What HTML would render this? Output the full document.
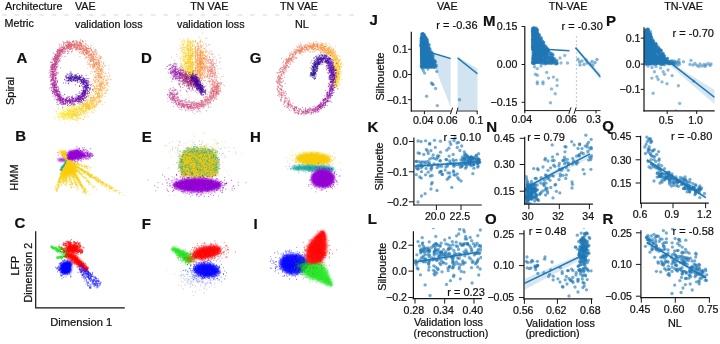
<!DOCTYPE html>
<html><head><meta charset="utf-8"><style>
html,body{margin:0;padding:0;background:#fff;width:720px;height:344px;overflow:hidden}
svg{display:block;will-change:transform}
text{font-family:"Liberation Sans",sans-serif;fill:#111;stroke:#111;stroke-width:0.22px}
</style></head><body>
<svg width="720" height="344" viewBox="0 0 720 344">
<rect width="720" height="344" fill="#fff"/>
<line x1="2.2" y1="15" x2="354" y2="15" stroke="#cdcdcd" stroke-width="0.8" stroke-dasharray="4.5 7.9"/>
<text x="5.0" y="9.8" font-size="10.75">Architecture</text>
<text x="4.5" y="27.3" font-size="10.75">Metric</text>
<text x="75.0" y="10.0" font-size="10.75">VAE</text>
<text x="75.0" y="27.8" font-size="10.75">validation loss</text>
<text x="190.3" y="10.0" font-size="10.75">TN VAE</text>
<text x="177.0" y="27.8" font-size="10.75">validation loss</text>
<text x="280.0" y="10.0" font-size="10.75">TN VAE</text>
<text x="294.9" y="27.8" font-size="10.75">NL</text>
<text x="16.4" y="63.1" font-size="15" font-weight="bold">A</text>
<text x="15.2" y="141.4" font-size="15" font-weight="bold">B</text>
<text x="14.5" y="228.2" font-size="15" font-weight="bold">C</text>
<text x="140.9" y="63.1" font-size="15" font-weight="bold">D</text>
<text x="141.7" y="141.6" font-size="15" font-weight="bold">E</text>
<text x="141.7" y="229.2" font-size="15" font-weight="bold">F</text>
<text x="249.8" y="63.2" font-size="15" font-weight="bold">G</text>
<text x="250.0" y="141.6" font-size="15" font-weight="bold">H</text>
<text x="253.4" y="229.2" font-size="15" font-weight="bold">I</text>
<text x="369.6" y="25.4" font-size="15" font-weight="bold">J</text>
<text x="483.1" y="26.0" font-size="15" font-weight="bold">M</text>
<text x="606.0" y="25.5" font-size="15" font-weight="bold">P</text>
<text x="367.6" y="131.7" font-size="15" font-weight="bold">K</text>
<text x="486.3" y="131.9" font-size="15" font-weight="bold">N</text>
<text x="602.2" y="130.6" font-size="15" font-weight="bold">Q</text>
<text x="367.7" y="224.1" font-size="15" font-weight="bold">L</text>
<text x="485.1" y="224.1" font-size="15" font-weight="bold">O</text>
<text x="602.5" y="224.3" font-size="15" font-weight="bold">R</text>
<text x="14.2" y="91.0" font-size="11.0" text-anchor="middle" transform="rotate(-90 14.2 91.0)">Spiral</text>
<text x="17.8" y="177.5" font-size="11.0" text-anchor="middle" transform="rotate(-90 17.8 177.5)">HMM</text>
<text x="19.2" y="265.6" font-size="10.75" text-anchor="middle" transform="rotate(-90 19.2 265.6)">LFP</text>
<text x="32.0" y="272.7" font-size="10.75" text-anchor="middle" transform="rotate(-90 32.0 272.7)">Dimension 2</text>
<path d="M35.7 231.2V307.9H124.8" fill="none" stroke="#111" stroke-width="1.2"/>
<text x="50.3" y="326.3" font-size="11.15">Dimension 1</text>
<text x="437.0" y="9.8" font-size="10.75">VAE</text>
<text x="548.7" y="10.0" font-size="10.75">TN-VAE</text>
<text x="664.2" y="10.0" font-size="10.75">TN-VAE</text>
<clipPath id="c1"><rect x="411.8" y="28" width="39.0" height="82.5"/></clipPath>
<path clip-path="url(#c1)" d="M421.0 49.6L450.8 57.4L450.8 107.5L432.0 60.0L421.0 53.0Z" fill="#1f77b4" fill-opacity="0.2"/>
<g clip-path="url(#c1)">
<path transform="scale(.1)" d="M4236 356h0m-16-16h0m-1-1h0m4 63h0m5-3h0m1-14h0m1-2h0m4 27h0m11-30h0m15 36h0m5-17h0m9 57h0m-4-17h0m-1 7h0m-4 26h0m-1-37h0m-3-1h0m-5-3h0m-2 41h0m-3-9h0m-8-16h0m-6 4h0m-3-15h0m-1 25h0m-2-21h0m-5 20h0m-1-35h0m-1 41h0m-3 0h0m-7 12h0m9 57h0m4-48h0m1 51h0m9-19h0m2-31h0m6 40h0m3-16h0m1-28h0m0 13h0m8 8h0m4 6h0m3-9h0m7 13h0m0-26h0m2-7h0m4 26h0m1-13h0m8 40h0m4-15h0m11 18h0m7-8h0m13 38h0m-11 24h0m-14 7h0m-2-24h0m-5 24h0m-4 0h0m-5-51h0m-1-5h0m-2 46h0m-9 8h0m-5-25h0m-7-5h0m-7 27h0m-2-32h0m-4-12h0m-6 41h0m-3 1h0m-3-48h0m-1 17h0m-14 13h0m6 66h0m0-36h0m5 51h0m5-36h0m1 39h0m2-31h0m2 13h0m8-1h0m3-23h0m5 38h0m9-27h0m1 4h0m7-16h0m2 11h0m4 20h0m2-37h0m1 27h0m13 21h0m9-23h0m11-9h0m0 31h0m4-20h0m16 23h0m6-19h0m6 20h0m-2 15h0m-32-9h0m-42-5h0m-15 11h0" stroke="#1f77b4" stroke-width="32.0" stroke-linecap="round" stroke-opacity="0.62" fill="none"/>
<path transform="scale(.1)" d="M4231 338h0m-10 20h0m4 27h0m2-5h0m1-13h0m1 51h0m5-34h0m2 12h0m4 6h0m0-25h0m4-15h0m5 53h0m5-13h0m22 66h0m-7-12h0m-2 5h0m-5-28h0m-13 29h0m-10-13h0m-8-4h0m-14 28h0m-1-32h0m0-3h0m-4-12h0m3 86h0m1 6h0m4 15h0m16-17h0m9 16h0m0-45h0m3 29h0m2 5h0m6-2h0m8-24h0m18 14h0m5 7h0m8 11h0m12 5h0m1-2h0m5 1h0m-3 56h0m0-35h0m-13 12h0m-7 19h0m-3-39h0m-27 30h0m-8-33h0m-7 20h0m-19 3h0m-6 4h0m-3-12h0m-1-11h0m-1 84h0m7 10h0m2-17h0m1-4h0m3 9h0m21-18h0m3 1h0m16 39h0m4-6h0m17-11h0m10 8h0m3-19h0m0 27h0m4-28h0m4-20h0m1 29h0m3 10h0m12 8h0m3 10h0m4-24h0m10-22h0m8 13h0m-68 38h0m-17 2h0m-2 3h0m-46 6h0m-1-12h0" stroke="#1f77b4" stroke-width="32.0" stroke-linecap="round" stroke-opacity="0.62" fill="none"/>
<path transform="scale(.1)" d="M4232 355h0m0-6h0m-4 26h0m1 37h0m2-34h0m1 20h0m4 17h0m1-35h0m1 38h0m6-4h0m3-46h0m2 37h0m1-15h0m12-15h0m28 101h0m-2-25h0m-11-12h0m-16 6h0m-3-13h0m-1 16h0m-10-7h0m-8 7h0m-4 16h0m-3-25h0m-2 31h0m-10-16h0m-10-16h0m6 75h0m7-24h0m1 19h0m1-26h0m8 56h0m2 0h0m2 0h0m0-54h0m4 47h0m4 7h0m13-26h0m2-11h0m10-16h0m5 23h0m5-16h0m7 43h0m2-4h0m0-22h0m2 14h0m0-2h0m4-14h0m11 22h0m4-13h0m4 78h0m-5-35h0m-2-19h0m-4 19h0m-7-19h0m0 13h0m-1 15h0m-1-12h0m-17 41h0m-1-4h0m-14-4h0m-13-22h0m-2-23h0m-18 19h0m-3 32h0m-11-12h0m-2-23h0m0-16h0m5 77h0m6 35h0m3-5h0m0-44h0m2 41h0m11-24h0m10-3h0m1 9h0m4-15h0m14-5h0m12 18h0m17 1h0m3 17h0m8 4h0m9-28h0m2-6h0m9 20h0m5 19h0m1-32h0m6 50h0m-10-4h0m-5-6h0m-13 9h0m-3-9h0m-8 10h0m-7-10h0m-4 4h0m-9 7h0m-8-12h0m-44 3h0m-10 0h0m-5-4h0" stroke="#1f77b4" stroke-width="32.0" stroke-linecap="round" stroke-opacity="0.62" fill="none"/>
<path transform="scale(.1)" d="M4234 354h0m-6-15h0m-12 39h0m6-12h0m3 23h0m1-20h0m2 6h0m1-9h0m4 50h0m6-23h0m17-13h0m35 67h0m-25 8h0m-15-30h0m-6 4h0m-6-9h0m-4 44h0m-4-24h0m-10 9h0m-2 1h0m0 1h0m-4 28h0m-1 5h0m1 5h0m0 29h0m2 10h0m0-40h0m4 39h0m7 1h0m1 8h0m7-39h0m3-10h0m1 13h0m8 33h0m2-27h0m2 14h0m1-6h0m0 1h0m2-16h0m1 30h0m1-14h0m9-29h0m1 52h0m7-8h0m1-1h0m4-23h0m2 27h0m1-14h0m5 9h0m12-29h0m0 36h0m10-4h0m21 45h0m-2 12h0m-9 5h0m0-23h0m-12 3h0m-13-11h0m-5 6h0m-5-5h0m-18 24h0m-3-15h0m-2 19h0m-2-49h0m0 31h0m-7 16h0m-4-7h0m-6 0h0m-9 17h0m-3-9h0m-10-43h0m-1 6h0m-2 66h0m1-6h0m2 25h0m9-12h0m2-22h0m6 41h0m0-16h0m8-29h0m11 53h0m3-43h0m3-8h0m6 35h0m2-34h0m11 52h0m1 4h0m12-23h0m12-34h0m7 28h0m5 19h0m46 4h0m-67 8h0m-16 3h0m-3 4h0m-31-1h0m-8-6h0m-17 4h0" stroke="#1f77b4" stroke-width="32.0" stroke-linecap="round" stroke-opacity="0.62" fill="none"/>
<path transform="scale(.1)" d="M4230 336h0m-5 6h0m-1 3h0m-10 34h0m0 27h0m7 2h0m1-15h0m1 1h0m0 16h0m4-35h0m4-11h0m5 13h0m1 40h0m2-54h0m0 41h0m6-43h0m6 51h0m4-35h0m21 44h0m-20 15h0m-1 40h0m-4-22h0m-9-3h0m-2-20h0m-2-9h0m-4 11h0m-1 22h0m-5-31h0m-4 46h0m-6-35h0m-1 28h0m-3-12h0m-1-3h0m0-5h0m4 44h0m1 21h0m1 10h0m9-33h0m0 23h0m10 25h0m2-7h0m1-46h0m1 25h0m3 4h0m5 3h0m4-4h0m4-27h0m7-1h0m0 38h0m0-22h0m6 40h0m8 1h0m8-28h0m2 10h0m1-26h0m38 55h0m-4 50h0m-1-11h0m-22-18h0m-6-23h0m-5-3h0m-2 51h0m-4-33h0m0-19h0m-19 37h0m-2-12h0m0 4h0m-1-20h0m-9-7h0m-11 55h0m-1-7h0m-4-3h0m-2-21h0m-5 27h0m-4-55h0m-11 12h0m7 67h0m2 12h0m0 8h0m3-38h0m10 38h0m1 10h0m5-10h0m4-15h0m9-4h0m3 6h0m2 19h0m5-26h0m4 21h0m5-5h0m1 2h0m3-31h0m8 11h0m23 39h0m0-20h0m3-27h0m7 42h0m1-29h0m5-5h0m28-4h0m-93 59h0m-48-8h0" stroke="#1f77b4" stroke-width="32.0" stroke-linecap="round" stroke-opacity="0.62" fill="none"/>
<path transform="scale(.1)" d="M4219 340h0m-7 47h0m3 27h0m3-16h0m2-20h0m2 17h0m6 6h0m2 7h0m3-22h0m1-24h0m1 38h0m1-27h0m2 20h0m3 6h0m1-22h0m3 8h0m0 26h0m2-46h0m1 36h0m14-3h0m20 69h0m-4 2h0m-9-46h0m-9 17h0m-5-14h0m-7-2h0m-1 9h0m-3-9h0m-1 40h0m-5 3h0m-2-33h0m-7 2h0m-1 28h0m-1-14h0m-2-17h0m-4 21h0m-3-30h0m-3 22h0m-1 20h0m-8-8h0m8 45h0m0 10h0m2 14h0m4-40h0m3 42h0m1-33h0m0-15h0m6 54h0m6-13h0m3-5h0m3 5h0m2-3h0m10-22h0m4-15h0m4 27h0m4-20h0m6-6h0m25 39h0m3-36h0m6 43h0m4-4h0m10 1h0m-5 17h0m-6 9h0m-4 30h0m-7-36h0m-6 30h0m-7-9h0m-5 16h0m-1-36h0m-1-6h0m-3 22h0m-3 36h0m0-51h0m-23 0h0m-5 7h0m-3-8h0m-2-3h0m-1 18h0m-3-16h0m-5 34h0m-1-20h0m-1 23h0m0-39h0m-6 14h0m-2 7h0m-2 54h0m1-10h0m6 15h0m1 27h0m17-1h0m1-7h0m3-14h0m5-9h0m0 19h0m3 11h0m13-3h0m19 7h0m21-30h0m7-16h0m1 26h0m22 7h0m6-32h0m-52 52h0m-6-1h0m-27 1h0m-4 9h0m-7 1h0m-12-1h0m-3-3h0m-1-4h0m-2 8h0m-11-10h0" stroke="#1f77b4" stroke-width="32.0" stroke-linecap="round" stroke-opacity="0.62" fill="none"/>
<path transform="scale(.1)" d="M4245 348h0m-7 7h0m-1-5h0m-9-5h0m-17 70h0m4-37h0m3 28h0m1-5h0m9 15h0m0-44h0m1 4h0m2 29h0m15 12h0m25-13h0m2-8h0m-6 39h0m-14-12h0m-1 6h0m-6 43h0m-2-28h0m-2 31h0m0-37h0m-1 30h0m-5 6h0m-1-10h0m0-14h0m-4-27h0m0 55h0m-9-44h0m-6-10h0m-3 103h0m2-2h0m1-25h0m6 18h0m2 11h0m1-11h0m1-13h0m0-18h0m6 0h0m3 20h0m2 16h0m0-38h0m2-3h0m1 34h0m6-8h0m1 5h0m5-14h0m1 13h0m2 21h0m11-20h0m6 3h0m4-32h0m3 7h0m7 41h0m12 4h0m33 19h0m-2 32h0m-42-38h0m-13 1h0m-11-6h0m-6 43h0m-2-15h0m-10-29h0m-5 43h0m0-39h0m-4 0h0m-6-4h0m-3 17h0m-3 7h0m-3 27h0m-5-21h0m0 17h0m0 33h0m11 21h0m5-42h0m9 5h0m0 40h0m2-34h0m6 1h0m2 45h0m9-19h0m6-21h0m14-8h0m6 47h0m1-41h0m1-2h0m11-1h0m2 8h0m0 37h0m3-52h0m15 30h0m6 15h0m12-50h0m-14 59h0m-31 4h0m-21-4h0" stroke="#1f77b4" stroke-width="32.0" stroke-linecap="round" stroke-opacity="0.62" fill="none"/>
<path transform="scale(.1)" d="M4230 355h0m-9 3h0m-9 30h0m0 17h0m3 8h0m1-46h0m4 51h0m1-10h0m4-4h0m2-15h0m4 13h0m3 3h0m3 0h0m4-28h0m1 25h0m1-32h0m3 6h0m1 28h0m3 15h0m8-14h0m4-10h0m3 22h0m6-13h0m12 74h0m-12-56h0m-6 19h0m-4-15h0m-9 25h0m-1 18h0m-5-22h0m-1 31h0m-1-3h0m-6-50h0m-7 13h0m-3-17h0m-1 45h0m-8-5h0m-4-21h0m-1 32h0m-2-17h0m2 53h0m1 17h0m3-3h0m11-3h0m6-14h0m4 22h0m10-22h0m1-8h0m2 26h0m6-31h0m5 30h0m6-41h0m9 55h0m28 26h0m-13 29h0m-4 3h0m-9-51h0m-4 30h0m-6-20h0m-3 3h0m-1 15h0m-12-21h0m-3 47h0m-1-16h0m-2-27h0m-6 26h0m-1-29h0m-1-1h0m-1 38h0m-17-14h0m-3-19h0m0-1h0m-1-6h0m-1 44h0m-1-1h0m-2-7h0m-2 69h0m2-48h0m9 23h0m3 6h0m7-8h0m2 25h0m5-14h0m1-24h0m5-9h0m8 12h0m1-11h0m5 21h0m1-23h0m7 11h0m2 13h0m8 27h0m1-19h0m4-24h0m0 46h0m3-52h0m5 36h0m0-27h0m1 37h0m8-8h0m4-7h0m4 16h0m22-51h0m18 32h0m1 24h0m1-34h0m10 47h0m-7-4h0m-45 1h0m-34-6h0m-6 0h0m-43 8h0" stroke="#1f77b4" stroke-width="32.0" stroke-linecap="round" stroke-opacity="0.62" fill="none"/>
</g>
<g clip-path="url(#c1)" fill="#1f77b4" fill-opacity="0.55"><circle cx="423.4" cy="70.7" r="1.7"/><circle cx="424.6" cy="73.1" r="1.7"/><circle cx="432" cy="67" r="1.7"/><circle cx="435.6" cy="65.8" r="1.7"/><circle cx="436.8" cy="71.4" r="1.7"/><circle cx="431.5" cy="82.9" r="1.7"/><circle cx="433.2" cy="84.6" r="1.7"/><circle cx="432.2" cy="84" r="1.7"/><circle cx="435.6" cy="88.5" r="1.7"/><circle cx="426.6" cy="96.3" r="1.7"/><circle cx="437.3" cy="105.6" r="1.7"/><circle cx="422.5" cy="68.5" r="1.7"/><circle cx="428" cy="69" r="1.7"/></g>
<line clip-path="url(#c1)" x1="421" y1="49.5" x2="450.8" y2="58.6" stroke="#1f77b4" stroke-width="1.5"/>
<clipPath id="c2"><rect x="457.4" y="28" width="20.30000000000001" height="82.5"/></clipPath>
<path clip-path="url(#c2)" d="M457.4 56.2L477.7 69.0L477.7 111.0L457.4 111.0Z" fill="#1f77b4" fill-opacity="0.2"/>
<g clip-path="url(#c2)" fill="#1f77b4" fill-opacity="0.55"><circle cx="459.5" cy="99.8" r="1.7"/></g>
<line clip-path="url(#c2)" x1="457.4" y1="57.8" x2="477.7" y2="74.0" stroke="#1f77b4" stroke-width="1.5"/>
<clipPath id="c3"><rect x="525.3" y="22" width="44.5" height="88.1"/></clipPath>
<g clip-path="url(#c3)">
<path transform="scale(.1)" d="M5331 281h0m8 5h0m56 68h0m-2-8h0m-14-1h0m-12-21h0m-13 34h0m-1-17h0m-9-16h0m-2-13h0m-1 20h0m-5 5h0m-3-6h0m-4-27h0m-2 37h0m-1-3h0m4 46h0m7-2h0m10 24h0m5-28h0m5 1h0m1-11h0m0 6h0m11 37h0m4-3h0m1-42h0m2 17h0m13-5h0m22-2h0m45 83h0m-6 16h0m-20-35h0m-15-8h0m-23 13h0m-1 15h0m-7-6h0m-7 18h0m-1-23h0m-8 21h0m-2-20h0m-6 11h0m-12-30h0m-7 44h0m-13-30h0m-3-11h0m-1-7h0m2 56h0m33 13h0m5 18h0m2-31h0m6 35h0m5-18h0m7-13h0m0 15h0m4 7h0m7-26h0m4 54h0m1-42h0m18 21h0m5 23h0m7-27h0m5 12h0m7 13h0m11-13h0m20 7h0m34 21h0m-40 31h0m-26 14h0m-23-1h0m-14-27h0m-2-3h0m-1 2h0m-1 31h0m-8-28h0m0 28h0m-9-28h0m-2 8h0m0-38h0m-1 13h0m-3 2h0m-3-16h0m-2 17h0m-6 37h0m-7-54h0m-9 4h0m-1 23h0m-14 17h0m0-34h0m-3 25h0m-1 18h0m3 23h0m40 7h0m14-8h0m9-10h0m65 23h0m61-11h0m7-4h0m31 0h0" stroke="#1f77b4" stroke-width="32.0" stroke-linecap="round" stroke-opacity="0.6" fill="none"/>
<path transform="scale(.1)" d="M5326 285h0m38-3h0m10 53h0m-4 0h0m-2 11h0m-2-45h0m-4 26h0m-3-2h0m-2-12h0m-1 37h0m-1-45h0m-3-5h0m0 4h0m-9 40h0m-6-32h0m-3 3h0m-3 12h0m-2-15h0m-4 96h0m4-46h0m8 19h0m0-9h0m13-6h0m1 51h0m4-50h0m0-5h0m9 49h0m1-50h0m7 32h0m7-7h0m4 8h0m12-4h0m7 24h0m33 43h0m-21 6h0m-3 16h0m-27-37h0m0 24h0m-1-26h0m-19 14h0m-2-33h0m-2 44h0m-5-21h0m-4-16h0m-23 41h0m-2-17h0m3 36h0m4 41h0m8-34h0m6-9h0m4 27h0m7 12h0m8-17h0m6-27h0m9 29h0m2-15h0m4 20h0m0-33h0m6 16h0m24-13h0m3-2h0m2 19h0m1-2h0m7 30h0m13-31h0m1 0h0m9 12h0m3-14h0m13 0h0m7 39h0m5-27h0m55 86h0m-10-3h0m-43-16h0m-18 0h0m-11 17h0m-7-12h0m-25-40h0m-11 25h0m-3 6h0m0 0h0m-9-10h0m-2 19h0m-7-13h0m-7-17h0m-7 20h0m-10-26h0m-5-3h0m0 19h0m-13-13h0m-6-4h0m0 51h0m-8-32h0m14 66h0m37-5h0m19-14h0m17-4h0m29-4h0m0-1h0m11 32h0m2-11h0m10 7h0m13 5h0m12-28h0m4 11h0m2-4h0m2-10h0" stroke="#1f77b4" stroke-width="32.0" stroke-linecap="round" stroke-opacity="0.6" fill="none"/>
<path transform="scale(.1)" d="M5329 298h0m15-5h0m0-2h0m31 9h0m-6 54h0m-1-47h0m-8 25h0m-1 2h0m-9-25h0m-2 40h0m-13-11h0m-1-28h0m-1 18h0m-2 27h0m-1-15h0m-1-28h0m0 1h0m0-12h0m-1 50h0m1 65h0m5-20h0m10 4h0m1 9h0m4-16h0m2-23h0m3 32h0m0-11h0m2-26h0m2-1h0m10 20h0m5-17h0m0 11h0m3 41h0m0-35h0m5-8h0m31 5h0m2 12h0m14 53h0m-6 2h0m-24 21h0m-2-26h0m-4-21h0m-1 23h0m-10-5h0m-6-8h0m-1 18h0m-3 27h0m-3-54h0m-5 55h0m-5-38h0m-3-3h0m-5 3h0m0-18h0m-3 32h0m-8-23h0m-6 33h0m-1 39h0m5-2h0m15 7h0m3 15h0m5-39h0m0 48h0m5-1h0m4-4h0m6-26h0m18 0h0m11-4h0m1-6h0m5-3h0m12 25h0m18-16h0m4-7h0m1 43h0m11-6h0m25-20h0m43 91h0m-20-18h0m-4-30h0m-9-2h0m-21 25h0m-6-20h0m-4-1h0m-45-7h0m0 40h0m-1-16h0m-3-9h0m-23-20h0m-3 51h0m-36-26h0m-21 57h0m45-8h0m5-9h0m5 12h0m23 12h0m11-20h0m44 8h0m25-1h0m2-5h0m4-9h0m11 3h0m2 14h0m23 0h0m6 6h0m10 8h0m28 0h0" stroke="#1f77b4" stroke-width="32.0" stroke-linecap="round" stroke-opacity="0.6" fill="none"/>
<path transform="scale(.1)" d="M5340 277h0m35 39h0m-8-15h0m-12 28h0m-4 8h0m-1 8h0m-2-14h0m-7 28h0m-1-8h0m-5-14h0m-7 8h0m-4 47h0m6 7h0m1-29h0m8 44h0m1-19h0m2-19h0m3 0h0m7 32h0m6-27h0m1 34h0m1-36h0m24 12h0m63 85h0m-5-21h0m-1 12h0m-5-41h0m-14 24h0m-5 27h0m-35-3h0m-13-29h0m-2 28h0m-4-50h0m-1 32h0m-1 6h0m-5-15h0m0 22h0m-13 5h0m-11-46h0m0-3h0m-3 63h0m4 14h0m2-19h0m3 4h0m3 14h0m6 26h0m2-27h0m0 21h0m5-10h0m2 16h0m1-38h0m2 49h0m17-13h0m8-19h0m1 30h0m6-37h0m0 41h0m4-48h0m5 45h0m2-54h0m0 43h0m21-6h0m16 16h0m18-54h0m11 32h0m7-20h0m50 48h0m-23 38h0m-37-20h0m-16 3h0m-8-9h0m-10 19h0m-10-6h0m-27-14h0m-4 11h0m0-14h0m-1 13h0m-9 8h0m-5 13h0m-10-20h0m-6-13h0m-10 23h0m-4-26h0m-4 46h0m-5-48h0m-6 20h0m-4 65h0m2 1h0m5 2h0m11-27h0m18 19h0m34-7h0m3-6h0m49 12h0m0-14h0m64 21h0m2-23h0m14-4h0m12 26h0m25 3h0" stroke="#1f77b4" stroke-width="32.0" stroke-linecap="round" stroke-opacity="0.6" fill="none"/>
<path transform="scale(.1)" d="M5326 294h0m0-7h0m7-7h0m13 13h0m23 32h0m-16-15h0m-11 40h0m-1 4h0m-7-2h0m-1 3h0m-2-35h0m-2 5h0m-4-5h0m5 80h0m3-18h0m12 29h0m2 8h0m4-37h0m3 0h0m8 16h0m6-35h0m2 20h0m2-12h0m1 38h0m10-45h0m1 54h0m3-5h0m12-14h0m9 7h0m9 4h0m6 2h0m-18 42h0m0 4h0m0-12h0m0 18h0m-7 11h0m-5-52h0m-16 17h0m-6-20h0m-10 58h0m-4-1h0m-2-23h0m-8-10h0m-1-23h0m-1 37h0m-3-37h0m-4 34h0m-3-28h0m-5 22h0m-3 17h0m17 68h0m2-27h0m1-8h0m11 18h0m8-37h0m2 18h0m1-10h0m15 18h0m1 2h0m1 16h0m8-34h0m3 14h0m15-24h0m3 42h0m4 8h0m7-3h0m4-42h0m5 38h0m16-2h0m15-16h0m7-21h0m5 7h0m8 14h0m36 47h0m-2 20h0m-11 15h0m-71-45h0m-11 4h0m-22 45h0m-11-36h0m-2 0h0m-12 36h0m0-10h0m-8-34h0m-8 40h0m-5-1h0m-2-38h0m-15 3h0m-16 55h0m5 19h0m7 2h0m11 4h0m17-10h0m4-8h0m11-9h0m2 14h0m12 3h0m22 11h0m29-25h0m80 13h0m11-6h0m1-11h0" stroke="#1f77b4" stroke-width="32.0" stroke-linecap="round" stroke-opacity="0.6" fill="none"/>
<path transform="scale(.1)" d="M5340 291h0m13-11h0m30 68h0m-9-4h0m-6-42h0m-2 33h0m-4-16h0m-9 6h0m-1-13h0m-11 47h0m-1-28h0m0-9h0m-2 16h0m-1-21h0m-2-8h0m-4 10h0m0 37h0m-1-28h0m-1-1h0m-1-16h0m-1-8h0m1 80h0m1-21h0m16 23h0m1 14h0m16-11h0m0-7h0m4 16h0m7-17h0m2 6h0m6 3h0m4-5h0m5-3h0m1 28h0m9-28h0m66 93h0m-18-10h0m-6 4h0m-4-44h0m-2 51h0m-10-8h0m-13-43h0m-3 26h0m-7-6h0m-9-2h0m-1 2h0m-10 31h0m-12-4h0m-7-26h0m-2 3h0m-3-28h0m-1 52h0m-3-32h0m-1 15h0m-14-28h0m-1 8h0m-8 41h0m-2-46h0m-6 37h0m3 27h0m27-14h0m6 22h0m1 21h0m2-24h0m0 12h0m9-27h0m0 23h0m7 8h0m13-18h0m1-10h0m4 30h0m5-24h0m3 41h0m2-3h0m18-2h0m13-9h0m2-39h0m5 46h0m2-39h0m2 0h0m20 33h0m8 8h0m26 0h0m11 4h0m26 58h0m-8-42h0m-9 34h0m-13-6h0m-23 9h0m-2-21h0m-5 10h0m-1-29h0m-13 34h0m-5-19h0m-8 35h0m-3-42h0m0 17h0m-5 13h0m-7-6h0m-8-16h0m-5 0h0m-5-22h0m-15 52h0m-1-13h0m-25 10h0m-18 7h0m-2-16h0m-5-32h0m-11 17h0m-1-4h0m-6 0h0m-7 27h0m14 42h0m5-6h0m12-22h0m17 3h0m0 3h0m36-4h0m20 13h0m5 9h0m20-23h0m3 11h0m18 12h0m21-14h0m1 18h0m32-18h0" stroke="#1f77b4" stroke-width="32.0" stroke-linecap="round" stroke-opacity="0.6" fill="none"/>
<path transform="scale(.1)" d="M5342 299h0m3-7h0m4-4h0m22 6h0m18 58h0m0-1h0m-7 6h0m-18-33h0m-3-1h0m-1 11h0m-7 6h0m-2-14h0m-7 17h0m-2 15h0m-3-54h0m-15 12h0m-1-6h0m16 82h0m0-26h0m3 29h0m1-23h0m3-12h0m1 33h0m9-6h0m8-11h0m1 36h0m0-12h0m2-21h0m1 22h0m8-22h0m1-10h0m4-8h0m8 47h0m16-7h0m44 78h0m-11-23h0m-12 1h0m-17-3h0m-11-22h0m-9 21h0m-6-14h0m-7 36h0m-2-39h0m0 24h0m-12 13h0m-4-48h0m-3 8h0m-4 23h0m-7-16h0m-3-10h0m-5 29h0m-4 6h0m-2-43h0m-1 14h0m-1 35h0m6 31h0m7 3h0m5 6h0m7 23h0m1-33h0m10 16h0m5-20h0m10 27h0m5-21h0m7 29h0m0-26h0m2-1h0m18 21h0m19 11h0m2 1h0m1-20h0m4-7h0m22 23h0m3-29h0m4-5h0m8 17h0m2-1h0m47 61h0m-40-4h0m-24-12h0m-9 30h0m-3 4h0m-8-24h0m-15-10h0m-1 3h0m-12 5h0m-1 11h0m-2 6h0m-44-30h0m-9 23h0m-15-5h0m-3-19h0m0 29h0m-7-33h0m-2 32h0m2 33h0m2 10h0m4 9h0m5-30h0m12 13h0m17 0h0m34-9h0m6 18h0m5-12h0m14-12h0m20 10h0m37 14h0m30 7h0m15-13h0m22-13h0m13 24h0" stroke="#1f77b4" stroke-width="32.0" stroke-linecap="round" stroke-opacity="0.6" fill="none"/>
<path transform="scale(.1)" d="M5331 288h0m11 10h0m46 51h0m-14-19h0m-7-9h0m-3-21h0m-18 58h0m-8-55h0m-7 27h0m-1-17h0m-5 43h0m-1 39h0m6-18h0m5 18h0m1 11h0m1-17h0m4-5h0m4 0h0m7 20h0m4 6h0m3-2h0m1 2h0m4-32h0m9 0h0m3 7h0m21 26h0m8 8h0m9-19h0m14 17h0m7 51h0m0 8h0m-8-12h0m-12-19h0m-40 34h0m-26-3h0m-1-14h0m-2-30h0m-2 28h0m-1-32h0m-1 1h0m-4 7h0m-4 37h0m-3-22h0m-2 74h0m10-29h0m4 32h0m16-8h0m6-20h0m3 38h0m13-58h0m3 45h0m6 9h0m4-19h0m3-34h0m6 5h0m4 51h0m8-17h0m6-9h0m20-23h0m1-1h0m4 10h0m9-11h0m25 11h0m24 34h0m45 56h0m-21-9h0m-2 17h0m-20-19h0m-24 8h0m-4 13h0m-11-32h0m-11 4h0m-4-4h0m-6 34h0m-5-57h0m-29 53h0m-6-36h0m-5-6h0m-7 4h0m-4 18h0m-16 24h0m-7-44h0m-9 42h0m-4-40h0m-9 30h0m-4 6h0m-8-9h0m-2 46h0m22-14h0m6-10h0m10 0h0m29 1h0m34 1h0m4 26h0m0-16h0m13-15h0m17 29h0m7-32h0m57 12h0m36 23h0m1-16h0" stroke="#1f77b4" stroke-width="32.0" stroke-linecap="round" stroke-opacity="0.6" fill="none"/>
</g>
<g clip-path="url(#c3)" fill="#1f77b4" fill-opacity="0.5"><circle cx="553" cy="58" r="1.7"/><circle cx="560" cy="58" r="1.7"/><circle cx="564.7" cy="55.4" r="1.7"/><circle cx="567.5" cy="63" r="1.7"/><circle cx="561" cy="63" r="1.7"/><circle cx="556" cy="64" r="1.7"/><circle cx="532.6" cy="63" r="1.7"/><circle cx="534.5" cy="66.7" r="1.7"/><circle cx="537.3" cy="68.6" r="1.7"/><circle cx="535.4" cy="74.3" r="1.7"/><circle cx="537.3" cy="75.2" r="1.7"/><circle cx="546.7" cy="72.4" r="1.7"/><circle cx="548.6" cy="78.1" r="1.7"/><circle cx="553.4" cy="77.1" r="1.7"/><circle cx="557.1" cy="80" r="1.7"/><circle cx="537.3" cy="81.9" r="1.7"/><circle cx="543" cy="81.9" r="1.7"/><circle cx="537.3" cy="83.8" r="1.7"/><circle cx="543" cy="83.8" r="1.7"/><circle cx="557.1" cy="85.6" r="1.7"/><circle cx="551.5" cy="88.9" r="1.7"/><circle cx="555.2" cy="93.8" r="1.7"/><circle cx="550.5" cy="102.7" r="1.7"/><circle cx="548" cy="60" r="1.7"/><circle cx="551" cy="62" r="1.7"/><circle cx="545" cy="64" r="1.7"/><circle cx="541" cy="66" r="1.7"/><circle cx="557" cy="60.5" r="1.7"/></g>
<line clip-path="url(#c3)" x1="532" y1="48.6" x2="569.6" y2="50.7" stroke="#1f77b4" stroke-width="1.5"/>
<clipPath id="c4"><rect x="575.2" y="22" width="25.399999999999977" height="88.1"/></clipPath>
<line x1="576.4" y1="36" x2="576.4" y2="108" stroke="#9cc2e0" stroke-width="0.8" stroke-dasharray="2 2"/>
<path clip-path="url(#c4)" d="M575.2 46.5L600.6 73.5L600.6 80.0L575.2 49.0Z" fill="#1f77b4" fill-opacity="0.18"/>
<g clip-path="url(#c4)" fill="#1f77b4" fill-opacity="0.55"><circle cx="578" cy="59.2" r="1.7"/><circle cx="579.5" cy="62" r="1.7"/><circle cx="582" cy="61" r="1.7"/><circle cx="584" cy="64.5" r="1.7"/><circle cx="587" cy="63" r="1.7"/><circle cx="590" cy="64" r="1.7"/><circle cx="592" cy="61.5" r="1.7"/><circle cx="595" cy="62.5" r="1.7"/><circle cx="597" cy="59.5" r="1.7"/><circle cx="593" cy="65" r="1.7"/><circle cx="586" cy="60" r="1.7"/><circle cx="580" cy="65" r="1.7"/></g>
<line clip-path="url(#c4)" x1="575.5" y1="47.6" x2="600.6" y2="77.0" stroke="#1f77b4" stroke-width="1.5"/>
<clipPath id="c5"><rect x="644.5" y="24" width="70.20000000000005" height="86.3"/></clipPath>
<path clip-path="url(#c5)" d="M644.0 41.5L680.0 68.5L714.7 90.0L714.7 104.0L690.0 83.0L644.0 42.8Z" fill="#1f77b4" fill-opacity="0.18"/>
<g clip-path="url(#c5)">
<path transform="scale(.1)" d="M6485 297h0m21 51h0m-32-16h0m-3 26h0m-5-21h0m-6-19h0m-4 35h0m-1 3h0m-5-24h0m-1-29h0m-3 97h0m1-29h0m2 33h0m2 10h0m6-13h0m10-21h0m6-11h0m1 50h0m0-22h0m0 19h0m11-55h0m4 51h0m1-51h0m1 56h0m0-42h0m1 8h0m4-23h0m11 39h0m51 46h0m-25-4h0m-25 3h0m-7-13h0m-12-2h0m-8 47h0m-4-4h0m-1 0h0m-2-15h0m0-20h0m-1 14h0m-2-20h0m-1 44h0m-1-30h0m-7 4h0m-4 15h0m-1-20h0m-8 7h0m0 20h0m-4-51h0m-4 34h0m3 79h0m3-45h0m2 19h0m2 6h0m1 5h0m1-26h0m11 10h0m9-14h0m4 28h0m0-26h0m5 26h0m6-2h0m7-12h0m3 30h0m3-44h0m17 6h0m6 20h0m0-3h0m10 14h0m9 3h0m5-18h0m1 15h0m7-6h0m18-16h0m15-5h0m44 48h0m-5 2h0m-2 23h0m-12 22h0m-2-19h0m-2-1h0m-5-22h0m-9 14h0m-2 25h0m-25-4h0m-1-10h0m-4-12h0m-8 35h0m-10-3h0m-20-22h0m-1-30h0m-5 41h0m-10-11h0m-3 15h0m-3-14h0m-17-18h0m-5-13h0m-4 46h0m-2-31h0m-14 29h0m-3-4h0m-5 0h0m-4 12h0m4 33h0m5-2h0m1 10h0m4-18h0m0-9h0m17 28h0m15-8h0m2-3h0m3 6h0m9 4h0m18-32h0m18 35h0m2-39h0m6 7h0m1-1h0m7 31h0m6-29h0m17 20h0m26-12h0m13 21h0m107-9h0" stroke="#1f77b4" stroke-width="32.0" stroke-linecap="round" stroke-opacity="0.6" fill="none"/>
<path transform="scale(.1)" d="M6484 294h0m24 62h0m0-16h0m-16-15h0m-7 21h0m-11-6h0m-2-10h0m-2-1h0m-1-8h0m-4 20h0m-4 14h0m-5-1h0m-3-17h0m-4 35h0m0 36h0m1 4h0m2-23h0m3 12h0m1 15h0m1-34h0m1 23h0m2-37h0m1 13h0m1-15h0m2 4h0m5 31h0m1 7h0m5 10h0m5-55h0m5 3h0m6 32h0m1 3h0m10-33h0m3-2h0m4 6h0m3 44h0m7 3h0m18-9h0m34 63h0m-4-9h0m-24-2h0m-5-41h0m-6 12h0m-9 46h0m-1-30h0m-8-17h0m-4 12h0m-1 23h0m-4-22h0m-6-19h0m-2 6h0m-1 23h0m-3 5h0m-2 15h0m-1-38h0m-7 36h0m-10-2h0m-6 0h0m-10-9h0m-3 13h0m-2 14h0m0-2h0m10-6h0m5 18h0m6-13h0m0 8h0m7 21h0m2 20h0m7-22h0m4-30h0m15 3h0m6 17h0m4 16h0m1-13h0m10-4h0m10 18h0m4 15h0m6-30h0m40 3h0m1-25h0m0 11h0m29 51h0m-17 47h0m-6-48h0m0 50h0m-15-25h0m-7 4h0m-8 17h0m-9 1h0m-3-12h0m-6 11h0m-6-3h0m-14 7h0m-3-18h0m-8-22h0m-6-9h0m-29 34h0m-11-20h0m-2 16h0m-2-23h0m-5 15h0m-4 2h0m-4 8h0m-1-12h0m19 42h0m1 1h0m3 3h0m5-3h0m3-5h0m6 17h0m10-1h0m5 9h0m0 4h0m39-16h0m9 2h0m8 2h0m4-20h0m4 30h0m13-24h0m52-6h0m6 12h0m6 12h0m31 7h0m2-13h0" stroke="#1f77b4" stroke-width="32.0" stroke-linecap="round" stroke-opacity="0.6" fill="none"/>
<path transform="scale(.1)" d="M6500 337h0m-1 0h0m-19-3h0m-8-15h0m-4 8h0m0 32h0m-5-55h0m-2 45h0m-12 6h0m-3-47h0m7 94h0m1 6h0m5 1h0m9 10h0m6-52h0m7 25h0m7 2h0m11-14h0m2-8h0m5-7h0m21 50h0m33 19h0m-7 1h0m-7 26h0m-10 1h0m-30-3h0m-1 11h0m-4-16h0m-6 0h0m-15 22h0m-1-46h0m-6 39h0m-1-30h0m-1-19h0m-11 9h0m-2 11h0m0-20h0m-8 5h0m-2 28h0m0 48h0m2-19h0m5 19h0m4-7h0m0 39h0m3-15h0m5-24h0m4 8h0m2-13h0m4 20h0m2-18h0m2 4h0m6 33h0m4-42h0m5 52h0m7-41h0m2 1h0m22 36h0m8-9h0m9-36h0m2 45h0m2-12h0m1 6h0m4-40h0m6 50h0m6-10h0m14-16h0m1 4h0m11 8h0m1-3h0m8-17h0m74 81h0m-30-24h0m-26 16h0m-27-6h0m-25-24h0m-13 25h0m-1-12h0m-7 16h0m-30 2h0m-13-35h0m-4-3h0m0 21h0m-1-3h0m-3-4h0m-2-6h0m0 12h0m-3-10h0m-11 36h0m-1-12h0m-11 23h0m-5-17h0m-4-29h0m-6 14h0m-4 19h0m0 29h0m4-2h0m0-6h0m19 33h0m1 2h0m4-7h0m5-24h0m2 11h0m3-9h0m20 29h0m6-5h0m24-6h0m7-13h0m39 3h0m8-14h0m18 10h0m5 2h0m12 16h0m16-33h0" stroke="#1f77b4" stroke-width="32.0" stroke-linecap="round" stroke-opacity="0.6" fill="none"/>
<path transform="scale(.1)" d="M6504 317h0m-4 34h0m-9-12h0m-10-12h0m-4 9h0m-1-19h0m-2 40h0m-1-3h0m-4-35h0m-12-11h0m-6 62h0m6 7h0m10 13h0m4-1h0m13-15h0m1-12h0m2 53h0m6 0h0m6-14h0m2-24h0m17 5h0m3 21h0m43 70h0m-10-10h0m-24-6h0m-4-8h0m-3-21h0m-2 51h0m-1-18h0m-4-16h0m-4-14h0m-5 33h0m0-2h0m-5-7h0m-11 10h0m-5-18h0m-1 18h0m-2-35h0m-8-10h0m-1 21h0m-1 31h0m-1-6h0m-3-44h0m-1 1h0m-5 54h0m-4-46h0m-13 68h0m0-13h0m13 11h0m8 21h0m4 6h0m2-12h0m8 20h0m2-29h0m2-7h0m2-10h0m3 27h0m1-25h0m13 37h0m2-45h0m0 26h0m4 24h0m8-37h0m0-8h0m5 11h0m0 25h0m10-35h0m1 11h0m1 33h0m3 3h0m3-1h0m2-20h0m0-24h0m2 47h0m2-8h0m1 12h0m1-26h0m3-12h0m7 1h0m18 1h0m25 1h0m12 13h0m7 21h0m55 46h0m-15 4h0m-32-15h0m-8-22h0m-23 30h0m-22 4h0m-7-13h0m-8-11h0m0 10h0m-9-27h0m-14 20h0m-17-13h0m-3 10h0m-5 32h0m-5-8h0m-10-31h0m0-5h0m-7 20h0m-8 11h0m-9-14h0m-10-11h0m-6-10h0m-13 79h0m1 15h0m3-9h0m1-14h0m31 7h0m1 10h0m1-15h0m5 16h0m0-8h0m2-15h0m13 0h0m5 13h0m3-14h0m5 19h0m0 5h0m3-2h0m1-3h0m4-16h0m15 4h0m34 18h0m1-31h0m48 15h0m5-17h0m2 31h0m13-26h0m46 24h0m20 4h0" stroke="#1f77b4" stroke-width="32.0" stroke-linecap="round" stroke-opacity="0.6" fill="none"/>
<path transform="scale(.1)" d="M6505 351h0m-5 5h0m-9-4h0m-27-38h0m-2 2h0m-4 31h0m-2 2h0m-4 18h0m14 21h0m1 14h0m12-21h0m3 32h0m8-23h0m12-8h0m2-9h0m3 38h0m52 34h0m-1 9h0m-17 11h0m-9-19h0m-5-18h0m-18 8h0m-4 4h0m-5 35h0m-9-28h0m-1 24h0m0-28h0m-3-19h0m-13 33h0m-2 7h0m-1-31h0m-2 18h0m-5 13h0m-1-16h0m-6 18h0m-1-17h0m-5 10h0m0-25h0m-7 97h0m3-5h0m11-23h0m3 23h0m3-24h0m14 7h0m3 0h0m0-2h0m3-24h0m1 13h0m2 20h0m0-5h0m1 23h0m0-9h0m9 3h0m2-10h0m14 18h0m7-35h0m1 23h0m8 6h0m0-43h0m12 18h0m28 3h0m5-28h0m11 26h0m2 23h0m4 8h0m21-35h0m14 36h0m26 52h0m-29-9h0m-6-23h0m-16 40h0m-2-14h0m-10-7h0m-3 4h0m-14-2h0m-11-10h0m-10-29h0m-6 8h0m-7 21h0m-2 6h0m-3-33h0m-7 13h0m-4 31h0m-4-34h0m-13 29h0m-1-12h0m-7-29h0m-1 26h0m-30 9h0m-2-28h0m-2 34h0m-12-25h0m-9 40h0m10 26h0m5-15h0m3 28h0m3 3h0m1-1h0m6-6h0m14-21h0m7 15h0m14-7h0m4-11h0m4 8h0m13-11h0m14 8h0m14 6h0m17 19h0m23-35h0m5 12h0m20-7h0m15 29h0m1-17h0m20 1h0" stroke="#1f77b4" stroke-width="32.0" stroke-linecap="round" stroke-opacity="0.6" fill="none"/>
<path transform="scale(.1)" d="M6465 298h0m8-2h0m14 55h0m-1-39h0m-1 43h0m-2-30h0m-8 6h0m-10 14h0m-1-8h0m-1-5h0m-6 5h0m-2 3h0m-3-20h0m-11 31h0m6 57h0m9-41h0m7 34h0m2-28h0m4 34h0m12-34h0m1 31h0m6-2h0m5 15h0m3-3h0m1-50h0m0 45h0m13-36h0m4 22h0m15 3h0m5 21h0m49 50h0m-36-6h0m-14-3h0m-2 15h0m-1-49h0m-4 51h0m-4-20h0m-1-12h0m-15 13h0m-4 21h0m-4-30h0m-6-25h0m-16 3h0m-3 32h0m-2-30h0m-1-9h0m-3 31h0m-1-21h0m0 45h0m-2-46h0m-5 36h0m-2-45h0m-3 59h0m-1-5h0m0-21h0m-1 22h0m-2-36h0m0 13h0m-1-22h0m-2-1h0m-1 110h0m7-18h0m3 8h0m0-4h0m2-16h0m3-4h0m0 3h0m11 22h0m2 8h0m3-29h0m0 19h0m2-35h0m4 6h0m3-3h0m5 18h0m1 13h0m9 1h0m1-34h0m1-3h0m1 18h0m0 29h0m4-19h0m10-39h0m8 58h0m42-54h0m10 26h0m13-15h0m4 17h0m38 22h0m27 58h0m-18-36h0m-6 26h0m-2 7h0m-17-15h0m-24 22h0m-9-21h0m-2-3h0m-27 11h0m-1-25h0m-1 40h0m-12-52h0m-8 35h0m-1-26h0m-7-7h0m-7 50h0m-2-33h0m-6-6h0m-17 0h0m-11-11h0m-8 21h0m-2 13h0m-5-28h0m0-11h0m-6 15h0m-14 78h0m22-36h0m1 10h0m6 16h0m9 6h0m14-14h0m4 5h0m4-1h0m11-18h0m9 36h0m7-24h0m2-12h0m6 36h0m4-16h0m35-13h0m2 8h0m3 11h0m5-5h0m3-21h0m3 21h0m10 5h0m4-12h0m11 2h0m9 10h0m15-12h0m31 4h0" stroke="#1f77b4" stroke-width="32.0" stroke-linecap="round" stroke-opacity="0.6" fill="none"/>
<path transform="scale(.1)" d="M6462 295h0m13-6h0m21 63h0m-5 4h0m-19-29h0m-3-9h0m-13 0h0m-10 66h0m16-5h0m2 2h0m1-12h0m0 40h0m2-31h0m0 8h0m15 9h0m1-20h0m4 6h0m17 26h0m14-1h0m42 36h0m-8 22h0m-22-31h0m-1 38h0m-3-2h0m-5 4h0m-4-53h0m-5 33h0m-4-20h0m-6 35h0m-14-30h0m-8-9h0m-1 6h0m-8 15h0m0 8h0m-2 12h0m-4-6h0m-1-22h0m0 1h0m-3 22h0m-4-17h0m0 13h0m-5-8h0m-5 15h0m0-21h0m-2 13h0m-3 14h0m7 51h0m3-45h0m5 29h0m6 30h0m5-58h0m5 21h0m1-11h0m3 2h0m2 21h0m1-15h0m12 10h0m3-6h0m2 7h0m11-15h0m19 16h0m13-23h0m45 22h0m11-4h0m39 83h0m-2-19h0m-6 28h0m-17-6h0m-8-12h0m-2-11h0m0-17h0m-7 31h0m-2 12h0m-3-32h0m0-12h0m-2 45h0m-14-12h0m-7 13h0m-9-42h0m-3 44h0m0-13h0m-11-2h0m-14-38h0m-12 23h0m-6 5h0m-13 12h0m-5-21h0m-2-6h0m-3 25h0m-3-7h0m-2-21h0m-2 28h0m-3-43h0m-5 56h0m-7-10h0m-5 7h0m-8-34h0m-1 25h0m-6-13h0m10 66h0m2-12h0m3-12h0m15-7h0m1 27h0m16 5h0m6 1h0m2-28h0m1-2h0m20-2h0m2-3h0m11 17h0m9-4h0m1-6h0m0 2h0m15 9h0m38-1h0m4-8h0m5 9h0m3 5h0m2 0h0m12 9h0m2-9h0m1 5h0m1-13h0m7-15h0m15 12h0m13 10h0m18-11h0m15 22h0m5-25h0m11-5h0m6 14h0" stroke="#1f77b4" stroke-width="32.0" stroke-linecap="round" stroke-opacity="0.6" fill="none"/>
<path transform="scale(.1)" d="M6474 312h0m-4-11h0m-14 41h0m-4-13h0m0-1h0m-8 60h0m3-3h0m9 27h0m5 4h0m0-1h0m4 1h0m2-39h0m7 32h0m12-29h0m0 24h0m1-13h0m3 11h0m5-12h0m20-19h0m1 31h0m44 59h0m-19-4h0m-5 3h0m-6-30h0m-6 3h0m-13 28h0m-1 14h0m-1-1h0m-5-22h0m-1 10h0m-5-23h0m-3-5h0m-17 37h0m-7-39h0m-1 24h0m-9-32h0m-2 10h0m-6 6h0m-1 16h0m-4 12h0m-5-6h0m0 60h0m3-12h0m5-4h0m2-7h0m6 37h0m3-11h0m2-30h0m1-14h0m3 48h0m5-32h0m22 24h0m0-23h0m5 11h0m1-18h0m3 28h0m4 9h0m6-12h0m2 10h0m2 5h0m1-7h0m1 9h0m3 2h0m0-17h0m6-19h0m3 0h0m2 8h0m11 8h0m10-27h0m6 19h0m18 14h0m2-17h0m16-13h0m13 44h0m0-31h0m32 61h0m-18-25h0m-21 11h0m-2 15h0m-22 14h0m-9 11h0m-3-7h0m-6-8h0m-10-5h0m-6-18h0m-5 40h0m-12 5h0m-2-3h0m-6-10h0m-1-28h0m-6 23h0m-9-13h0m-13-19h0m-10 8h0m-10 22h0m-1 4h0m-2-6h0m-1-16h0m-3-13h0m-2-5h0m-3 8h0m-1 10h0m-2-20h0m-1 57h0m-2-55h0m-5 39h0m-1-5h0m-2 18h0m7 25h0m21 13h0m1-30h0m2 27h0m6-10h0m35 13h0m9-31h0m6 2h0m13 36h0m24-28h0m16 13h0m19 10h0m16 0h0m27-18h0" stroke="#1f77b4" stroke-width="32.0" stroke-linecap="round" stroke-opacity="0.6" fill="none"/>
</g>
<g clip-path="url(#c5)">
<path transform="scale(.1)" d="M6790 596h0m-182 18h0m4-4h0m6 36h0m9-28h0m3-10h0m9 8h0m2 23h0m3-9h0m13-7h0m24 11h0m7-15h0m21 9h0m2-1h0m12-3h0m6-15h0m7 27h0m3-9h0m2-3h0m5-14h0m37 1h0m12 14h0" stroke="#1f77b4" stroke-width="32.0" stroke-linecap="round" stroke-opacity="0.55" fill="none"/>
<path transform="scale(.1)" d="M6604 630h0m7-14h0m0 7h0m1 4h0m2 12h0m28-1h0m1 10h0m6-4h0m7-9h0m6-23h0m16 8h0m6 13h0m3-16h0m4 20h0m11-23h0m4 19h0m16-8h0m0-10h0m24 28h0m0-22h0m12 1h0m3-1h0m11 6h0m10 2h0m3 2h0m9 14h0" stroke="#1f77b4" stroke-width="32.0" stroke-linecap="round" stroke-opacity="0.55" fill="none"/>
<path transform="scale(.1)" d="M6627 599h0m-25 45h0m1-24h0m14-10h0m39 14h0m3 0h0m5-3h0m3-1h0m67 13h0m7 6h0m19-10h0m12 23h0" stroke="#1f77b4" stroke-width="32.0" stroke-linecap="round" stroke-opacity="0.55" fill="none"/>
</g>
<g clip-path="url(#c5)" fill="#1f77b4" fill-opacity="0.5"><circle cx="683.5" cy="61.7" r="1.7"/><circle cx="691" cy="60.4" r="1.7"/><circle cx="690" cy="64.5" r="1.7"/><circle cx="693" cy="65" r="1.7"/><circle cx="695" cy="63.5" r="1.7"/><circle cx="697" cy="65.5" r="1.7"/><circle cx="700" cy="64" r="1.7"/><circle cx="702" cy="66" r="1.7"/><circle cx="704" cy="64.5" r="1.7"/><circle cx="706" cy="65" r="1.7"/><circle cx="708" cy="63.5" r="1.7"/><circle cx="710" cy="65.5" r="1.7"/><circle cx="711" cy="64" r="1.7"/><circle cx="699" cy="66.5" r="1.7"/><circle cx="705" cy="66.5" r="1.7"/><circle cx="654.4" cy="71.8" r="1.7"/><circle cx="660.7" cy="68" r="1.7"/><circle cx="663.2" cy="71.8" r="1.7"/><circle cx="651.9" cy="78.1" r="1.7"/><circle cx="656.9" cy="76.8" r="1.7"/><circle cx="658.2" cy="79.4" r="1.7"/><circle cx="664.5" cy="74.3" r="1.7"/><circle cx="672.1" cy="75.6" r="1.7"/><circle cx="662" cy="81.9" r="1.7"/><circle cx="667" cy="83.7" r="1.7"/><circle cx="678.4" cy="85.7" r="1.7"/><circle cx="693.6" cy="81.1" r="1.7"/><circle cx="653.1" cy="93.3" r="1.7"/><circle cx="679.7" cy="103.4" r="1.7"/><circle cx="675.9" cy="111" r="1.7"/><circle cx="648" cy="66" r="1.7"/><circle cx="652" cy="67.5" r="1.7"/><circle cx="668" cy="70" r="1.7"/><circle cx="656" cy="66.5" r="1.7"/></g>
<line clip-path="url(#c5)" x1="644" y1="42.2" x2="714.7" y2="97.5" stroke="#1f77b4" stroke-width="1.5"/>
<clipPath id="c6"><rect x="414.4" y="133" width="67.40000000000003" height="71.5"/></clipPath>
<path clip-path="url(#c6)" d="M414.0 164.6L478.3 160.6L478.3 163.2L414.0 167.8Z" fill="#1f77b4" fill-opacity="0.18"/>
<g clip-path="url(#c6)" fill="#1f77b4" fill-opacity="0.62"><circle cx="450.9" cy="163.7" r="1.65"/><circle cx="416.4" cy="161.5" r="1.65"/><circle cx="428.6" cy="165.4" r="1.65"/><circle cx="432.1" cy="175.5" r="1.65"/><circle cx="449.8" cy="173" r="1.65"/><circle cx="430.3" cy="176" r="1.65"/><circle cx="432" cy="157.9" r="1.65"/><circle cx="416.2" cy="161.3" r="1.65"/><circle cx="439.6" cy="172.4" r="1.65"/><circle cx="425.6" cy="140.8" r="1.65"/><circle cx="449.8" cy="176.7" r="1.65"/><circle cx="448.9" cy="148.2" r="1.65"/><circle cx="446.8" cy="150.2" r="1.65"/><circle cx="440.5" cy="152.2" r="1.65"/><circle cx="449.1" cy="156.1" r="1.65"/><circle cx="427.6" cy="161.3" r="1.65"/><circle cx="431.4" cy="184.1" r="1.65"/><circle cx="422.7" cy="161.8" r="1.65"/><circle cx="437.6" cy="164.7" r="1.65"/><circle cx="440" cy="160.9" r="1.65"/><circle cx="440.4" cy="141.2" r="1.65"/><circle cx="428.3" cy="153.5" r="1.65"/><circle cx="437" cy="190.5" r="1.65"/><circle cx="418.2" cy="168.5" r="1.65"/><circle cx="442.2" cy="174.4" r="1.65"/><circle cx="434.5" cy="140.3" r="1.65"/><circle cx="421.1" cy="162.1" r="1.65"/><circle cx="429.5" cy="163" r="1.65"/><circle cx="441.6" cy="166.3" r="1.65"/><circle cx="426.1" cy="168.5" r="1.65"/><circle cx="431.7" cy="165.8" r="1.65"/><circle cx="447.6" cy="166" r="1.65"/><circle cx="428.4" cy="163.6" r="1.65"/><circle cx="426.3" cy="149.5" r="1.65"/><circle cx="431" cy="169.9" r="1.65"/><circle cx="447.4" cy="164.2" r="1.65"/><circle cx="447.9" cy="172.9" r="1.65"/><circle cx="431.2" cy="168.2" r="1.65"/><circle cx="419.6" cy="153.3" r="1.65"/><circle cx="419.7" cy="177" r="1.65"/><circle cx="450.8" cy="144.4" r="1.65"/><circle cx="423.8" cy="154.5" r="1.65"/><circle cx="445.9" cy="166.9" r="1.65"/><circle cx="425.1" cy="163.2" r="1.65"/><circle cx="429.7" cy="159.1" r="1.65"/><circle cx="433.2" cy="154.9" r="1.65"/><circle cx="441.1" cy="171.4" r="1.65"/><circle cx="437.7" cy="157.5" r="1.65"/><circle cx="422.1" cy="165.5" r="1.65"/><circle cx="416.3" cy="174.7" r="1.65"/><circle cx="425.5" cy="174.8" r="1.65"/><circle cx="447.2" cy="179.3" r="1.65"/><circle cx="434.3" cy="158.3" r="1.65"/><circle cx="420.7" cy="163.8" r="1.65"/><circle cx="432.2" cy="182.5" r="1.65"/><circle cx="421.5" cy="171.7" r="1.65"/><circle cx="418" cy="165.4" r="1.65"/><circle cx="427.5" cy="151" r="1.65"/><circle cx="450.3" cy="162.8" r="1.65"/><circle cx="437.6" cy="155.8" r="1.65"/><circle cx="442.3" cy="174.3" r="1.65"/><circle cx="421.3" cy="167.5" r="1.65"/><circle cx="429.7" cy="143.4" r="1.65"/><circle cx="418.1" cy="152.9" r="1.65"/><circle cx="446" cy="159.3" r="1.65"/><circle cx="440.8" cy="171.3" r="1.65"/><circle cx="431.7" cy="167.7" r="1.65"/><circle cx="434.1" cy="164" r="1.65"/><circle cx="430.9" cy="150.7" r="1.65"/><circle cx="422.5" cy="166.2" r="1.65"/><circle cx="421.3" cy="178.1" r="1.65"/><circle cx="417.8" cy="169.2" r="1.65"/><circle cx="445.2" cy="170.1" r="1.65"/><circle cx="418.9" cy="161.6" r="1.65"/><circle cx="425" cy="161.8" r="1.65"/><circle cx="437.1" cy="167.7" r="1.65"/><circle cx="451.8" cy="187.4" r="1.65"/><circle cx="420.6" cy="165.7" r="1.65"/><circle cx="416.4" cy="167.9" r="1.65"/><circle cx="438.9" cy="155.9" r="1.65"/><circle cx="436.3" cy="159.2" r="1.65"/><circle cx="429.6" cy="144.2" r="1.65"/><circle cx="428.2" cy="172.2" r="1.65"/><circle cx="425.1" cy="193.7" r="1.65"/><circle cx="446.7" cy="159.7" r="1.65"/><circle cx="440.3" cy="160.6" r="1.65"/><circle cx="435.3" cy="147.4" r="1.65"/><circle cx="439.1" cy="166.2" r="1.65"/><circle cx="448.6" cy="177.7" r="1.65"/><circle cx="449.7" cy="161" r="1.65"/><circle cx="467.6" cy="156.9" r="1.65"/><circle cx="473.9" cy="164.5" r="1.65"/><circle cx="460.4" cy="163.9" r="1.65"/><circle cx="464.2" cy="158.8" r="1.65"/><circle cx="462.6" cy="159.4" r="1.65"/><circle cx="454" cy="164" r="1.65"/><circle cx="477.1" cy="157.7" r="1.65"/><circle cx="465.1" cy="159.7" r="1.65"/><circle cx="462.3" cy="163" r="1.65"/><circle cx="458.5" cy="142.4" r="1.65"/><circle cx="470.4" cy="158" r="1.65"/><circle cx="466.2" cy="159.5" r="1.65"/><circle cx="470.5" cy="161.8" r="1.65"/><circle cx="468.2" cy="157" r="1.65"/><circle cx="457.3" cy="147.5" r="1.65"/><circle cx="472.4" cy="158.4" r="1.65"/><circle cx="476.5" cy="155.2" r="1.65"/><circle cx="471" cy="160.7" r="1.65"/><circle cx="479.8" cy="162.3" r="1.65"/><circle cx="475.1" cy="159" r="1.65"/><circle cx="461.1" cy="181" r="1.65"/><circle cx="453" cy="159.7" r="1.65"/><circle cx="472.8" cy="173.7" r="1.65"/><circle cx="470.4" cy="164.9" r="1.65"/><circle cx="463.9" cy="158" r="1.65"/><circle cx="468.6" cy="162.3" r="1.65"/><circle cx="471.5" cy="165.7" r="1.65"/><circle cx="453.2" cy="154.5" r="1.65"/><circle cx="471.2" cy="156.8" r="1.65"/><circle cx="468.7" cy="161.2" r="1.65"/><circle cx="477.2" cy="162.7" r="1.65"/><circle cx="453.4" cy="171" r="1.65"/><circle cx="460.9" cy="159.9" r="1.65"/><circle cx="467.8" cy="164.4" r="1.65"/><circle cx="477.2" cy="163.3" r="1.65"/><circle cx="470.2" cy="163.1" r="1.65"/><circle cx="456.2" cy="160.1" r="1.65"/><circle cx="469.7" cy="163.3" r="1.65"/><circle cx="471.4" cy="162.2" r="1.65"/><circle cx="474" cy="161.7" r="1.65"/><circle cx="469.4" cy="163" r="1.65"/><circle cx="466.5" cy="166.7" r="1.65"/><circle cx="477" cy="161.7" r="1.65"/><circle cx="477.4" cy="159.4" r="1.65"/><circle cx="465.6" cy="164.4" r="1.65"/><circle cx="459.9" cy="150.5" r="1.65"/><circle cx="475.9" cy="160" r="1.65"/><circle cx="478.7" cy="161.8" r="1.65"/><circle cx="470.2" cy="162.5" r="1.65"/><circle cx="463.3" cy="161.1" r="1.65"/><circle cx="461.8" cy="166.5" r="1.65"/><circle cx="461.7" cy="146" r="1.65"/><circle cx="471.3" cy="156.9" r="1.65"/><circle cx="453.9" cy="166.3" r="1.65"/><circle cx="469" cy="158.1" r="1.65"/><circle cx="457.5" cy="164.8" r="1.65"/><circle cx="468" cy="160.1" r="1.65"/><circle cx="465.5" cy="168.2" r="1.65"/><circle cx="465.6" cy="153.8" r="1.65"/><circle cx="473.9" cy="168.2" r="1.65"/><circle cx="478.9" cy="162.8" r="1.65"/><circle cx="465" cy="162.3" r="1.65"/><circle cx="478.4" cy="159.4" r="1.65"/><circle cx="457.7" cy="177.6" r="1.65"/><circle cx="469.2" cy="163.7" r="1.65"/><circle cx="462.3" cy="157.1" r="1.65"/><circle cx="459.5" cy="164.8" r="1.65"/><circle cx="465.7" cy="155.4" r="1.65"/><circle cx="478.6" cy="153.7" r="1.65"/><circle cx="478.7" cy="159.5" r="1.65"/><circle cx="458.8" cy="179.4" r="1.65"/><circle cx="463" cy="164.8" r="1.65"/><circle cx="465.6" cy="157.1" r="1.65"/><circle cx="464.8" cy="163.2" r="1.65"/><circle cx="471" cy="159.6" r="1.65"/><circle cx="472.3" cy="160.3" r="1.65"/><circle cx="453.8" cy="161.1" r="1.65"/><circle cx="473.9" cy="157.8" r="1.65"/><circle cx="477.7" cy="167.1" r="1.65"/><circle cx="478.9" cy="159.2" r="1.65"/><circle cx="469.4" cy="158.7" r="1.65"/><circle cx="479.1" cy="161.5" r="1.65"/><circle cx="471.1" cy="157.5" r="1.65"/><circle cx="467.9" cy="161.2" r="1.65"/><circle cx="455.2" cy="175.2" r="1.65"/><circle cx="478.2" cy="166" r="1.65"/><circle cx="457.4" cy="173.9" r="1.65"/><circle cx="455" cy="164.9" r="1.65"/><circle cx="460.4" cy="167.3" r="1.65"/><circle cx="464.3" cy="151.8" r="1.65"/><circle cx="464.3" cy="154.7" r="1.65"/><circle cx="453.5" cy="164.7" r="1.65"/><circle cx="479.1" cy="160.3" r="1.65"/><circle cx="470" cy="157.7" r="1.65"/><circle cx="472.7" cy="157.8" r="1.65"/><circle cx="472.1" cy="158.7" r="1.65"/><circle cx="474.1" cy="157.9" r="1.65"/><circle cx="477.5" cy="163.4" r="1.65"/><circle cx="461.9" cy="165.9" r="1.65"/><circle cx="465.8" cy="164" r="1.65"/><circle cx="477.8" cy="161.4" r="1.65"/><circle cx="473.4" cy="164.1" r="1.65"/><circle cx="473.7" cy="164.7" r="1.65"/><circle cx="455.3" cy="137.9" r="1.65"/><circle cx="476" cy="155.8" r="1.65"/><circle cx="471.2" cy="158.8" r="1.65"/><circle cx="453.9" cy="174.7" r="1.65"/><circle cx="453.8" cy="171.9" r="1.65"/><circle cx="464.3" cy="158.5" r="1.65"/><circle cx="467.2" cy="155.7" r="1.65"/><circle cx="418" cy="141" r="1.65"/><circle cx="421" cy="141.5" r="1.65"/><circle cx="418" cy="202" r="1.65"/><circle cx="421.5" cy="196" r="1.65"/><circle cx="431" cy="189" r="1.65"/><circle cx="450" cy="142" r="1.65"/><circle cx="454" cy="140.5" r="1.65"/><circle cx="457" cy="143" r="1.65"/></g>
<line clip-path="url(#c6)" x1="414.4" y1="166.2" x2="478.3" y2="161.8" stroke="#1f77b4" stroke-width="1.5"/>
<clipPath id="c7"><rect x="525.2" y="133" width="67.69999999999993" height="70.69999999999999"/></clipPath>
<path clip-path="url(#c7)" d="M527.0 185.0L590.0 151.0L590.0 158.0L527.0 189.5Z" fill="#1f77b4" fill-opacity="0.16"/>
<g clip-path="url(#c7)" fill="#1f77b4" fill-opacity="0.62"><circle cx="545.6" cy="195" r="1.65"/><circle cx="527.6" cy="191.1" r="1.65"/><circle cx="535.9" cy="194.5" r="1.65"/><circle cx="535" cy="190.6" r="1.65"/><circle cx="536.3" cy="190" r="1.65"/><circle cx="535.8" cy="196.7" r="1.65"/><circle cx="533.6" cy="186.4" r="1.65"/><circle cx="530.5" cy="194.6" r="1.65"/><circle cx="536.4" cy="195.5" r="1.65"/><circle cx="527.4" cy="185.3" r="1.65"/><circle cx="531.5" cy="186.9" r="1.65"/><circle cx="527.1" cy="182.7" r="1.65"/><circle cx="527.5" cy="189.7" r="1.65"/><circle cx="527.2" cy="190" r="1.65"/><circle cx="531.4" cy="181.5" r="1.65"/><circle cx="534" cy="190.3" r="1.65"/><circle cx="528.9" cy="184" r="1.65"/><circle cx="531.2" cy="185.3" r="1.65"/><circle cx="528.7" cy="199.7" r="1.65"/><circle cx="545.3" cy="189.9" r="1.65"/><circle cx="530.1" cy="192.9" r="1.65"/><circle cx="535.5" cy="191.5" r="1.65"/><circle cx="526.7" cy="179" r="1.65"/><circle cx="530.6" cy="186" r="1.65"/><circle cx="531.5" cy="192.5" r="1.65"/><circle cx="531.6" cy="193" r="1.65"/><circle cx="534.5" cy="189.6" r="1.65"/><circle cx="534.8" cy="197.1" r="1.65"/><circle cx="534.1" cy="188.2" r="1.65"/><circle cx="542.3" cy="205.8" r="1.65"/><circle cx="538.5" cy="200.6" r="1.65"/><circle cx="531.1" cy="188.9" r="1.65"/><circle cx="526.4" cy="203.8" r="1.65"/><circle cx="527.5" cy="197.3" r="1.65"/><circle cx="531.1" cy="185.4" r="1.65"/><circle cx="526.2" cy="189.1" r="1.65"/><circle cx="529.8" cy="193.9" r="1.65"/><circle cx="528.7" cy="196" r="1.65"/><circle cx="527.6" cy="198.3" r="1.65"/><circle cx="531.2" cy="198.6" r="1.65"/><circle cx="529" cy="194" r="1.65"/><circle cx="540.4" cy="193.6" r="1.65"/><circle cx="527.7" cy="197.2" r="1.65"/><circle cx="534.6" cy="192.4" r="1.65"/><circle cx="537.5" cy="199.6" r="1.65"/><circle cx="527.4" cy="196.5" r="1.65"/><circle cx="535.4" cy="186.9" r="1.65"/><circle cx="536" cy="190" r="1.65"/><circle cx="532.8" cy="196.3" r="1.65"/><circle cx="526.3" cy="189" r="1.65"/><circle cx="533" cy="189.4" r="1.65"/><circle cx="527.2" cy="187.3" r="1.65"/><circle cx="528.7" cy="191.7" r="1.65"/><circle cx="532.3" cy="191" r="1.65"/><circle cx="527.6" cy="197.6" r="1.65"/><circle cx="536" cy="197.3" r="1.65"/><circle cx="526.3" cy="190.1" r="1.65"/><circle cx="531" cy="188.5" r="1.65"/><circle cx="533.6" cy="190.9" r="1.65"/><circle cx="527.5" cy="188.5" r="1.65"/><circle cx="529" cy="186" r="1.65"/><circle cx="526.2" cy="176.7" r="1.65"/><circle cx="527" cy="199.5" r="1.65"/><circle cx="526.9" cy="184.9" r="1.65"/><circle cx="534.3" cy="184.8" r="1.65"/><circle cx="544" cy="183.5" r="1.65"/><circle cx="528.4" cy="203" r="1.65"/><circle cx="539.6" cy="194.6" r="1.65"/><circle cx="530.9" cy="194.8" r="1.65"/><circle cx="533.6" cy="197.2" r="1.65"/><circle cx="530.2" cy="194.7" r="1.65"/><circle cx="531.5" cy="196.7" r="1.65"/><circle cx="529" cy="197.7" r="1.65"/><circle cx="528.4" cy="195.9" r="1.65"/><circle cx="527.9" cy="184.5" r="1.65"/><circle cx="541.2" cy="192.3" r="1.65"/><circle cx="527.4" cy="191.1" r="1.65"/><circle cx="527.2" cy="195.7" r="1.65"/><circle cx="530.6" cy="198.2" r="1.65"/><circle cx="537.7" cy="199.4" r="1.65"/><circle cx="526.4" cy="196.6" r="1.65"/><circle cx="530.1" cy="189.6" r="1.65"/><circle cx="530.9" cy="192.7" r="1.65"/><circle cx="529.8" cy="187.9" r="1.65"/><circle cx="531.3" cy="190.4" r="1.65"/><circle cx="532.4" cy="189.3" r="1.65"/><circle cx="531.4" cy="184.1" r="1.65"/><circle cx="537.5" cy="189.8" r="1.65"/><circle cx="533.4" cy="188.3" r="1.65"/><circle cx="531.6" cy="199.3" r="1.65"/><circle cx="527.2" cy="188.7" r="1.65"/><circle cx="531.8" cy="193.6" r="1.65"/><circle cx="530.3" cy="195.8" r="1.65"/><circle cx="532.2" cy="195.4" r="1.65"/><circle cx="529.5" cy="187.1" r="1.65"/><circle cx="527" cy="190.8" r="1.65"/><circle cx="534.6" cy="201.1" r="1.65"/><circle cx="529.1" cy="186.7" r="1.65"/><circle cx="526.8" cy="197" r="1.65"/><circle cx="537.2" cy="185.1" r="1.65"/><circle cx="526.2" cy="199.7" r="1.65"/><circle cx="534.6" cy="193.4" r="1.65"/><circle cx="526" cy="197.3" r="1.65"/><circle cx="526.3" cy="193.3" r="1.65"/><circle cx="530.5" cy="187.3" r="1.65"/><circle cx="543.4" cy="184.5" r="1.65"/><circle cx="530.4" cy="193.6" r="1.65"/><circle cx="527.5" cy="186.5" r="1.65"/><circle cx="529.6" cy="194.6" r="1.65"/><circle cx="542.9" cy="190.8" r="1.65"/><circle cx="533.4" cy="190" r="1.65"/><circle cx="528" cy="199.3" r="1.65"/><circle cx="532.1" cy="189.7" r="1.65"/><circle cx="531.5" cy="193.1" r="1.65"/><circle cx="534.7" cy="188.1" r="1.65"/><circle cx="547.7" cy="192.9" r="1.65"/><circle cx="535.7" cy="189.5" r="1.65"/><circle cx="527.4" cy="191" r="1.65"/><circle cx="530.8" cy="204" r="1.65"/><circle cx="528.6" cy="188.3" r="1.65"/><circle cx="535.1" cy="184.6" r="1.65"/><circle cx="527.3" cy="188.8" r="1.65"/><circle cx="527.3" cy="181.2" r="1.65"/><circle cx="527.3" cy="188.7" r="1.65"/><circle cx="529.9" cy="186.7" r="1.65"/><circle cx="531" cy="192.5" r="1.65"/><circle cx="527.3" cy="194.3" r="1.65"/><circle cx="531" cy="196.9" r="1.65"/><circle cx="532.4" cy="198.6" r="1.65"/><circle cx="526.7" cy="190.5" r="1.65"/><circle cx="533.7" cy="188.1" r="1.65"/><circle cx="536.8" cy="194.9" r="1.65"/><circle cx="568.6" cy="164.2" r="1.65"/><circle cx="576.6" cy="164" r="1.65"/><circle cx="572.4" cy="184.3" r="1.65"/><circle cx="581.4" cy="152.6" r="1.65"/><circle cx="573.6" cy="161.2" r="1.65"/><circle cx="549.2" cy="176.6" r="1.65"/><circle cx="579.6" cy="143.9" r="1.65"/><circle cx="583.1" cy="169.6" r="1.65"/><circle cx="547" cy="178.2" r="1.65"/><circle cx="591.2" cy="139.4" r="1.65"/><circle cx="535.2" cy="178.4" r="1.65"/><circle cx="550.6" cy="167.8" r="1.65"/><circle cx="590.8" cy="159.6" r="1.65"/><circle cx="544.4" cy="180.3" r="1.65"/><circle cx="546.1" cy="183.1" r="1.65"/><circle cx="556.3" cy="191.3" r="1.65"/><circle cx="533.3" cy="184.4" r="1.65"/><circle cx="579.2" cy="156" r="1.65"/><circle cx="567.4" cy="159.3" r="1.65"/><circle cx="591.7" cy="148.5" r="1.65"/><circle cx="588.5" cy="142.3" r="1.65"/><circle cx="533.4" cy="192.4" r="1.65"/><circle cx="590.9" cy="169.3" r="1.65"/><circle cx="577.6" cy="162.3" r="1.65"/><circle cx="560" cy="169.4" r="1.65"/><circle cx="553" cy="197.9" r="1.65"/><circle cx="576.5" cy="156.1" r="1.65"/><circle cx="540.8" cy="183" r="1.65"/><circle cx="560.3" cy="176.2" r="1.65"/><circle cx="544.8" cy="159.8" r="1.65"/><circle cx="587.3" cy="147" r="1.65"/><circle cx="589.7" cy="156.9" r="1.65"/><circle cx="537.6" cy="168.6" r="1.65"/><circle cx="579.6" cy="154.4" r="1.65"/><circle cx="584.4" cy="173.8" r="1.65"/><circle cx="587.8" cy="151.5" r="1.65"/><circle cx="558.9" cy="165.9" r="1.65"/><circle cx="565" cy="146.6" r="1.65"/><circle cx="566.3" cy="174.9" r="1.65"/><circle cx="591" cy="147.3" r="1.65"/><circle cx="554.9" cy="166.4" r="1.65"/><circle cx="541.1" cy="177.6" r="1.65"/><circle cx="544.6" cy="186.1" r="1.65"/><circle cx="572" cy="182" r="1.65"/><circle cx="571.7" cy="141.7" r="1.65"/><circle cx="591.6" cy="155.7" r="1.65"/><circle cx="559.8" cy="192.9" r="1.65"/><circle cx="546.2" cy="188.7" r="1.65"/><circle cx="560.3" cy="174.2" r="1.65"/><circle cx="555.6" cy="184.5" r="1.65"/><circle cx="543" cy="167" r="1.65"/><circle cx="572.6" cy="164.1" r="1.65"/><circle cx="550" cy="180.3" r="1.65"/><circle cx="589.9" cy="149" r="1.65"/><circle cx="564.5" cy="163.7" r="1.65"/><circle cx="555" cy="185.1" r="1.65"/><circle cx="548.4" cy="178.4" r="1.65"/><circle cx="578" cy="148.5" r="1.65"/><circle cx="536.2" cy="178.3" r="1.65"/><circle cx="583.2" cy="153.5" r="1.65"/><circle cx="559" cy="179.6" r="1.65"/><circle cx="563.1" cy="175.3" r="1.65"/><circle cx="574.2" cy="144.9" r="1.65"/><circle cx="557.4" cy="154.2" r="1.65"/><circle cx="572.8" cy="158.5" r="1.65"/><circle cx="551.9" cy="175.4" r="1.65"/><circle cx="582" cy="148.6" r="1.65"/><circle cx="563" cy="160.6" r="1.65"/><circle cx="591.1" cy="157.7" r="1.65"/><circle cx="552.6" cy="157" r="1.65"/><circle cx="566.3" cy="167.5" r="1.65"/><circle cx="563.2" cy="160.5" r="1.65"/><circle cx="568.3" cy="170.3" r="1.65"/><circle cx="565" cy="151.8" r="1.65"/><circle cx="552.2" cy="144.9" r="1.65"/><circle cx="559.2" cy="169.6" r="1.65"/><circle cx="565.8" cy="178.4" r="1.65"/><circle cx="588.6" cy="160.1" r="1.65"/><circle cx="552.3" cy="160.6" r="1.65"/><circle cx="564.5" cy="157.2" r="1.65"/><circle cx="553.4" cy="176.1" r="1.65"/><circle cx="572" cy="188" r="1.65"/><circle cx="535.5" cy="198.8" r="1.65"/><circle cx="578.6" cy="155.3" r="1.65"/><circle cx="538.2" cy="169.8" r="1.65"/><circle cx="547.3" cy="191.1" r="1.65"/><circle cx="566" cy="147" r="1.65"/><circle cx="585.8" cy="135.2" r="1.65"/><circle cx="547.9" cy="161" r="1.65"/><circle cx="545.4" cy="158.5" r="1.65"/><circle cx="561.5" cy="170.2" r="1.65"/><circle cx="546.4" cy="175.7" r="1.65"/><circle cx="564.8" cy="159.4" r="1.65"/><circle cx="579.6" cy="144.7" r="1.65"/><circle cx="553.7" cy="165.2" r="1.65"/><circle cx="547" cy="188.2" r="1.65"/><circle cx="545.5" cy="175" r="1.65"/><circle cx="562.4" cy="168.4" r="1.65"/><circle cx="568.3" cy="162.9" r="1.65"/><circle cx="559.4" cy="163.5" r="1.65"/><circle cx="550.8" cy="187.5" r="1.65"/><circle cx="575.9" cy="162.8" r="1.65"/><circle cx="566.1" cy="162.2" r="1.65"/><circle cx="533.7" cy="168.6" r="1.65"/><circle cx="585.2" cy="146.1" r="1.65"/><circle cx="554.1" cy="160.5" r="1.65"/><circle cx="587.2" cy="144.5" r="1.65"/><circle cx="548" cy="170.4" r="1.65"/><circle cx="528.1" cy="199.6" r="1.65"/><circle cx="527.2" cy="195" r="1.65"/><circle cx="527.8" cy="196" r="1.65"/><circle cx="527.3" cy="199.6" r="1.65"/><circle cx="528" cy="190.9" r="1.65"/><circle cx="526.7" cy="192.4" r="1.65"/><circle cx="528.1" cy="188.2" r="1.65"/><circle cx="529.6" cy="196.2" r="1.65"/><circle cx="528.3" cy="195.3" r="1.65"/><circle cx="528.6" cy="196.9" r="1.65"/><circle cx="527.5" cy="196.7" r="1.65"/><circle cx="528.6" cy="193.8" r="1.65"/><circle cx="528.5" cy="199.4" r="1.65"/><circle cx="527" cy="190.1" r="1.65"/><circle cx="527.3" cy="188.1" r="1.65"/><circle cx="527" cy="202.5" r="1.65"/><circle cx="528.7" cy="192.8" r="1.65"/><circle cx="528.6" cy="199.9" r="1.65"/><circle cx="526.6" cy="196" r="1.65"/><circle cx="529.5" cy="189.9" r="1.65"/><circle cx="527.7" cy="190.3" r="1.65"/><circle cx="526.3" cy="202.2" r="1.65"/><circle cx="526.7" cy="198.2" r="1.65"/><circle cx="527.4" cy="189.8" r="1.65"/><circle cx="527.9" cy="202.8" r="1.65"/></g>
<line clip-path="url(#c7)" x1="527" y1="187" x2="590" y2="153.8" stroke="#1f77b4" stroke-width="1.5"/>
<clipPath id="c8"><rect x="641.1" y="132" width="67.69999999999993" height="70.69999999999999"/></clipPath>
<path clip-path="url(#c8)" d="M646.8 158.0L705.9 196.0L705.9 199.5L646.8 161.5Z" fill="#1f77b4" fill-opacity="0.16"/>
<g clip-path="url(#c8)" fill="#1f77b4" fill-opacity="0.62"><circle cx="676" cy="180.6" r="1.65"/><circle cx="689.9" cy="179.5" r="1.65"/><circle cx="661.3" cy="173.9" r="1.65"/><circle cx="695.3" cy="190.8" r="1.65"/><circle cx="689" cy="187.3" r="1.65"/><circle cx="686.9" cy="186.1" r="1.65"/><circle cx="699.8" cy="186" r="1.65"/><circle cx="667.3" cy="177" r="1.65"/><circle cx="680.1" cy="181.7" r="1.65"/><circle cx="693.9" cy="187.4" r="1.65"/><circle cx="669.5" cy="180.1" r="1.65"/><circle cx="701.6" cy="188" r="1.65"/><circle cx="693.2" cy="187.2" r="1.65"/><circle cx="677.6" cy="182.3" r="1.65"/><circle cx="686.7" cy="185.4" r="1.65"/><circle cx="685" cy="184.5" r="1.65"/><circle cx="684.1" cy="179.6" r="1.65"/><circle cx="689.6" cy="191.8" r="1.65"/><circle cx="680.4" cy="177.5" r="1.65"/><circle cx="669.5" cy="177.9" r="1.65"/><circle cx="662.8" cy="177.6" r="1.65"/><circle cx="683.3" cy="183.9" r="1.65"/><circle cx="690.6" cy="189.7" r="1.65"/><circle cx="659.2" cy="176.1" r="1.65"/><circle cx="695.6" cy="192.5" r="1.65"/><circle cx="685.9" cy="180.6" r="1.65"/><circle cx="664.4" cy="176.7" r="1.65"/><circle cx="659.1" cy="173.8" r="1.65"/><circle cx="699.8" cy="197.6" r="1.65"/><circle cx="664" cy="173.9" r="1.65"/><circle cx="661.8" cy="180.5" r="1.65"/><circle cx="695.5" cy="184.7" r="1.65"/><circle cx="678.2" cy="180.6" r="1.65"/><circle cx="662" cy="182.2" r="1.65"/><circle cx="689.6" cy="188.4" r="1.65"/><circle cx="686.8" cy="188.9" r="1.65"/><circle cx="660" cy="176.6" r="1.65"/><circle cx="674.4" cy="183" r="1.65"/><circle cx="695.6" cy="193.5" r="1.65"/><circle cx="685.7" cy="179.7" r="1.65"/><circle cx="699" cy="187.7" r="1.65"/><circle cx="694.9" cy="188.6" r="1.65"/><circle cx="682.1" cy="184.1" r="1.65"/><circle cx="692.6" cy="188.6" r="1.65"/><circle cx="695.6" cy="190.2" r="1.65"/><circle cx="687.6" cy="181.8" r="1.65"/><circle cx="692.2" cy="188.3" r="1.65"/><circle cx="668.9" cy="173.9" r="1.65"/><circle cx="666.8" cy="172.7" r="1.65"/><circle cx="671.4" cy="178.7" r="1.65"/><circle cx="668.6" cy="175.5" r="1.65"/><circle cx="679" cy="181.6" r="1.65"/><circle cx="689.1" cy="185.4" r="1.65"/><circle cx="699.6" cy="188.5" r="1.65"/><circle cx="698.1" cy="191" r="1.65"/><circle cx="692.6" cy="188.3" r="1.65"/><circle cx="657.6" cy="168.2" r="1.65"/><circle cx="690" cy="182.3" r="1.65"/><circle cx="672.1" cy="178.1" r="1.65"/><circle cx="676.7" cy="185.7" r="1.65"/><circle cx="677.9" cy="180.7" r="1.65"/><circle cx="666.3" cy="178.3" r="1.65"/><circle cx="684" cy="181.3" r="1.65"/><circle cx="667.1" cy="177.6" r="1.65"/><circle cx="661.6" cy="165.6" r="1.65"/><circle cx="692.6" cy="188.4" r="1.65"/><circle cx="659.8" cy="168.4" r="1.65"/><circle cx="693" cy="188" r="1.65"/><circle cx="699.3" cy="189" r="1.65"/><circle cx="669.1" cy="179.2" r="1.65"/><circle cx="678.5" cy="186.3" r="1.65"/><circle cx="672.6" cy="176.2" r="1.65"/><circle cx="692.9" cy="183.6" r="1.65"/><circle cx="684" cy="188.4" r="1.65"/><circle cx="683.3" cy="179.5" r="1.65"/><circle cx="700.2" cy="188.8" r="1.65"/><circle cx="678.1" cy="181.5" r="1.65"/><circle cx="668.7" cy="175" r="1.65"/><circle cx="686.5" cy="184.7" r="1.65"/><circle cx="666.4" cy="173.7" r="1.65"/><circle cx="676.8" cy="179.4" r="1.65"/><circle cx="687.1" cy="191.9" r="1.65"/><circle cx="699.7" cy="190.7" r="1.65"/><circle cx="680.4" cy="181.2" r="1.65"/><circle cx="664.7" cy="179.5" r="1.65"/><circle cx="683.5" cy="188.7" r="1.65"/><circle cx="672.7" cy="181.1" r="1.65"/><circle cx="660.1" cy="175.2" r="1.65"/><circle cx="684.8" cy="188.7" r="1.65"/><circle cx="689.2" cy="189.5" r="1.65"/><circle cx="661.2" cy="176.8" r="1.65"/><circle cx="662.8" cy="173.8" r="1.65"/><circle cx="698.5" cy="189.8" r="1.65"/><circle cx="671.9" cy="182.9" r="1.65"/><circle cx="681.4" cy="184.6" r="1.65"/><circle cx="657.2" cy="177.1" r="1.65"/><circle cx="669.5" cy="184" r="1.65"/><circle cx="670.7" cy="178.7" r="1.65"/><circle cx="668.4" cy="176" r="1.65"/><circle cx="660.8" cy="174.1" r="1.65"/><circle cx="666.8" cy="177.6" r="1.65"/><circle cx="687" cy="182.8" r="1.65"/><circle cx="671.4" cy="186" r="1.65"/><circle cx="694.9" cy="194.7" r="1.65"/><circle cx="695.7" cy="191" r="1.65"/><circle cx="700.7" cy="189.3" r="1.65"/><circle cx="671.9" cy="174" r="1.65"/><circle cx="688.5" cy="189.2" r="1.65"/><circle cx="691" cy="186.5" r="1.65"/><circle cx="699.2" cy="192.9" r="1.65"/><circle cx="685.1" cy="187.3" r="1.65"/><circle cx="697.4" cy="190.1" r="1.65"/><circle cx="658.9" cy="176.7" r="1.65"/><circle cx="676" cy="176.9" r="1.65"/><circle cx="673.8" cy="178.4" r="1.65"/><circle cx="660.9" cy="170.1" r="1.65"/><circle cx="666.4" cy="178" r="1.65"/><circle cx="674.4" cy="179.1" r="1.65"/><circle cx="664.5" cy="168.6" r="1.65"/><circle cx="669.6" cy="182.2" r="1.65"/><circle cx="677.1" cy="183.1" r="1.65"/><circle cx="665.9" cy="174" r="1.65"/><circle cx="685.1" cy="177" r="1.65"/><circle cx="688.6" cy="187.8" r="1.65"/><circle cx="668.6" cy="172.2" r="1.65"/><circle cx="692.4" cy="189.1" r="1.65"/><circle cx="688.6" cy="185.4" r="1.65"/><circle cx="669.3" cy="180.6" r="1.65"/><circle cx="671.5" cy="175.9" r="1.65"/><circle cx="664.5" cy="179.9" r="1.65"/><circle cx="689.7" cy="191.8" r="1.65"/><circle cx="675.2" cy="178.9" r="1.65"/><circle cx="658.6" cy="168.3" r="1.65"/><circle cx="682.1" cy="182.5" r="1.65"/><circle cx="695.9" cy="185.6" r="1.65"/><circle cx="688.3" cy="186.8" r="1.65"/><circle cx="669.1" cy="172.4" r="1.65"/><circle cx="685.5" cy="186.2" r="1.65"/><circle cx="673.8" cy="185.3" r="1.65"/><circle cx="682.6" cy="178.2" r="1.65"/><circle cx="680.1" cy="180" r="1.65"/><circle cx="676.9" cy="180" r="1.65"/><circle cx="677.2" cy="181.6" r="1.65"/><circle cx="696.3" cy="191" r="1.65"/><circle cx="670.3" cy="175.7" r="1.65"/><circle cx="666.4" cy="177" r="1.65"/><circle cx="683.8" cy="183.3" r="1.65"/><circle cx="674" cy="182.7" r="1.65"/><circle cx="666.4" cy="177.3" r="1.65"/><circle cx="665.5" cy="177.7" r="1.65"/><circle cx="649.4" cy="138.7" r="1.65"/><circle cx="655.8" cy="161.4" r="1.65"/><circle cx="649.7" cy="149.6" r="1.65"/><circle cx="651" cy="159.6" r="1.65"/><circle cx="654" cy="159.6" r="1.65"/><circle cx="648.6" cy="150.2" r="1.65"/><circle cx="648.6" cy="139.8" r="1.65"/><circle cx="659.5" cy="170.3" r="1.65"/><circle cx="655.4" cy="166" r="1.65"/><circle cx="647.2" cy="141.7" r="1.65"/><circle cx="657.6" cy="172.6" r="1.65"/><circle cx="650.8" cy="142.7" r="1.65"/><circle cx="649.2" cy="146.7" r="1.65"/><circle cx="654.4" cy="149.6" r="1.65"/><circle cx="648.1" cy="161.4" r="1.65"/><circle cx="658.2" cy="166.2" r="1.65"/><circle cx="646.9" cy="137.2" r="1.65"/><circle cx="654.6" cy="156.7" r="1.65"/><circle cx="659.2" cy="159" r="1.65"/><circle cx="650.8" cy="140.8" r="1.65"/><circle cx="656.7" cy="154.5" r="1.65"/><circle cx="653.1" cy="150.6" r="1.65"/><circle cx="644.8" cy="147" r="1.65"/><circle cx="650.7" cy="154.6" r="1.65"/><circle cx="648.2" cy="148.8" r="1.65"/><circle cx="658.9" cy="160.4" r="1.65"/><circle cx="653" cy="156.3" r="1.65"/><circle cx="655.8" cy="167.8" r="1.65"/><circle cx="651.9" cy="164.7" r="1.65"/><circle cx="651.5" cy="155.9" r="1.65"/><circle cx="661.4" cy="175.4" r="1.65"/><circle cx="658.6" cy="151.6" r="1.65"/><circle cx="657.2" cy="173.5" r="1.65"/><circle cx="652.3" cy="151.2" r="1.65"/><circle cx="651.4" cy="163.4" r="1.65"/><circle cx="658.8" cy="164.2" r="1.65"/><circle cx="646.1" cy="144.5" r="1.65"/><circle cx="651.6" cy="141.4" r="1.65"/><circle cx="650.7" cy="138.8" r="1.65"/><circle cx="648" cy="151.9" r="1.65"/><circle cx="653.6" cy="166.8" r="1.65"/><circle cx="661.2" cy="172.6" r="1.65"/><circle cx="650.1" cy="153.5" r="1.65"/><circle cx="653.2" cy="165" r="1.65"/><circle cx="645.4" cy="153.5" r="1.65"/><circle cx="649" cy="167" r="1.65"/><circle cx="651" cy="168" r="1.65"/><circle cx="654" cy="181" r="1.65"/><circle cx="660" cy="183" r="1.65"/><circle cx="704.5" cy="193.5" r="1.65"/></g>
<line clip-path="url(#c8)" x1="646.8" y1="159.8" x2="705.9" y2="197.6" stroke="#1f77b4" stroke-width="1.5"/>
<clipPath id="c9"><rect x="413.9" y="228" width="68.10000000000002" height="70.10000000000002"/></clipPath>
<path clip-path="url(#c9)" d="M414.9 259.5L478.0 250.5L478.0 254.0L414.9 264.5Z" fill="#1f77b4" fill-opacity="0.16"/>
<g clip-path="url(#c9)" fill="#1f77b4" fill-opacity="0.62"><circle cx="456.2" cy="246" r="1.65"/><circle cx="435.4" cy="248.9" r="1.65"/><circle cx="470.8" cy="247.6" r="1.65"/><circle cx="456.3" cy="254.5" r="1.65"/><circle cx="416.4" cy="264.8" r="1.65"/><circle cx="456.5" cy="235.8" r="1.65"/><circle cx="437.2" cy="245.5" r="1.65"/><circle cx="475.3" cy="263.8" r="1.65"/><circle cx="421.2" cy="257.9" r="1.65"/><circle cx="428.5" cy="250.9" r="1.65"/><circle cx="480.9" cy="249.9" r="1.65"/><circle cx="452.7" cy="261.8" r="1.65"/><circle cx="480.2" cy="245.7" r="1.65"/><circle cx="464.9" cy="255.8" r="1.65"/><circle cx="438.8" cy="256.4" r="1.65"/><circle cx="457.6" cy="246.4" r="1.65"/><circle cx="465.3" cy="238.9" r="1.65"/><circle cx="481" cy="257.5" r="1.65"/><circle cx="467.5" cy="243.5" r="1.65"/><circle cx="423" cy="257.7" r="1.65"/><circle cx="471.7" cy="240.7" r="1.65"/><circle cx="420" cy="260.4" r="1.65"/><circle cx="477.1" cy="243.1" r="1.65"/><circle cx="446.5" cy="284.4" r="1.65"/><circle cx="439.7" cy="245.4" r="1.65"/><circle cx="461.3" cy="271.4" r="1.65"/><circle cx="422.7" cy="242.8" r="1.65"/><circle cx="463.7" cy="229.9" r="1.65"/><circle cx="443.4" cy="262.9" r="1.65"/><circle cx="433.9" cy="245" r="1.65"/><circle cx="416.9" cy="262.5" r="1.65"/><circle cx="477.5" cy="260.7" r="1.65"/><circle cx="425.5" cy="247.9" r="1.65"/><circle cx="441.4" cy="251.9" r="1.65"/><circle cx="444.7" cy="240" r="1.65"/><circle cx="456.2" cy="242.2" r="1.65"/><circle cx="463.5" cy="243.9" r="1.65"/><circle cx="425.3" cy="259.4" r="1.65"/><circle cx="434.2" cy="255.1" r="1.65"/><circle cx="474.7" cy="246.3" r="1.65"/><circle cx="452.3" cy="241.7" r="1.65"/><circle cx="459.2" cy="258.4" r="1.65"/><circle cx="471.7" cy="251.2" r="1.65"/><circle cx="440.4" cy="254.9" r="1.65"/><circle cx="429.5" cy="251.8" r="1.65"/><circle cx="433.7" cy="265.8" r="1.65"/><circle cx="477.8" cy="235.7" r="1.65"/><circle cx="480.9" cy="246.8" r="1.65"/><circle cx="461.2" cy="244.8" r="1.65"/><circle cx="457.7" cy="258" r="1.65"/><circle cx="448.8" cy="248.9" r="1.65"/><circle cx="458.5" cy="249.4" r="1.65"/><circle cx="440.2" cy="246.3" r="1.65"/><circle cx="465.3" cy="252.8" r="1.65"/><circle cx="441.2" cy="243.1" r="1.65"/><circle cx="452.9" cy="244.8" r="1.65"/><circle cx="458.9" cy="253.7" r="1.65"/><circle cx="445.3" cy="256.1" r="1.65"/><circle cx="428.7" cy="270" r="1.65"/><circle cx="425.2" cy="254.8" r="1.65"/><circle cx="469.3" cy="257.6" r="1.65"/><circle cx="477.3" cy="261.7" r="1.65"/><circle cx="472.4" cy="262.4" r="1.65"/><circle cx="448.2" cy="254.1" r="1.65"/><circle cx="476.1" cy="253.2" r="1.65"/><circle cx="423.2" cy="256.1" r="1.65"/><circle cx="460.3" cy="278.8" r="1.65"/><circle cx="429.7" cy="250.2" r="1.65"/><circle cx="451.6" cy="257.3" r="1.65"/><circle cx="428.6" cy="264.1" r="1.65"/><circle cx="441.1" cy="260.4" r="1.65"/><circle cx="429.1" cy="267" r="1.65"/><circle cx="421.2" cy="248.9" r="1.65"/><circle cx="439.3" cy="252.6" r="1.65"/><circle cx="448" cy="268.2" r="1.65"/><circle cx="428.6" cy="249" r="1.65"/><circle cx="435.7" cy="267.1" r="1.65"/><circle cx="420.5" cy="274.8" r="1.65"/><circle cx="445.1" cy="252.8" r="1.65"/><circle cx="473" cy="261.5" r="1.65"/><circle cx="423.4" cy="246.1" r="1.65"/><circle cx="436.1" cy="243.9" r="1.65"/><circle cx="420.7" cy="250.6" r="1.65"/><circle cx="458.7" cy="234" r="1.65"/><circle cx="452.5" cy="267.9" r="1.65"/><circle cx="436.7" cy="260.1" r="1.65"/><circle cx="448.2" cy="270.7" r="1.65"/><circle cx="428" cy="254.4" r="1.65"/><circle cx="435.5" cy="243.6" r="1.65"/><circle cx="475.4" cy="253.5" r="1.65"/><circle cx="445.9" cy="243.8" r="1.65"/><circle cx="443.6" cy="249.6" r="1.65"/><circle cx="465" cy="243.6" r="1.65"/><circle cx="477.9" cy="250.8" r="1.65"/><circle cx="449.4" cy="253.1" r="1.65"/><circle cx="477.7" cy="267" r="1.65"/><circle cx="460.2" cy="243.5" r="1.65"/><circle cx="420.7" cy="252.8" r="1.65"/><circle cx="429.2" cy="241.8" r="1.65"/><circle cx="473.4" cy="243.7" r="1.65"/><circle cx="452.5" cy="259.8" r="1.65"/><circle cx="450.2" cy="245.6" r="1.65"/><circle cx="429.1" cy="256.8" r="1.65"/><circle cx="459.2" cy="268.9" r="1.65"/><circle cx="437.5" cy="250.8" r="1.65"/><circle cx="434.3" cy="251.7" r="1.65"/><circle cx="429.1" cy="260.6" r="1.65"/><circle cx="434.9" cy="274.9" r="1.65"/><circle cx="472.1" cy="283" r="1.65"/><circle cx="446" cy="251.8" r="1.65"/><circle cx="416.9" cy="254.8" r="1.65"/><circle cx="460.4" cy="255" r="1.65"/><circle cx="439.8" cy="263.2" r="1.65"/><circle cx="458.2" cy="263.8" r="1.65"/><circle cx="453.1" cy="256.9" r="1.65"/><circle cx="440.7" cy="264.7" r="1.65"/><circle cx="467.5" cy="243.6" r="1.65"/><circle cx="418.1" cy="269" r="1.65"/><circle cx="471.6" cy="249.5" r="1.65"/><circle cx="453.3" cy="265.7" r="1.65"/><circle cx="476.4" cy="263" r="1.65"/><circle cx="463.9" cy="251.9" r="1.65"/><circle cx="442" cy="271.8" r="1.65"/><circle cx="454" cy="255.2" r="1.65"/><circle cx="423.1" cy="250.4" r="1.65"/><circle cx="463.3" cy="264.1" r="1.65"/><circle cx="462.3" cy="245.4" r="1.65"/><circle cx="478.7" cy="275" r="1.65"/><circle cx="428.8" cy="263.5" r="1.65"/><circle cx="431.8" cy="257.9" r="1.65"/><circle cx="468.1" cy="253.8" r="1.65"/><circle cx="438.1" cy="269.6" r="1.65"/><circle cx="423.9" cy="248.3" r="1.65"/><circle cx="435.1" cy="271.7" r="1.65"/><circle cx="437.6" cy="268.5" r="1.65"/><circle cx="474.4" cy="254.9" r="1.65"/><circle cx="464.4" cy="231.8" r="1.65"/><circle cx="448.9" cy="248.1" r="1.65"/><circle cx="432.7" cy="259.8" r="1.65"/><circle cx="434.4" cy="258.7" r="1.65"/><circle cx="465.2" cy="262.6" r="1.65"/><circle cx="453.8" cy="250.5" r="1.65"/><circle cx="425.3" cy="258.9" r="1.65"/><circle cx="470.9" cy="259.2" r="1.65"/><circle cx="478.6" cy="249.2" r="1.65"/><circle cx="471.5" cy="267.7" r="1.65"/><circle cx="434.1" cy="253.4" r="1.65"/><circle cx="459.7" cy="229.3" r="1.65"/><circle cx="424.5" cy="252.6" r="1.65"/><circle cx="443.6" cy="254.5" r="1.65"/><circle cx="466.8" cy="251.9" r="1.65"/><circle cx="426.8" cy="251.3" r="1.65"/><circle cx="415.6" cy="260.6" r="1.65"/><circle cx="439" cy="258.4" r="1.65"/><circle cx="479.7" cy="252.9" r="1.65"/><circle cx="434.8" cy="247.1" r="1.65"/><circle cx="422.2" cy="237.7" r="1.65"/><circle cx="423.7" cy="261.8" r="1.65"/><circle cx="469.6" cy="245.6" r="1.65"/><circle cx="423.7" cy="251.1" r="1.65"/><circle cx="426" cy="261.9" r="1.65"/><circle cx="433.3" cy="245.8" r="1.65"/><circle cx="433.5" cy="259.2" r="1.65"/><circle cx="467.6" cy="244.4" r="1.65"/><circle cx="436.8" cy="273" r="1.65"/><circle cx="441.9" cy="255.8" r="1.65"/><circle cx="429" cy="250.8" r="1.65"/><circle cx="480.3" cy="230" r="1.65"/><circle cx="422.3" cy="244" r="1.65"/><circle cx="452.9" cy="263.2" r="1.65"/><circle cx="480.2" cy="269" r="1.65"/><circle cx="453.2" cy="267.5" r="1.65"/><circle cx="438.4" cy="249.4" r="1.65"/><circle cx="451.1" cy="248.3" r="1.65"/><circle cx="456.5" cy="261.9" r="1.65"/><circle cx="436.9" cy="260.3" r="1.65"/><circle cx="435" cy="250.3" r="1.65"/><circle cx="426.7" cy="249.8" r="1.65"/><circle cx="419.4" cy="245.8" r="1.65"/><circle cx="433.5" cy="270.3" r="1.65"/><circle cx="460.4" cy="254.4" r="1.65"/><circle cx="439.2" cy="255.6" r="1.65"/><circle cx="464.1" cy="272.1" r="1.65"/><circle cx="475.6" cy="244.8" r="1.65"/><circle cx="442.9" cy="262.1" r="1.65"/><circle cx="420.7" cy="250.3" r="1.65"/><circle cx="434.1" cy="273.8" r="1.65"/><circle cx="450.4" cy="280.7" r="1.65"/><circle cx="459.4" cy="267.1" r="1.65"/><circle cx="463.1" cy="262.5" r="1.65"/><circle cx="462.7" cy="261" r="1.65"/><circle cx="477.4" cy="253.2" r="1.65"/><circle cx="424.3" cy="248.9" r="1.65"/><circle cx="421.3" cy="252" r="1.65"/><circle cx="478.4" cy="259.1" r="1.65"/><circle cx="446" cy="263.6" r="1.65"/><circle cx="470.2" cy="237.4" r="1.65"/><circle cx="446" cy="258.7" r="1.65"/><circle cx="435.8" cy="236.4" r="1.65"/><circle cx="449.3" cy="266.9" r="1.65"/><circle cx="447.1" cy="254.9" r="1.65"/><circle cx="453.6" cy="276.5" r="1.65"/><circle cx="479" cy="253.5" r="1.65"/><circle cx="429.3" cy="261.4" r="1.65"/><circle cx="455.1" cy="264.3" r="1.65"/><circle cx="453.4" cy="262" r="1.65"/><circle cx="418" cy="241.6" r="1.65"/><circle cx="441.7" cy="253.2" r="1.65"/><circle cx="429.7" cy="255.1" r="1.65"/><circle cx="449.9" cy="254.9" r="1.65"/><circle cx="451.6" cy="256.7" r="1.65"/><circle cx="435.9" cy="250.3" r="1.65"/><circle cx="425.1" cy="284.9" r="1.65"/><circle cx="441.4" cy="252.3" r="1.65"/><circle cx="436.7" cy="253.6" r="1.65"/><circle cx="449.5" cy="237.8" r="1.65"/><circle cx="434.3" cy="251.9" r="1.65"/><circle cx="478.9" cy="245.5" r="1.65"/><circle cx="453.1" cy="258.5" r="1.65"/><circle cx="448.1" cy="244.7" r="1.65"/><circle cx="417.2" cy="267.9" r="1.65"/><circle cx="428.1" cy="247.8" r="1.65"/><circle cx="436.9" cy="244.1" r="1.65"/><circle cx="431.5" cy="247.5" r="1.65"/><circle cx="466.6" cy="238.9" r="1.65"/><circle cx="465.9" cy="249.9" r="1.65"/><circle cx="460.7" cy="264.6" r="1.65"/><circle cx="465.6" cy="236.4" r="1.65"/><circle cx="441.2" cy="252.2" r="1.65"/><circle cx="444.7" cy="254.7" r="1.65"/><circle cx="433.3" cy="227.6" r="1.65"/><circle cx="463.5" cy="244.9" r="1.65"/><circle cx="454.9" cy="253.2" r="1.65"/><circle cx="415.1" cy="262.6" r="1.65"/><circle cx="449.7" cy="266.5" r="1.65"/><circle cx="440.7" cy="252.1" r="1.65"/><circle cx="448.1" cy="249.4" r="1.65"/><circle cx="423" cy="261" r="1.65"/><circle cx="453.8" cy="275.2" r="1.65"/><circle cx="430" cy="295.5" r="1.65"/></g>
<line clip-path="url(#c9)" x1="414.9" y1="262" x2="478" y2="252.2" stroke="#1f77b4" stroke-width="1.5"/>
<clipPath id="c10"><rect x="524.5" y="228" width="68.0" height="70.39999999999998"/></clipPath>
<path clip-path="url(#c10)" d="M524.0 279.0L588.6 251.0L588.6 255.5L524.0 290.0Z" fill="#1f77b4" fill-opacity="0.18"/>
<g clip-path="url(#c10)" fill="#1f77b4" fill-opacity="0.62"><circle cx="581.6" cy="258.2" r="1.65"/><circle cx="585.8" cy="250.3" r="1.65"/><circle cx="582.8" cy="269.4" r="1.65"/><circle cx="581.3" cy="255.8" r="1.65"/><circle cx="589.2" cy="237.3" r="1.65"/><circle cx="580.9" cy="247.2" r="1.65"/><circle cx="582.6" cy="248" r="1.65"/><circle cx="578.2" cy="266.3" r="1.65"/><circle cx="581.4" cy="262.2" r="1.65"/><circle cx="587.2" cy="244.4" r="1.65"/><circle cx="578.4" cy="266" r="1.65"/><circle cx="586.3" cy="247.7" r="1.65"/><circle cx="582.8" cy="252.6" r="1.65"/><circle cx="582.6" cy="258.9" r="1.65"/><circle cx="580.8" cy="254.2" r="1.65"/><circle cx="583.8" cy="252.1" r="1.65"/><circle cx="580.1" cy="264.4" r="1.65"/><circle cx="580.4" cy="239.9" r="1.65"/><circle cx="587.5" cy="241.5" r="1.65"/><circle cx="581" cy="250.6" r="1.65"/><circle cx="580.5" cy="265.1" r="1.65"/><circle cx="579.6" cy="261.8" r="1.65"/><circle cx="586.1" cy="260.9" r="1.65"/><circle cx="583" cy="264.3" r="1.65"/><circle cx="579.5" cy="270.7" r="1.65"/><circle cx="583.9" cy="252.8" r="1.65"/><circle cx="583.8" cy="239.7" r="1.65"/><circle cx="585.5" cy="248.3" r="1.65"/><circle cx="589.7" cy="238.6" r="1.65"/><circle cx="583.1" cy="275" r="1.65"/><circle cx="581.2" cy="233.1" r="1.65"/><circle cx="591.5" cy="270.8" r="1.65"/><circle cx="582.4" cy="275.9" r="1.65"/><circle cx="588.5" cy="270.9" r="1.65"/><circle cx="584.9" cy="239.7" r="1.65"/><circle cx="583.3" cy="243.7" r="1.65"/><circle cx="588.9" cy="245.4" r="1.65"/><circle cx="585.6" cy="266.9" r="1.65"/><circle cx="582.9" cy="287.6" r="1.65"/><circle cx="585.3" cy="274.9" r="1.65"/><circle cx="582.7" cy="237.5" r="1.65"/><circle cx="585" cy="235.4" r="1.65"/><circle cx="584.7" cy="259.5" r="1.65"/><circle cx="584.3" cy="285.9" r="1.65"/><circle cx="586.5" cy="289.8" r="1.65"/><circle cx="575.5" cy="247.3" r="1.65"/><circle cx="585.3" cy="256.8" r="1.65"/><circle cx="582.7" cy="257.9" r="1.65"/><circle cx="584" cy="255.7" r="1.65"/><circle cx="585.2" cy="250.1" r="1.65"/><circle cx="581.3" cy="247.8" r="1.65"/><circle cx="581" cy="261.9" r="1.65"/><circle cx="583.1" cy="256.9" r="1.65"/><circle cx="583.8" cy="250.2" r="1.65"/><circle cx="583.8" cy="250.5" r="1.65"/><circle cx="581.1" cy="270.9" r="1.65"/><circle cx="583.5" cy="271.4" r="1.65"/><circle cx="581.7" cy="247.1" r="1.65"/><circle cx="579.6" cy="255.7" r="1.65"/><circle cx="582.6" cy="260.8" r="1.65"/><circle cx="581.7" cy="239.7" r="1.65"/><circle cx="585.9" cy="242.4" r="1.65"/><circle cx="581.4" cy="250.4" r="1.65"/><circle cx="581.2" cy="249" r="1.65"/><circle cx="585.1" cy="251.8" r="1.65"/><circle cx="580.1" cy="256.9" r="1.65"/><circle cx="581.4" cy="240.3" r="1.65"/><circle cx="582.5" cy="254.9" r="1.65"/><circle cx="588.1" cy="246.3" r="1.65"/><circle cx="585.9" cy="246.7" r="1.65"/><circle cx="584.1" cy="264.9" r="1.65"/><circle cx="585.4" cy="249.9" r="1.65"/><circle cx="580.7" cy="261.3" r="1.65"/><circle cx="583.9" cy="227.1" r="1.65"/><circle cx="580.2" cy="258.7" r="1.65"/><circle cx="588" cy="253.6" r="1.65"/><circle cx="584.3" cy="262.8" r="1.65"/><circle cx="583.8" cy="250.4" r="1.65"/><circle cx="580.9" cy="243.3" r="1.65"/><circle cx="585.9" cy="249" r="1.65"/><circle cx="581.7" cy="258.5" r="1.65"/><circle cx="581.8" cy="242.2" r="1.65"/><circle cx="583.7" cy="241" r="1.65"/><circle cx="580.5" cy="240.8" r="1.65"/><circle cx="582.1" cy="240.4" r="1.65"/><circle cx="584.6" cy="268.4" r="1.65"/><circle cx="583.4" cy="244.1" r="1.65"/><circle cx="586.5" cy="252.6" r="1.65"/><circle cx="584.6" cy="240.5" r="1.65"/><circle cx="587.5" cy="269.7" r="1.65"/><circle cx="575.7" cy="246.9" r="1.65"/><circle cx="582.9" cy="245.6" r="1.65"/><circle cx="588.3" cy="260.3" r="1.65"/><circle cx="587.3" cy="262.7" r="1.65"/><circle cx="584.1" cy="257" r="1.65"/><circle cx="579.8" cy="253.7" r="1.65"/><circle cx="579.7" cy="251" r="1.65"/><circle cx="580" cy="269.3" r="1.65"/><circle cx="586.5" cy="233.2" r="1.65"/><circle cx="582.1" cy="256.3" r="1.65"/><circle cx="579.9" cy="246.3" r="1.65"/><circle cx="579.4" cy="252.6" r="1.65"/><circle cx="579.9" cy="249.5" r="1.65"/><circle cx="584" cy="242.5" r="1.65"/><circle cx="581" cy="247.7" r="1.65"/><circle cx="584" cy="245.2" r="1.65"/><circle cx="586.6" cy="249.5" r="1.65"/><circle cx="585" cy="264" r="1.65"/><circle cx="584.7" cy="233.9" r="1.65"/><circle cx="587.2" cy="245.9" r="1.65"/><circle cx="580.3" cy="274.1" r="1.65"/><circle cx="585" cy="257.7" r="1.65"/><circle cx="585.6" cy="247.6" r="1.65"/><circle cx="582.8" cy="246.3" r="1.65"/><circle cx="578.6" cy="254.6" r="1.65"/><circle cx="582.3" cy="248.6" r="1.65"/><circle cx="585.6" cy="259" r="1.65"/><circle cx="586.8" cy="255.6" r="1.65"/><circle cx="585.6" cy="246.9" r="1.65"/><circle cx="581.9" cy="250.7" r="1.65"/><circle cx="584.9" cy="241.3" r="1.65"/><circle cx="584.3" cy="247.9" r="1.65"/><circle cx="585.6" cy="275.9" r="1.65"/><circle cx="585.8" cy="256.3" r="1.65"/><circle cx="586.9" cy="269" r="1.65"/><circle cx="586" cy="241" r="1.65"/><circle cx="584.1" cy="271.1" r="1.65"/><circle cx="583.4" cy="246.9" r="1.65"/><circle cx="586.4" cy="222.1" r="1.65"/><circle cx="581.6" cy="238.9" r="1.65"/><circle cx="585.9" cy="249.4" r="1.65"/><circle cx="582" cy="243.4" r="1.65"/><circle cx="584.5" cy="233.6" r="1.65"/><circle cx="584.6" cy="256.9" r="1.65"/><circle cx="582.3" cy="279" r="1.65"/><circle cx="583.1" cy="255.4" r="1.65"/><circle cx="587.4" cy="233.7" r="1.65"/><circle cx="588.1" cy="250.5" r="1.65"/><circle cx="585.4" cy="261" r="1.65"/><circle cx="589" cy="253.2" r="1.65"/><circle cx="582.6" cy="245.7" r="1.65"/><circle cx="582.2" cy="251.9" r="1.65"/><circle cx="584.2" cy="249.2" r="1.65"/><circle cx="586.5" cy="233" r="1.65"/><circle cx="584.9" cy="258.9" r="1.65"/><circle cx="581.8" cy="241.7" r="1.65"/><circle cx="584" cy="249.1" r="1.65"/><circle cx="583" cy="282.4" r="1.65"/><circle cx="582.9" cy="240.1" r="1.65"/><circle cx="585.1" cy="247.9" r="1.65"/><circle cx="579.4" cy="255.3" r="1.65"/><circle cx="583.4" cy="245.4" r="1.65"/><circle cx="587.2" cy="279.6" r="1.65"/><circle cx="583.8" cy="237.3" r="1.65"/><circle cx="577.9" cy="249.2" r="1.65"/><circle cx="580.7" cy="272.1" r="1.65"/><circle cx="584.1" cy="283.2" r="1.65"/><circle cx="584.7" cy="249.8" r="1.65"/><circle cx="583.1" cy="238.4" r="1.65"/><circle cx="578.6" cy="270.1" r="1.65"/><circle cx="586.8" cy="243.5" r="1.65"/><circle cx="578" cy="279.1" r="1.65"/><circle cx="579.7" cy="253" r="1.65"/><circle cx="583.4" cy="268.5" r="1.65"/><circle cx="583.7" cy="252.1" r="1.65"/><circle cx="584.8" cy="247.6" r="1.65"/><circle cx="577.3" cy="235.2" r="1.65"/><circle cx="578.6" cy="241.6" r="1.65"/><circle cx="585.3" cy="244.8" r="1.65"/><circle cx="583.5" cy="261.8" r="1.65"/><circle cx="577.9" cy="281.4" r="1.65"/><circle cx="535.6" cy="269.7" r="1.65"/><circle cx="531.9" cy="260.5" r="1.65"/><circle cx="527.7" cy="262.5" r="1.65"/><circle cx="573.1" cy="282.5" r="1.65"/><circle cx="527.2" cy="267.9" r="1.65"/><circle cx="557.9" cy="278.8" r="1.65"/><circle cx="526.2" cy="261.4" r="1.65"/><circle cx="571.6" cy="269.1" r="1.65"/><circle cx="567.7" cy="270.6" r="1.65"/><circle cx="570.4" cy="280.3" r="1.65"/><circle cx="543.9" cy="272.7" r="1.65"/><circle cx="537" cy="266" r="1.65"/><circle cx="537.7" cy="265.4" r="1.65"/><circle cx="560.3" cy="267.6" r="1.65"/><circle cx="565.2" cy="279.8" r="1.65"/><circle cx="568.2" cy="270.7" r="1.65"/><circle cx="566.3" cy="276.5" r="1.65"/><circle cx="553.2" cy="276.2" r="1.65"/><circle cx="544.6" cy="259.2" r="1.65"/><circle cx="562.2" cy="271.7" r="1.65"/><circle cx="562.4" cy="286.6" r="1.65"/><circle cx="573" cy="270.7" r="1.65"/><circle cx="572.2" cy="281.2" r="1.65"/><circle cx="530.9" cy="262.2" r="1.65"/><circle cx="548.6" cy="276.5" r="1.65"/><circle cx="553.2" cy="279.9" r="1.65"/><circle cx="549.7" cy="274.4" r="1.65"/><circle cx="550.7" cy="269.8" r="1.65"/><circle cx="576.2" cy="272.7" r="1.65"/><circle cx="537.8" cy="273.5" r="1.65"/><circle cx="569" cy="278.5" r="1.65"/><circle cx="532.7" cy="261.2" r="1.65"/><circle cx="535.1" cy="267" r="1.65"/><circle cx="537.6" cy="265.4" r="1.65"/><circle cx="537.4" cy="261.3" r="1.65"/><circle cx="535.9" cy="267.3" r="1.65"/><circle cx="529.4" cy="268.6" r="1.65"/><circle cx="572.8" cy="277.5" r="1.65"/><circle cx="562.2" cy="273.6" r="1.65"/><circle cx="527" cy="257" r="1.65"/><circle cx="531" cy="268" r="1.65"/><circle cx="535" cy="266" r="1.65"/><circle cx="545" cy="257" r="1.65"/><circle cx="552" cy="262" r="1.65"/><circle cx="560" cy="282" r="1.65"/><circle cx="563" cy="287" r="1.65"/><circle cx="567" cy="284" r="1.65"/><circle cx="571" cy="280" r="1.65"/><circle cx="575" cy="287" r="1.65"/><circle cx="578" cy="292" r="1.65"/><circle cx="578" cy="280" r="1.65"/><circle cx="580" cy="270" r="1.65"/><circle cx="576" cy="275" r="1.65"/><circle cx="569" cy="296" r="1.65"/></g>
<line clip-path="url(#c10)" x1="524" y1="283.5" x2="588.6" y2="252.5" stroke="#1f77b4" stroke-width="1.5"/>
<clipPath id="c11"><rect x="641.4" y="228" width="68.39999999999998" height="69.19999999999999"/></clipPath>
<path clip-path="url(#c11)" d="M646.9 241.5L706.2 276.0L706.2 280.0L646.9 245.5Z" fill="#1f77b4" fill-opacity="0.16"/>
<g clip-path="url(#c11)" fill="#1f77b4" fill-opacity="0.62"><circle cx="645.4" cy="246.3" r="1.65"/><circle cx="660.1" cy="238.8" r="1.65"/><circle cx="682.4" cy="274.1" r="1.65"/><circle cx="647.6" cy="239.4" r="1.65"/><circle cx="685.5" cy="278.5" r="1.65"/><circle cx="690.3" cy="271.3" r="1.65"/><circle cx="665.1" cy="248.9" r="1.65"/><circle cx="665.7" cy="261.2" r="1.65"/><circle cx="686.2" cy="278.5" r="1.65"/><circle cx="663.8" cy="249.7" r="1.65"/><circle cx="672.6" cy="228.9" r="1.65"/><circle cx="668.4" cy="269.5" r="1.65"/><circle cx="697" cy="273.8" r="1.65"/><circle cx="673.9" cy="262.4" r="1.65"/><circle cx="661.9" cy="264" r="1.65"/><circle cx="695.7" cy="273.2" r="1.65"/><circle cx="705.6" cy="269.1" r="1.65"/><circle cx="703.3" cy="270.5" r="1.65"/><circle cx="692.7" cy="267.6" r="1.65"/><circle cx="663.8" cy="246.2" r="1.65"/><circle cx="690.2" cy="284" r="1.65"/><circle cx="680.3" cy="268.7" r="1.65"/><circle cx="674.1" cy="253.6" r="1.65"/><circle cx="678" cy="258.5" r="1.65"/><circle cx="681.6" cy="270.6" r="1.65"/><circle cx="690.7" cy="276.7" r="1.65"/><circle cx="656.9" cy="236.5" r="1.65"/><circle cx="704.3" cy="276.4" r="1.65"/><circle cx="690.8" cy="272.7" r="1.65"/><circle cx="663.7" cy="246.3" r="1.65"/><circle cx="696.2" cy="254.3" r="1.65"/><circle cx="687.2" cy="264.5" r="1.65"/><circle cx="659.4" cy="241.3" r="1.65"/><circle cx="699.3" cy="267.7" r="1.65"/><circle cx="678.1" cy="250.4" r="1.65"/><circle cx="695.5" cy="269.7" r="1.65"/><circle cx="692.7" cy="266.9" r="1.65"/><circle cx="705.3" cy="280.2" r="1.65"/><circle cx="669" cy="273.5" r="1.65"/><circle cx="672.1" cy="242.8" r="1.65"/><circle cx="698" cy="274.7" r="1.65"/><circle cx="674.6" cy="250.8" r="1.65"/><circle cx="679.5" cy="245.3" r="1.65"/><circle cx="684.3" cy="252.4" r="1.65"/><circle cx="680.4" cy="262.4" r="1.65"/><circle cx="686.4" cy="272.7" r="1.65"/><circle cx="695.7" cy="253.2" r="1.65"/><circle cx="665.9" cy="254.5" r="1.65"/><circle cx="685.1" cy="271.3" r="1.65"/><circle cx="674.5" cy="268.6" r="1.65"/><circle cx="689.2" cy="271.6" r="1.65"/><circle cx="681.4" cy="259.3" r="1.65"/><circle cx="692.2" cy="290" r="1.65"/><circle cx="687.5" cy="257.9" r="1.65"/><circle cx="663.5" cy="264.3" r="1.65"/><circle cx="694.7" cy="260.9" r="1.65"/><circle cx="663.4" cy="230.6" r="1.65"/><circle cx="669.4" cy="275.5" r="1.65"/><circle cx="683.7" cy="261.5" r="1.65"/><circle cx="695.7" cy="257.1" r="1.65"/><circle cx="682.2" cy="253.2" r="1.65"/><circle cx="676.3" cy="269.4" r="1.65"/><circle cx="675.1" cy="255.2" r="1.65"/><circle cx="678.7" cy="239.6" r="1.65"/><circle cx="701" cy="274.3" r="1.65"/><circle cx="703.1" cy="276.6" r="1.65"/><circle cx="676.1" cy="255.6" r="1.65"/><circle cx="677.6" cy="271" r="1.65"/><circle cx="681.5" cy="277.4" r="1.65"/><circle cx="691.7" cy="266.8" r="1.65"/><circle cx="646.5" cy="237.3" r="1.65"/><circle cx="697.2" cy="267" r="1.65"/><circle cx="701.8" cy="271.6" r="1.65"/><circle cx="683" cy="262.5" r="1.65"/><circle cx="696.5" cy="281.8" r="1.65"/><circle cx="682.8" cy="260" r="1.65"/><circle cx="658.8" cy="251.1" r="1.65"/><circle cx="681.1" cy="292.5" r="1.65"/><circle cx="656.4" cy="245.8" r="1.65"/><circle cx="647.7" cy="239.7" r="1.65"/><circle cx="655.4" cy="248.2" r="1.65"/><circle cx="672.1" cy="254.8" r="1.65"/><circle cx="673" cy="260.6" r="1.65"/><circle cx="652.2" cy="249.5" r="1.65"/><circle cx="685.6" cy="263.3" r="1.65"/><circle cx="686" cy="260.3" r="1.65"/><circle cx="689" cy="274.8" r="1.65"/><circle cx="676" cy="265.5" r="1.65"/><circle cx="666" cy="270" r="1.65"/><circle cx="671.5" cy="257.5" r="1.65"/><circle cx="672.1" cy="271.4" r="1.65"/><circle cx="685.4" cy="284.6" r="1.65"/><circle cx="656.4" cy="271.3" r="1.65"/><circle cx="706.7" cy="274.8" r="1.65"/><circle cx="659" cy="248.6" r="1.65"/><circle cx="699.5" cy="273.4" r="1.65"/><circle cx="696.1" cy="265.5" r="1.65"/><circle cx="674.4" cy="259.4" r="1.65"/><circle cx="658" cy="261.8" r="1.65"/><circle cx="682.2" cy="247.1" r="1.65"/><circle cx="694.1" cy="264.2" r="1.65"/><circle cx="692" cy="261" r="1.65"/><circle cx="677.2" cy="250.6" r="1.65"/><circle cx="666.4" cy="242.5" r="1.65"/><circle cx="686.4" cy="258.4" r="1.65"/><circle cx="699" cy="282" r="1.65"/><circle cx="685.5" cy="249.3" r="1.65"/><circle cx="679.2" cy="239.3" r="1.65"/><circle cx="676.4" cy="257.5" r="1.65"/><circle cx="683.3" cy="264.1" r="1.65"/><circle cx="701.5" cy="278.2" r="1.65"/><circle cx="682.1" cy="252.2" r="1.65"/><circle cx="688.3" cy="260.8" r="1.65"/><circle cx="664.6" cy="268.6" r="1.65"/><circle cx="653.5" cy="243.5" r="1.65"/><circle cx="700.8" cy="274.4" r="1.65"/><circle cx="652.3" cy="239.6" r="1.65"/><circle cx="677.7" cy="243.5" r="1.65"/><circle cx="655.8" cy="245.1" r="1.65"/><circle cx="662.7" cy="262.9" r="1.65"/><circle cx="688.7" cy="258.8" r="1.65"/><circle cx="655.7" cy="240.3" r="1.65"/><circle cx="679.2" cy="256.5" r="1.65"/><circle cx="668" cy="274.5" r="1.65"/><circle cx="693.4" cy="272.2" r="1.65"/><circle cx="663.9" cy="255.8" r="1.65"/><circle cx="686" cy="273" r="1.65"/><circle cx="656.6" cy="250.1" r="1.65"/><circle cx="663.8" cy="256.1" r="1.65"/><circle cx="656.5" cy="246.7" r="1.65"/><circle cx="680.9" cy="256.7" r="1.65"/><circle cx="666.6" cy="254.7" r="1.65"/><circle cx="671.9" cy="263.8" r="1.65"/><circle cx="682.8" cy="271.6" r="1.65"/><circle cx="658.4" cy="236.2" r="1.65"/><circle cx="663.4" cy="265.2" r="1.65"/><circle cx="683.6" cy="262.3" r="1.65"/><circle cx="689.1" cy="253.2" r="1.65"/><circle cx="668.1" cy="262.2" r="1.65"/><circle cx="648.1" cy="237.3" r="1.65"/><circle cx="668.3" cy="266.2" r="1.65"/><circle cx="658.3" cy="263.2" r="1.65"/><circle cx="655" cy="237.6" r="1.65"/><circle cx="702.5" cy="271.7" r="1.65"/><circle cx="689.8" cy="275.3" r="1.65"/><circle cx="685.8" cy="240.2" r="1.65"/><circle cx="652.2" cy="246.8" r="1.65"/><circle cx="685" cy="257.5" r="1.65"/><circle cx="651.3" cy="236" r="1.65"/><circle cx="682.1" cy="273.5" r="1.65"/><circle cx="697.1" cy="269" r="1.65"/><circle cx="684.7" cy="263.5" r="1.65"/><circle cx="677.7" cy="268.9" r="1.65"/><circle cx="666.4" cy="255.2" r="1.65"/><circle cx="699.6" cy="264.8" r="1.65"/><circle cx="649.5" cy="239.3" r="1.65"/><circle cx="660.7" cy="271.9" r="1.65"/><circle cx="679.8" cy="241.2" r="1.65"/><circle cx="655.7" cy="242.4" r="1.65"/><circle cx="664.5" cy="242.7" r="1.65"/><circle cx="661.5" cy="250.2" r="1.65"/><circle cx="676.6" cy="270.3" r="1.65"/><circle cx="695.6" cy="275.4" r="1.65"/><circle cx="676.3" cy="256.7" r="1.65"/><circle cx="691" cy="271.4" r="1.65"/><circle cx="656.5" cy="248.9" r="1.65"/><circle cx="676.6" cy="265.3" r="1.65"/><circle cx="652" cy="249.5" r="1.65"/><circle cx="650.1" cy="242.5" r="1.65"/><circle cx="699.6" cy="269.5" r="1.65"/><circle cx="668.1" cy="250" r="1.65"/><circle cx="650" cy="252.2" r="1.65"/><circle cx="682.3" cy="256.3" r="1.65"/><circle cx="699.2" cy="283.9" r="1.65"/><circle cx="705.8" cy="270.8" r="1.65"/><circle cx="690.8" cy="267.3" r="1.65"/><circle cx="652.2" cy="241.3" r="1.65"/><circle cx="668.2" cy="253.3" r="1.65"/><circle cx="662.9" cy="244" r="1.65"/><circle cx="649.4" cy="240.3" r="1.65"/><circle cx="683.9" cy="258" r="1.65"/><circle cx="656.4" cy="235.8" r="1.65"/><circle cx="672.1" cy="267.1" r="1.65"/><circle cx="680.1" cy="269.6" r="1.65"/><circle cx="662.3" cy="257.2" r="1.65"/><circle cx="661.4" cy="261.3" r="1.65"/><circle cx="679.9" cy="280.6" r="1.65"/><circle cx="673.1" cy="261.8" r="1.65"/><circle cx="690.4" cy="258.1" r="1.65"/><circle cx="699.2" cy="280.6" r="1.65"/><circle cx="706.5" cy="280.5" r="1.65"/><circle cx="649.5" cy="240.2" r="1.65"/><circle cx="683.3" cy="271.3" r="1.65"/><circle cx="662" cy="239.2" r="1.65"/><circle cx="676.1" cy="262" r="1.65"/><circle cx="672.4" cy="247.1" r="1.65"/><circle cx="691.3" cy="269.8" r="1.65"/><circle cx="695.2" cy="268" r="1.65"/><circle cx="689.7" cy="269.8" r="1.65"/><circle cx="660.7" cy="257.3" r="1.65"/><circle cx="698.3" cy="272" r="1.65"/><circle cx="675.1" cy="264.6" r="1.65"/><circle cx="695.7" cy="265" r="1.65"/><circle cx="653.9" cy="234.3" r="1.65"/><circle cx="666.3" cy="233" r="1.65"/><circle cx="687" cy="251.9" r="1.65"/><circle cx="669.5" cy="269.2" r="1.65"/><circle cx="698.8" cy="264.5" r="1.65"/><circle cx="682.1" cy="267.7" r="1.65"/><circle cx="684.1" cy="262.4" r="1.65"/><circle cx="675.1" cy="238.4" r="1.65"/><circle cx="700.1" cy="278.1" r="1.65"/><circle cx="667.4" cy="261.3" r="1.65"/><circle cx="666.2" cy="256.7" r="1.65"/><circle cx="666.4" cy="238.8" r="1.65"/><circle cx="697.8" cy="269.4" r="1.65"/><circle cx="701.6" cy="270.8" r="1.65"/><circle cx="688.8" cy="278.2" r="1.65"/><circle cx="703.1" cy="273.1" r="1.65"/><circle cx="665.3" cy="262.5" r="1.65"/><circle cx="662.6" cy="256.2" r="1.65"/><circle cx="646.5" cy="237.5" r="1.65"/><circle cx="654.7" cy="257.3" r="1.65"/><circle cx="695.1" cy="276.8" r="1.65"/><circle cx="664.8" cy="258.4" r="1.65"/><circle cx="647.9" cy="235.4" r="1.65"/><circle cx="653.1" cy="243.3" r="1.65"/><circle cx="648.1" cy="242.8" r="1.65"/><circle cx="660.3" cy="250.2" r="1.65"/><circle cx="674.7" cy="285.1" r="1.65"/><circle cx="672" cy="293.5" r="1.65"/><circle cx="683" cy="288" r="1.65"/></g>
<line clip-path="url(#c11)" x1="646.9" y1="242.5" x2="706.2" y2="278" stroke="#1f77b4" stroke-width="1.5"/>
<line x1="411.3" y1="31.7" x2="411.3" y2="111.6" stroke="#151515" stroke-width="1.2"/>
<line x1="408.1" y1="49.3" x2="411.3" y2="49.3" stroke="#151515" stroke-width="1.0"/>
<text x="407.6" y="53.1" font-size="10.6" text-anchor="end">0.1</text>
<line x1="408.1" y1="74.5" x2="411.3" y2="74.5" stroke="#151515" stroke-width="1.0"/>
<text x="407.6" y="78.3" font-size="10.6" text-anchor="end">0.0</text>
<line x1="408.1" y1="99.7" x2="411.3" y2="99.7" stroke="#151515" stroke-width="1.0"/>
<text x="407.6" y="103.5" font-size="10.6" text-anchor="end">−0.1</text>
<line x1="410.8" y1="111.0" x2="450.8" y2="111.0" stroke="#151515" stroke-width="1.0"/>
<line x1="424.4" y1="111.0" x2="424.4" y2="114.3" stroke="#151515" stroke-width="1.0"/>
<line x1="450.4" y1="114.2" x2="452.6" y2="107.6" stroke="#151515" stroke-width="1.0"/>
<line x1="456.2" y1="114.2" x2="458.0" y2="107.6" stroke="#151515" stroke-width="1.0"/>
<line x1="457.4" y1="111.0" x2="477.7" y2="111.0" stroke="#333" stroke-width="1.0"/>
<line x1="477.2" y1="111.0" x2="477.2" y2="114.2" stroke="#151515" stroke-width="1.0"/>
<text x="423.2" y="123.6" font-size="10.6" text-anchor="middle">0.04</text>
<text x="447.4" y="123.6" font-size="10.6" text-anchor="middle">0.06</text>
<text x="476.0" y="123.6" font-size="10.6" text-anchor="middle">0.1</text>
<text x="384.0" y="76.6" font-size="10.8" text-anchor="middle" transform="rotate(-90 384.0 76.6)">Silhouette</text>
<text x="436.3" y="29.3" font-size="11.0">r = -0.36</text>
<line x1="524.8" y1="26.3" x2="524.8" y2="111.2" stroke="#151515" stroke-width="1.2"/>
<line x1="521.6" y1="26.5" x2="524.8" y2="26.5" stroke="#151515" stroke-width="1.0"/>
<text x="517.4" y="30.3" font-size="10.6" text-anchor="end">0.15</text>
<line x1="521.6" y1="64.5" x2="524.8" y2="64.5" stroke="#151515" stroke-width="1.0"/>
<text x="517.4" y="68.3" font-size="10.6" text-anchor="end">0.00</text>
<line x1="521.6" y1="102.3" x2="524.8" y2="102.3" stroke="#151515" stroke-width="1.0"/>
<text x="517.4" y="106.1" font-size="10.6" text-anchor="end">−0.15</text>
<line x1="524.3" y1="110.6" x2="569.8" y2="110.6" stroke="#151515" stroke-width="1.0"/>
<line x1="524.8" y1="110.6" x2="524.8" y2="113.4" stroke="#151515" stroke-width="1.0"/>
<line x1="568.8" y1="113.8" x2="571.0" y2="107.4" stroke="#151515" stroke-width="1.0"/>
<line x1="574.0" y1="113.8" x2="576.2" y2="107.4" stroke="#151515" stroke-width="1.0"/>
<line x1="575.2" y1="110.6" x2="600.6" y2="110.6" stroke="#333" stroke-width="1.0"/>
<line x1="596.0" y1="110.6" x2="596.0" y2="113.4" stroke="#151515" stroke-width="1.0"/>
<text x="521.8" y="123.2" font-size="10.6" text-anchor="middle">0.04</text>
<text x="566.6" y="123.2" font-size="10.6" text-anchor="middle">0.06</text>
<text x="593.6" y="123.2" font-size="10.6" text-anchor="middle">0.3</text>
<text x="561.5" y="30.0" font-size="11.0">r = -0.30</text>
<line x1="644.0" y1="27.2" x2="644.0" y2="111.4" stroke="#151515" stroke-width="1.2"/>
<line x1="640.8" y1="38.1" x2="644.0" y2="38.1" stroke="#151515" stroke-width="1.0"/>
<text x="640.5" y="41.9" font-size="10.6" text-anchor="end">0.1</text>
<line x1="640.8" y1="64.1" x2="644.0" y2="64.1" stroke="#151515" stroke-width="1.0"/>
<text x="640.5" y="67.9" font-size="10.6" text-anchor="end">0.0</text>
<line x1="640.8" y1="89.4" x2="644.0" y2="89.4" stroke="#151515" stroke-width="1.0"/>
<text x="640.5" y="93.2" font-size="10.6" text-anchor="end">−0.1</text>
<line x1="643.4" y1="110.8" x2="714.7" y2="110.8" stroke="#151515" stroke-width="1.2"/>
<line x1="667.2" y1="110.8" x2="667.2" y2="114.0" stroke="#151515" stroke-width="1.0"/>
<line x1="696.7" y1="110.8" x2="696.7" y2="114.0" stroke="#151515" stroke-width="1.0"/>
<text x="666.0" y="123.6" font-size="10.6" text-anchor="middle">0.5</text>
<text x="695.5" y="123.6" font-size="10.6" text-anchor="middle">1.0</text>
<text x="672.6" y="36.8" font-size="11.0">r = -0.70</text>
<line x1="413.9" y1="137.4" x2="413.9" y2="205.6" stroke="#151515" stroke-width="1.2"/>
<line x1="408.9" y1="141.5" x2="413.9" y2="141.5" stroke="#151515" stroke-width="1.0"/>
<text x="407.8" y="145.3" font-size="10.6" text-anchor="end">0.0</text>
<line x1="408.9" y1="171.8" x2="413.9" y2="171.8" stroke="#151515" stroke-width="1.0"/>
<text x="407.8" y="175.6" font-size="10.6" text-anchor="end">−0.1</text>
<line x1="408.9" y1="201.8" x2="413.9" y2="201.8" stroke="#151515" stroke-width="1.0"/>
<text x="407.8" y="205.6" font-size="10.6" text-anchor="end">−0.2</text>
<line x1="413.3" y1="205.0" x2="481.8" y2="205.0" stroke="#151515" stroke-width="1.2"/>
<line x1="436.4" y1="205.0" x2="436.4" y2="210.0" stroke="#151515" stroke-width="1.0"/>
<line x1="461.0" y1="205.0" x2="461.0" y2="210.0" stroke="#151515" stroke-width="1.0"/>
<text x="435.2" y="220.3" font-size="10.6" text-anchor="middle">20.0</text>
<text x="459.8" y="220.3" font-size="10.6" text-anchor="middle">22.5</text>
<text x="383.5" y="166.4" font-size="10.8" text-anchor="middle" transform="rotate(-90 383.5 166.4)">Silhouette</text>
<text x="443.5" y="140.8" font-size="11.0">r = 0.10</text>
<line x1="524.7" y1="136.8" x2="524.7" y2="204.8" stroke="#151515" stroke-width="1.2"/>
<line x1="519.7" y1="138.3" x2="524.7" y2="138.3" stroke="#151515" stroke-width="1.0"/>
<text x="514.6" y="142.1" font-size="10.6" text-anchor="end">0.45</text>
<line x1="519.7" y1="164.5" x2="524.7" y2="164.5" stroke="#151515" stroke-width="1.0"/>
<text x="514.6" y="168.3" font-size="10.6" text-anchor="end">0.30</text>
<line x1="519.7" y1="191.2" x2="524.7" y2="191.2" stroke="#151515" stroke-width="1.0"/>
<text x="514.6" y="195.0" font-size="10.6" text-anchor="end">0.15</text>
<line x1="524.1" y1="204.2" x2="592.9" y2="204.2" stroke="#151515" stroke-width="1.2"/>
<line x1="528.9" y1="204.2" x2="528.9" y2="209.2" stroke="#151515" stroke-width="1.0"/>
<line x1="559.3" y1="204.2" x2="559.3" y2="209.2" stroke="#151515" stroke-width="1.0"/>
<line x1="589.4" y1="204.2" x2="589.4" y2="209.2" stroke="#151515" stroke-width="1.0"/>
<text x="527.7" y="219.6" font-size="10.6" text-anchor="middle">30</text>
<text x="558.1" y="219.6" font-size="10.6" text-anchor="middle">32</text>
<text x="588.2" y="219.6" font-size="10.6" text-anchor="middle">34</text>
<text x="527.3" y="141.0" font-size="11.0">r = 0.79</text>
<line x1="640.6" y1="135.8" x2="640.6" y2="203.8" stroke="#151515" stroke-width="1.2"/>
<line x1="635.6" y1="136.6" x2="640.6" y2="136.6" stroke="#151515" stroke-width="1.0"/>
<text x="631.5" y="140.4" font-size="10.6" text-anchor="end">0.45</text>
<line x1="635.6" y1="159.8" x2="640.6" y2="159.8" stroke="#151515" stroke-width="1.0"/>
<text x="631.5" y="163.6" font-size="10.6" text-anchor="end">0.30</text>
<line x1="635.6" y1="183.0" x2="640.6" y2="183.0" stroke="#151515" stroke-width="1.0"/>
<text x="631.5" y="186.8" font-size="10.6" text-anchor="end">0.15</text>
<line x1="640.0" y1="203.2" x2="708.8" y2="203.2" stroke="#151515" stroke-width="1.2"/>
<line x1="641.3" y1="203.2" x2="641.3" y2="208.2" stroke="#151515" stroke-width="1.0"/>
<line x1="673.0" y1="203.2" x2="673.0" y2="208.2" stroke="#151515" stroke-width="1.0"/>
<line x1="705.6" y1="203.2" x2="705.6" y2="208.2" stroke="#151515" stroke-width="1.0"/>
<text x="640.1" y="218.2" font-size="10.6" text-anchor="middle">0.6</text>
<text x="671.8" y="218.2" font-size="10.6" text-anchor="middle">0.9</text>
<text x="704.4" y="218.2" font-size="10.6" text-anchor="middle">1.2</text>
<text x="671.0" y="139.7" font-size="11.0">r = -0.80</text>
<line x1="413.4" y1="231.3" x2="413.4" y2="299.2" stroke="#151515" stroke-width="1.2"/>
<line x1="408.4" y1="245.2" x2="413.4" y2="245.2" stroke="#151515" stroke-width="1.0"/>
<text x="407.0" y="249.0" font-size="10.6" text-anchor="end">0.2</text>
<line x1="408.4" y1="271.1" x2="413.4" y2="271.1" stroke="#151515" stroke-width="1.0"/>
<text x="407.0" y="274.9" font-size="10.6" text-anchor="end">0.0</text>
<line x1="408.4" y1="297.5" x2="413.4" y2="297.5" stroke="#151515" stroke-width="1.0"/>
<text x="407.0" y="301.3" font-size="10.6" text-anchor="end">−0.2</text>
<line x1="412.8" y1="298.6" x2="482.0" y2="298.6" stroke="#151515" stroke-width="1.2"/>
<line x1="415.0" y1="298.6" x2="415.0" y2="303.6" stroke="#151515" stroke-width="1.0"/>
<line x1="444.7" y1="298.6" x2="444.7" y2="303.6" stroke="#151515" stroke-width="1.0"/>
<line x1="474.0" y1="298.6" x2="474.0" y2="303.6" stroke="#151515" stroke-width="1.0"/>
<text x="413.8" y="313.5" font-size="10.6" text-anchor="middle">0.28</text>
<text x="443.5" y="313.5" font-size="10.6" text-anchor="middle">0.34</text>
<text x="472.8" y="313.5" font-size="10.6" text-anchor="middle">0.40</text>
<text x="386.0" y="266.8" font-size="10.8" text-anchor="middle" transform="rotate(-90 386.0 266.8)">Silhouette</text>
<text x="447.2" y="295.8" font-size="11.0">r = 0.23</text>
<text x="413.9" y="325.6" font-size="10.85">Validation loss</text>
<text x="413.6" y="337.3" font-size="10.75">(reconstruction)</text>
<line x1="524.0" y1="230.3" x2="524.0" y2="299.5" stroke="#151515" stroke-width="1.2"/>
<line x1="519.0" y1="233.8" x2="524.0" y2="233.8" stroke="#151515" stroke-width="1.0"/>
<text x="514.2" y="237.6" font-size="10.6" text-anchor="end">0.25</text>
<line x1="519.0" y1="265.6" x2="524.0" y2="265.6" stroke="#151515" stroke-width="1.0"/>
<text x="514.2" y="269.4" font-size="10.6" text-anchor="end">0.10</text>
<line x1="519.0" y1="297.5" x2="524.0" y2="297.5" stroke="#151515" stroke-width="1.0"/>
<text x="514.2" y="301.3" font-size="10.6" text-anchor="end">−0.05</text>
<line x1="523.4" y1="298.9" x2="592.5" y2="298.9" stroke="#151515" stroke-width="1.2"/>
<line x1="524.4" y1="298.9" x2="524.4" y2="303.9" stroke="#151515" stroke-width="1.0"/>
<line x1="557.4" y1="298.9" x2="557.4" y2="303.9" stroke="#151515" stroke-width="1.0"/>
<line x1="591.5" y1="298.9" x2="591.5" y2="303.9" stroke="#151515" stroke-width="1.0"/>
<text x="523.2" y="313.5" font-size="10.6" text-anchor="middle">0.56</text>
<text x="556.2" y="313.5" font-size="10.6" text-anchor="middle">0.62</text>
<text x="590.3" y="313.5" font-size="10.6" text-anchor="middle">0.68</text>
<text x="528.7" y="234.8" font-size="11.0">r = 0.48</text>
<text x="525.7" y="326.7" font-size="10.85">Validation loss</text>
<text x="525.4" y="337.3" font-size="10.85">(prediction)</text>
<line x1="640.9" y1="230.3" x2="640.9" y2="298.3" stroke="#151515" stroke-width="1.2"/>
<line x1="635.9" y1="232.8" x2="640.9" y2="232.8" stroke="#151515" stroke-width="1.0"/>
<text x="632.0" y="236.6" font-size="10.6" text-anchor="end">0.25</text>
<line x1="635.9" y1="264.4" x2="640.9" y2="264.4" stroke="#151515" stroke-width="1.0"/>
<text x="632.0" y="268.2" font-size="10.6" text-anchor="end">0.10</text>
<line x1="635.9" y1="296.2" x2="640.9" y2="296.2" stroke="#151515" stroke-width="1.0"/>
<text x="632.0" y="300.0" font-size="10.6" text-anchor="end">−0.05</text>
<line x1="640.3" y1="297.7" x2="709.8" y2="297.7" stroke="#151515" stroke-width="1.2"/>
<line x1="641.3" y1="297.7" x2="641.3" y2="302.7" stroke="#151515" stroke-width="1.0"/>
<line x1="675.3" y1="297.7" x2="675.3" y2="302.7" stroke="#151515" stroke-width="1.0"/>
<line x1="709.4" y1="297.7" x2="709.4" y2="302.7" stroke="#151515" stroke-width="1.0"/>
<text x="640.1" y="312.6" font-size="10.6" text-anchor="middle">0.45</text>
<text x="674.1" y="312.6" font-size="10.6" text-anchor="middle">0.60</text>
<text x="708.2" y="312.6" font-size="10.6" text-anchor="middle">0.75</text>
<text x="672.6" y="235.2" font-size="11.0">r = -0.58</text>
<text x="668.0" y="326.5" font-size="10.85">NL</text>
<path transform="scale(.1)" d="M981 837h0m-57 53h0m89 0h0m36 39h0m-32-25h0m-24 1h0m-9 29h0m-3 22h0m-5-23h0m0 17h0m-15-38h0m-4 3h0m-28 37h0m-15-27h0m-19 8h0m-23 26h0m6 50h0m10-33h0m16 10h0m4 23h0m4 6h0m15-31h0m4-16h0m2 34h0m2 15h0m1-32h0m1 10h0m3-13h0m0-12h0m5 32h0m3 3h0m3 14h0m0-38h0m1 17h0m13 0h0m3 15h0m2-48h0m0 32h0m25-27h0m1 39h0m14 2h0m39-45h0m1 56h0m-66 4h0m-11-4h0m-25 41h0m-5-41h0m-11 55h0m-5-35h0m-11 13h0m-34 2h0m-8 9h0m-1-24h0m50 38h0" stroke="#fdb42f" stroke-width="11.0" stroke-linecap="round" stroke-opacity="0.72" fill="none"/>
<path transform="scale(.1)" d="M1009 776h0m43-44h0m17 60h0m-5 12h0m-28 17h0m-15 18h0m-8-5h0m-2-17h0m-18 22h0m-25 0h0m-18-29h0m-26 50h0m19 7h0m9 3h0m8 19h0m6-23h0m6-9h0m15 2h0m6 7h0m7 24h0m5-4h0m1-15h0m4-23h0m0-2h0m5 18h0m3-17h0m6 43h0m5-2h0m0-25h0m1 20h0m8-4h0m10 7h0m9-14h0m4-32h0m3 6h0m4 58h0m-7 11h0m-41-4h0m-25 23h0m-2-27h0m0 33h0m-27-6h0m-5-25h0m11 56h0m6-4h0m16 10h0m2 21h0" stroke="#fca338" stroke-width="11.0" stroke-linecap="round" stroke-opacity="0.72" fill="none"/>
<path transform="scale(.1)" d="M885 466h0m-52 32h0m11 9h0m19-7h0m8 16h0m5 2h0m9-31h0m1 0h0m6-2h0m7 50h0m5-47h0m9 6h0m0 10h0m1 4h0m0 2h0m1 28h0m18-21h0m9 18h0m13-38h0m2 2h0m10 40h0m-28 1h0m-7 35h0m-1 13h0m-6-30h0m-2 6h0m-1-13h0m-4 1h0m-9 2h0m-4 2h0m-1-12h0m-13 33h0m-6-6h0m-1-15h0m-2 39h0m-14-29h0m-17-15h0m53 64h0m14-9h0m1-5h0" stroke="#ed7953" stroke-width="11.0" stroke-linecap="round" stroke-opacity="0.72" fill="none"/>
<path transform="scale(.1)" d="M954 893h0m12-7h0m86 51h0m-9-32h0m-18 23h0m-1 27h0m-33-19h0m-1 23h0m0-27h0m-1 13h0m-12-16h0m-1 23h0m-2-19h0m0 7h0m-4-27h0m-8 15h0m-4-12h0m-5 20h0m-10-6h0m-1-21h0m-30 40h0m-8-4h0m-11 13h0m-12-18h0m-5 57h0m41-22h0m9 19h0m2 14h0m0-3h0m4-4h0m3-21h0m5-5h0m9-3h0m3 25h0m1-11h0m13-10h0m0 41h0m11-44h0m7 45h0m1-32h0m0-4h0m16-20h0m2 11h0m8 38h0m1-50h0m7 13h0m3 6h0m1 64h0m-21-20h0m-18 16h0m-19 8h0m-17 8h0m-26-24h0m-5 40h0m-2-50h0m-1 13h0m-18 42h0m-6-20h0m-14-30h0m-7 15h0" stroke="#fdb42f" stroke-width="11.0" stroke-linecap="round" stroke-opacity="0.72" fill="none"/>
<path transform="scale(.1)" d="M628 1019h0m31-21h0m3 18h0m2-18h0m0-4h0m5-12h0m2-5h0m21 25h0m1-36h0m2 39h0m5-12h0m1 17h0m5 8h0m3 0h0m5-7h0m2-32h0m3 21h0m3-6h0m7 13h0m3-23h0m6 49h0m-18 15h0m-10-21h0m-5 0h0m-2-6h0m-5 10h0m-16 15h0m-24-4h0m-18 2h0" stroke="#7e03a8" stroke-width="11.0" stroke-linecap="round" stroke-opacity="0.72" fill="none"/>
<path transform="scale(.1)" d="M888 933h0m-6 26h0m-8-59h0m-18 29h0m-4-11h0m-3-14h0m-1 20h0m-3-17h0m-2 30h0m-1-8h0m-2-12h0m-3 23h0m-3 14h0m0-25h0m0 1h0m-3-23h0m-1 7h0m-3 26h0m-1-4h0m-3-2h0m-6 9h0m-27-10h0m-5 26h0m3 8h0m6-3h0m4 32h0m9 22h0m4-46h0m12 47h0m2-58h0m1 26h0m1-7h0m21 27h0m1-42h0m2 40h0m5-23h0m8-10h0m1-8h0m3-1h0m42 16h0" stroke="#5c01a6" stroke-width="11.0" stroke-linecap="round" stroke-opacity="0.72" fill="none"/>
<path transform="scale(.1)" d="M668 418h0m22-4h0m2-4h0m55 40h0m-35 9h0m-2-9h0m-2-7h0m-9-14h0m-1 29h0m-3-18h0m-2-9h0m-1-5h0m0 14h0m0 19h0m-3 11h0m-5-3h0m-1-39h0m-1 32h0m-2 6h0m0-16h0m0 22h0m0-12h0m-6-11h0m0 24h0m-1-20h0m-3-22h0m-1 31h0m-2 4h0m-4-8h0m-34 15h0m-9-3h0m-4 2h0m-16-7h0m-4-15h0m25 60h0m4-14h0m3 21h0m3-28h0m0-4h0m1 4h0m3-4h0m4-2h0m1 4h0m28-2h0m9 26h0m5-26h0m1 35h0m1-35h0m0-3h0m5 54h0m9-53h0m5-3h0" stroke="#d5536f" stroke-width="11.0" stroke-linecap="round" stroke-opacity="0.72" fill="none"/>
<path transform="scale(.1)" d="M731 414h0m39 3h0m36-20h0m23 70h0m-10-32h0m-6 13h0m-16-17h0m-1-8h0m-14 23h0m-2 31h0m0-21h0m-3 1h0m-3-17h0m-2 29h0m0-1h0m0-37h0m-3 7h0m-4 32h0m-4-2h0m-8-18h0m-8-8h0m-1 16h0m-4 16h0m-2-12h0m-1-17h0m0-4h0m-17 9h0m-1 13h0m0 1h0m-2-29h0m-2 9h0m-6 5h0m-2 14h0m-1 14h0m-1-50h0m-1 19h0m0-23h0m-2 37h0m-2-8h0m-3 9h0m0 2h0m0-24h0m-2 4h0m-8 16h0m-13 3h0m42 22h0m10 25h0m28-19h0m4 2h0m11-7h0m1 5h0m10 23h0m2-20h0m9-12h0m16 8h0m8 7h0m2 2h0m8-10h0" stroke="#de5f65" stroke-width="11.0" stroke-linecap="round" stroke-opacity="0.72" fill="none"/>
<path transform="scale(.1)" d="M533 648h0m15 5h0m10 3h0m8 21h0m-2-14h0m-2 4h0m-8 35h0m-1-17h0m-1 7h0m-2-1h0m-2-19h0m-2 42h0m-1-40h0m-1-9h0m-3 9h0m-1 11h0m-7-10h0m0 17h0m0 21h0m-1-21h0m0 3h0m-5-23h0m-1 23h0m-1 22h0m-1-22h0m-3-21h0m-6 39h0m-2-33h0m-6-7h0m-4 43h0m13 29h0m2 20h0m2-17h0m2 8h0m2 5h0m1-3h0m1-37h0m1 23h0m2 17h0m3-17h0m1-1h0m4-7h0m2 21h0m1-21h0m0 14h0m9 3h0m1-2h0m8 20h0m1-29h0m3-2h0m5-16h0m9 9h0m7-6h0" stroke="#b52f8c" stroke-width="11.0" stroke-linecap="round" stroke-opacity="0.72" fill="none"/>
<path transform="scale(.1)" d="M958 931h0m-147 70h0m37-19h0m4 37h0m24-1h0m11-21h0m24 14h0m33-7h0m29 34h0m-22 10h0m-12-11h0m0 24h0m-2-23h0m-3 1h0m-2 6h0m-1 18h0m-5-28h0m-1 28h0m-3-24h0m-2 13h0m0 21h0m-3-46h0m-7 8h0m-1 3h0m-12 37h0m0-12h0m-1 2h0m0-3h0m0-32h0m-9 17h0m0 24h0m-5-17h0m-2-4h0m-3-7h0m0 21h0m0 12h0m-1-27h0m-2-5h0m-4 17h0m0-15h0m-3 16h0m0-35h0m-2 7h0m0 14h0m-3 16h0m-6-11h0m-3-7h0m0 19h0m-6-16h0m-7-11h0m-5 2h0m-4 14h0m-9 12h0m-2-38h0m-10 16h0m-17 31h0m-1-13h0m-12 38h0m34-20h0m22 10h0m1-7h0m3 6h0m9 27h0m8-28h0m6 17h0m5-9h0m2 11h0m0-4h0m24-10h0" stroke="#fdc527" stroke-width="11.0" stroke-linecap="round" stroke-opacity="0.72" fill="none"/>
<path transform="scale(.1)" d="M885 831h0m-23-15h0m-3 6h0m0 1h0m-2 6h0m-6-11h0m-8-18h0m0 15h0m-6-11h0m-4 30h0m-2-34h0m-4-9h0m-2 27h0m-1-28h0m-1 33h0m-6 1h0m-12-14h0m25 69h0m4 4h0m11-33h0m4-2h0m2 30h0m1-17h0m4-4h0m0-2h0m0 39h0m2-14h0m3-14h0m0 26h0m1-33h0m1 1h0m0 3h0m0 11h0m2 7h0m4-41h0m1 48h0m3-23h0m3 11h0m0-2h0m7 1h0m1-23h0m1 20h0m9 21h0m8-20h0m3 16h0m-17 23h0m-24-12h0m-9 3h0m-14 16h0m-6-19h0m-8 28h0" stroke="#4c02a1" stroke-width="11.0" stroke-linecap="round" stroke-opacity="0.72" fill="none"/>
<path transform="scale(.1)" d="M849 1052h0m-15 12h0m-3-20h0m-46 25h0m-11 0h0m-4-6h0m-34 0h0m-1-19h0m-22 15h0m-16-1h0m-22 47h0m24 10h0m1-8h0m3 20h0m7-29h0m12 3h0m3-20h0m2 0h0m2 2h0m0 19h0m5 15h0m1 21h0m1-27h0m3 28h0m0-14h0m1-30h0m1 22h0m2 6h0m0-30h0m1 24h0m2 15h0m3 6h0m0 0h0m8-42h0m1 1h0m1-14h0m0 20h0m4 18h0m3-25h0m2 1h0m5-2h0m2 41h0m1-12h0m6-31h0m1 5h0m5-14h0m2 32h0m4-20h0m2-10h0m1 25h0m3-19h0m3 13h0m1 31h0m2-11h0m0-40h0m2 20h0m5-3h0m12-9h0m6 18h0m3 11h0m51-32h0m3 1h0m-3 77h0m-13-5h0m-18 0h0m-7 12h0m-4-13h0m-6-16h0m-39 17h0m-7-18h0m-15 37h0m-4-1h0m-2-13h0m-6-25h0m0 23h0m-4-16h0m-4 4h0m-2-5h0m-1-4h0m-1 9h0m-1 19h0m-1-25h0m0 21h0m-1-25h0m0 11h0m0 42h0m-2-56h0m-6 7h0m-2 0h0m-2 17h0m-6 29h0m-2-54h0m-3 50h0m-7-38h0m-4 2h0m-1 1h0m-4 20h0m-3-21h0m-17-7h0m-38 6h0m-8-9h0m124 62h0" stroke="#fbd524" stroke-width="11.0" stroke-linecap="round" stroke-opacity="0.72" fill="none"/>
<path transform="scale(.1)" d="M638 449h0m-72 66h0m3 2h0m3-11h0m2 17h0m4 2h0m2-25h0m7 2h0m2 2h0m1 34h0m6-8h0m1-9h0m1-19h0m0 12h0m6-14h0m6 16h0m5 12h0m1-29h0m1 8h0m0 9h0m7-10h0m3-5h0m3 2h0m3 12h0m0 19h0m15-5h0m-26 31h0m-11-18h0m-3 16h0m0 5h0m-5 21h0m-7-33h0m-2 0h0m-5 3h0m-9 42h0m-2-56h0m-9 1h0" stroke="#cc4778" stroke-width="11.0" stroke-linecap="round" stroke-opacity="0.72" fill="none"/>
<path transform="scale(.1)" d="M825 842h0m70 84h0m-21 12h0m-1-36h0m-1 30h0m-1-14h0m0 20h0m-17-4h0m-1 10h0m-1-29h0m-1-2h0m-5 45h0m0-52h0m-3 35h0m-1-12h0m-4-23h0m-1 34h0m-2-29h0m0 10h0m-1 32h0m-2 4h0m0-43h0m-4 20h0m-3 7h0m-3 3h0m0-1h0m-1 1h0m0 1h0m0-14h0m-2 4h0m-3-30h0m-6 41h0m0 0h0m-9-17h0m1 36h0m8 0h0m8 20h0m5-25h0m9 11h0m8-4h0m1-5h0m4 11h0" stroke="#5c01a6" stroke-width="11.0" stroke-linecap="round" stroke-opacity="0.72" fill="none"/>
<path transform="scale(.1)" d="M1020 647h0m29 9h0m-21 43h0m-15 9h0m-32 8h0m-18-20h0m-19 22h0m-15-56h0m-16 51h0m31 66h0m10-13h0m3 11h0m9-9h0m14-36h0m1 20h0m3 9h0m1 15h0m3-23h0m1-7h0m0-11h0m1 2h0m0 21h0m2-12h0m5 8h0m2-22h0m0 43h0m1-9h0m1-10h0m3 2h0m4-15h0m5-1h0m0 8h0m2 22h0m0-45h0m5 47h0m17-48h0m50 2h0m1-3h0m-7 63h0m-2 40h0m-12-10h0m-36-19h0m-5 39h0m-6-20h0m-6-30h0m-2 50h0m-2-57h0m-7 50h0m-1-2h0m-33-38h0m-1 5h0m-10 6h0m37 51h0m55-2h0m14 46h0m12-43h0m15 8h0" stroke="#f89540" stroke-width="11.0" stroke-linecap="round" stroke-opacity="0.72" fill="none"/>
<path transform="scale(.1)" d="M663 467h0m-23 5h0m-10 1h0m-53 23h0m1 8h0m0 12h0m9 4h0m7-19h0m0 22h0m1-7h0m9 16h0m1-22h0m2-30h0m1 14h0m0 4h0m1 23h0m1-20h0m8 2h0m2 16h0m0-30h0m21 11h0m3 15h0m-31 33h0m-5-8h0m-2 0h0m-25 34h0m-1-30h0m-24 10h0m0-7h0" stroke="#cc4778" stroke-width="11.0" stroke-linecap="round" stroke-opacity="0.72" fill="none"/>
<path transform="scale(.1)" d="M564 893h0m4-16h0m33 71h0m0-13h0m-2-12h0m-1-8h0m-13-7h0m-2 51h0m-1-24h0m-1 11h0m0-14h0m0 8h0m-3 2h0m-2-26h0m0 40h0m0-44h0m0 5h0m-1 42h0m-2-7h0m-4-32h0m0 19h0m-3-33h0m-1 51h0m-9-31h0m-8 20h0m-3-17h0m-1-26h0m-3 16h0m-7-1h0m-8 17h0m37 63h0m18-32h0m15 5h0m7 45h0m3-13h0m19-13h0" stroke="#9c179e" stroke-width="11.0" stroke-linecap="round" stroke-opacity="0.72" fill="none"/>
<path transform="scale(.1)" d="M908 479h0m-81 45h0m6-22h0m4-21h0m1 2h0m2 31h0m20-11h0m10-3h0m0 23h0m4-8h0m4 23h0m7-51h0m2 22h0m0 24h0m1-15h0m9-5h0m9 26h0m19-9h0m3-11h0m4 10h0m8 0h0m0 0h0m6-18h0m1 2h0m12 10h0m13 53h0m-14-31h0m-13 4h0m-14 34h0m-3 11h0m-5-1h0m-6-15h0m-1-32h0m-1 47h0m-6-23h0m-7-30h0m-3 59h0m0-40h0m-7-5h0m0 16h0m-21 2h0m-6 0h0m-18-25h0m-2-1h0m47 56h0m20 4h0m29 6h0m48 0h0" stroke="#ed7953" stroke-width="11.0" stroke-linecap="round" stroke-opacity="0.72" fill="none"/>
<path transform="scale(.1)" d="M599 564h0m-5-23h0m0 12h0m-4-2h0m-13 45h0m-1-34h0m-1-6h0m0 3h0m-2 35h0m-1-39h0m-2 42h0m-2-19h0m0 14h0m-5 2h0m-3-9h0m-3-3h0m0 15h0m-1-44h0m0 29h0m-2-36h0m-2-1h0m0 42h0m-6-23h0m-6 29h0m-5-7h0m-4 6h0m-21 32h0m11 29h0m2-33h0m2 11h0m17-23h0m1-3h0m1 43h0m2-11h0m0-33h0m6 49h0m0-20h0m1-23h0m1 32h0m1-14h0m0 9h0m3-12h0m2-5h0m5 26h0m3-27h0m2 18h0m8-22h0m3 11h0m2 24h0" stroke="#c13b82" stroke-width="11.0" stroke-linecap="round" stroke-opacity="0.72" fill="none"/>
<path transform="scale(.1)" d="M631 416h0m89 31h0m-20 23h0m-9-18h0m0 11h0m0-25h0m-2 10h0m-3-5h0m-3-6h0m-2 9h0m0 30h0m-8-52h0m-1 2h0m-3 1h0m-1 44h0m-2-18h0m-5-4h0m-2 24h0m-4-31h0m-11 21h0m-6-28h0m-19 34h0m-5-22h0m-1 20h0m-17 12h0m4 22h0m8-2h0m3 2h0m2-10h0m5 23h0m1 4h0m14-31h0m3 5h0m5 13h0m5-16h0m3 39h0m6-36h0m0 6h0m2-10h0m3 2h0m29 24h0m19-19h0m9 17h0" stroke="#d5536f" stroke-width="11.0" stroke-linecap="round" stroke-opacity="0.72" fill="none"/>
<path transform="scale(.1)" d="M759 1078h0m-72-11h0m-29-8h0m-48 72h0m13 4h0m2-47h0m11 10h0m1 41h0m3-10h0m8-20h0m9 26h0m2 0h0m17 3h0m14-2h0m0 0h0m2 3h0m2-22h0m3 4h0m3-25h0m7 32h0m10-17h0m58 31h0m-28 55h0m-7-34h0m-19-3h0m-1 14h0m-11 21h0m-7-8h0m-1-34h0m0 20h0m-5-24h0m0 17h0m-1 7h0m-2-4h0m-8 12h0m-1-20h0m-2 1h0m-14-20h0m-5 50h0m-3-26h0m-2-10h0m-1-13h0m-2 1h0m-6-3h0m-3 8h0m-2-5h0m-2 19h0m-2 2h0m-5 0h0m-2-6h0m-2 1h0m-1-2h0m0 18h0m-2-10h0m-16 15h0m-9-13h0m-3-4h0m-9 16h0m0 19h0m-43-37h0" stroke="#f6e826" stroke-width="11.0" stroke-linecap="round" stroke-opacity="0.72" fill="none"/>
<path transform="scale(.1)" d="M838 899h0m36 26h0m-3 12h0m-16-18h0m-1 35h0m-1-24h0m-3 11h0m-1 10h0m0-44h0m-1-4h0m0 33h0m-1-34h0m-3 45h0m-1-38h0m-3 3h0m-3 10h0m-1 30h0m0-35h0m-10 19h0m-4 3h0m-2 15h0m-1 3h0m-5-27h0m-8 24h0m-13 4h0m0-4h0m-1-37h0m-31 48h0m46 10h0m2 0h0m9-14h0m4 24h0m1-23h0m2 30h0m1-4h0m2-25h0m3 5h0m6 24h0m1-4h0m11-11h0m2-3h0" stroke="#5c01a6" stroke-width="11.0" stroke-linecap="round" stroke-opacity="0.72" fill="none"/>
<path transform="scale(.1)" d="M526 759h0m4-18h0m43 79h0m0-6h0m-9-14h0m-2 36h0m-3-53h0m-5 10h0m-4 43h0m-1-21h0m0 22h0m-1-44h0m-3 14h0m-1 1h0m-6-5h0m-1 18h0m-2-23h0m0 5h0m-3 29h0m-5 7h0m0-4h0m-5-55h0m-1 18h0m-1 32h0m-6-26h0m-3 8h0m-1-12h0m-3 2h0m-2 10h0m4 29h0m11 29h0m5-17h0m1 4h0m3 31h0m2 3h0m4-38h0m2-11h0m5 7h0m2 17h0m1 27h0m2-2h0m2-33h0m0 9h0m1-15h0m7-10h0m5 6h0m1 5h0m24 30h0m-16 28h0" stroke="#aa2395" stroke-width="11.0" stroke-linecap="round" stroke-opacity="0.72" fill="none"/>
<path transform="scale(.1)" d="M513 899h0m31-3h0m7-43h0m3 23h0m16-9h0m39 80h0m-10 12h0m-3-14h0m-4 2h0m-4-6h0m-1 5h0m-11-43h0m-1 34h0m-1-1h0m0 18h0m-5-24h0m-3-4h0m-1 17h0m0-30h0m-1 4h0m-2 9h0m0-24h0m0 6h0m0 48h0m-1-23h0m0-1h0m-1 21h0m0-31h0m-5-17h0m-1 37h0m0-27h0m-4-11h0m-1 3h0m-2 26h0m-5-31h0m-5 25h0m-4-11h0m-2 11h0m0-11h0m20 44h0m19 37h0m18-36h0m2 8h0m1-5h0m8 23h0" stroke="#9c179e" stroke-width="11.0" stroke-linecap="round" stroke-opacity="0.72" fill="none"/>
<path transform="scale(.1)" d="M652 770h0m12-13h0m3 16h0m4-36h0m11 10h0m27 24h0m3-40h0m0 24h0m8 16h0m1-30h0m4 25h0m5-6h0m1 7h0m1-1h0m5-6h0m10 17h0m1-6h0m2-3h0m7-13h0m1 11h0m2 10h0m0-30h0m10 14h0m19 14h0m0-7h0m2 10h0m2-3h0m0-17h0m3 9h0m2 5h0m11 0h0m5-20h0m1 20h0m7-14h0m47 52h0m-27 15h0m-2-39h0m-7-5h0m-12 30h0m0 10h0m-4-9h0m-4-9h0m-1 19h0m-2-19h0m-3 33h0m-3-42h0m-4-5h0m-2 20h0m-2-17h0m-2-6h0m-11 11h0m-5-15h0m-1 24h0m-2-15h0m-3 2h0m0 22h0m-9-30h0m-2 22h0m-7 3h0m-10-24h0m-1 1h0m0 22h0m-2-10h0m-9-2h0m0-6h0m-1 17h0m-7-17h0m-6 10h0m-10 3h0m-5-20h0m0 6h0m-1 18h0m-3-23h0m-6-4h0m-1 29h0m0-4h0m-3-24h0m-1 48h0m0-36h0m-2-13h0m-2 24h0m-1 6h0m0 27h0m-6-31h0m-18 23h0m-9-36h0m-14 37h0m121 17h0m39 12h0" stroke="#3a049a" stroke-width="11.0" stroke-linecap="round" stroke-opacity="0.72" fill="none"/>
<path transform="scale(.1)" d="M913 456h0m-10 22h0m-93-2h0m1 37h0m0 23h0m5-5h0m22-1h0m18 5h0m12-22h0m1-28h0m2 54h0m5-33h0m9 18h0m4-40h0m4 44h0m4-12h0m13-22h0m15 21h0m10-35h0m15 15h0m4 27h0m4-13h0m3-4h0m41 60h0m-35-15h0m-14 14h0m-2 28h0m-8-2h0m0 5h0m-3-43h0m-5 13h0m-1-17h0m-17-4h0m-9 32h0m-8 4h0m-11-33h0m-1 6h0m-6-6h0m-20-1h0m-1 34h0m-13-32h0m23 75h0m35-17h0m35 26h0m45-26h0" stroke="#ed7953" stroke-width="11.0" stroke-linecap="round" stroke-opacity="0.72" fill="none"/>
<path transform="scale(.1)" d="M731 418h0m0-7h0m2 5h0m1-9h0m28-2h0m1 8h0m65 3h0m-20 30h0m-3 1h0m-1-23h0m-4 23h0m0-24h0m-4 30h0m-1 26h0m-6-28h0m-15 27h0m-10-45h0m0-10h0m-1 30h0m-1-32h0m-2 2h0m-1 50h0m-1-10h0m-2 2h0m-6-15h0m-3-12h0m-2 32h0m-1-29h0m-2 5h0m-5 24h0m-2-18h0m-3-3h0m-6 5h0m0-29h0m-12 8h0m-1 23h0m-21 6h0m-7-21h0m-4 26h0m19 23h0m0 2h0m60 12h0m3-18h0m32 9h0m5 3h0m8-3h0" stroke="#de5f65" stroke-width="11.0" stroke-linecap="round" stroke-opacity="0.72" fill="none"/>
<path transform="scale(.1)" d="M876 533h0m133 37h0m-2 11h0m-3 6h0m-11-36h0m-5 48h0m-4-29h0m-21 3h0m-6 25h0m-8-21h0m-14-36h0m-2 39h0m0 13h0m-1 0h0m-3-13h0m-1 15h0m-2-29h0m-19 19h0m-59-3h0m31 59h0m12 0h0m4-14h0m7 22h0m20-38h0m10 31h0m4-33h0m0 37h0m1-26h0m1-6h0m3 30h0m1 12h0m0-8h0m2 7h0m2 3h0m0-20h0m2 6h0m13-11h0m5 8h0m1-39h0m2 20h0m4-2h0m9 6h0m6-23h0m4 25h0m4 9h0m14 21h0m1-33h0m27-4h0m14 38h0m-41 25h0m-3 21h0m-15-12h0m-7-10h0m-10-9h0m0-11h0m-5 26h0m-1-28h0m-29 11h0m-7-8h0m-12 7h0m-1 9h0m-18-17h0m0 8h0m78 62h0m42 9h0" stroke="#f3874a" stroke-width="11.0" stroke-linecap="round" stroke-opacity="0.72" fill="none"/>
<path transform="scale(.1)" d="M518 659h0m0-7h0m4-8h0m7 1h0m5 0h0m10-27h0m5 36h0m4-13h0m1-6h0m16 3h0m3 29h0m-3 25h0m-15-24h0m-3-3h0m-1 28h0m-2-23h0m-6 44h0m0-51h0m-2 20h0m-2-12h0m-7 22h0m-8-11h0m-1-15h0m0 46h0m0-45h0m-1 9h0m-4 15h0m-2 3h0m-1-18h0m-2 39h0m-2-32h0m-2-18h0m-1 31h0m-1-37h0m-7 44h0m-9 23h0m14 32h0m9 12h0m6-51h0m0 5h0m1 21h0m0-11h0m2 3h0m4-17h0m4 27h0m2 21h0m2-49h0m1 27h0m0-10h0m1 5h0m2 16h0m2 18h0m5-43h0m1 2h0m3 4h0m2 10h0m3 27h0m0-21h0m3-21h0m7 16h0m2-5h0m-11 42h0m-3-5h0m-18 3h0m-16 17h0" stroke="#b52f8c" stroke-width="11.0" stroke-linecap="round" stroke-opacity="0.72" fill="none"/>
<path transform="scale(.1)" d="M494 770h0m10-40h0m5 42h0m29-3h0m25 10h0m13 30h0m-1 10h0m-9 11h0m-10-2h0m-1-18h0m-7 15h0m-1-18h0m-1 31h0m-3-26h0m-5 23h0m0 1h0m0 0h0m-1-41h0m-1-12h0m-2 5h0m0 13h0m-1-3h0m-6 9h0m-1-24h0m-7 9h0m-3 8h0m-5-8h0m-2 83h0m3-30h0m8 3h0m8-6h0m2 1h0m3 30h0m7 25h0m0-7h0m1-35h0m3 12h0m0-10h0m1 3h0m1 36h0m0-40h0m5 22h0m1 19h0m7-22h0m1 3h0m0-33h0m2 29h0m1-33h0m0 5h0m3 34h0m2-7h0m2 19h0m4-25h0m5 47h0m-1-12h0m-28-1h0m-31 4h0" stroke="#aa2395" stroke-width="11.0" stroke-linecap="round" stroke-opacity="0.72" fill="none"/>
<path transform="scale(.1)" d="M926 655h0m39-6h0m14-1h0m7 3h0m6-1h0m97 8h0m2 33h0m-63 23h0m-2-54h0m-4 33h0m-10 19h0m-4-1h0m-2-16h0m-14 1h0m-2-15h0m-21 22h0m-24 12h0m-9-30h0m3 69h0m35-18h0m8 40h0m2-4h0m4-32h0m13 33h0m5-42h0m5 46h0m26 0h0m37-10h0m22-2h0m16 33h0m-49 39h0m-25-8h0m-4 10h0m-9-21h0m-21-37h0m-6 58h0m-3-27h0m-8-2h0m-14 2h0m-18 15h0m-11-6h0m-16 13h0m-18-22h0m83 38h0m11 11h0m14-19h0m11 33h0m52 25h0" stroke="#f89540" stroke-width="11.0" stroke-linecap="round" stroke-opacity="0.72" fill="none"/>
<path transform="scale(.1)" d="M777 952h0m-54 8h0m6 28h0m11 26h0m13 2h0m2-17h0m1 19h0m0-28h0m4 18h0m5-2h0m1-29h0m1 28h0m1-25h0m0 26h0m3 5h0m1-2h0m4-22h0m3-23h0m1 52h0m1-35h0m0 12h0m0-33h0m1 34h0m1-14h0m1 37h0m7-7h0m0-34h0m1 3h0m7 11h0m2 0h0m0 4h0m1-11h0m0 11h0m1 19h0m1-41h0m1 22h0m0-4h0m3-15h0m7 31h0m7-40h0m-11 59h0m-12 4h0" stroke="#6e00a8" stroke-width="11.0" stroke-linecap="round" stroke-opacity="0.72" fill="none"/>
<path transform="scale(.1)" d="M788 417h0m36-3h0m1-11h0m2 8h0m29-3h0m21 47h0m-8 21h0m-13-9h0m-25 3h0m-11 8h0m-3-26h0m-3 6h0m-2 5h0m-1-14h0m-16 20h0m-1-48h0m-6 40h0m-26 14h0m34 47h0m3-27h0m2-13h0m8 5h0m16 21h0m0 3h0m4-30h0m8 11h0m1 36h0m2-37h0m1 15h0m11 10h0m1 1h0m3 7h0m1 3h0m3-7h0m2-21h0m0-15h0m1-3h0m3 47h0m47-23h0m-54 71h0" stroke="#e66c5c" stroke-width="11.0" stroke-linecap="round" stroke-opacity="0.72" fill="none"/>
<path transform="scale(.1)" d="M992 582h0m-12 14h0m-9 0h0m-19 3h0m-18-15h0m-20 3h0m-7 11h0m-8 52h0m6-33h0m28-4h0m1-11h0m0 25h0m1-3h0m1-13h0m2 18h0m0-14h0m7 37h0m0-8h0m1 6h0m3-1h0m5-11h0m1-15h0m1 2h0m1 9h0m2-14h0m8 8h0m0 21h0m0-9h0m15 3h0m4 0h0m3-15h0m3 30h0m3-2h0m3-10h0m2-41h0m36 34h0m1-7h0m-8 38h0m-9 30h0m-15 5h0m-4-35h0m-6 9h0m-6-15h0m-2 9h0m-4 46h0m-1-25h0m-16-7h0m-8 12h0m-2-19h0m-7-12h0m12 70h0" stroke="#f3874a" stroke-width="11.0" stroke-linecap="round" stroke-opacity="0.72" fill="none"/>
<path transform="scale(.1)" d="M725 414h0m10 2h0m15-7h0m54-1h0m-2 32h0m0 29h0m-16-12h0m-6-15h0m-4 19h0m0-13h0m0 2h0m-2-30h0m-3 31h0m-3-11h0m-4 4h0m-3 2h0m-5 7h0m-3 17h0m-5-12h0m-1-18h0m-3 21h0m-1-32h0m-1 12h0m-3-21h0m-7 23h0m-4 1h0m-2 11h0m-2-10h0m-7-6h0m0 23h0m-5 15h0m-4-49h0m-2 28h0m-1-3h0m-5 25h0m-2-26h0m-8-30h0m-7 17h0m-3 46h0m58-2h0m26 12h0m4-6h0m23-8h0" stroke="#de5f65" stroke-width="11.0" stroke-linecap="round" stroke-opacity="0.72" fill="none"/>
<path transform="scale(.1)" d="M597 954h0m-50 36h0m25 8h0m6-18h0m7 12h0m5 8h0m2-9h0m1-15h0m5-11h0m0 15h0m11 14h0m2 23h0m2-45h0m13 39h0m2-20h0m0 15h0m4 8h0m20-14h0m6 3h0m13 14h0m6 1h0m0-37h0m5 25h0m-8 15h0m-24 13h0m-15 5h0m-6-5h0m-1 4h0m-1 4h0m-28-7h0" stroke="#8d0ba5" stroke-width="11.0" stroke-linecap="round" stroke-opacity="0.72" fill="none"/>
<path transform="scale(.1)" d="M830 1010h0m61 8h0m3-14h0m14-9h0m14 10h0m2 4h0m8 3h0m37 40h0m-2 9h0m-11-20h0m-8 10h0m-8 25h0m0-20h0m-26-23h0m-1 10h0m-9 5h0m-1 14h0m-7 2h0m-2-8h0m-5 2h0m0-8h0m-1-2h0m-4 8h0m0-14h0m-2 11h0m-2 4h0m-1-9h0m-2 31h0m0-14h0m-6-45h0m-2 14h0m-2-5h0m0 35h0m-3 5h0m-6-6h0m-2-25h0m-3 7h0m-2-14h0m-5 5h0m0-7h0m-5 15h0m-3 22h0m-1-10h0m-42-11h0m-27 45h0m63 22h0m3-8h0m17-4h0m1 10h0m4-26h0m3 2h0m1 25h0m1 2h0m8-30h0m8-3h0m8 5h0m8 12h0m1-8h0m6-7h0m4 0h0m1 3h0m10 33h0m16 5h0m18-14h0m-71 34h0m-23-2h0m-21 53h0" stroke="#fdc527" stroke-width="11.0" stroke-linecap="round" stroke-opacity="0.72" fill="none"/>
<path transform="scale(.1)" d="M1021 663h0m-12 36h0m-5-9h0m0 23h0m-14-16h0m-3 17h0m-2-44h0m-10 31h0m-4-25h0m-7 37h0m-23-13h0m-13 20h0m22 52h0m4-24h0m0 26h0m13 1h0m1-45h0m2 27h0m0-1h0m14 6h0m1-20h0m3 32h0m10-3h0m5-7h0m14 1h0m1-40h0m4 11h0m0 41h0m16-14h0m3-6h0m1 3h0m5 9h0m11-36h0m6 24h0m33-7h0m11 40h0m-18 3h0m-10 10h0m-10 26h0m-16-25h0m-3-15h0m-17 10h0m-4-9h0m-2 3h0m-6 39h0m-15-4h0m-11-37h0m-7 10h0m0 16h0m-8-8h0m-22-18h0m-2 27h0m-14-12h0m-7-6h0m-2-8h0m59 100h0m14-35h0m8-6h0" stroke="#f89540" stroke-width="11.0" stroke-linecap="round" stroke-opacity="0.72" fill="none"/>
<path transform="scale(.1)" d="M864 443h0m-3 31h0m-9 3h0m-3-19h0m-11 2h0m-1-39h0m-6 28h0m0 9h0m-3 1h0m-8-38h0m-6 42h0m-1 7h0m-3-15h0m-2-15h0m-2 0h0m0-13h0m-14 37h0m-20 5h0m-1 7h0m-7 4h0m18 7h0m9 8h0m8 37h0m25-47h0m1 43h0m7 1h0m7-22h0m1-16h0m4 4h0m2-4h0m11-11h0m7 53h0m3-44h0m2 37h0m1-37h0m4 47h0m3-52h0m1 24h0m11-22h0m9 61h0m-67-4h0m-31 23h0" stroke="#e66c5c" stroke-width="11.0" stroke-linecap="round" stroke-opacity="0.72" fill="none"/>
<path transform="scale(.1)" d="M730 1019h0m137 60h0m-8-21h0m-1 18h0m-11-21h0m-7 3h0m-5 7h0m-1-9h0m-7-3h0m-7 12h0m-72-15h0m0-2h0m-6 8h0m-1 13h0m-14-9h0m-2-18h0m-30 35h0m-18 18h0m1 31h0m7-10h0m5-15h0m1-4h0m5 4h0m5 18h0m1-22h0m6 37h0m11-4h0m5-12h0m1 3h0m3-8h0m6 3h0m5-15h0m0 16h0m0-18h0m1-19h0m5 20h0m5 36h0m11-17h0m3 3h0m3-32h0m1 49h0m8-9h0m0-13h0m11 3h0m0 0h0m15-15h0m2 23h0m2-42h0m1 15h0m1-6h0m0 5h0m10-11h0m0 22h0m3 23h0m18-10h0m3-15h0m3 24h0m12-4h0m9-48h0m1 13h0m7 30h0m5-44h0m-60 63h0m-5 42h0m-10 5h0m-9-31h0m0 24h0m-3 4h0m-7-44h0m0 46h0m-4-25h0m-2-9h0m-6 10h0m0-9h0m-5 40h0m0-24h0m-2-23h0m-3 2h0m-2 5h0m-4-8h0m-2-4h0m-2 46h0m0-37h0m-1-13h0m-11 4h0m-5 4h0m-2 15h0m-6-3h0m-2 1h0m-1-19h0m0 2h0m-2 38h0m-1-39h0m-3 28h0m-8-18h0m-5 24h0m-9-26h0m-11-6h0m-9-4h0m-3 13h0m-14-6h0m108 55h0m22 25h0" stroke="#fbd524" stroke-width="11.0" stroke-linecap="round" stroke-opacity="0.72" fill="none"/>
<path transform="scale(.1)" d="M863 476h0m-7-39h0m-1 23h0m-1-23h0m-6 27h0m-12-11h0m-5 19h0m-15-17h0m-1-18h0m-1 29h0m-8-10h0m-2-21h0m-9 16h0m-2-7h0m-1-6h0m-1 11h0m-1-21h0m-2 34h0m-16-40h0m-14 15h0m2 52h0m7-8h0m35 37h0m0-31h0m3 0h0m2 7h0m4 2h0m8-8h0m15 30h0m2 20h0m2-54h0m4 15h0m10-7h0m1 9h0m5 0h0m4 8h0m0-23h0m0 8h0m1 36h0m7-5h0m0-26h0m22 15h0m22-8h0" stroke="#e66c5c" stroke-width="11.0" stroke-linecap="round" stroke-opacity="0.72" fill="none"/>
<path transform="scale(.1)" d="M708 718h0m-36 60h0m0-31h0m1 32h0m9-8h0m2 8h0m8-18h0m2-3h0m0-20h0m3 19h0m4 15h0m1 0h0m1 7h0m1-6h0m1-43h0m4 29h0m0 19h0m0-10h0m19 2h0m2 7h0m1-5h0m12 2h0m3-16h0m3 17h0m0-20h0m4 22h0m7-4h0m4-4h0m3 1h0m0 0h0m1 4h0m4-10h0m6 15h0m1-46h0m6 45h0m9-24h0m4 25h0m2 0h0m5-4h0m3-1h0m22 0h0m32-22h0m-13 54h0m-6-13h0m-12 13h0m-9-9h0m-2 15h0m-4-5h0m-2 11h0m0-23h0m-5-2h0m-13-7h0m-3 6h0m-2 27h0m-6-31h0m-4-8h0m-2 4h0m-3 21h0m0 19h0m-3-23h0m-8-19h0m-10 28h0m-2-8h0m-2-15h0m-12 2h0m-1-1h0m-4 3h0m-2 14h0m-12-17h0m-3 27h0m-4-35h0m-5 7h0m-1 15h0m-11-10h0m-10 10h0m-13-21h0m124 80h0" stroke="#3a049a" stroke-width="11.0" stroke-linecap="round" stroke-opacity="0.72" fill="none"/>
<path transform="scale(.1)" d="M973 757h0m78 65h0m-72-29h0m-8 29h0m-39 66h0m2-30h0m9 5h0m5 21h0m27-4h0m1-16h0m1 2h0m11 26h0m4-41h0m0 40h0m9 0h0m18-19h0m0 24h0m3-18h0m24-28h0m-9 50h0m-19 17h0m-1 30h0m-9-43h0m-10-1h0m-1 51h0m-11-42h0m-3-6h0m-8 43h0m-42-40h0m-7-3h0m-1-2h0m66 63h0m1 14h0m10 22h0m-37 38h0" stroke="#fca338" stroke-width="11.0" stroke-linecap="round" stroke-opacity="0.72" fill="none"/>
<path transform="scale(.1)" d="M524 775h0m29-20h0m5 54h0m-2-28h0m-4 45h0m0-10h0m-5 9h0m-6-9h0m-5 11h0m-2 0h0m-4 10h0m-5-2h0m-1-46h0m-2 37h0m-2-33h0m-1 3h0m-1 0h0m-20 84h0m14-39h0m3 38h0m9-14h0m5-14h0m0-5h0m7 17h0m1 13h0m1 15h0m2-35h0m2 15h0m1-5h0m1-18h0m2 1h0m0-9h0m2 35h0m1-11h0m2-3h0m0 11h0m1-11h0m0 12h0m6-13h0m4-12h0m21 21h0m-15 42h0m-12-5h0m-30 15h0" stroke="#aa2395" stroke-width="11.0" stroke-linecap="round" stroke-opacity="0.72" fill="none"/>
<path transform="scale(.1)" d="M519 649h0m17-6h0m11-1h0m60 36h0m-42-2h0m-2 7h0m-2 25h0m-3-6h0m-3-7h0m-2 22h0m-4-48h0m-1 25h0m-2-27h0m-2 0h0m-1 50h0m-1-12h0m-4-39h0m0 22h0m-1 29h0m-1-1h0m-2-54h0m-5-1h0m-1 37h0m0 3h0m0 15h0m-5-27h0m-1 19h0m-1-28h0m0-17h0m-2 12h0m-3 21h0m0-1h0m-15 59h0m6-15h0m4 7h0m7-5h0m3 36h0m6-9h0m1-45h0m2 20h0m0 8h0m1 22h0m4-48h0m1 39h0m2 0h0m1-39h0m2 23h0m0 20h0m16-11h0m6-34h0m-9 64h0m-34 10h0" stroke="#b52f8c" stroke-width="11.0" stroke-linecap="round" stroke-opacity="0.72" fill="none"/>
<path transform="scale(.1)" d="M672 408h0m2 6h0m67 60h0m-29-5h0m-1 7h0m-2-12h0m-2-13h0m-11-7h0m-2 29h0m-4-11h0m-11 13h0m-3-18h0m-2 12h0m-3-14h0m-1-27h0m-3 31h0m-11-2h0m-3-31h0m-9 48h0m-1-45h0m-8 22h0m-1 9h0m-1-32h0m-5 46h0m-2 0h0m-34-34h0m4 51h0m50-10h0m8 33h0m0-23h0m12-8h0m2 1h0m5 19h0m2 33h0m3-38h0m1-18h0m16 14h0m7-1h0m0-4h0m14 32h0m5-28h0m4-10h0" stroke="#d5536f" stroke-width="11.0" stroke-linecap="round" stroke-opacity="0.72" fill="none"/>
<path transform="scale(.1)" d="M864 522h0m108 2h0m44 46h0m-13 14h0m-1-10h0m-3 13h0m-32 8h0m-3-50h0m-9 49h0m-11 2h0m-6-19h0m-7-5h0m-9 5h0m-3-16h0m-4-19h0m-2 25h0m-4 24h0m-30 20h0m10 27h0m18-34h0m5 11h0m4 30h0m6 0h0m8-5h0m1 17h0m19-6h0m2 5h0m8-25h0m3-11h0m1 25h0m5-22h0m2 10h0m11-8h0m2-11h0m2 21h0m1 8h0m2 14h0m5-26h0m19-12h0m22 59h0m-17 11h0m-1 9h0m-17 17h0m-44 4h0m-3 0h0m-9-55h0m-1 4h0m-2 3h0m-7-4h0m-2 16h0m-54 0h0m30 50h0m82 5h0" stroke="#f3874a" stroke-width="11.0" stroke-linecap="round" stroke-opacity="0.72" fill="none"/>
<path transform="scale(.1)" d="M655 761h0m11 8h0m14 3h0m5 0h0m0-1h0m12 1h0m5-26h0m1 30h0m13-26h0m1 19h0m1-10h0m0-17h0m4 3h0m0 31h0m6-3h0m12-1h0m4-1h0m5 8h0m1-32h0m6 5h0m3 10h0m3 6h0m2-18h0m4 23h0m7-8h0m10 6h0m13 5h0m0 2h0m1-7h0m1-4h0m1-2h0m77 41h0m-28-17h0m-13 10h0m-2-11h0m-10 5h0m-12 17h0m-3 28h0m-1-44h0m-2 6h0m-2-4h0m-10-15h0m-1 0h0m-3 12h0m-1 1h0m-7-5h0m-3 6h0m-10-12h0m-5 8h0m-4 14h0m-1-21h0m-4 5h0m-3 1h0m-9 8h0m-8-8h0m0 17h0m-6 0h0m-14-17h0m0 25h0m-1-19h0m-2-10h0m0-3h0m-4 1h0m-1 22h0m-7-8h0m-1-5h0m-3-9h0m-11-4h0m-3 21h0m-4 7h0m-11-20h0m-5-5h0m-1 26h0m-1-3h0m-16-8h0m193 43h0" stroke="#3a049a" stroke-width="11.0" stroke-linecap="round" stroke-opacity="0.72" fill="none"/>
<path transform="scale(.1)" d="M889 786h0m-3 24h0m-15-23h0m-2-5h0m-2 43h0m-1 8h0m-1-30h0m-5 32h0m-15-7h0m0-15h0m-4-2h0m0 16h0m0-6h0m-5 1h0m-2 14h0m0-33h0m-6-3h0m-4 30h0m-1-1h0m-9 27h0m13 9h0m8 14h0m9-3h0m1-8h0m6-4h0m1-1h0m5-9h0m1 12h0m0 33h0m1-23h0m3 11h0m1-47h0m0 38h0m2-29h0m2 36h0m1-26h0m3 20h0m1 14h0m1-38h0m1 1h0m0-16h0m4 1h0m6 34h0m2 0h0m13 12h0m5-36h0m11-4h0m-33 66h0m-14 25h0m-7-8h0m-3-19h0m-3 6h0m-26-16h0m-3 29h0" stroke="#4c02a1" stroke-width="11.0" stroke-linecap="round" stroke-opacity="0.72" fill="none"/>
<path transform="scale(.1)" d="M629 1077h0m-81 29h0m16 7h0m5 2h0m14-22h0m10 37h0m8 5h0m8-12h0m6 10h0m9-3h0m1 7h0m0-1h0m2-3h0m4 4h0m4-5h0m16-20h0m1 3h0m5 19h0m1-38h0m2 37h0m1 2h0m5-45h0m1 18h0m0 10h0m4 13h0m9-30h0m2 15h0m2 8h0m1 10h0m4-6h0m11-5h0m6-14h0m2 0h0m2-19h0m1 42h0m9-34h0m4 18h0m11 12h0m4 5h0m35-34h0m-45 51h0m-4 24h0m-1 8h0m-14-14h0m-16-25h0m-1 24h0m-7-11h0m-3-5h0m-7 32h0m-1-11h0m-3-19h0m0 18h0m-9-19h0m0 26h0m-2-38h0m-4 16h0m-1-7h0m-3-2h0m-3 16h0m-9-23h0m-4 25h0m-3 32h0m-4-19h0m-1-26h0m-6 8h0m-7 1h0m-22 1h0m-13 7h0m-30 15h0m93 46h0m55-28h0" stroke="#f6e826" stroke-width="11.0" stroke-linecap="round" stroke-opacity="0.72" fill="none"/>
<path transform="scale(.1)" d="M891 821h0m-11-4h0m-7 7h0m-1 15h0m-7-8h0m-1-24h0m-3 21h0m-4-22h0m-1 18h0m0-3h0m-5-15h0m-2-11h0m-1 25h0m-5 0h0m-1 19h0m-1-23h0m-2-33h0m-3 38h0m-1-8h0m-1 17h0m-2-8h0m-15-5h0m14 24h0m4 27h0m3 0h0m1-20h0m4 17h0m7-17h0m1 34h0m7-4h0m3-10h0m0 1h0m7-17h0m2 4h0m4 0h0m3-14h0m2 32h0m2 2h0m2-21h0m3 3h0m4-12h0m1 38h0m38 10h0m-31 8h0m-22 3h0m-16 7h0m-12 23h0m0-29h0m-8 12h0" stroke="#4c02a1" stroke-width="11.0" stroke-linecap="round" stroke-opacity="0.72" fill="none"/>
<path transform="scale(.1)" d="M653 1014h0m14-22h0m3 11h0m7 8h0m2 7h0m1-14h0m3 9h0m4-14h0m8-1h0m2-10h0m1 30h0m0-10h0m1-7h0m1 2h0m2 0h0m7-7h0m2-23h0m3 26h0m2-29h0m9 13h0m1 25h0m7-5h0m13 4h0m0-27h0m29 35h0m-37 30h0m-5-24h0m-13 15h0m-6 6h0m-13 12h0m-3-19h0m-22 19h0m-36-16h0" stroke="#7e03a8" stroke-width="11.0" stroke-linecap="round" stroke-opacity="0.72" fill="none"/>
<path transform="scale(.1)" d="M703 1062h0m-79 14h0m-38 3h0m-18 51h0m26 9h0m9-4h0m12-24h0m6 18h0m8 9h0m2-11h0m1-8h0m4-15h0m1-4h0m4-17h0m2 54h0m8-9h0m1-12h0m3 23h0m16-14h0m8 6h0m3-45h0m1 0h0m0 48h0m3-31h0m7 3h0m16-7h0m6 3h0m30-1h0m5 18h0m15 2h0m-24 32h0m-9 38h0m-10-50h0m-3 1h0m-3 37h0m-2-34h0m-20 38h0m-2-42h0m-9 11h0m-1 4h0m-1 20h0m-3-15h0m-9 6h0m-9-17h0m-3 35h0m-2-17h0m-1 14h0m-2 9h0m-4-31h0m0 0h0m-4 16h0m-3-36h0m-5 38h0m-4-32h0m-2 11h0m-11-11h0m-4 18h0m0 3h0m-3-13h0m-16-14h0m-5 2h0m-3 29h0m-5-16h0m-11-10h0m30 62h0" stroke="#f6e826" stroke-width="11.0" stroke-linecap="round" stroke-opacity="0.72" fill="none"/>
<path transform="scale(.1)" d="M862 999h0m4-5h0m1-4h0m0 20h0m7 4h0m42-7h0m0 6h0m16 4h0m2-29h0m7-19h0m53 40h0m-36 64h0m-13-10h0m-2 11h0m-13-23h0m-7 28h0m-13-40h0m-5-16h0m-2 53h0m-3-13h0m-4-3h0m-1-21h0m-2 38h0m-1-18h0m-1 17h0m-6-30h0m-2 3h0m-2 26h0m-1-4h0m-5-32h0m-7 37h0m0-28h0m-1-19h0m-4 39h0m-2 5h0m-3-43h0m0 46h0m-1-11h0m-1-3h0m0-15h0m-1 20h0m-5-24h0m-3 10h0m-7 10h0m0-1h0m-9 4h0m-1 5h0m-7-9h0m-3 9h0m-6-25h0m-4-22h0m-2 35h0m-16 2h0m-3-17h0m15 41h0m8 18h0m2-20h0m1 55h0m9-54h0m3-4h0m3 12h0m3 30h0m15-4h0m14-25h0m8-6h0m11-3h0m6 5h0m0 12h0m15-9h0m3-7h0m13 6h0m6-10h0m3 44h0m4-24h0m15-8h0m-153 50h0" stroke="#fdc527" stroke-width="11.0" stroke-linecap="round" stroke-opacity="0.72" fill="none"/>
<path transform="scale(.1)" d="M921 1073h0m-84-1h0m-9-8h0m-25-22h0m-3 25h0m-5 6h0m-18-3h0m-28-31h0m-5 8h0m-14 17h0m-16 8h0m-34-6h0m-1 71h0m5-30h0m17 6h0m14 5h0m2-38h0m1 49h0m3 5h0m1 0h0m3-18h0m7 0h0m2 18h0m2-36h0m7 30h0m0-35h0m0-4h0m1-9h0m8 18h0m4-3h0m0-6h0m1-3h0m0 36h0m1-5h0m1-3h0m1 17h0m0-25h0m1 14h0m5 10h0m0-45h0m1-1h0m0 21h0m0 24h0m4-4h0m1 9h0m6-38h0m0 17h0m6 20h0m2-13h0m9-32h0m1-4h0m4 26h0m1 17h0m2-2h0m4-41h0m4 29h0m2-2h0m1-3h0m3-26h0m3 8h0m2 21h0m2-23h0m1 36h0m1-6h0m3-7h0m13 25h0m17-52h0m2 16h0m26-4h0m6 26h0m-64 74h0m-13-45h0m-8 29h0m-3-35h0m-3 2h0m-7 1h0m-2-1h0m-3 3h0m-7-2h0m-3-3h0m-9 23h0m-2 17h0m-7-31h0m-3 1h0m-13-14h0m-2 3h0m-5-1h0m-6 13h0m-5 0h0m-4-4h0m-4-6h0m0 42h0m-3-44h0m-1 21h0m-5 3h0m-1-4h0m-9-23h0m-16 6h0m-7 46h0m-35-7h0m-4 10h0m-2-12h0m128 18h0" stroke="#fbd524" stroke-width="11.0" stroke-linecap="round" stroke-opacity="0.72" fill="none"/>
<path transform="scale(.1)" d="M842 954h0m-10-4h0m-4 0h0m-67-8h0m0 7h0m-57 67h0m21 1h0m8-33h0m3 0h0m5 24h0m8 5h0m3-32h0m8 15h0m0-15h0m7 20h0m0-7h0m2-7h0m5 27h0m2-33h0m4-7h0m2 14h0m1 8h0m0-19h0m3 15h0m0 3h0m2-25h0m1 28h0m7 14h0m10-40h0m2 16h0m1 11h0m11-34h0m1 12h0m5 7h0m10 15h0m0-1h0m-22 23h0m-69 9h0m-17 8h0" stroke="#6e00a8" stroke-width="11.0" stroke-linecap="round" stroke-opacity="0.72" fill="none"/>
<path transform="scale(.1)" d="M1074 891h0m-25 35h0m-20 9h0m-13-25h0m-3 29h0m-23-10h0m0 30h0m-7-32h0m-7 8h0m-22 9h0m-1 0h0m-16 12h0m-3-45h0m-48 46h0m-16-29h0m-10 8h0m42 68h0m3-19h0m3-14h0m3 36h0m1-10h0m11 20h0m9-48h0m9 12h0m11 17h0m1 5h0m18-20h0m3 30h0m1-30h0m1-20h0m5 2h0m1 5h0m7 48h0m1-16h0m1-34h0m6 44h0m22-47h0m-16 55h0m-36 15h0m-2 3h0m-15 26h0m-8-6h0m-10-31h0m-32-1h0m-10 12h0m-3 36h0m-8-15h0" stroke="#fdb42f" stroke-width="11.0" stroke-linecap="round" stroke-opacity="0.72" fill="none"/>
<path transform="scale(.1)" d="M577 1008h0m9-27h0m7-19h0m4 20h0m0 6h0m1 16h0m0-15h0m3 0h0m3 16h0m1-24h0m1 13h0m2-26h0m1 29h0m0-21h0m5 42h0m3-40h0m1 25h0m5-10h0m2-10h0m0 15h0m3-2h0m1-11h0m1 8h0m1-6h0m0-9h0m4 40h0m1-33h0m3 1h0m18 16h0m16 24h0m-9 2h0m-8-4h0m-7 15h0m-10-6h0m-12 37h0m-2-49h0m-4 1h0m-2 4h0m-10 7h0m-1-11h0m-25 26h0m-14-24h0" stroke="#8d0ba5" stroke-width="11.0" stroke-linecap="round" stroke-opacity="0.72" fill="none"/>
<path transform="scale(.1)" d="M579 517h0m14 54h0m-6-7h0m-2 21h0m-2-19h0m-7 15h0m-3-21h0m-1 24h0m-2-20h0m0 20h0m0 7h0m-7-25h0m-3-13h0m-1 19h0m-3 20h0m-4-21h0m-2 26h0m-1-17h0m-1-40h0m-1 46h0m-3-17h0m-3-4h0m-7 30h0m-13 63h0m4-9h0m0-4h0m0 12h0m17-50h0m2 26h0m0 9h0m0-25h0m3-8h0m3 33h0m1 5h0m1-15h0m6-30h0m1 18h0m3-13h0m3 24h0m2-31h0m2 2h0m3 1h0m20 2h0m15 2h0m-30 59h0m-24 19h0" stroke="#c13b82" stroke-width="11.0" stroke-linecap="round" stroke-opacity="0.72" fill="none"/>
<path transform="scale(.1)" d="M633 988h0m8 21h0m9-14h0m5 15h0m5-31h0m5 3h0m15-20h0m2 13h0m2 26h0m0 10h0m12-27h0m1 24h0m8 1h0m14 8h0m0-19h0m3-3h0m1-15h0m2 27h0m7 5h0m15-15h0m10 8h0m23-22h0m16-9h0m-45 74h0m-12 3h0m-14-30h0m-2 2h0m-12 7h0m-5-2h0m-12-2h0m-1-6h0m-19 13h0m-17 1h0" stroke="#7e03a8" stroke-width="11.0" stroke-linecap="round" stroke-opacity="0.72" fill="none"/>
<path transform="scale(.1)" d="M537 530h0m35-1h0m8 7h0m28 0h0m-17 62h0m-3-8h0m-5-42h0m-1 9h0m-1 25h0m-3-9h0m-4-14h0m-5 18h0m-6 8h0m0-27h0m-1 18h0m-2 20h0m-2-48h0m-2 28h0m-1-7h0m-4-1h0m-2 13h0m-7 5h0m-15-7h0m-7 20h0m-12 22h0m6 4h0m9 20h0m6 10h0m7-15h0m1-32h0m2 25h0m0 20h0m7-38h0m3 6h0m3 18h0m0-8h0m4-2h0m4-12h0m0-4h0m3 13h0m1 20h0m3-31h0m2 8h0m2 17h0m0-12h0m7-25h0m6 13h0m8-5h0m3-10h0" stroke="#c13b82" stroke-width="11.0" stroke-linecap="round" stroke-opacity="0.72" fill="none"/>
<path transform="scale(.1)" d="M645 479h0m-75 53h0m3-40h0m4 42h0m2 2h0m1-9h0m1-15h0m3-3h0m3-13h0m4 30h0m0-38h0m1 20h0m5-1h0m0 27h0m2-2h0m2-9h0m6-20h0m2 6h0m2-4h0m0 1h0m11-13h0m2 2h0m4 30h0m0 4h0m2-10h0m6-34h0m2 4h0m13 75h0m-49-11h0m-3-2h0m-11 17h0m-7-4h0m-3-1h0m-3 11h0m-8-25h0m-10 31h0" stroke="#cc4778" stroke-width="11.0" stroke-linecap="round" stroke-opacity="0.72" fill="none"/>
<path transform="scale(.1)" d="M530 874h0m8 12h0m7-9h0m4-26h0m6 48h0m11-23h0m3 22h0m17-4h0m8 22h0m0 25h0m-1-17h0m-4 16h0m0 7h0m-1 5h0m-5-37h0m-2 34h0m0-7h0m-5 14h0m-2-42h0m-2 27h0m-1 3h0m0-31h0m-2 39h0m0-29h0m-2 9h0m-11-29h0m-1 50h0m-4-29h0m0-9h0m0-12h0m-5 1h0m-4 40h0m-5-44h0m-11 14h0m5 46h0m22 11h0m19 6h0m7-16h0m0 3h0m7 2h0m16 42h0m1-35h0m1 12h0" stroke="#9c179e" stroke-width="11.0" stroke-linecap="round" stroke-opacity="0.72" fill="none"/>
<path transform="scale(.1)" d="M645 944h0m-15 14h0m-59 33h0m8 16h0m6-41h0m2 22h0m5-24h0m0 42h0m0-6h0m5 18h0m7-58h0m0 37h0m7-37h0m1 20h0m0 0h0m1 9h0m0-16h0m0 29h0m1-21h0m6 24h0m2-7h0m9-2h0m0 19h0m1-2h0m7-17h0m8 4h0m6-9h0m4 23h0m8-10h0m6 4h0m5 4h0m-37 9h0m-7 10h0m-3-9h0m-9 20h0m-9-1h0m-11-19h0m-28 21h0" stroke="#8d0ba5" stroke-width="11.0" stroke-linecap="round" stroke-opacity="0.72" fill="none"/>
<path transform="scale(.1)" d="M853 938h0m-129 33h0m13 21h0m13 19h0m8-29h0m7 26h0m4-11h0m11-21h0m0 19h0m4-15h0m0-18h0m1 26h0m2 17h0m2-10h0m3 16h0m0-26h0m2 14h0m5-10h0m1 21h0m4-15h0m3-14h0m1-5h0m2-3h0m3 30h0m2-5h0m2-30h0m9-4h0m2 30h0m0-33h0m8 41h0m2-17h0m-10 53h0m-42-17h0m-7 12h0" stroke="#6e00a8" stroke-width="11.0" stroke-linecap="round" stroke-opacity="0.72" fill="none"/>
<path transform="scale(.1)" d="M1078 828h0m-4 6h0m-48 0h0m-7 1h0m-5-10h0m-3-19h0m-25-4h0m-30 13h0m-33 42h0m14-5h0m7 27h0m12 6h0m7 6h0m1-35h0m14 27h0m2 11h0m6-9h0m13 8h0m1-43h0m1 37h0m1 9h0m1-35h0m0 16h0m0-33h0m1 23h0m7-1h0m29-14h0m4 5h0m2 13h0m3 8h0m11 55h0m-29 15h0m-29 11h0m-1-29h0m-2-24h0m-7 30h0m-39-23h0m9 63h0" stroke="#fca338" stroke-width="11.0" stroke-linecap="round" stroke-opacity="0.72" fill="none"/>
<path transform="scale(.1)" d="M1831 409h0m83 38h0m0 32h0m-7-12h0m-3 9h0m-8-49h0m-20-7h0m-3 26h0m-16-5h0m-4 36h0m-3-53h0m-20 33h0m-18-19h0m13 58h0m11 26h0m1 10h0m1-46h0m8 40h0m6 6h0m8-19h0m0 24h0m11-50h0m16 7h0m9 13h0m11 11h0m1 11h0m6-23h0m-1 65h0m-11 21h0m-8-38h0m-6 44h0m-12-3h0m-20-29h0m-5 5h0m-17-9h0m5 97h0m2-14h0m1-11h0m0 25h0m8-36h0m0 0h0m1 18h0m4-13h0m7 3h0m17-12h0m1 16h0m10 24h0m6-54h0m8 6h0m6 19h0m18-7h0m4 89h0m-7 0h0m-1-16h0m-3-30h0m-14 6h0m-3 39h0m-12-40h0m-5 46h0m-3-29h0m-13-9h0m-11 35h0m-1-24h0m-2 17h0m-3-20h0m-1-18h0m-7 45h0m-6-26h0m-2 7h0m-3-3h0m-24-2h0m7 73h0m13-24h0m42 31h0m4-4h0m1-1h0m1-7h0m1 10h0m17-40h0m2 16h0m6 11h0m1-24h0m0 48h0m6-35h0m3 16h0m20-26h0m6 92h0m-7-8h0m-2 18h0m-1-45h0m-2 19h0m-9 21h0m-4 1h0m-9-45h0m-6-2h0m-4 30h0m-13-34h0m-12 10h0m-3-2h0m-4 14h0m-13-22h0m-1 13h0m-10 33h0m0-44h0m-4 13h0" stroke="#fbd524" stroke-width="11.0" stroke-linecap="round" stroke-opacity="0.7" fill="none"/>
<path transform="scale(.1)" d="M1886 386h0m14 51h0m-15 28h0m-44-30h0m-16 32h0m-16 12h0m-2-20h0m7 51h0m8 22h0m24-37h0m4 18h0m19-28h0m1 23h0m1-26h0m2 40h0m5-24h0m0-14h0m4 27h0m28-5h0m12 58h0m-6 19h0m0 15h0m-5-27h0m-9 16h0m-5 3h0m-23-34h0m-29 12h0m-4 28h0m-18-36h0m-13 52h0m8 38h0m29-40h0m17 17h0m23-6h0m6 4h0m1 7h0m9-23h0m1 6h0m3 0h0m4 12h0m0 14h0m1 12h0m8 4h0m5-12h0m-5 41h0m-5 29h0m-2-6h0m-3-13h0m-7 12h0m-6 7h0m-8 2h0m-9-29h0m-3 4h0m-7-31h0m-6 58h0m-44-36h0m6 50h0m2 1h0m10 33h0m2 3h0m33-9h0m9 16h0m1-56h0m2 20h0m7 37h0m3-5h0m21-41h0m4 31h0m2-40h0m3 55h0m2 0h0m3-1h0m-7 24h0m-4 13h0m-6-34h0m-5 31h0m-1-14h0m0 35h0m-3-14h0m0 8h0m0-8h0m-4-36h0m-11 37h0m-7 9h0m-4-16h0m0 11h0m-1-23h0m-13 23h0m-1 2h0m-5-19h0m-12-25h0" stroke="#fdc527" stroke-width="11.0" stroke-linecap="round" stroke-opacity="0.7" fill="none"/>
<path transform="scale(.1)" d="M1812 412h0m22-24h0m9 15h0m31 9h0m5 39h0m-5 8h0m-32 12h0m-2 3h0m-8-16h0m25 32h0m31 32h0m4-22h0m4 23h0m7-17h0m9 42h0m-3 34h0m-25-1h0m-9 6h0m-10-11h0m-8-33h0m-4 40h0m-11-10h0m-8 4h0m0 1h0m-12 12h0m-8-16h0m-12 12h0m43 62h0m15-25h0m11-16h0m5 9h0m5 12h0m8 9h0m7-11h0m5-17h0m3 22h0m0-30h0m2 57h0m17-34h0m1 3h0m-20 76h0m-5-27h0m-1 6h0m-1-13h0m-3 19h0m-22-22h0m-3 45h0m-3-47h0m-11 25h0m-4-21h0m-26 3h0m-9 28h0m2 48h0m3 11h0m5-6h0m12 14h0m8-34h0m4 23h0m1 0h0m3 13h0m14-8h0m10 1h0m1-12h0m11-25h0m7 22h0m0-11h0m7 10h0m8-11h0m1 12h0m4-21h0m17 19h0m1 12h0m2 55h0m-2-9h0m-10-10h0m-1 30h0m-3 8h0m-6-26h0m-5 12h0m-9 20h0m-6-30h0m-10 25h0m-2 4h0m0-40h0m-36-5h0m-1 1h0m-12 7h0m-4 40h0" stroke="#fbd524" stroke-width="11.0" stroke-linecap="round" stroke-opacity="0.7" fill="none"/>
<path transform="scale(.1)" d="M1877 470h0m-29 35h0m59-22h0m-9 83h0m-3 9h0m-91 31h0m34-5h0m28 28h0m45 18h0m14 8h0m1 1h0m0 35h0m-53 23h0m-22 25h0m56-8h0m23 8h0m-67 59h0" stroke="#f6e826" stroke-width="11.0" stroke-linecap="round" stroke-opacity="0.7" fill="none"/>
<path transform="scale(.1)" d="M1799 396h0m83 39h0m-24 37h0m-62-22h0m5 80h0m84-5h0m32 9h0m-20 60h0m-13-38h0m-8 3h0m-2 27h0m-8-26h0m-9-1h0m-19 2h0m-10 29h0m-4 5h0m-24 37h0m32-24h0m5 3h0m24 8h0m45-11h0m1 2h0m21 95h0m-27-27h0m-44-13h0m-7 54h0m-20-15h0m3 59h0m19 14h0m8-15h0m46-40h0m0-1h0m3 42h0m3-32h0m21 1h0m-5 90h0m-7-21h0m-9 12h0m-4-17h0m-9-16h0m-48 8h0m-12-7h0m2 59h0" stroke="#f6e826" stroke-width="11.0" stroke-linecap="round" stroke-opacity="0.7" fill="none"/>
<path transform="scale(.1)" d="M1850 399h0m37 20h0m22 7h0m-2-2h0m-16 53h0m-14-53h0m-12 50h0m-29-42h0m-4 14h0m-34 38h0m21 9h0m11 5h0m5 24h0m16 13h0m7 1h0m36-16h0m12-26h0m2 69h0m-6 35h0m0-26h0m-2-19h0m-2 10h0m-2 34h0m-10-1h0m0-35h0m-8 32h0m-1 3h0m-11-35h0m-2-8h0m-6 34h0m-5 7h0m-20-34h0m-7-11h0m-21 31h0m-5 1h0m3 71h0m8-6h0m10 6h0m20-37h0m1 43h0m16-39h0m14 40h0m2-43h0m0 16h0m9-29h0m0 13h0m7 21h0m17-23h0m6 30h0m4-14h0m5-12h0m7 37h0m1 58h0m-1-14h0m-21-1h0m-2 19h0m-3-9h0m-14 7h0m-3 3h0m-10-38h0m-4-19h0m-1 22h0m-13 26h0m-1-13h0m-4 5h0m0-13h0m-17-5h0m-18-3h0m-3 41h0m4 18h0m8-14h0m6 17h0m6 11h0m1 8h0m7 16h0m10-27h0m1 13h0m1 9h0m8-40h0m2 42h0m10-29h0m5 15h0m3-37h0m5 12h0m0 17h0m5 26h0m6-6h0m2-21h0m2 7h0m2-15h0m3 18h0m2-29h0m9 11h0m1 10h0m-4 76h0m-1-49h0m-4 30h0m-7 13h0m-3 3h0m-1-17h0m-1-29h0m-1 57h0m-1-47h0m-14-9h0m0 16h0m-7-14h0m-1 26h0m-8 12h0m-14 12h0m-9-26h0m-28 16h0" stroke="#fbd524" stroke-width="11.0" stroke-linecap="round" stroke-opacity="0.7" fill="none"/>
<path transform="scale(.1)" d="M1829 411h0m47-19h0m33 31h0m-10 26h0m-3 4h0m-18-26h0m-8 31h0m-39-12h0m-4-6h0m-15 70h0m17 16h0m11-28h0m28 36h0m2 2h0m10 1h0m14-4h0m15 44h0m-3-4h0m-2 18h0m-4-9h0m-1-18h0m-22 12h0m-16-19h0m-2 37h0m-19-32h0m19 82h0m1 4h0m11-24h0m4 13h0m3-22h0m10 34h0m23-3h0m10-26h0m2 26h0m4-31h0m-13 76h0m-2 0h0m-8-15h0m-5 14h0m0 27h0m-1-37h0m-2 20h0m-16-16h0m-1 12h0m-11-15h0m-5 0h0m0-5h0m-4 25h0m-6 10h0m-14-41h0m-10 23h0m-1-13h0m-26 64h0m18 35h0m1-10h0m29-1h0m6-45h0m5 33h0m6 2h0m4 21h0m3-2h0m13-33h0m5-16h0m10 24h0m11-15h0m1 21h0m2 19h0m5-6h0m18 4h0m-27 34h0m-3-18h0m-11 1h0m-1 6h0m-4 29h0m-8-40h0m-6 32h0m-3-16h0m-4 35h0m-1-35h0m-2-18h0m-1 2h0m-2 49h0m-6-44h0m-14 37h0m-4-8h0m-12 11h0" stroke="#fdc527" stroke-width="11.0" stroke-linecap="round" stroke-opacity="0.7" fill="none"/>
<path transform="scale(.1)" d="M1820 415h0m83 55h0m-9-27h0m-6 15h0m-9 2h0m-6 1h0m-1-17h0m0 6h0m-23 20h0m-3 0h0m-26 2h0m-7 10h0m8 26h0m25 19h0m9 10h0m7-31h0m10-24h0m5 18h0m5-7h0m2 34h0m2-41h0m20 21h0m14-13h0m-18 81h0m-2-17h0m-4 37h0m-10-2h0m-1-52h0m-3 14h0m-19 0h0m-13 0h0m-1-4h0m-1 9h0m-12 33h0m-21 41h0m11 17h0m15-36h0m1-14h0m12 29h0m2-6h0m11 8h0m1 6h0m7-22h0m8 42h0m11-39h0m5 11h0m2 28h0m5-58h0m5 52h0m7-15h0m-6 25h0m-2 1h0m-9 12h0m-11-11h0m-10 15h0m-8 2h0m-26 30h0m-7-51h0m-15 90h0m4 24h0m36-49h0m6 54h0m7-38h0m1 10h0m1-25h0m12 41h0m4 1h0m0-47h0m1 53h0m6-41h0m9 8h0m11 3h0m0-24h0m11 9h0m2 28h0m-5 61h0m-28-9h0m-8-17h0m-9 21h0m-23-23h0m-3 49h0m-2-19h0m-34 7h0m-8-38h0" stroke="#fdc527" stroke-width="11.0" stroke-linecap="round" stroke-opacity="0.7" fill="none"/>
<path transform="scale(.1)" d="M1870 402h0m28 3h0m-70 107h0m67-32h0m24 39h0m-42 42h0m-11 12h0m-5 58h0m5-5h0m9-19h0m31 1h0m-11 108h0m-28-2h0m-50 55h0m19-18h0m2 3h0m4-23h0m3 10h0m14 12h0m52 71h0m-8 6h0m-4-1h0m-6 10h0m-12-10h0m-43-43h0" stroke="#f6e826" stroke-width="11.0" stroke-linecap="round" stroke-opacity="0.7" fill="none"/>
<path transform="scale(.1)" d="M1903 410h0m22-5h0m6 10h0m-21 16h0m-3 8h0m14 100h0m7-6h0m1-3h0m2 18h0m-5-7h0m-6 15h0m-16-2h0m-3 13h0m-2-16h0m-8 21h0m-5-29h0m-1 85h0m16-7h0m7 2h0m5 4h0m11 16h0m2 8h0m2-29h0m1-9h0m6 37h0m-10 20h0m-1 31h0m0-32h0m-3 24h0m-10-29h0m-2 3h0m-1 15h0m-27 21h0m3 55h0m3-3h0m14-21h0m7 34h0m16-16h0m1-9h0m10 70h0m-4 11h0m-3-1h0m0-31h0m-2-8h0m-2 40h0m-41-28h0m2 58h0m17 1h0m3 4h0m14-14h0m14 1h0" stroke="#fbd524" stroke-width="11.0" stroke-linecap="round" stroke-opacity="0.75" fill="none"/>
<path transform="scale(.1)" d="M1889 414h0m25 4h0m12 46h0m0-11h0m-2 4h0m-8 19h0m-13-14h0m-1-20h0m18 47h0m4 40h0m4 8h0m2-43h0m1 0h0m0 78h0m-22 15h0m-13-5h0m-8-9h0m-3-2h0m-5 83h0m1-28h0m2 0h0m5-23h0m10 54h0m5-5h0m23-14h0m0-4h0m8 43h0m-1-8h0m-9 7h0m-3 23h0m-17 7h0m-2-41h0m0 68h0m4 40h0m0-39h0m1 37h0m13-12h0m0 8h0m1-26h0m8 17h0m-20 58h0m-5 7h0m-1 9h0m-3-52h0m-17 69h0m3 3h0m28 8h0m11-12h0m8-2h0" stroke="#fbd524" stroke-width="11.0" stroke-linecap="round" stroke-opacity="0.75" fill="none"/>
<path transform="scale(.1)" d="M1880 403h0m50 52h0m-3-2h0m-1-11h0m-3-17h0m-17-3h0m0 37h0m-20-38h0m-10 50h0m2 20h0m31-1h0m12 3h0m6 38h0m1-31h0m1 20h0m2 6h0m-3 14h0m-2 57h0m0-10h0m-6-39h0m-19 22h0m-26 25h0m-5 19h0m17 13h0m4 0h0m28 6h0m7 4h0m8 76h0m-10-2h0m-1-41h0m-5 17h0m-11-23h0m-3 113h0m1-50h0m3 38h0m2-38h0m16 42h0m3-8h0m2 3h0m2 0h0m4-35h0m-9 105h0m-1-31h0m-3 6h0m-15-4h0m-22 33h0m17 15h0m0-3h0" stroke="#fdc527" stroke-width="11.0" stroke-linecap="round" stroke-opacity="0.75" fill="none"/>
<path transform="scale(.1)" d="M1936 419h0m-11 22h0m-40 6h0m-5 60h0m5-2h0m1 26h0m15-32h0m1-10h0m4 24h0m22 22h0m10-21h0m-12 30h0m-8 45h0m-3-12h0m-13-16h0m-15-20h0m-2 53h0m-3-46h0m17 107h0m23-34h0m9 16h0m7-10h0m-11 63h0m-18-19h0m-23 20h0m-2-2h0m-5 6h0m6 64h0m0-34h0m1 1h0m18 53h0m20-13h0m7-24h0m-4 42h0m-3 55h0m0-20h0m-18 11h0m-1-17h0m-3 24h0m-1-53h0m-17 30h0m-3-32h0m43 65h0" stroke="#fdc527" stroke-width="11.0" stroke-linecap="round" stroke-opacity="0.75" fill="none"/>
<path transform="scale(.1)" d="M1927 415h0m2 6h0m-22 58h0m-12-39h0m10 58h0m17 3h0m5-15h0m2 72h0m-5-6h0m-2 15h0m-5-6h0m-12-11h0m-5 46h0m-3-38h0m6 80h0m6 11h0m17-34h0m11 92h0m-4-30h0m-5 31h0m-2-1h0m-2-23h0m-4 35h0m-10-37h0m-6 25h0m-1-47h0m-3 31h0m-11 23h0m-7-24h0m5 46h0m9 5h0m5-12h0m2-9h0m1 49h0m6 4h0m13 3h0m2-14h0m7-8h0m5-1h0m-4 41h0m-9 38h0m-14-51h0m-2 41h0m-3-3h0m-3-8h0m-24 5h0m31 38h0m12-14h0m10 1h0" stroke="#fbd524" stroke-width="11.0" stroke-linecap="round" stroke-opacity="0.75" fill="none"/>
<path transform="scale(.1)" d="M1892 411h0m38 51h0m-21 17h0m-2-53h0m-3 34h0m-19 27h0m6 16h0m18 23h0m17-33h0m0 21h0m7 18h0m-1 51h0m-3-31h0m0 4h0m-2-13h0m-19 1h0m-2 6h0m-22 23h0m-2 55h0m6-13h0m11 27h0m7-5h0m9-8h0m7-10h0m5 29h0m-1 20h0m-3 30h0m-16-21h0m-2-12h0m-2 7h0m-6-4h0m-12 12h0m-1-19h0m-2 87h0m3-14h0m1 43h0m18-39h0m2-1h0m10-5h0m7-7h0m1 26h0m1-22h0m0 47h0m1-39h0m5 24h0m-1 37h0m-1 38h0m-2-27h0m-1 23h0m-6-51h0m-10 36h0m-2-6h0m-1 16h0m-2-7h0m-2 2h0m-18-1h0m-3-8h0m6 44h0m22 2h0m4-8h0" stroke="#fdc527" stroke-width="11.0" stroke-linecap="round" stroke-opacity="0.75" fill="none"/>
<path transform="scale(.1)" d="M1956 415h0m30-45h0m51 69h0m-44 26h0m-6-28h0m0-2h0m-9 16h0m-21-29h0m-10 18h0m5 75h0m0 15h0m3-22h0m3 4h0m0 8h0m6-14h0m10 21h0m0 1h0m1-24h0m4 28h0m2-44h0m10-8h0m10 43h0m3-43h0m1 37h0m2 4h0m1-3h0m10 9h0m7 6h0m4 1h0m6-22h0m21 50h0m-3 7h0m-1-18h0m-4 1h0m-3 45h0m-3-50h0m-6 38h0m-5 5h0m-2 8h0m-1-22h0m-2-24h0m-15 38h0m-7-23h0m-1-12h0m-2 16h0m-4-17h0m-13-2h0m-5 37h0m-1 10h0m-2-42h0m-2-11h0m-1 13h0m-7 35h0m-4-1h0m-8-33h0m-4-7h0m-12 71h0m15-5h0m19-17h0m2 39h0m10-29h0m5 33h0m5-38h0m4 26h0m3 26h0m3-36h0m1 24h0m6 7h0m5-51h0m4 36h0m13-21h0m7-2h0m17 49h0m-1 22h0m-3 19h0m-34-17h0m-1 6h0m0 9h0m-3-30h0m-8 28h0m-2-32h0m-3 19h0m-5-23h0m-5 48h0m-13-8h0m0-10h0m-1 1h0m-1-12h0m-2-6h0m-4-19h0m-1 14h0m-12 7h0m-2 32h0m-2-1h0m-1-28h0m-1-9h0m-2 43h0m2 21h0m3-5h0m2 31h0m16 13h0m4-14h0m2-28h0m0 33h0m4-49h0m2 53h0m4-41h0m9 29h0m1-39h0m1 17h0m7 36h0m3-26h0m11-10h0m2 0h0m15 18h0m7 20h0m29-4h0m5-35h0m-68 46h0m-4 30h0m-1-33h0m-28 18h0m-19 14h0m35 32h0m67 17h0" stroke="#f89540" stroke-width="11.0" stroke-linecap="round" stroke-opacity="0.65" fill="none"/>
<path transform="scale(.1)" d="M2025 330h0m-19 86h0m19 3h0m44 36h0m-45-35h0m-14 56h0m-4-53h0m-2 4h0m-26-3h0m-24 49h0m-4 12h0m7 14h0m15 39h0m3-41h0m8 5h0m5 27h0m67-11h0m3-37h0m7 21h0m6 16h0m-16 70h0m-4-2h0m-5-34h0m-12 29h0m-11 12h0m-1-40h0m-16 5h0m0-5h0m-3-5h0m-22 9h0m-7 14h0m-21 7h0m-3-18h0m25 48h0m3 36h0m12-42h0m5 53h0m1-23h0m1 12h0m0-38h0m1 24h0m0 9h0m2-2h0m5 10h0m5-21h0m4 14h0m12-29h0m4 25h0m1 5h0m4 2h0m23-1h0m35-10h0m-30 37h0m-10 5h0m-2 3h0m-8 22h0m-2-25h0m-5-13h0m-8 33h0m0-10h0m-1-10h0m-1-11h0m-4-1h0m-9 22h0m-2 8h0m-5 14h0m-6 8h0m-3-34h0m-5 1h0m-9-17h0m-1 46h0m-7-5h0m0-6h0m-3 15h0m-13-17h0m-5-2h0m-2-19h0m7 81h0m19-17h0m1-4h0m15 11h0m3 17h0m2-41h0m2 27h0m18-14h0m0-6h0m3 29h0m5-26h0m9-6h0m9 35h0m22 74h0m-21-27h0m-28-19h0m-35-9h0m-11 37h0m-36 38h0m98-9h0" stroke="#f89540" stroke-width="11.0" stroke-linecap="round" stroke-opacity="0.65" fill="none"/>
<path transform="scale(.1)" d="M2002 405h0m11 72h0m-2-7h0m0-11h0m-33 10h0m-16-8h0m-11 77h0m3-14h0m0 10h0m2-16h0m9 4h0m8 3h0m3-27h0m4-9h0m11-1h0m11 41h0m1-5h0m1-7h0m0 6h0m7-11h0m1 4h0m0-8h0m17 10h0m5 3h0m5-33h0m11 37h0m6-3h0m9 49h0m-18 11h0m-7-7h0m-9 8h0m-8-3h0m-9-11h0m-4 20h0m-2-35h0m-3 12h0m-8 33h0m-5-6h0m-2-43h0m-7-3h0m-7 7h0m-1 31h0m-17 10h0m-3-23h0m-2 5h0m-1 10h0m6 33h0m1-17h0m5 47h0m11-13h0m1-4h0m12-31h0m4 25h0m3 30h0m5-32h0m1-9h0m3 20h0m4 0h0m5-22h0m5 12h0m4 4h0m5-30h0m0 0h0m2 54h0m4-42h0m15 22h0m13-11h0m16-15h0m2 22h0m0 35h0m-28 8h0m-5-7h0m-2 24h0m-3-11h0m-15-2h0m-3 9h0m-5-20h0m-3 9h0m-5-15h0m-2 36h0m-1-26h0m-1 4h0m-4 19h0m-1 21h0m-1-42h0m-4 39h0m-5-1h0m-6 2h0m-1-39h0m-2 31h0m-10-34h0m-11-3h0m-3 36h0m-3-20h0m0 18h0m0 35h0m3 35h0m5-25h0m13 10h0m2-5h0m4-21h0m11-5h0m13 51h0m2-43h0m1 11h0m8 11h0m20-9h0m-6 91h0m-25-14h0m-22-35h0m-1-5h0m-4 15h0m-5-8h0m-9 2h0m42 76h0m1 63h0" stroke="#f89540" stroke-width="11.0" stroke-linecap="round" stroke-opacity="0.65" fill="none"/>
<path transform="scale(.1)" d="M1952 409h0m116-29h0m-48 83h0m-13-4h0m-24 20h0m-1-13h0m-29 13h0m21 60h0m2-46h0m2 3h0m27 30h0m2 7h0m12-4h0m10-4h0m1 1h0m23-27h0m9 65h0m-15 26h0m-24-2h0m-10-45h0m-1 39h0m-7-32h0m-1 7h0m0-1h0m-4 20h0m-1-26h0m-15 35h0m-5-6h0m-5-29h0m-4-1h0m-14 22h0m-3-15h0m-15 93h0m10-5h0m7-13h0m4 23h0m8-31h0m21 10h0m13-14h0m1 1h0m1 4h0m2 18h0m0-10h0m2-21h0m0 0h0m0 4h0m9 13h0m9-21h0m8 38h0m19 12h0m1-57h0m4 13h0m19 91h0m-13-20h0m-29 22h0m-4 9h0m0-51h0m-6 35h0m-4-32h0m-3 39h0m-6-35h0m-3 41h0m-4-30h0m-13-1h0m-13-21h0m0 4h0m-23 9h0m2 90h0m3 6h0m6-43h0m5 24h0m5-25h0m20 5h0m0 10h0m7 31h0m4-13h0m4-1h0m17-8h0m15-29h0m2 44h0m1-23h0m24 15h0m-48 40h0m-7-16h0m-30 3h0m-3 6h0m-30-7h0" stroke="#fca338" stroke-width="11.0" stroke-linecap="round" stroke-opacity="0.65" fill="none"/>
<path transform="scale(.1)" d="M2010 400h0m48-16h0m-47 69h0m-3-6h0m-34-16h0m-27 59h0m8 7h0m18-16h0m6 24h0m3-22h0m12 6h0m9 19h0m1 9h0m2 11h0m4 0h0m4-2h0m1 2h0m6 8h0m2-34h0m15 8h0m5-25h0m26 22h0m50 36h0m-70 46h0m-17-17h0m-2-17h0m-7 9h0m-9-1h0m-3 22h0m-1-40h0m-3-5h0m-1 49h0m-1 10h0m-3-53h0m-1 26h0m-2-32h0m-6 29h0m-8-23h0m-7 23h0m-3 3h0m0 24h0m0-28h0m-12 25h0m-11 30h0m3-7h0m0-3h0m10 16h0m2-20h0m10 35h0m4-16h0m16 25h0m0-13h0m4 2h0m3-16h0m4 31h0m3-24h0m2 22h0m1-15h0m12-12h0m23 25h0m14-23h0m-19 86h0m-9-14h0m-19-11h0m-26 1h0m-10 1h0m-7 0h0m-7 6h0m-14 9h0m-14-2h0m12 31h0m5-16h0m3 38h0m5 6h0m6-25h0m9 22h0m4-10h0m7-22h0m11 12h0m15 9h0m57 11h0m7-16h0m-92 136h0" stroke="#fca338" stroke-width="11.0" stroke-linecap="round" stroke-opacity="0.65" fill="none"/>
<path transform="scale(.1)" d="M1955 404h0m1 4h0m41 11h0m3-38h0m21 81h0m-17-11h0m-21-4h0m-31 55h0m5 37h0m5-6h0m36-7h0m5 6h0m2-3h0m3-36h0m3 6h0m9 17h0m0 21h0m1-12h0m6 10h0m43-15h0m30 16h0m-42 50h0m-23-44h0m-1 10h0m-19 30h0m-8 15h0m-1-44h0m-1 26h0m-7 8h0m0 9h0m-8-20h0m-9-7h0m-2-7h0m-4-13h0m-5 6h0m-11 41h0m-7 5h0m12 28h0m6-13h0m7-14h0m1 17h0m3 40h0m1-14h0m13-26h0m5-5h0m1 36h0m7-24h0m0-13h0m4 17h0m4-30h0m6 33h0m7 2h0m5-22h0m21-2h0m5 41h0m-20 52h0m-27-24h0m-2-10h0m-15 0h0m0 27h0m-6-28h0m-7 11h0m-1 2h0m-5 31h0m-3-3h0m-10-29h0m-3-6h0m-2 31h0m-3 15h0m5 16h0m13 6h0m6-6h0m19 25h0m6-16h0m2 15h0m2-36h0m12-1h0m32-4h0m-32 61h0m-16 4h0m-27 7h0m-23 3h0m-2-15h0m70 150h0" stroke="#fca338" stroke-width="11.0" stroke-linecap="round" stroke-opacity="0.65" fill="none"/>
<path transform="scale(.1)" d="M2084 449h0m-106 9h0m-4-26h0m31 73h0m23 20h0m10 50h0m-36-21h0m-50-3h0m20 108h0m11-19h0m20 4h0m2-26h0m2 1h0m5-15h0m1 35h0m35-17h0m-17 57h0m-1-8h0m-8 5h0m-20 40h0m-8-17h0m-13 6h0m-5 11h0m-9-56h0m-10 110h0m10 4h0m10 4h0m17-35h0m7 32h0m1-18h0m26 12h0m26-8h0m-64 79h0" stroke="#f3874a" stroke-width="11.0" stroke-linecap="round" stroke-opacity="0.65" fill="none"/>
<path transform="scale(.1)" d="M1984 464h0m-12 61h0m50 53h0m-7 12h0m-46-47h0m-1 67h0m8 21h0m9-28h0m13 14h0m6-3h0m4-2h0m9 8h0m5 13h0m2-8h0m-14 55h0m-13 12h0m-38 53h0m18-21h0m24-4h0m3 36h0m16-13h0m35 62h0m-76-22h0m-1 4h0m0 3h0" stroke="#f3874a" stroke-width="11.0" stroke-linecap="round" stroke-opacity="0.65" fill="none"/>
<path transform="scale(.1)" d="M2059 462h0m-105 5h0m-1 12h0m27 35h0m78 57h0m-30-15h0m-22 19h0m-18 7h0m-35-18h0m-30-2h0m58 93h0m7-21h0m11-14h0m11-2h0m10-9h0m14 31h0m7 1h0m23-39h0m9 86h0m-16 8h0m-44-15h0m-3-14h0m-31-7h0m-26 105h0m11-18h0m5-5h0m35 6h0m8 33h0m-35-1h0m0 11h0" stroke="#f3874a" stroke-width="11.0" stroke-linecap="round" stroke-opacity="0.65" fill="none"/>
<path transform="scale(.1)" d="M2164 596h0m-27 2h0m-4-4h0m-20-50h0m-16 54h0m-13-5h0m26 42h0m4 14h0m1 10h0m4-25h0m8-22h0m1 30h0m4 17h0m2-13h0m63-20h0m-41 54h0m-1 25h0m-2-2h0m-2 10h0m-2-17h0m-3-17h0m-1 15h0m-19-15h0m-3 30h0m-2-12h0m-1-13h0m-2 16h0m-2 10h0m-3 2h0m-3-19h0m-2-22h0m-4 17h0m-4 24h0m-15-1h0m-2-17h0m-16-7h0m-6 84h0m15-29h0m10-15h0m7 32h0m2 14h0m9-43h0m4-9h0m2 44h0m10-5h0m28-29h0m17 26h0m38 32h0m-42 16h0m-11-12h0m-2 32h0m0-11h0m-10 1h0m0 8h0m-18-30h0m-34 16h0m36 39h0m0 5h0m5 43h0m1-40h0m2 21h0m6 21h0m1-28h0m3-7h0m2 12h0m11 13h0m5-23h0m17-21h0m4 16h0m0 25h0m9-16h0m-8 52h0m-17 14h0m0-7h0m-16-27h0m-22 1h0m-20 4h0" stroke="#e66c5c" stroke-width="11.0" stroke-linecap="round" stroke-opacity="0.55" fill="none"/>
<path transform="scale(.1)" d="M2099 445h0m-1 62h0m26 29h0m26 35h0m-83 23h0m0 38h0m3 25h0m16-47h0m12 16h0m4 11h0m15-16h0m3 30h0m14-27h0m46 65h0m-32-16h0m-9 5h0m-5 31h0m-7-21h0m-12 21h0m-5-35h0m-1-13h0m-7 42h0m-6-24h0m-4 24h0m-13 2h0m-35-16h0m1 49h0m47 33h0m20-5h0m18-26h0m18 34h0m4-48h0m21 44h0m4 3h0m21 55h0m-22-15h0m0 6h0m-15-5h0m-28-21h0m-3 13h0m-15-16h0m-1-4h0m-1 10h0m-9 14h0m-7 0h0m-1 10h0m25 27h0m20 3h0m24 4h0m18 10h0m6 73h0m-19-33h0m-27 28h0m-9-21h0m-8-11h0m-19 16h0" stroke="#e66c5c" stroke-width="11.0" stroke-linecap="round" stroke-opacity="0.55" fill="none"/>
<path transform="scale(.1)" d="M2095 574h0m-65 62h0m9 2h0m77-27h0m6 40h0m3-46h0m13 33h0m6-6h0m-16 46h0m-13 18h0m-31-25h0m-5 20h0m51 71h0m10-11h0m12-20h0m62 31h0m-44 75h0m-37-29h0m-13 9h0m0-6h0m-52 88h0m77-57h0m4 39h0m18-5h0m13 5h0" stroke="#de5f65" stroke-width="11.0" stroke-linecap="round" stroke-opacity="0.55" fill="none"/>
<path transform="scale(.1)" d="M2094 527h0m40 42h0m-40-3h0m-33 26h0m-19 2h0m-10-13h0m59 21h0m4 57h0m9-53h0m5 22h0m0-11h0m60 36h0m-44 60h0m-23 4h0m-3-13h0m-1-32h0m-8 22h0m-13-25h0m-28-4h0m21 74h0m5 16h0m2 12h0m9-37h0m10 19h0m6 1h0m2 1h0m4-17h0m1 26h0m5-30h0m6-8h0m4 10h0m4 39h0m0-36h0m8 2h0m5 3h0m1-8h0m8 3h0m4-11h0m12 46h0m-4 38h0m-3 3h0m-12-21h0m-1 0h0m-17 19h0m-1 20h0m-2-19h0m-26-30h0m34 65h0m13 51h0m25 4h0m-31 32h0m-32 0h0" stroke="#e66c5c" stroke-width="11.0" stroke-linecap="round" stroke-opacity="0.55" fill="none"/>
<path transform="scale(.1)" d="M2108 637h0m48 1h0m9-23h0m-21 142h0m3 11h0m34-32h0m54 27h0m-109 84h0m59 17h0" stroke="#ed7953" stroke-width="11.0" stroke-linecap="round" stroke-opacity="0.55" fill="none"/>
<path transform="scale(.1)" d="M2114 516h0m7 81h0m-17-1h0m-31-12h0m-1-32h0m0 15h0m14 54h0m39 37h0m7-17h0m15 27h0m-22 33h0m-10-10h0m-4 16h0m-6-37h0m-27 45h0m-18 7h0m43 17h0m18 1h0m5 25h0m9-43h0m13 33h0m24 83h0m-19-13h0m-5 0h0m-53-40h0m-1 31h0m-15-1h0m-31-34h0m61 105h0m17 10h0m0-11h0m18-32h0m3 24h0m10-26h0m1 16h0m7-6h0m25-21h0m-19 76h0m-33-6h0m-6 45h0" stroke="#de5f65" stroke-width="11.0" stroke-linecap="round" stroke-opacity="0.55" fill="none"/>
<path transform="scale(.1)" d="M2121 590h0m-13 6h0m11 24h0m12 35h0m-15 40h0m-1 21h0m-12-22h0m-12 19h0m-3-3h0m-13-36h0m-1 39h0m6 7h0m20 34h0m26 5h0m11-19h0m15 34h0m6-29h0m-24 93h0m-5-38h0m-16-3h0m-16 40h0m17 56h0m43-52h0m15 57h0m-6 45h0" stroke="#ed7953" stroke-width="11.0" stroke-linecap="round" stroke-opacity="0.55" fill="none"/>
<path transform="scale(.1)" d="M2075 611h0m6-11h0m1 30h0m59 81h0m-44-35h0m-10 72h0m33-15h0m3 25h0m27-10h0m4 3h0m-22 67h0m-19 19h0m-13-26h0m-16-30h0m47 97h0m10-12h0m32 51h0" stroke="#de5f65" stroke-width="11.0" stroke-linecap="round" stroke-opacity="0.55" fill="none"/>
<path transform="scale(.1)" d="M2097 580h0m12 51h0m35 63h0m-9-32h0m-6 13h0m-23 37h0m-2-7h0m-5 5h0m-5 8h0m-64 5h0m31 48h0m47-39h0m11-12h0m7 2h0m36 78h0m-33 36h0m-5-10h0m-19 24h0m59 43h0" stroke="#ed7953" stroke-width="11.0" stroke-linecap="round" stroke-opacity="0.55" fill="none"/>
<path transform="scale(.1)" d="M1703 652h0m7-9h0m34-11h0m25 0h0m28 47h0m-39 5h0m-3 7h0m-7-30h0m-9 14h0m-4 34h0m-12 9h0m-2-33h0m-1-22h0m-1 16h0m0 50h0m1-3h0m17 37h0m5-31h0m16 29h0m35-15h0m5-11h0m4 19h0m5-7h0m28 2h0m7 12h0m4-4h0m6-16h0m6 23h0m7 15h0m26-56h0m17 50h0m37 26h0m-21-15h0m-13 11h0m-7 43h0m-7-37h0m-14 17h0m-3-2h0m-3-3h0m-4-27h0m-21 12h0m-22 7h0m-40-20h0m-58 3h0m71 76h0m94 17h0m14-17h0m3-5h0" stroke="#7e03a8" stroke-width="11.0" stroke-linecap="round" stroke-opacity="0.55" fill="none"/>
<path transform="scale(.1)" d="M1689 650h0m167 66h0m-17-15h0m-31 1h0m-11 6h0m-9-7h0m-7 17h0m-16-28h0m-10-5h0m-5 26h0m-1-21h0m-4 15h0m-11 12h0m-28-8h0m19 50h0m14-29h0m4 20h0m4-1h0m2 2h0m3-19h0m2 14h0m2 4h0m4 1h0m2-26h0m7 20h0m21-4h0m3-9h0m15 12h0m9 21h0m6-23h0m24 31h0m4-9h0m1-5h0m2 1h0m9-21h0m15 19h0m6 16h0m85-31h0m1 57h0m-37-19h0m-28 48h0m-9-16h0m-7 22h0m-3-22h0m-14 6h0m-8 6h0m0-42h0m-3 8h0m-6 4h0m-1 27h0m0-38h0m-3 29h0m-6-14h0m-4 40h0m-8-39h0m-10-19h0m-10 27h0m-8 10h0m-9-25h0m-7 38h0m-58-36h0m-5-4h0m155 70h0m14-1h0m5 15h0m68 50h0" stroke="#8d0ba5" stroke-width="11.0" stroke-linecap="round" stroke-opacity="0.55" fill="none"/>
<path transform="scale(.1)" d="M1725 654h0m9-2h0m34-3h0m68 54h0m-23 2h0m-12-27h0m-2 21h0m-3 3h0m-16 14h0m-19-51h0m-16 46h0m-9-17h0m-2-28h0m-3 38h0m-4 12h0m-15-3h0m-3-41h0m-39-8h0m73 84h0m4 0h0m16-12h0m13-4h0m2 3h0m13 34h0m6-43h0m4 25h0m1 10h0m2-28h0m1 13h0m1-21h0m10 13h0m7 17h0m12-33h0m2 0h0m3-2h0m26 51h0m0-25h0m3-1h0m9 6h0m5 5h0m2-22h0m34 27h0m75 44h0m-17 8h0m-53 13h0m-4-32h0m-10 20h0m0 16h0m-29 2h0m-5-6h0m-7-39h0m-4 15h0m-4-20h0m0 19h0m-2 30h0m-1-51h0m-2 8h0m-6 17h0m-16-9h0m-3 24h0m-14-7h0m-31-5h0m92 77h0m2-24h0m1-12h0m11 34h0m29-35h0m4 30h0m8-32h0m11 27h0m-34 36h0m-40-1h0" stroke="#9c179e" stroke-width="11.0" stroke-linecap="round" stroke-opacity="0.55" fill="none"/>
<path transform="scale(.1)" d="M1752 634h0m84 84h0m-54-3h0m-7-24h0m-23 19h0m-4-19h0m-3 16h0m-21-7h0m0-31h0m-16 49h0m-24-22h0m18 29h0m2 12h0m18-14h0m14 26h0m5-19h0m3 2h0m23 18h0m6-8h0m8 18h0m3 3h0m6-6h0m3 14h0m6-19h0m6 25h0m1-19h0m1-33h0m3 10h0m11-1h0m2 7h0m20 20h0m9-13h0m12 17h0m9 2h0m26-45h0m22 65h0m-7-7h0m-5 5h0m-1 41h0m-2-24h0m-5 12h0m-8-10h0m-5 25h0m-8-13h0m-6-36h0m-4 45h0m-1-35h0m-7 24h0m-2-1h0m-8 2h0m-5 18h0m-6-12h0m-14-16h0m-1 34h0m0-26h0m-53-29h0m-12 6h0m-8-4h0m43 63h0m33 26h0m56 8h0m35 8h0m34 20h0" stroke="#7e03a8" stroke-width="11.0" stroke-linecap="round" stroke-opacity="0.55" fill="none"/>
<path transform="scale(.1)" d="M1771 679h0m-8 16h0m-3 12h0m-5-10h0m-8 12h0m-6-7h0m-5-42h0m-14 16h0m-7 32h0m-12-26h0m-3 12h0m-25-32h0m6 58h0m21 50h0m40-38h0m11 16h0m0 23h0m2-32h0m6 13h0m9 17h0m1-26h0m6-16h0m14 51h0m4-42h0m2-3h0m8 7h0m25 2h0m10 37h0m4 0h0m8-11h0m11 7h0m2-33h0m1 31h0m94 48h0m-4 4h0m-6-12h0m-10 17h0m-23 5h0m-26-51h0m-11 35h0m-18-13h0m-19 5h0m-2 6h0m-28-33h0m-2 1h0m-7-2h0m-8 3h0m-15 2h0m0 11h0m-25-15h0m-30-2h0m153 63h0m1 6h0m6 22h0m5-24h0m5 0h0m1-7h0m30 47h0m1-11h0m12-27h0m38-6h0m3 37h0" stroke="#9c179e" stroke-width="11.0" stroke-linecap="round" stroke-opacity="0.55" fill="none"/>
<path transform="scale(.1)" d="M1826 708h0m-15-44h0m-6 48h0m-16-13h0m-3 10h0m-7 1h0m0-3h0m-24-43h0m-2 55h0m-1-2h0m-9-33h0m-16 14h0m-22 34h0m9 3h0m5-8h0m17 51h0m8-57h0m14 9h0m10-1h0m11 32h0m4 1h0m12 11h0m6-34h0m7-1h0m2 37h0m3-36h0m2-8h0m0 29h0m2 7h0m0-10h0m2-33h0m7 13h0m3 8h0m2 8h0m6 7h0m12-15h0m1 8h0m4-15h0m5-1h0m0-3h0m2 41h0m2-53h0m4 39h0m1 0h0m1 10h0m0 5h0m26-34h0m37 42h0m-14 54h0m-3-8h0m-20-10h0m-1-7h0m-3-28h0m0 24h0m-3 18h0m-11 11h0m-3-10h0m-5-13h0m-19-13h0m-3-16h0m-18 16h0m-7 13h0m-25-9h0m71 60h0m3-17h0m7-7h0m5 7h0m25-5h0m13 21h0m3 18h0m10-22h0m6-13h0m-10 53h0" stroke="#8d0ba5" stroke-width="11.0" stroke-linecap="round" stroke-opacity="0.55" fill="none"/>
<path transform="scale(.1)" d="M1702 643h0m107 67h0m0-5h0m-4-4h0m-17-18h0m-34-10h0m-5 31h0m-8-17h0m-37-2h0m-6 6h0m-42-9h0m61 64h0m16 22h0m33-44h0m1 37h0m8-15h0m15-17h0m3 36h0m3-21h0m14 10h0m9-1h0m8-33h0m1 47h0m14-28h0m9-6h0m3 33h0m7-18h0m4 0h0m2-4h0m3 5h0m0 15h0m9-2h0m5 12h0m40-27h0m25 69h0m-41-10h0m-4 15h0m-8-11h0m-9-16h0m-1 39h0m-7-51h0m-3 14h0m-19 10h0m-22-17h0m-1 42h0m-8-48h0m-21-1h0m-6 20h0m-4 5h0m-1-25h0m-39 7h0m-38 26h0m105 27h0m19 15h0m55 37h0m5-53h0m3 11h0m7-7h0m2 2h0m3 0h0m36 19h0m-85 48h0m-66-5h0" stroke="#9c179e" stroke-width="11.0" stroke-linecap="round" stroke-opacity="0.55" fill="none"/>
<path transform="scale(.1)" d="M1757 643h0m3 14h0m115 54h0m-39-6h0m-13-5h0m-7 7h0m-9-14h0m-19 26h0m-14-25h0m-11 23h0m-4-44h0m0 29h0m-2-25h0m-5 32h0m-9-44h0m-3 53h0m-40-36h0m6 44h0m13-4h0m15 37h0m7 19h0m6-22h0m2 5h0m8-40h0m3 22h0m5 33h0m7-55h0m2 14h0m0 30h0m13-38h0m6 30h0m3-14h0m2-15h0m2 15h0m7-1h0m11 2h0m13 25h0m7-10h0m2-31h0m19 25h0m5-6h0m1 21h0m7 9h0m3 0h0m53-43h0m20 39h0m-13 46h0m-4-25h0m-11 30h0m-2-9h0m-11-6h0m-3 15h0m-7-17h0m-17-16h0m-3 26h0m-4-13h0m-9-7h0m-8 14h0m-9-23h0m-9 22h0m0 20h0m-3-21h0m0-13h0m-12-7h0m-16-6h0m-4-1h0m-3 51h0m-9-23h0m-23-28h0m26 61h0m12 30h0m42-17h0m38 3h0m7-16h0m16-3h0m8 16h0m10 5h0m27-4h0" stroke="#8d0ba5" stroke-width="11.0" stroke-linecap="round" stroke-opacity="0.55" fill="none"/>
<path transform="scale(.1)" d="M1692 651h0m130 25h0m-51 40h0m-20 1h0m-17 1h0m-7-2h0m-5-39h0m-10 15h0m10 43h0m14-10h0m10 41h0m5-21h0m2-14h0m1 38h0m4-45h0m3 36h0m1-38h0m4-1h0m11 26h0m0 31h0m10-51h0m4 7h0m7 42h0m22-27h0m1 16h0m2 11h0m6-34h0m4 28h0m8-27h0m13 29h0m1-43h0m12 40h0m24-6h0m58 71h0m-32-2h0m-11 1h0m-4-9h0m-16-34h0m-17 5h0m-26 0h0m-76-10h0m21 58h0m76 15h0" stroke="#7e03a8" stroke-width="11.0" stroke-linecap="round" stroke-opacity="0.55" fill="none"/>
<path transform="scale(.1)" d="M1741 645h0m82 52h0m-72-1h0m-64 35h0m83 8h0m14-1h0m3 39h0m14-51h0m36 32h0" stroke="#aa2395" stroke-width="11.0" stroke-linecap="round" stroke-opacity="0.55" fill="none"/>
<path transform="scale(.1)" d="M1772 745h0m73 30h0m11-33h0m22 23h0m76 59h0m-24 5h0m-16-24h0m-48 8h0m-2-31h0m-2 12h0m-37-7h0m105 89h0m22-24h0" stroke="#aa2395" stroke-width="11.0" stroke-linecap="round" stroke-opacity="0.55" fill="none"/>
<path transform="scale(.1)" d="M1808 693h0m-18 24h0m-24 28h0m29-23h0m10 46h0m42-14h0m6 30h0m56 62h0m27-4h0m44 7h0" stroke="#aa2395" stroke-width="11.0" stroke-linecap="round" stroke-opacity="0.55" fill="none"/>
<path transform="scale(.1)" d="M2188 832h0m-2 5h0m-4-8h0m-2 9h0m-31-3h0m-29 45h0m7-9h0m14 11h0m3-17h0m11 32h0m0-17h0m1-13h0m1-6h0m0 33h0m12-45h0m3 28h0m1-23h0m0 33h0m1-13h0m0-20h0m0-6h0m4 23h0m7-9h0m2 24h0m1-1h0m57-28h0m-51 60h0m-8 23h0m-5-40h0m-1 18h0m-4 3h0m-9 1h0m-9 17h0m-1-29h0m-2 37h0m-1-34h0m-26-7h0m-15 23h0m22 31h0m15 15h0" stroke="#de5f65" stroke-width="11.0" stroke-linecap="round" stroke-opacity="0.55" fill="none"/>
<path transform="scale(.1)" d="M1809 952h0m-34-7h0m-5 2h0m-23-1h0m-19 0h0m-6-12h0m-20 23h0m-1 0h0m21 42h0m3-34h0m1 28h0m13-32h0m2 0h0m1 35h0m0-26h0m6 21h0m2 14h0m7 11h0m0-13h0m0-21h0m12-15h0m7 33h0m2-2h0m2 9h0m5-28h0m6 30h0m3-12h0m0-3h0m8 19h0m3-4h0m6 7h0m6-16h0m3 0h0m26 3h0m3 14h0m4-5h0m4-23h0m51 77h0m-9 0h0m-3-1h0m-5-20h0m-2 31h0m-10-32h0m0 19h0m-7-34h0m-7 46h0m-3-33h0m-3 8h0m-3 11h0m0-20h0m-7 15h0m0 22h0m-3-30h0m-3 25h0m-2-13h0m0-36h0m-2 44h0m0-8h0m-1-24h0m-1 7h0m-6 20h0m0-9h0m-4-13h0m0 20h0m-5 6h0m-2-1h0m0-25h0m-2-4h0m-1 40h0m-4-6h0m-3-13h0m-1-20h0m0 9h0m-2 6h0m-14-2h0m0-14h0m-10-12h0m-3 19h0m-19-16h0m-2 15h0m-1-19h0m-24 41h0m-13-43h0m-3 2h0m100 75h0m32-9h0" stroke="#c13b82" stroke-width="11.0" stroke-linecap="round" stroke-opacity="0.55" fill="none"/>
<path transform="scale(.1)" d="M1959 997h0m59 10h0m37 35h0m-19 35h0m-2-10h0m-2-35h0m-4 21h0m-1-17h0m-3 13h0m-4-12h0m-1 15h0m0-28h0m-1 35h0m-1-11h0m-1-4h0m0 13h0m-1-13h0m-3-5h0m-1 26h0m-10-10h0m0 4h0m-3-16h0m-2 22h0m-5-33h0m-1 34h0m-5-13h0m-4-4h0m0-13h0m-4 36h0m-3-41h0m-2 20h0m-2-18h0m-3 30h0m-1-15h0m-1-22h0m-5 46h0m-11-27h0m-3-22h0m-1 39h0m-2 9h0m-1-11h0m-5-10h0m-1-20h0m-2 14h0m-1 6h0m0-10h0m-2 33h0m-7-4h0m-3-3h0m-5 7h0m-1-6h0m-3-14h0m-3-22h0m-1 43h0m-4-12h0m-2-12h0m-2-2h0m-1 18h0m-3-15h0m-3 22h0m-1-5h0m-11 11h0m-2-38h0m-2 19h0m-9-10h0m-11 48h0m14 3h0m2-21h0m16 16h0m2 14h0m18-11h0m3-18h0m4 7h0m3 17h0m1-24h0m14 6h0m5 13h0m8-3h0m40-10h0m10-4h0" stroke="#cc4778" stroke-width="11.0" stroke-linecap="round" stroke-opacity="0.55" fill="none"/>
<path transform="scale(.1)" d="M2216 826h0m-18 9h0m-10-12h0m-71 75h0m5-20h0m17-20h0m17 20h0m8 12h0m0-25h0m7-10h0m1 15h0m9-11h0m4 4h0m3 25h0m4-24h0m9 17h0m2-13h0m4 21h0m3-48h0m22 6h0m-30 55h0m-15 16h0m0-8h0m-7 12h0m-14 9h0m-2-29h0m-15 12h0m0-1h0m-7-3h0m-7 32h0m-2-30h0m-10-8h0m-12 13h0" stroke="#de5f65" stroke-width="11.0" stroke-linecap="round" stroke-opacity="0.55" fill="none"/>
<path transform="scale(.1)" d="M2173 874h0m1 16h0m19 14h0m-27 43h0m-2-16h0m-5-3h0m-19 23h0m-2-31h0m0 5h0m-1-22h0m-1 27h0m-7 3h0m-2 25h0m-9-35h0m-1 18h0m-2-6h0m-1-1h0m-3 24h0m0-3h0m-12-9h0m-78 64h0m5-5h0m10-33h0m3 2h0m13 18h0m6 13h0m7-12h0m5 18h0m4-3h0m3-28h0m2 2h0m1 5h0m2-6h0m1 14h0m0 18h0m4-31h0m1 9h0m2 0h0m1 1h0m1 15h0m0-12h0m2-21h0m5-2h0m2 27h0m1-32h0m0-7h0m4 13h0m2 5h0m2 6h0m1-7h0m1-13h0m1 33h0m1 4h0m0-13h0m1 1h0m0-22h0m7 19h0m2-21h0m0 12h0m1 19h0m9-33h0m4 14h0m2 2h0m6-9h0m16 14h0m-61 38h0m-9 1h0m-7 8h0m-1 30h0m-11-36h0m-3 7h0m-16-12h0m-2 23h0m-2 7h0m-11-4h0m-4-25h0m-31 10h0" stroke="#d5536f" stroke-width="11.0" stroke-linecap="round" stroke-opacity="0.55" fill="none"/>
<path transform="scale(.1)" d="M1890 1016h0m21 3h0m36-7h0m34 6h0m4-1h0m26 2h0m3-10h0m25 1h0m12-9h0m13-26h0m-5 48h0m-1 12h0m-13 4h0m-4 20h0m-6-15h0m-11 14h0m-4-5h0m-4-28h0m-5 42h0m-1-17h0m-11 8h0m-8 3h0m-1-34h0m-1 13h0m-3 1h0m-7-6h0m-4 41h0m0-22h0m-4-16h0m-3 28h0m-1-13h0m-5-18h0m-1-5h0m-1 4h0m-1 12h0m-6-17h0m0 45h0m0-44h0m0 48h0m-2-21h0m-3-3h0m-3-17h0m-2 40h0m-14-2h0m0-42h0m-1-9h0m-8 39h0m0-23h0m-7 10h0m-3-20h0m-1 21h0m-6 26h0m-3-33h0m-3-22h0m-5 40h0m-5-42h0m-4 52h0m-4-6h0m-5-1h0m36 18h0m16 37h0m14-34h0m22-3h0m13 17h0m1-19h0m7 2h0m2 1h0m8 25h0m3-2h0m2-22h0m1-4h0" stroke="#cc4778" stroke-width="11.0" stroke-linecap="round" stroke-opacity="0.55" fill="none"/>
<path transform="scale(.1)" d="M1710 1007h0m10-19h0m1-13h0m3 33h0m8-20h0m3 16h0m1-25h0m0 5h0m7-21h0m2 36h0m0-33h0m4 23h0m2 24h0m7-10h0m10-21h0m2 17h0m2-22h0m5 29h0m4-39h0m27 49h0m11-4h0m10-5h0m3-3h0m38 8h0m33 51h0m-11-35h0m-8 16h0m-6 2h0m-6 9h0m-1-10h0m-1-19h0m-3 22h0m-2-7h0m-1 22h0m-8-4h0m-16 10h0m-6 5h0m-2-6h0m-2-13h0m-1-20h0m-1 18h0m-1-9h0m-2 4h0m-2 4h0m-9 9h0m-3-26h0m-7-14h0m-5 25h0m-2 30h0m0-44h0m-4 2h0m-1 10h0m-3-9h0m-2 12h0m-2 29h0m-2-46h0m-1 11h0m-1-14h0m-4 21h0m-4 13h0m-12-26h0m-1-12h0m-2 2h0m129 61h0m4-4h0" stroke="#c13b82" stroke-width="11.0" stroke-linecap="round" stroke-opacity="0.55" fill="none"/>
<path transform="scale(.1)" d="M2212 839h0m-46-7h0m-19 1h0m-30 58h0m21-19h0m1-12h0m10 21h0m7-3h0m5-12h0m4 20h0m1-18h0m3 24h0m1-42h0m0 26h0m4-28h0m1 25h0m9 16h0m4-18h0m3-21h0m9 6h0m20 64h0m-16-15h0m0 9h0m-18-8h0m-17 10h0m-6 23h0m0-23h0m-1 3h0m-2 18h0m-1-19h0m-12 2h0m-8-12h0m-2 32h0m-2-31h0" stroke="#de5f65" stroke-width="11.0" stroke-linecap="round" stroke-opacity="0.55" fill="none"/>
<path transform="scale(.1)" d="M1680 1011h0m39-11h0m8-3h0m12 5h0m3 5h0m9 7h0m7-45h0m9 39h0m4-5h0m6-5h0m3 13h0m3-16h0m4 15h0m3-1h0m2 8h0m14-10h0m3-3h0m7 14h0m4-2h0m3 0h0m0-7h0m26-4h0m13-11h0m26 18h0m23 39h0m-2 8h0m-13 10h0m-15 3h0m-6-2h0m-6-18h0m-7-32h0m-2 25h0m-5-20h0m-8 33h0m-1-11h0m-1 25h0m-1-23h0m-1 19h0m-1-24h0m-3-7h0m-2 14h0m-4-2h0m-4 4h0m-3-23h0m-3 17h0m-1-5h0m0-12h0m-3 25h0m-4 9h0m-2 2h0m0 11h0m-3-37h0m-1 3h0m-10-10h0m0-3h0m0 27h0m-5-36h0m-3 5h0m-1 6h0m-1 17h0m-1-22h0m0 5h0m-5-6h0m-6 35h0m-8-22h0m-4-4h0m-2 6h0m-1 9h0m-17-25h0m55 69h0m56 13h0m29-21h0" stroke="#c13b82" stroke-width="11.0" stroke-linecap="round" stroke-opacity="0.55" fill="none"/>
<path transform="scale(.1)" d="M1895 1006h0m35 11h0m7 0h0m79-3h0m0-11h0m29 64h0m-17-5h0m-1-1h0m-4 1h0m-2-35h0m0 50h0m-1-40h0m-1-14h0m-1 38h0m-3-19h0m0-9h0m-10 17h0m-4 14h0m-1-24h0m0 37h0m0-51h0m-5 19h0m-3-5h0m-5 25h0m-3-32h0m-1 21h0m-4 20h0m-2-4h0m0 8h0m-5-40h0m0 24h0m-1-12h0m0 7h0m-2 5h0m-1 1h0m-1-22h0m-1 24h0m-3 9h0m-1-14h0m-8-17h0m-3 16h0m-1-26h0m-7 18h0m-4-4h0m-1-14h0m-1 42h0m-3-21h0m-2 25h0m-2-31h0m-1 29h0m-6-55h0m-3 13h0m0 44h0m0-17h0m-4-36h0m-2 14h0m-1 7h0m-4 13h0m-10 8h0m-1-3h0m-11-1h0m-9 12h0m-2-13h0m-1 8h0m0-26h0m-3 0h0m-38 15h0m39 26h0m29-3h0m3 5h0m1 0h0m21-7h0m1 20h0m8-18h0m15-3h0m8 3h0m13 29h0m14-17h0m18 22h0m62-8h0" stroke="#cc4778" stroke-width="11.0" stroke-linecap="round" stroke-opacity="0.55" fill="none"/>
<path transform="scale(.1)" d="M1742 885h0m18 11h0m14 30h0m-10 7h0m-9-32h0m-3 41h0m-2 13h0m-6-23h0m-13 10h0m-6-40h0m-4 45h0m-6-11h0m-2-15h0m-1 7h0m-1 7h0m-7-9h0m-1 16h0m-6-2h0m-1 11h0m-2-25h0m-17 57h0m19-9h0m8 11h0m3 10h0m3-25h0m0 10h0m14-7h0m5-9h0m3 2h0m1 23h0m2-10h0m10-13h0m14 48h0m9-30h0m2-5h0m-34 50h0" stroke="#b52f8c" stroke-width="11.0" stroke-linecap="round" stroke-opacity="0.55" fill="none"/>
<path transform="scale(.1)" d="M2117 881h0m44 15h0m10 1h0m19 35h0m-2 13h0m-2 2h0m-11-5h0m-6-25h0m0 16h0m-2-8h0m-6-5h0m-1 15h0m-17-21h0m-5 21h0m-1-13h0m0-4h0m0 36h0m-3 4h0m-3-16h0m-5-28h0m-3-6h0m-4 7h0m-2 43h0m-3-7h0m-4-27h0m-17 34h0m-11-38h0m-10 24h0m-39 71h0m12-18h0m3-6h0m5 5h0m1 16h0m3-37h0m0-14h0m3 41h0m5 4h0m5-7h0m2-19h0m2 37h0m1-33h0m1 2h0m0 6h0m9 12h0m2-5h0m4 9h0m1-16h0m6-25h0m3 5h0m1 40h0m0-15h0m2 14h0m0-43h0m1 21h0m3-8h0m6-4h0m1 3h0m11-20h0m4 16h0m0 5h0m4-8h0m1 29h0m3-32h0m0-5h0m0-3h0m20 31h0m5-33h0m-72 66h0m-9 18h0m-2-13h0m-21 9h0m-24 23h0m-4-21h0" stroke="#d5536f" stroke-width="11.0" stroke-linecap="round" stroke-opacity="0.55" fill="none"/>
<path transform="scale(.1)" d="M2145 895h0m14 3h0m20-28h0m7 64h0m-7 1h0m-7-6h0m-1-9h0m-1-3h0m0 15h0m-2-15h0m0 11h0m-6-18h0m-1 46h0m-4-15h0m-5 10h0m-6-1h0m-7 1h0m-1 8h0m-1-50h0m0 34h0m-3-3h0m-1-33h0m-3 39h0m-4-9h0m-1-22h0m-5 5h0m-7 14h0m-7 15h0m-5 10h0m0-35h0m-1 11h0m-3-9h0m-91 80h0m16 8h0m23-15h0m1-4h0m1 22h0m1-1h0m0-15h0m4 14h0m6-25h0m1 0h0m0 14h0m3-39h0m1 42h0m1-5h0m1-6h0m1-30h0m0 43h0m6-40h0m3 32h0m5-2h0m12-39h0m6 7h0m0 26h0m14 15h0m5-43h0m1 18h0m0 1h0m1-12h0m17 37h0m4-48h0m5 29h0m1-9h0m10-12h0m8-1h0m5 24h0m-58 45h0m-6-9h0m0-7h0m-2 48h0m-10-49h0m-8 55h0m-7-30h0m-2-16h0m-2-1h0m-3-7h0m-2 2h0m-12 30h0m-10-8h0m-3-20h0m-6 31h0m-2-18h0m-13 7h0m-18 0h0" stroke="#d5536f" stroke-width="11.0" stroke-linecap="round" stroke-opacity="0.55" fill="none"/>
<path transform="scale(.1)" d="M1691 898h0m41-24h0m15 24h0m26 17h0m-8 22h0m-1 11h0m-4-5h0m0 3h0m-8-44h0m-1-1h0m-5 53h0m-10-6h0m-5-47h0m-8 42h0m-4-10h0m0 12h0m-3 3h0m-21-39h0m-3-4h0m-12 41h0m-5 3h0m18 27h0m2-15h0m7 30h0m9-11h0m10 6h0m5-14h0m5 7h0m4-17h0m2 22h0m1-23h0m20 13h0m16-4h0" stroke="#b52f8c" stroke-width="11.0" stroke-linecap="round" stroke-opacity="0.55" fill="none"/>
<path transform="scale(.1)" d="M1703 884h0m2 7h0m53 5h0m19 35h0m-3 4h0m-4 4h0m-9 3h0m0 4h0m-17-40h0m-3 27h0m-1-11h0m-4-13h0m0 31h0m-6-29h0m-4 44h0m-3-28h0m-1 17h0m-2-42h0m-7 37h0m-1-8h0m-5-11h0m-2 3h0m-2 8h0m-1 25h0m0-13h0m0 16h0m-25-15h0m10 17h0m30 28h0m0-2h0m11-11h0m4-6h0m10 25h0m7-14h0m35-7h0" stroke="#b52f8c" stroke-width="11.0" stroke-linecap="round" stroke-opacity="0.55" fill="none"/>
<path transform="scale(.1)" d="M1940 708h0m-35 66h0m39-2h0m9-7h0m11 6h0m7 3h0m33 63h0m-2-12h0m-10-12h0m-3 8h0m-1 3h0m-1 8h0m-4-32h0m-3 37h0m0-4h0m-2-43h0m-5 40h0m0-12h0m-1-11h0m-5 21h0m0-42h0m-1 9h0m0 41h0m-1-19h0m-1 2h0m-2-3h0m-3-1h0m0 22h0m-1-20h0m-1-29h0m-3-5h0m-1 1h0m-2 30h0m-1-29h0m-1 33h0m-1-38h0m0 51h0m0-42h0m-10-4h0m-5-1h0m-3 0h0m-7 32h0m-9-29h0m19 63h0m12 20h0m5-29h0m4 10h0m8 6h0m2 32h0m2-18h0m1 7h0m3-6h0m4-21h0m0 12h0m3 21h0m2-39h0m4 36h0m3 6h0m4-29h0m5 9h0m1-16h0m2 48h0m3-6h0m1 0h0m2 5h0m0-57h0m0 49h0m1 5h0m1-45h0m0 36h0m0-3h0m1-23h0m1 13h0m2-13h0m2 15h0m7 5h0m0 0h0m18 11h0m5-13h0m14 42h0m-14-8h0m-16 9h0m-1-9h0m-5 14h0m-1-17h0m-2 7h0m-1 2h0m0-13h0m-1 0h0m-8 34h0m-10-33h0m0 2h0m-9 3h0" stroke="#4c02a1" stroke-width="11.0" stroke-linecap="round" stroke-opacity="0.65" fill="none"/>
<path transform="scale(.1)" d="M1889 777h0m19-3h0m8 0h0m9 0h0m3-8h0m0 10h0m5-32h0m0-8h0m22 25h0m8-16h0m2 32h0m2-10h0m29 40h0m-4 15h0m-3 7h0m-4 0h0m-4-25h0m-4 10h0m0-10h0m-3 20h0m-10-5h0m0-1h0m0-7h0m-1 20h0m-1-47h0m0 3h0m-3 44h0m-1-21h0m0-30h0m-5 9h0m-3-9h0m-2 8h0m-2 24h0m-5-28h0m-6 35h0m-2-38h0m-11 31h0m-1-1h0m-7-9h0m23 42h0m31 41h0m1-31h0m5 40h0m2-26h0m1-17h0m2 4h0m1-13h0m3 20h0m1-9h0m1-11h0m2 4h0m6-6h0m2 46h0m1-1h0m1-21h0m1 12h0m0-11h0m3 5h0m2 27h0m0-50h0m3 1h0m0 45h0m1-40h0m1 44h0m2-21h0m0-14h0m0 26h0m13 0h0m1-34h0m4 10h0m0 32h0m5-4h0m18-32h0m5 42h0m-26 23h0m-18-18h0m-4 14h0" stroke="#3a049a" stroke-width="11.0" stroke-linecap="round" stroke-opacity="0.65" fill="none"/>
<path transform="scale(.1)" d="M1897 762h0m7 1h0m10 13h0m6-17h0m4 0h0m9 17h0m2-5h0m3 5h0m3-13h0m3 2h0m3-14h0m14 15h0m3-3h0m3-3h0m24 20h0m-3 16h0m-7 19h0m-6-10h0m-6-9h0m-1 27h0m0-13h0m-1 27h0m-7-35h0m-2-3h0m-1-12h0m-1 2h0m-2 31h0m-1 10h0m-1-29h0m0 6h0m-2 0h0m-11 2h0m-5-24h0m-2 9h0m0 11h0m-4-14h0m-3 17h0m-6 22h0m18 21h0m12-7h0m5 21h0m1-13h0m2-11h0m8 4h0m4 30h0m2-10h0m2-18h0m3-5h0m1 50h0m1-44h0m2 34h0m3-3h0m3-22h0m1-7h0m7 21h0m1-16h0m3 13h0m3 17h0m1-4h0m1 2h0m6 11h0m0-26h0m3 20h0m4 6h0m1-1h0m1-18h0m4 8h0m4 9h0m0-31h0m4 31h0m28 37h0m-6 4h0m-3-29h0m-13 46h0m-9-48h0m-27 26h0m-11-25h0m-16-1h0" stroke="#4c02a1" stroke-width="11.0" stroke-linecap="round" stroke-opacity="0.65" fill="none"/>
<path transform="scale(.1)" d="M1921 778h0m18-17h0m2-5h0m5 21h0m61 42h0m-13-34h0m-28 4h0m-1-2h0m-7 34h0m-3 4h0m-21 7h0m-8-31h0m-17 17h0m57 27h0m2 42h0m10-39h0m2 2h0m10 18h0m14 16h0m48 31h0m-3 11h0m-35 14h0" stroke="#5c01a6" stroke-width="11.0" stroke-linecap="round" stroke-opacity="0.65" fill="none"/>
<path transform="scale(.1)" d="M1909 749h0m16 24h0m40 1h0m15 0h0m21 36h0m-4 10h0m-1-24h0m-9 20h0m-3 9h0m-3-21h0m-6-9h0m-2 44h0m-3-48h0m-1 11h0m-4-12h0m-2 33h0m0-11h0m-4 3h0m-2-9h0m0-14h0m-4 31h0m-1-14h0m-1 15h0m-1-22h0m-4 30h0m-1 2h0m-4-48h0m-1 18h0m-12-24h0m-2 4h0m-24 6h0m48 58h0m2 6h0m6 10h0m7 21h0m2-25h0m0-1h0m1-16h0m0 18h0m7-17h0m3 26h0m9 19h0m2 6h0m0 4h0m2-14h0m0-14h0m1-14h0m4-7h0m3 29h0m2-20h0m1 17h0m2-34h0m3 2h0m6 29h0m1-6h0m1-20h0m0 49h0m3-5h0m14-11h0m24 61h0m-18-17h0m-9 19h0m-8-35h0m-3 38h0m-1-25h0m-46-20h0" stroke="#4c02a1" stroke-width="11.0" stroke-linecap="round" stroke-opacity="0.65" fill="none"/>
<path transform="scale(.1)" d="M1898 761h0m4-13h0m11 26h0m2-15h0m0 7h0m9 1h0m1-22h0m5 21h0m6 12h0m14-2h0m3-27h0m51 86h0m-15 1h0m-4-26h0m-2 9h0m-1 20h0m-3-12h0m-3 0h0m-6-5h0m0 12h0m-6-49h0m0 27h0m-1-7h0m0 3h0m-1 18h0m-3-33h0m-5-4h0m-1-7h0m0 49h0m-2-29h0m-3-18h0m-4 52h0m-1-44h0m-3 10h0m-1-17h0m-9 11h0m-2 15h0m-8-30h0m-7 24h0m44 70h0m15-21h0m3-2h0m2-7h0m1 31h0m3-14h0m4 6h0m4 4h0m2 0h0m2-28h0m1 23h0m1-21h0m6 14h0m2 2h0m2-16h0m1 46h0m2-39h0m0 13h0m6-10h0m2 24h0m4 13h0m3-14h0m2 5h0m6-17h0m5 6h0m20 37h0m-11 9h0m-9-18h0m-1 2h0m-22 30h0m-2-21h0m-10 2h0" stroke="#3a049a" stroke-width="11.0" stroke-linecap="round" stroke-opacity="0.65" fill="none"/>
<path transform="scale(.1)" d="M1956 797h0m10 47h0m20 42h0m16 12h0m18 56h0m-16-34h0m-8-1h0" stroke="#260591" stroke-width="11.0" stroke-linecap="round" stroke-opacity="0.65" fill="none"/>
<path transform="scale(.1)" d="M2021 831h0m-100-32h0m84 76h0" stroke="#260591" stroke-width="11.0" stroke-linecap="round" stroke-opacity="0.65" fill="none"/>
<path transform="scale(.1)" d="M1916 769h0m1-17h0m10-21h0m3 46h0m2-18h0m21 4h0m20 14h0m10 39h0m-2-4h0m-2 7h0m-1-39h0m-4 44h0m0-3h0m0-1h0m-1-15h0m0 18h0m-1 0h0m-2-12h0m-1 25h0m-1 2h0m-2-7h0m0-23h0m-1 28h0m0-24h0m-2 21h0m-1-11h0m-4-24h0m-1-3h0m-3 41h0m-8-31h0m-1 11h0m-1-12h0m0-14h0m-1 17h0m-2-21h0m-3-6h0m-1 22h0m-8-6h0m-3-11h0m-8 21h0m0-13h0m-10-3h0m-11-3h0m56 56h0m18 8h0m2-2h0m9-9h0m0 4h0m2-4h0m2 27h0m2-24h0m4 42h0m6-45h0m1 49h0m1-46h0m1 1h0m3 26h0m1-25h0m1 24h0m3 4h0m4 13h0m3-2h0m2 8h0m1-5h0m20 22h0m-2 10h0m-12-14h0m-7 9h0m-3-2h0m-2-11h0m0 28h0m-3 12h0m-6-24h0" stroke="#3a049a" stroke-width="11.0" stroke-linecap="round" stroke-opacity="0.65" fill="none"/>
<path transform="scale(.1)" d="M1919 754h0m36-4h0m26 83h0m-7-30h0m-16-21h0m0 1h0m-1 50h0m-1-32h0m-13 24h0m-3-19h0m-4 8h0m-22-24h0m-1 7h0m39 52h0m6 2h0m3 1h0m26-6h0m1 36h0m1-38h0m9 21h0m2 31h0m14-12h0m5 9h0m5-39h0m17 12h0m-19 40h0m-11-1h0m-1 20h0m-8-21h0" stroke="#5c01a6" stroke-width="11.0" stroke-linecap="round" stroke-opacity="0.65" fill="none"/>
<path transform="scale(.1)" d="M1912 777h0m57 60h0m-17-12h0m-11-42h0m-1 77h0m37-2h0m32 67h0" stroke="#260591" stroke-width="11.0" stroke-linecap="round" stroke-opacity="0.65" fill="none"/>
<path transform="scale(.1)" d="M1929 719h0m-21 57h0m25-22h0m2 21h0m12-20h0m4 9h0m62 39h0m-32 7h0m-4 11h0m-2 9h0m-17-14h0m-5-21h0m-8-9h0m-8-3h0m27 79h0m25-8h0m26-2h0m7 19h0m1 5h0m1-16h0m31 39h0m-20 46h0m-4-31h0m-8 3h0" stroke="#5c01a6" stroke-width="11.0" stroke-linecap="round" stroke-opacity="0.65" fill="none"/>
<path transform="scale(.1)" d="M1998 582h0m167 208h0m-305 111h0" stroke="#7e03a8" stroke-width="11.0" stroke-linecap="round" stroke-opacity="0.35" fill="none"/>
<path transform="scale(.1)" d="M2025 779h0m-25 45h0m-238-23h0m342 64h0m-321 69h0m160 202h0" stroke="#b52f8c" stroke-width="11.0" stroke-linecap="round" stroke-opacity="0.35" fill="none"/>
<path transform="scale(.1)" d="M1713 587h0m265 90h0m-214 233h0" stroke="#f89540" stroke-width="11.0" stroke-linecap="round" stroke-opacity="0.35" fill="none"/>
<path transform="scale(.1)" d="M1871 451h0" stroke="#fbd524" stroke-width="11.0" stroke-linecap="round" stroke-opacity="0.35" fill="none"/>
<path transform="scale(.1)" d="M1960 790h0" stroke="#9c179e" stroke-width="11.0" stroke-linecap="round" stroke-opacity="0.35" fill="none"/>
<path transform="scale(.1)" d="M1811 641h0m332-6h0m11 16h0m-205 329h0" stroke="#fdc527" stroke-width="11.0" stroke-linecap="round" stroke-opacity="0.35" fill="none"/>
<path transform="scale(.1)" d="M2208 686h0m-347 128h0m124 116h0" stroke="#b52f8c" stroke-width="11.0" stroke-linecap="round" stroke-opacity="0.35" fill="none"/>
<path transform="scale(.1)" d="M1735 639h0m472 190h0m-171-26h0" stroke="#7e03a8" stroke-width="11.0" stroke-linecap="round" stroke-opacity="0.35" fill="none"/>
<path transform="scale(.1)" d="M1997 515h0m-81 41h0m154 208h0m11 33h0m-149 33h0" stroke="#c13b82" stroke-width="11.0" stroke-linecap="round" stroke-opacity="0.35" fill="none"/>
<path transform="scale(.1)" d="M1986 492h0m-102 513h0m224-44h0" stroke="#fdb42f" stroke-width="11.0" stroke-linecap="round" stroke-opacity="0.35" fill="none"/>
<path transform="scale(.1)" d="M1880 1000h0m195-40h0" stroke="#f3874a" stroke-width="11.0" stroke-linecap="round" stroke-opacity="0.35" fill="none"/>
<path transform="scale(.1)" d="M2200 576h0" stroke="#d5536f" stroke-width="11.0" stroke-linecap="round" stroke-opacity="0.35" fill="none"/>
<path transform="scale(.1)" d="M1846 414h0m226 197h0m-120 117h0" stroke="#fca338" stroke-width="11.0" stroke-linecap="round" stroke-opacity="0.35" fill="none"/>
<path transform="scale(.1)" d="M1765 543h0m-29 120h0" stroke="#6e00a8" stroke-width="11.0" stroke-linecap="round" stroke-opacity="0.35" fill="none"/>
<path transform="scale(.1)" d="M1876 929h0" stroke="#aa2395" stroke-width="11.0" stroke-linecap="round" stroke-opacity="0.35" fill="none"/>
<path transform="scale(.1)" d="M1831 475h0m213 173h0" stroke="#ed7953" stroke-width="11.0" stroke-linecap="round" stroke-opacity="0.35" fill="none"/>
<path transform="scale(.1)" d="M1777 492h0m217 36h0m-217 273h0" stroke="#f89540" stroke-width="11.0" stroke-linecap="round" stroke-opacity="0.35" fill="none"/>
<path transform="scale(.1)" d="M1978 615h0m181 132h0m-273 204h0" stroke="#fdc527" stroke-width="11.0" stroke-linecap="round" stroke-opacity="0.35" fill="none"/>
<path transform="scale(.1)" d="M1818 697h0" stroke="#aa2395" stroke-width="11.0" stroke-linecap="round" stroke-opacity="0.35" fill="none"/>
<path transform="scale(.1)" d="M2025 735h0m-227 103h0" stroke="#de5f65" stroke-width="11.0" stroke-linecap="round" stroke-opacity="0.35" fill="none"/>
<path transform="scale(.1)" d="M1936 740h0m138 148h0" stroke="#fca338" stroke-width="11.0" stroke-linecap="round" stroke-opacity="0.35" fill="none"/>
<path transform="scale(.1)" d="M2139 547h0m-19 293h0" stroke="#9c179e" stroke-width="11.0" stroke-linecap="round" stroke-opacity="0.35" fill="none"/>
<path transform="scale(.1)" d="M2162 635h0m13 197h0" stroke="#b52f8c" stroke-width="11.0" stroke-linecap="round" stroke-opacity="0.35" fill="none"/>
<path transform="scale(.1)" d="M2083 542h0m93 173h0m-275 47h0m331-16h0m-320 144h0" stroke="#fdb42f" stroke-width="11.0" stroke-linecap="round" stroke-opacity="0.35" fill="none"/>
<path transform="scale(.1)" d="M2033 457h0m-263 106h0m430 51h0m-477 175h0m426 133h0m-176 114h0" stroke="#cc4778" stroke-width="11.0" stroke-linecap="round" stroke-opacity="0.35" fill="none"/>
<path transform="scale(.1)" d="M1996 504h0" stroke="#e66c5c" stroke-width="11.0" stroke-linecap="round" stroke-opacity="0.35" fill="none"/>
<path transform="scale(.1)" d="M1816 745h0m67 148h0" stroke="#fca338" stroke-width="11.0" stroke-linecap="round" stroke-opacity="0.35" fill="none"/>
<path transform="scale(.1)" d="M1971 495h0m123 375h0m101 38h0" stroke="#e66c5c" stroke-width="11.0" stroke-linecap="round" stroke-opacity="0.35" fill="none"/>
<path transform="scale(.1)" d="M2163 665h0m39 174h0m-172 182h0" stroke="#d5536f" stroke-width="11.0" stroke-linecap="round" stroke-opacity="0.35" fill="none"/>
<path transform="scale(.1)" d="M2187 549h0m-199 277h0m-166 147h0m244 81h0" stroke="#d5536f" stroke-width="11.0" stroke-linecap="round" stroke-opacity="0.35" fill="none"/>
<path transform="scale(.1)" d="M1969 1119h0" stroke="#8d0ba5" stroke-width="11.0" stroke-linecap="round" stroke-opacity="0.35" fill="none"/>
<path transform="scale(.1)" d="M1715 569h0m393 243h0" stroke="#de5f65" stroke-width="11.0" stroke-linecap="round" stroke-opacity="0.35" fill="none"/>
<path transform="scale(.1)" d="M1890 506h0m108 55h0m-270 333h0m204 1h0" stroke="#fdb42f" stroke-width="11.0" stroke-linecap="round" stroke-opacity="0.35" fill="none"/>
<path transform="scale(.1)" d="M1938 460h0m-165 201h0m337 243h0" stroke="#e66c5c" stroke-width="11.0" stroke-linecap="round" stroke-opacity="0.35" fill="none"/>
<path transform="scale(.1)" d="M1734 707h0" stroke="#cc4778" stroke-width="11.0" stroke-linecap="round" stroke-opacity="0.35" fill="none"/>
<path transform="scale(.1)" d="M1809 895h0" stroke="#c13b82" stroke-width="11.0" stroke-linecap="round" stroke-opacity="0.35" fill="none"/>
<path transform="scale(.1)" d="M2203 585h0m-312 390h0m207 60h0" stroke="#cc4778" stroke-width="11.0" stroke-linecap="round" stroke-opacity="0.35" fill="none"/>
<path transform="scale(.1)" d="M2085 531h0m20 228h0m-326 248h0m112 40h0" stroke="#ed7953" stroke-width="11.0" stroke-linecap="round" stroke-opacity="0.35" fill="none"/>
<path transform="scale(.1)" d="M2036 953h0m145 14h0m-104 106h0" stroke="#fdc527" stroke-width="11.0" stroke-linecap="round" stroke-opacity="0.35" fill="none"/>
<path transform="scale(.1)" d="M1830 492h0m238 181h0m-95 266h0" stroke="#f3874a" stroke-width="11.0" stroke-linecap="round" stroke-opacity="0.35" fill="none"/>
<path transform="scale(.1)" d="M2037 482h0m-34 68h0m-18 275h0m64 140h0" stroke="#de5f65" stroke-width="11.0" stroke-linecap="round" stroke-opacity="0.35" fill="none"/>
<path transform="scale(.1)" d="M1998 1044h0" stroke="#6e00a8" stroke-width="11.0" stroke-linecap="round" stroke-opacity="0.35" fill="none"/>
<path transform="scale(.1)" d="M1889 960h0m33 125h0" stroke="#f89540" stroke-width="11.0" stroke-linecap="round" stroke-opacity="0.35" fill="none"/>
<path transform="scale(.1)" d="M2058 439h0m-200 197h0" stroke="#7e03a8" stroke-width="11.0" stroke-linecap="round" stroke-opacity="0.35" fill="none"/>
<path transform="scale(.1)" d="M2005 921h0" stroke="#6e00a8" stroke-width="11.0" stroke-linecap="round" stroke-opacity="0.35" fill="none"/>
<path transform="scale(.1)" d="M1927 713h0" stroke="#f3874a" stroke-width="11.0" stroke-linecap="round" stroke-opacity="0.35" fill="none"/>
<path transform="scale(.1)" d="M1951 858h0" stroke="#8d0ba5" stroke-width="11.0" stroke-linecap="round" stroke-opacity="0.35" fill="none"/>
<path transform="scale(.1)" d="M1745 606h0" stroke="#c13b82" stroke-width="11.0" stroke-linecap="round" stroke-opacity="0.35" fill="none"/>
<path transform="scale(.1)" d="M3302 479h0m-11 0h0m-36-19h0m-3-25h0m-2 10h0m-3 21h0m0 2h0m-8 0h0m-2-11h0m-10-3h0m-4 25h0m-3-25h0m-2-21h0m-1 17h0m-4 4h0m-7 18h0m-2-2h0m-2-41h0m0 47h0m-6-9h0m-8 2h0m-9-21h0m-3 9h0m-3-24h0m0 26h0m-22-2h0m-23 3h0m29 42h0m20-10h0m16 9h0m9 14h0m12-35h0m1 16h0m1-2h0m1 0h0m7-13h0m1 11h0m2 15h0m5-8h0m1-18h0m5 30h0m1-30h0m4 35h0m3 5h0m2-32h0m2-2h0m1 19h0m7-3h0m2 24h0m26-24h0" stroke="#f89540" stroke-width="11.0" stroke-linecap="round" stroke-opacity="0.68" fill="none"/>
<path transform="scale(.1)" d="M3284 524h0m53 1h0m19 8h0m38 66h0m-5-42h0m-11 39h0m0-6h0m-7-4h0m-3-4h0m-7-30h0m-3 38h0m0-19h0m-7-28h0m-3 49h0m-2-7h0m0 5h0m-1-17h0m-1-20h0m-2 14h0m-4-14h0m-4 9h0m-2 36h0m-1-48h0m-4 5h0m-5 29h0m-3-35h0m0-6h0m-5 37h0m-11-24h0m74 47h0" stroke="#fdb42f" stroke-width="11.0" stroke-linecap="round" stroke-opacity="0.68" fill="none"/>
<path transform="scale(.1)" d="M3306 582h0m-10 4h0m-1 13h0m-4-13h0m-1-1h0m0-9h0m-2-8h0m-8 16h0m-8-24h0m-13-2h0m-2 26h0m-3-21h0m-4 25h0m-4-19h0m-1 4h0m-1 12h0m-4-14h0m0 10h0m-4-4h0m-1 12h0m-9-2h0m-2 5h0m0 3h0m-2-3h0m-1-34h0m-1 23h0m-1 16h0m-3-3h0m-6-18h0m-2 13h0m-5-4h0m-2 3h0m0 2h0m-1 4h0m-1-1h0m-1-9h0m-6 10h0m-4-12h0m-2-7h0m-5 17h0m0-17h0m-11 2h0m-13-12h0m30 65h0m2 9h0m5-21h0m3 10h0m4-3h0m11-22h0m4 6h0m4-1h0m4 16h0m1-13h0m6-11h0m1 1h0m9 27h0m8-18h0m8-1h0m6 0h0m10-6h0m12 16h0m10 2h0" stroke="#3a049a" stroke-width="11.0" stroke-linecap="round" stroke-opacity="0.68" fill="none"/>
<path transform="scale(.1)" d="M3209 580h0m-17 18h0m-4-2h0m0-48h0m-7 41h0m-13 1h0m-7 3h0m0-32h0m-27 19h0m-25 48h0m9 30h0m21-31h0m4-18h0m2 15h0m0 28h0m1-7h0m4 2h0m3-3h0m2 15h0m1-44h0m1 30h0m1 1h0m0 6h0m4-7h0m0-17h0m2 3h0m4 7h0m1-13h0m1-21h0m2 20h0m3 10h0m0-18h0m1 33h0m1-49h0m0 37h0m1-1h0m1 5h0m4-28h0m0 20h0m2-11h0m1 12h0m2 13h0m3-11h0m4 8h0m2-21h0m14-1h0m33-4h0m-65 66h0m-4-22h0m-1 27h0m-6-18h0m-7 45h0m-1-52h0m-1 15h0m-1 12h0m-1 10h0m0-23h0m-10 25h0m-5 11h0m0-26h0m-2 8h0m-1-35h0m-1 6h0m-1 38h0m-2-2h0m-1-15h0m0 28h0m-2-25h0m-1 27h0m0-42h0m-3-12h0m-5 34h0m-1 2h0m0-31h0m-12 68h0m2-9h0m7 1h0m2 19h0m1-8h0m2 32h0m2-35h0m3 11h0m1 6h0m2-2h0m0 2h0m1-7h0m0-26h0m1 2h0m0 55h0m2-37h0m2-13h0m0 17h0m3-8h0m0 2h0m0 38h0m0-44h0m0-7h0m0 3h0m6 10h0m3-15h0m2 11h0m2-6h0m4 33h0m2-25h0m0 4h0m1 9h0" stroke="#260591" stroke-width="11.0" stroke-linecap="round" stroke-opacity="0.68" fill="none"/>
<path transform="scale(.1)" d="M3217 1079h0m-13 0h0m-1-16h0m-1-18h0m-1 29h0m-4-11h0m0-20h0m-1 32h0m-4-30h0m-8 5h0m-1 12h0m-2-5h0m-4 13h0m-11 0h0m-12 5h0m-10 41h0m6-2h0m2-1h0m0-13h0m0-9h0m0 11h0m11-7h0m1 16h0m9-6h0m3-3h0m2-18h0m4 29h0m7-30h0" stroke="#aa2395" stroke-width="11.0" stroke-linecap="round" stroke-opacity="0.68" fill="none"/>
<path transform="scale(.1)" d="M3360 747h0m1 27h0m2-9h0m3 12h0m4-43h0m1 3h0m5 19h0m0-15h0m2 31h0m0-1h0m2-9h0m3-9h0m4-23h0m3 46h0m2-7h0m4-31h0m21 4h0m-22 53h0m-3 16h0m-5 4h0m-2-21h0m-1 40h0m-2-44h0m-4 21h0m-2-23h0m0 32h0m-1-40h0m0 11h0m0-11h0m-1 56h0m-1-36h0m0-5h0m-3 5h0m-1 39h0m-1-34h0m0-18h0m-1 27h0m-1-22h0m-2 5h0m-1 32h0m-2-43h0m-2 39h0m-12-16h0m-7-26h0m-1 17h0m-1 22h0m-5-22h0m-27 15h0m5 34h0m26 11h0m0-9h0m5-7h0m11 10h0m4-11h0m7-2h0m2-1h0m1 26h0m0-14h0m0-11h0m8 48h0m3-49h0m4 17h0m17-15h0" stroke="#fbd524" stroke-width="11.0" stroke-linecap="round" stroke-opacity="0.68" fill="none"/>
<path transform="scale(.1)" d="M2823 953h0m16 57h0m7-28h0m23 29h0m27 5h0m2-17h0m57 77h0m-6-6h0m-19-39h0m-16 32h0m0-3h0m-4 2h0m-6-11h0m-1-21h0m-4 9h0m-14 1h0m-40 24h0m-4-29h0m53 64h0m41-7h0m12 8h0" stroke="#cc4778" stroke-width="11.0" stroke-linecap="round" stroke-opacity="0.68" fill="none"/>
<path transform="scale(.1)" d="M3376 594h0m-7-17h0m-4 10h0m-6-2h0m-4 14h0m-6-9h0m-12 63h0m5 2h0m0-46h0m8 3h0m0 25h0m1 18h0m2-3h0m1-43h0m5 18h0m1-6h0m4-20h0m3 28h0m0-6h0m1-4h0m1 18h0m0 15h0m0-23h0m1 1h0m1-11h0m5 26h0m2-16h0m2 3h0m2-3h0m4-9h0m1-13h0m4 4h0m13 34h0m1-7h0m6 23h0m-2 14h0m-1 35h0m-3 1h0m-2-20h0m-8-30h0m-1 14h0m-1-1h0m-3-13h0m0 30h0m0-21h0m-2-4h0m-1 6h0m-1 42h0m-1-24h0m-1 3h0m-2-13h0m-1-16h0m0 39h0m-1 7h0m-1-7h0m-5-37h0m0 38h0m-1-4h0m-2-4h0m-2-21h0m-4 3h0m0-4h0m0 33h0m0 9h0m-1-21h0m0 24h0m0-25h0m0-25h0m-1 13h0m-2-14h0m0 37h0m0-29h0m-3 2h0m-1-9h0m-6 1h0m-2 19h0m-4 4h0m-2-32h0m-2 35h0m-2-21h0m14 58h0m3 31h0m7-11h0m4-14h0m3-18h0m2 28h0m29-29h0m-24 69h0" stroke="#fdc527" stroke-width="11.0" stroke-linecap="round" stroke-opacity="0.68" fill="none"/>
<path transform="scale(.1)" d="M3207 530h0m96 52h0m-7-6h0m-5-1h0m-16 8h0m0-3h0m-1 18h0m-3-37h0m-10-2h0m-2 10h0m-4 18h0m0-12h0m-4-25h0m-5 40h0m-2-15h0m-1 12h0m-2-21h0m-5 19h0m-2-3h0m-1-30h0m0 34h0m-3 3h0m-3-29h0m-2-6h0m-3-8h0m0 25h0m-1 2h0m-5-26h0m-1 37h0m-1-4h0m-2-31h0m-4 27h0m-1 21h0m0-2h0m-1-25h0m-6 25h0m-6-22h0m-3 12h0m0 4h0m-12-5h0m-4 14h0m-3-16h0m24 44h0m6 14h0m0-23h0m4-3h0m21-1h0m1 4h0m30 10h0m6-16h0m1 20h0m0-26h0m20 15h0" stroke="#3a049a" stroke-width="11.0" stroke-linecap="round" stroke-opacity="0.68" fill="none"/>
<path transform="scale(.1)" d="M3313 464h0m-15 12h0m-4 3h0m0-20h0m-29-10h0m-29 44h0m7 10h0m6 19h0m4-2h0m9 4h0m2 3h0m4-18h0m3 4h0m2 10h0m2-29h0m1-1h0m3 45h0m3-33h0m0 20h0m1-4h0m0 10h0m2-23h0m4 0h0m2 5h0m0 4h0m1-2h0m4-30h0m0 34h0m7 8h0m1-20h0m1 0h0m4 7h0m4-21h0m2 35h0m2 8h0m4-33h0m0 4h0m14-14h0m-51 48h0" stroke="#fca338" stroke-width="11.0" stroke-linecap="round" stroke-opacity="0.68" fill="none"/>
<path transform="scale(.1)" d="M2961 494h0m2 26h0m10-13h0m29 24h0m9-18h0m-47 64h0m-23-25h0m-4-5h0m-4 0h0m-3 19h0m0 9h0m-2-25h0m-5-7h0m-7 41h0m-5-17h0m-5 17h0m-7 14h0m-3-16h0m-1-25h0m-4 33h0m-20 37h0m0 3h0m1-4h0m28-24h0m1-2h0m17 0h0m15 23h0" stroke="#e66c5c" stroke-width="11.0" stroke-linecap="round" stroke-opacity="0.68" fill="none"/>
<path transform="scale(.1)" d="M3365 554h0m-6 42h0m-4 3h0m-2-18h0m-1-4h0m-24 73h0m6-22h0m5-26h0m10 41h0m6 15h0m2-24h0m2 7h0m1-3h0m7-13h0m2 16h0m2-5h0m0 19h0m4-13h0m4-17h0m1 30h0m3-9h0m0-1h0m2-1h0m0-14h0m15-5h0m5-15h0m8 17h0m16 17h0m-16 24h0m-10 0h0m-3-8h0m-3 27h0m-1 5h0m-3-12h0m0 39h0m-1-47h0m0 29h0m-5-38h0m-4 50h0m-2-28h0m-3 7h0m-2 12h0m-4-12h0m-2-27h0m-2 7h0m0 33h0m-3 4h0m-3-25h0m-7 6h0m-6 22h0m-1-46h0m0 5h0m-4-3h0m-6 10h0m-5-13h0m5 55h0m10 5h0m13 5h0m12 4h0m1-7h0m0-7h0m2 3h0m2 25h0m0-20h0m15 21h0m15 2h0m13-30h0" stroke="#fdc527" stroke-width="11.0" stroke-linecap="round" stroke-opacity="0.68" fill="none"/>
<path transform="scale(.1)" d="M3287 478h0m-21-47h0m-13 38h0m-8-6h0m-3 1h0m-1-2h0m-1 4h0m-1-7h0m0 12h0m0-2h0m-5-34h0m-5 40h0m-2-2h0m-2-30h0m-4 10h0m-1-13h0m-1 34h0m-1-26h0m-6-4h0m-1 10h0m-2 18h0m-4-29h0m-1 35h0m-3-35h0m0 34h0m-1-9h0m-7 11h0m-13-56h0m-3 30h0m-3-1h0m-2 6h0m0-14h0m-16 14h0m-5 10h0m14 31h0m8-12h0m17 14h0m0-10h0m11-6h0m5 4h0m1 35h0m2-24h0m4-9h0m9 12h0m0-5h0m7 4h0m3 19h0m5 11h0m1-44h0m2 2h0m3 34h0m2-38h0m3 6h0m2 12h0m13-16h0m11 10h0" stroke="#f89540" stroke-width="11.0" stroke-linecap="round" stroke-opacity="0.68" fill="none"/>
<path transform="scale(.1)" d="M3190 444h0m-13 27h0m-11-6h0m-4-16h0m-8-11h0m-1 22h0m-8-9h0m0 4h0m-8-8h0m-1-23h0m0 21h0m0 19h0m-3-19h0m0-8h0m0 36h0m-3 4h0m-2-21h0m-3 5h0m-3-16h0m-3 30h0m-6-6h0m-2 3h0m-9-22h0m-1 20h0m-1-18h0m-2-19h0m-14 26h0m0-32h0m-13 49h0m-14-29h0m17 57h0m11-8h0m16 25h0m11-33h0m9 1h0m12 3h0m6 7h0m8 16h0m0-35h0m4 10h0m2-5h0m16 9h0m2-1h0m12 4h0" stroke="#f3874a" stroke-width="11.0" stroke-linecap="round" stroke-opacity="0.68" fill="none"/>
<path transform="scale(.1)" d="M2809 996h0m3 16h0m1-15h0m7-26h0m32 20h0m0 20h0m3-30h0m0 2h0m10-5h0m6 7h0m16 24h0m72 64h0m-17-7h0m-18 4h0m-1-6h0m-1 3h0m-7-7h0m-11 12h0m-1 0h0m-2-29h0m-13 24h0m-2-23h0m-1 7h0m-5 6h0m-1 9h0m-6-32h0m-4 40h0m-22-53h0m73 67h0m9-6h0m18 3h0" stroke="#cc4778" stroke-width="11.0" stroke-linecap="round" stroke-opacity="0.68" fill="none"/>
<path transform="scale(.1)" d="M3227 475h0m-55-39h0m0 23h0m-2 5h0m-1 5h0m-2-28h0m-3 6h0m-12 13h0m-7-4h0m-4-5h0m-2 4h0m-2-2h0m-1-17h0m-5 27h0m-1 13h0m-3-12h0m-2 8h0m-8 0h0m-3-8h0m-7 4h0m0-9h0m-2-6h0m-3-3h0m-3 22h0m-2 4h0m-4-46h0m-9 31h0m-10-2h0m-21-7h0m34 56h0m9-28h0m1 35h0m20-23h0m4 25h0m4-28h0m6 30h0m0-25h0m4-4h0m19-10h0" stroke="#f3874a" stroke-width="11.0" stroke-linecap="round" stroke-opacity="0.68" fill="none"/>
<path transform="scale(.1)" d="M3405 594h0m-28 5h0m0-10h0m-2-10h0m-14 19h0m-7-6h0m-1-1h0m-2 3h0m-29 1h0m-5 15h0m11 42h0m8-6h0m4-22h0m8 24h0m2-15h0m1-33h0m1 41h0m3 6h0m0-37h0m1-9h0m7 46h0m3-44h0m4 43h0m6 7h0m5-28h0m2-12h0m3 5h0m0 32h0m2-15h0m7-32h0m1 56h0m2-8h0m11-8h0m4-9h0m0 36h0m-13 20h0m-1 7h0m-2 21h0m-3-39h0m-1-4h0m-1-10h0m-2 15h0m-2-8h0m-1 21h0m-6-24h0m-2 43h0m0-37h0m0-14h0m-2 49h0m0 3h0m-6-9h0m-8 10h0m-1-41h0m0 17h0m-1-3h0m-1-26h0m-3 2h0m0 47h0m-1-32h0m0-8h0m-1 40h0m-4-22h0m-2-16h0m0-8h0m-5 39h0m-1-10h0m-2-14h0m-12-10h0m17 56h0m1 10h0m14 24h0m3-26h0m3-6h0m6 14h0m5-19h0m3 3h0m6 5h0m2-10h0" stroke="#fdc527" stroke-width="11.0" stroke-linecap="round" stroke-opacity="0.68" fill="none"/>
<path transform="scale(.1)" d="M2829 629h0m25 5h0m8-7h0m0-12h0m2 27h0m1-27h0m7 43h0m2 0h0m6-47h0m8 18h0m11-25h0m-6 63h0m-6 6h0m-4 1h0m-23-9h0m-3 26h0m-1-26h0m-1 7h0m-5 6h0m-3 6h0m-4 16h0m-3 17h0m-2-57h0m-2 2h0m0 6h0m-4 28h0m-5 20h0m-4-44h0m-17 14h0m-3 14h0m-27 73h0m12-22h0m3-31h0m5 8h0m3 42h0m1-8h0m4 1h0m4-43h0m10 23h0m15-5h0m0 65h0m-30-21h0" stroke="#de5f65" stroke-width="11.0" stroke-linecap="round" stroke-opacity="0.68" fill="none"/>
<path transform="scale(.1)" d="M3324 769h0m2 9h0m19-21h0m15 22h0m1-35h0m0 17h0m1-14h0m7 13h0m0 13h0m1-18h0m1 23h0m0-40h0m2 19h0m0-1h0m1-33h0m1 36h0m0-15h0m5 15h0m0 4h0m5 1h0m1-12h0m0-4h0m2-4h0m13-10h0m-10 58h0m0 10h0m-2 15h0m-1-33h0m-6 36h0m-3-36h0m-2 0h0m-3-2h0m-1 29h0m-2 6h0m0-19h0m0-8h0m-1-5h0m-1-3h0m-5-2h0m-2 15h0m-2 19h0m-2 7h0m0-22h0m-1 11h0m0-27h0m-1 7h0m-1 39h0m0-49h0m-1 25h0m-1-15h0m-6 41h0m0-14h0m-3-32h0m-4 51h0m-1-43h0m-1 38h0m-3 1h0m-1-2h0m-7-36h0m-8 53h0m10-3h0m2 17h0m14-16h0m0 6h0m3-4h0m11-3h0m2 18h0m1 0h0m0-14h0m1 1h0m4 19h0m33-24h0" stroke="#fbd524" stroke-width="11.0" stroke-linecap="round" stroke-opacity="0.68" fill="none"/>
<path transform="scale(.1)" d="M3185 567h0m-5 6h0m-3 22h0m-33-16h0m-25 29h0m7 27h0m17 6h0m0-35h0m3 53h0m3-8h0m2-26h0m1 11h0m0-23h0m1 12h0m0 8h0m1 17h0m1-40h0m5 36h0m4-25h0m0-12h0m7 41h0m3-11h0m4 16h0m3-25h0m1 12h0m2-11h0m1-16h0m0-13h0m1 23h0m2-15h0m1 4h0m2 2h0m11 21h0m-29 72h0m-2-25h0m0 3h0m-5-19h0m0 45h0m-2 5h0m-2-45h0m-9-9h0m0 39h0m0-33h0m-1 29h0m-4-27h0m0 29h0m-1-5h0m-4-24h0m-2 11h0m-1-22h0m-1 49h0m-3-21h0m0 14h0m0-39h0m-2 8h0m-2-10h0m-1 57h0m-10-29h0m-2 2h0m-16-15h0m18 56h0m3 9h0m5 14h0m1 9h0m1-18h0m3-7h0m4-19h0m1 31h0m0-11h0m2-5h0m0 9h0m2-4h0m7 5h0m0-18h0m1 50h0m-7 15h0" stroke="#260591" stroke-width="11.0" stroke-linecap="round" stroke-opacity="0.68" fill="none"/>
<path transform="scale(.1)" d="M2898 527h0m1 10h0m19-18h0m24 6h0m8 14h0m0-21h0m5 17h0m0-9h0m22-20h0m17 21h0m25-18h0m-60 64h0m-5-26h0m0 33h0m-8 2h0m-4-18h0m-9 16h0m0-6h0m-4 4h0m-2-37h0m-1 22h0m-17 27h0m-1-44h0m-6 7h0m-2 27h0m-14 3h0m-1 9h0m-10 0h0m-7-5h0m-9 9h0m-7-2h0m20 63h0m3-55h0m10 8h0m16 0h0m3 17h0m0 16h0m16-29h0" stroke="#e66c5c" stroke-width="11.0" stroke-linecap="round" stroke-opacity="0.68" fill="none"/>
<path transform="scale(.1)" d="M3344 793h0m-3 32h0m-2-44h0m-4 25h0m-8 10h0m-2 8h0m-2 2h0m-6-28h0m-3 21h0m-3 5h0m-5-6h0m-4 6h0m-4 6h0m-3 19h0m3 35h0m4-17h0m10 25h0m1-27h0m2 17h0m2-26h0m1 15h0m0-12h0m8 30h0m3 3h0m1-36h0m19 16h0m4-31h0m26 46h0" stroke="#6e00a8" stroke-width="11.0" stroke-linecap="round" stroke-opacity="0.68" fill="none"/>
<path transform="scale(.1)" d="M3329 598h0m-24-2h0m-9-13h0m-8 7h0m-2 0h0m-3 6h0m-7-7h0m-22 24h0m1-8h0m2 19h0m0-20h0m9 2h0m1 7h0m1 2h0m2 13h0m5 0h0m5-26h0m4 15h0m1 42h0m1-28h0m3 28h0m0-47h0m2 24h0m1 18h0m1-11h0m0-28h0m1 27h0m6-24h0m0 7h0m6 33h0m1-33h0m0 12h0m3-10h0m0 30h0m2-30h0m3-15h0m1 24h0m2 9h0m0-44h0m2 32h0m4 20h0m1-29h0m2 13h0m6-30h0m28 84h0m-18-2h0m-3-3h0m-1-10h0m0 24h0m-3-30h0m-3 1h0m-2-8h0m-9 24h0m-1-14h0m-6-3h0m-1-1h0m-3-6h0m-1-2h0m-4 8h0m0 40h0m0-11h0m-3-12h0m-1 0h0m-1 10h0m-2-33h0m0 22h0m0 21h0m-16-5h0m-1-38h0m-3 18h0m0 5h0m-10-7h0m-8-11h0m51 56h0m10 4h0m6-3h0m11 18h0" stroke="#4c02a1" stroke-width="11.0" stroke-linecap="round" stroke-opacity="0.68" fill="none"/>
<path transform="scale(.1)" d="M3096 467h0m-16 5h0m-12-12h0m-7 16h0m-1-7h0m-12 5h0m-2-13h0m-1 15h0m-2 3h0m-22-4h0m-3-6h0m-4-21h0m-7-19h0m-4 49h0m-18-7h0m-50 37h0m24-5h0m4-5h0m0 36h0m2-12h0m5-21h0m2 3h0m12 4h0m3 2h0m3-19h0m3 16h0m7 2h0m0-21h0m5 12h0m2-16h0m1 30h0m1-26h0m6-8h0m3 28h0m3-19h0m4-3h0m7 10h0m2-7h0m5-5h0m1 5h0m9 11h0m15-17h0m4 9h0" stroke="#ed7953" stroke-width="11.0" stroke-linecap="round" stroke-opacity="0.68" fill="none"/>
<path transform="scale(.1)" d="M3217 589h0m-14 9h0m-3-11h0m-4-28h0m-20 40h0m-14-21h0m-8 19h0m-22 45h0m6-11h0m0 16h0m2-3h0m0 14h0m3-21h0m1-15h0m5 35h0m1-16h0m1 18h0m1-25h0m1 21h0m3-4h0m1 1h0m0-15h0m2-3h0m5 7h0m1-11h0m3-3h0m3 31h0m1-44h0m1-6h0m3 33h0m0-30h0m2 16h0m4 10h0m1-13h0m4 17h0m4 7h0m7-16h0m2 1h0m4-16h0m7-5h0m-31 54h0m-5 6h0m-4 12h0m-1 21h0m0-32h0m-2 27h0m-1-34h0m0 30h0m-2-35h0m0 25h0m-8-15h0m-3 2h0m-2 16h0m0-1h0m-2-23h0m-2 45h0m0-12h0m-3-1h0m-2-16h0m-1 21h0m-7-29h0m-5 8h0m-3-12h0m-2 36h0m0 7h0m-5-9h0m-3-17h0m-12 43h0m2 8h0m5 22h0m3-36h0m0 27h0m1-7h0m2 2h0m8-15h0m3 19h0m2-23h0m1-4h0m0 17h0m4-12h0m3-4h0m1 1h0m3 10h0m0 30h0m0-29h0m1 19h0m5-21h0m1-4h0m4 2h0m1-11h0m0 3h0m-3 61h0m-12-2h0" stroke="#260591" stroke-width="11.0" stroke-linecap="round" stroke-opacity="0.68" fill="none"/>
<path transform="scale(.1)" d="M2963 1074h0m-18 54h0m1-22h0m11 23h0m4-6h0m4-37h0m19 30h0m1 20h0m0-48h0m9 15h0m7-17h0m6 9h0m2 1h0m4 41h0m1-20h0m2-11h0m10 19h0m5 6h0m2-13h0m4-26h0m2 35h0m16-36h0m-15 60h0m-27-9h0" stroke="#c13b82" stroke-width="11.0" stroke-linecap="round" stroke-opacity="0.68" fill="none"/>
<path transform="scale(.1)" d="M2805 777h0m17 42h0m-11 3h0m-6-15h0m-13 26h0m-6-12h0m-6-29h0m-1 25h0m-2 4h0m-15-10h0m7 79h0m7 0h0m5-30h0m3 14h0m24 19h0m2-42h0m13 9h0m30 96h0m-9 1h0m-3-31h0m-1-6h0m-1 29h0m-21-45h0m-2 0h0m-1 0h0m-1 43h0m-1-14h0m-4-8h0m-15 5h0m-9 15h0m29 30h0m3 1h0m13-16h0" stroke="#d5536f" stroke-width="11.0" stroke-linecap="round" stroke-opacity="0.68" fill="none"/>
<path transform="scale(.1)" d="M3159 416h0m108 49h0m-12-2h0m-12 6h0m-20-29h0m-4 29h0m-6-10h0m0 9h0m-2 7h0m-2-12h0m-2 13h0m0-20h0m-3 22h0m-6-23h0m-10 13h0m-1-4h0m-6-21h0m-4 21h0m0 8h0m-1-5h0m-2-4h0m-2 8h0m-51 8h0m-8-16h0m71 25h0m21 10h0m1-8h0m3-10h0m10 36h0m1-22h0m1-6h0m2 12h0m2-9h0m3 28h0m19-20h0m1-17h0m11 22h0m14 25h0m20-33h0" stroke="#f89540" stroke-width="11.0" stroke-linecap="round" stroke-opacity="0.68" fill="none"/>
<path transform="scale(.1)" d="M3026 1075h0m26 64h0m15-19h0m0-12h0m7 4h0m6 4h0m0 15h0m3-6h0m7-10h0m1-9h0m3 19h0m18 0h0m2-24h0m7 1h0m8 4h0m5 14h0m3 12h0m6-22h0" stroke="#b52f8c" stroke-width="11.0" stroke-linecap="round" stroke-opacity="0.68" fill="none"/>
<path transform="scale(.1)" d="M3239 1068h0m-22-36h0m-3 31h0m-11-2h0m-2-9h0m-1 18h0m-6 2h0m-5-11h0m-6 14h0m0-16h0m-5 7h0m-2 5h0m0-9h0m0 9h0m-1-10h0m-7 6h0m-8 12h0m-17-18h0m-16 45h0m1-13h0m27 0h0m1 29h0m2-12h0m13 10h0m5-21h0m2-9h0m1-9h0m3 1h0m6 11h0m21-6h0" stroke="#aa2395" stroke-width="11.0" stroke-linecap="round" stroke-opacity="0.68" fill="none"/>
<path transform="scale(.1)" d="M3324 771h0m28 53h0m-11-1h0m-7 10h0m-2 6h0m-5-25h0m-2 22h0m-1-31h0m0 12h0m-3 10h0m-1-5h0m-1-10h0m-3-14h0m-10 18h0m-22 20h0m20 19h0m6-11h0m11-3h0m2 26h0m4-3h0m3-11h0m3-13h0m0 33h0m16 1h0m-11 28h0" stroke="#6e00a8" stroke-width="11.0" stroke-linecap="round" stroke-opacity="0.68" fill="none"/>
<path transform="scale(.1)" d="M2911 535h0m20-7h0m7 11h0m6-16h0m11 11h0m13-15h0m28-11h0m-33 76h0m-6-41h0m-20 53h0m-6-42h0m-8-11h0m-1 34h0m-1-10h0m-2-25h0m-2 51h0m-2-13h0m-7 4h0m-4 14h0m-2-50h0m-2 46h0m-4-33h0m-1 2h0m-4 33h0m-2-10h0m-1-10h0m-1 6h0m-2 14h0m-12 0h0m-6-12h0m-50 0h0m19 23h0m12 47h0m21-53h0m35 39h0m10-38h0m5 2h0m9 3h0" stroke="#e66c5c" stroke-width="11.0" stroke-linecap="round" stroke-opacity="0.68" fill="none"/>
<path transform="scale(.1)" d="M3316 953h0m-18 3h0m-3-1h0m-2-8h0m-4-15h0m-15 9h0m-5 8h0m-1 10h0m-21-2h0m-12 44h0m7-12h0m8 15h0m1-10h0m8-4h0m1 4h0m9-30h0m1-4h0m4 44h0m1-44h0m3 50h0m0 9h0m2-59h0m1 10h0m3 19h0m4-10h0m2-1h0m1-8h0m1 18h0m1-23h0m1 0h0m3 5h0m4 3h0m2 34h0m3-28h0m7 42h0m-73 13h0" stroke="#8d0ba5" stroke-width="11.0" stroke-linecap="round" stroke-opacity="0.68" fill="none"/>
<path transform="scale(.1)" d="M3293 435h0m-40 28h0m-42 49h0m18-31h0m26 19h0m8 37h0m1-36h0m7-15h0m5 40h0m0-1h0m1-42h0m1 51h0m2-45h0m3 18h0m3-27h0m1 39h0m1-37h0m1 43h0m1 4h0m1-9h0m3-6h0m1 18h0m2-8h0m4-10h0m4-9h0m1 17h0m3-18h0m8-11h0m13 9h0m0 15h0m2-5h0m2-20h0m3 12h0m9 18h0m8-8h0m-10 39h0m-35-4h0" stroke="#fca338" stroke-width="11.0" stroke-linecap="round" stroke-opacity="0.68" fill="none"/>
<path transform="scale(.1)" d="M3393 717h0m-49 35h0m1 3h0m1 23h0m7-30h0m0 27h0m2-22h0m2 3h0m1 5h0m2 2h0m9-21h0m2 26h0m2-37h0m2 18h0m1 4h0m2-18h0m4 13h0m2 30h0m2-24h0m3 9h0m3-7h0m2 22h0m1-7h0m7-3h0m25 25h0m-14 6h0m-14-14h0m-11 1h0m0 40h0m0-39h0m-6 29h0m-3-6h0m-1-10h0m-2-10h0m-1-3h0m0 23h0m-1-4h0m0 9h0m-1-30h0m0 9h0m-3-12h0m-1 7h0m-2 21h0m0-18h0m-2 11h0m-2-17h0m-1 46h0m0-20h0m0-24h0m-3 23h0m-2-10h0m-1-13h0m-1 19h0m0-24h0m0-3h0m-2 1h0m-1 48h0m-4-6h0m0-23h0m-1-10h0m0 39h0m-2-21h0m-1-10h0m-1 15h0m-1-16h0m0-15h0m-5 52h0m-9-8h0m-10 9h0m18 29h0m9-3h0m6 2h0m4-9h0m3 11h0m9-24h0m2 12h0m0 18h0m1-10h0m2 2h0m0 7h0m5-28h0" stroke="#fbd524" stroke-width="11.0" stroke-linecap="round" stroke-opacity="0.68" fill="none"/>
<path transform="scale(.1)" d="M3233 1018h0m3-4h0m2-17h0m10-11h0m2 7h0m7 0h0m1-10h0m4 33h0m5-6h0m7 1h0m-18 30h0m-2-13h0m-1 3h0m-2 11h0m-1-2h0m-6 38h0m-1-24h0m-4 1h0m-1-25h0m-2 15h0m-4 9h0m-3 19h0m-6-31h0m-2 14h0m-12 21h0m-1-15h0m-8 6h0m-15 18h0m29-4h0" stroke="#9c179e" stroke-width="11.0" stroke-linecap="round" stroke-opacity="0.68" fill="none"/>
<path transform="scale(.1)" d="M3117 468h0m-24-4h0m-9-7h0m-2 11h0m-22 7h0m-1-5h0m-4 3h0m-1-8h0m-5-5h0m-6 1h0m-16 17h0m-3-7h0m-4 3h0m-11-10h0m-8-11h0m-4 13h0m-8-16h0m-14 20h0m-3 6h0m-25 18h0m1 18h0m27-6h0m12-3h0m6-5h0m3 29h0m1-23h0m0 9h0m0 21h0m3-20h0m6 18h0m1-18h0m4-19h0m3 24h0m5-20h0m0-4h0m0-3h0m2 22h0m1-25h0m4 6h0m5 27h0m38-28h0m2 6h0m3-14h0m15 2h0m8 0h0" stroke="#ed7953" stroke-width="11.0" stroke-linecap="round" stroke-opacity="0.68" fill="none"/>
<path transform="scale(.1)" d="M3162 415h0m14 54h0m-1 0h0m0-20h0m-30-4h0m-4-10h0m-1 15h0m-1 11h0m-5-22h0m0 12h0m-1-18h0m-1 35h0m-1 6h0m-9-20h0m-2 4h0m-6 19h0m0-20h0m-2-21h0m-3 24h0m-4-5h0m-1 18h0m-6-25h0m-13 17h0m-10-11h0m-23-11h0m-32 55h0m78-16h0m17-2h0m22 1h0m7 4h0m3 8h0m2-3h0" stroke="#f3874a" stroke-width="11.0" stroke-linecap="round" stroke-opacity="0.68" fill="none"/>
<path transform="scale(.1)" d="M3301 876h0m1 20h0m0-13h0m1-13h0m3 12h0m4 4h0m27 5h0m1 15h0m-15 25h0m-1 24h0m-3-34h0m-6-8h0m-3-5h0m0 2h0m-3-4h0m-1 3h0m-3 43h0m-6-25h0m-2 14h0m-1 3h0m-5-21h0m-9-5h0m-13 23h0m-5-13h0m-5-26h0" stroke="#7e03a8" stroke-width="11.0" stroke-linecap="round" stroke-opacity="0.68" fill="none"/>
<path transform="scale(.1)" d="M3292 891h0m10 7h0m1-26h0m1 24h0m2 1h0m15-19h0m2 16h0m9-10h0m0 44h0m-8 28h0m-2-42h0m-10 16h0m-3 0h0m0 7h0m-5-27h0m-2 33h0m-5-36h0m-2 9h0m0-5h0m0-11h0m0 33h0m-1 8h0m0-14h0m-23-2h0m15 41h0" stroke="#7e03a8" stroke-width="11.0" stroke-linecap="round" stroke-opacity="0.68" fill="none"/>
<path transform="scale(.1)" d="M3099 465h0m-28-19h0m-1-3h0m0-3h0m-6 35h0m-11-4h0m-2 0h0m-6 2h0m-13-15h0m-6 18h0m-18-27h0m-11 21h0m-4 4h0m-24-12h0m-17 48h0m1 3h0m7 1h0m12-12h0m6-9h0m3 26h0m3-22h0m2 7h0m1 27h0m4-22h0m6 6h0m3-13h0m6-12h0m3 11h0m1 20h0m1-2h0m13-29h0m2-1h0m2 24h0m13 7h0m5-16h0m4-13h0m5 28h0m1-23h0m8-11h0m15 10h0m-58 52h0" stroke="#ed7953" stroke-width="11.0" stroke-linecap="round" stroke-opacity="0.68" fill="none"/>
<path transform="scale(.1)" d="M3034 1112h0m21-31h0m1 28h0m3-17h0m8 37h0m0-14h0m2 18h0m6-9h0m1-16h0m1 8h0m12 11h0m4-40h0m3 20h0m11-9h0m10-3h0m1 33h0m0-4h0m10-33h0m1 12h0m5-16h0m5 21h0m5-17h0" stroke="#b52f8c" stroke-width="11.0" stroke-linecap="round" stroke-opacity="0.68" fill="none"/>
<path transform="scale(.1)" d="M2833 729h0m20 107h0m-37-47h0m-7 38h0m-3-10h0m-2-28h0m-8-8h0m-1 17h0m0-10h0m-1 18h0m-1 20h0m-3-18h0m-1 8h0m-4-22h0m-9 35h0m-2 70h0m1-39h0m23 24h0m1-40h0m8 8h0m5 35h0m4-23h0m2 30h0m6-25h0m26 64h0m-17-24h0m-16 22h0m-2 16h0m-1 12h0m-1-37h0m-8 25h0m-1-3h0m-7-26h0m-6 29h0m-10-24h0m-4 33h0m19 5h0m59 10h0" stroke="#d5536f" stroke-width="11.0" stroke-linecap="round" stroke-opacity="0.68" fill="none"/>
<path transform="scale(.1)" d="M2794 777h0m20 45h0m-17-5h0m-18 17h0m-7-26h0m-4 15h0m6 58h0m9-17h0m6-22h0m1 57h0m3-55h0m0-1h0m9 12h0m2 27h0m3 13h0m10 3h0m48 38h0m-13-22h0m-18 21h0m-4-6h0m-9 20h0m-3-26h0m-3 32h0m-19-20h0m-5-17h0m-1-15h0m-5 12h0m-4-5h0m109 69h0" stroke="#d5536f" stroke-width="11.0" stroke-linecap="round" stroke-opacity="0.68" fill="none"/>
<path transform="scale(.1)" d="M3304 585h0m-4 4h0m-5-2h0m-1 1h0m-16 2h0m-19 29h0m0-6h0m2-13h0m10 10h0m1 20h0m3-24h0m0 16h0m7 22h0m1-36h0m2 31h0m1 15h0m1-37h0m1 23h0m0-10h0m8-2h0m5-6h0m0 25h0m1-44h0m1 30h0m0-16h0m4 41h0m2-8h0m10 8h0m2-4h0m1-1h0m2-41h0m6 39h0m1-9h0m4-20h0m33 12h0m-8 70h0m-26-19h0m0 7h0m-1 10h0m-1-7h0m-2 13h0m0-31h0m-1 14h0m-3 7h0m-2-3h0m-1-4h0m0-16h0m-1 23h0m-1 10h0m-1-16h0m-1-13h0m-2-18h0m0 51h0m-3-22h0m0-25h0m0 40h0m-3-23h0m-1-8h0m-2-13h0m-1 18h0m-2-18h0m0 29h0m-3-1h0m-1-1h0m0 13h0m-2 9h0m-1-8h0m-2 17h0m-1-46h0m-3-5h0m0-1h0m-9 13h0m-18 17h0" stroke="#4c02a1" stroke-width="11.0" stroke-linecap="round" stroke-opacity="0.68" fill="none"/>
<path transform="scale(.1)" d="M3302 942h0m-8-17h0m-10 28h0m-7-4h0m-5-13h0m-49 69h0m10-8h0m6 8h0m2-13h0m29-11h0m0 23h0m2-12h0m11 19h0m6-2h0m-38 11h0m-19 27h0" stroke="#8d0ba5" stroke-width="11.0" stroke-linecap="round" stroke-opacity="0.68" fill="none"/>
<path transform="scale(.1)" d="M3311 534h0m8-3h0m2-15h0m4 19h0m2 0h0m0-4h0m2-4h0m3-8h0m1 19h0m1-5h0m6 5h0m15-25h0m44 49h0m-33 3h0m-6 27h0m0-20h0m-6-25h0m-1 17h0m-3-20h0m-1 7h0m-2 8h0m-4 13h0m0 10h0m-1 12h0m-3-7h0m0-21h0m-1-8h0m-3 8h0m-2 19h0m-2-44h0m-2 18h0m-5 5h0m-11-1h0m-2-21h0m-1 47h0m-2-34h0m-11 18h0m62 40h0m24-7h0" stroke="#fdb42f" stroke-width="11.0" stroke-linecap="round" stroke-opacity="0.68" fill="none"/>
<path transform="scale(.1)" d="M3346 711h0m-21 8h0m-1-34h0m-2 31h0m-1-46h0m-2 37h0m-3-4h0m-1 13h0m-21-7h0m-12 13h0m2 16h0m8 26h0m6-10h0m6 10h0m9-42h0m0 11h0m1 14h0m0 20h0m4-35h0m0 28h0m1 6h0m1-23h0m1 15h0m1 14h0m2-29h0m0 13h0m1-24h0m1 27h0m0-21h0m1 3h0m1 28h0m0-27h0m3 16h0m2-10h0m4 6h0m0-10h0m1-11h0m0 5h0m1-6h0m0-6h0m1 39h0m4-4h0m0-23h0m1 9h0m0 23h0m2-32h0m2 15h0m0 12h0m6-30h0m5 23h0m2-32h0m1 3h0m7 40h0m-20 28h0m-29-5h0m-6 6h0m-4-13h0m-5 12h0m-4 21h0m-10-24h0" stroke="#5c01a6" stroke-width="11.0" stroke-linecap="round" stroke-opacity="0.68" fill="none"/>
<path transform="scale(.1)" d="M3224 1049h0m0 20h0m-16-4h0m-4 14h0m-1-4h0m0-48h0m-5 29h0m-3 17h0m-3-8h0m-2-7h0m-8 5h0m-24 10h0m-27-6h0m4 23h0m8 4h0m6-13h0m5 16h0m5-17h0m1 8h0m8 5h0m2 7h0m6-6h0m5 25h0m1-27h0m8 15h0m0 3h0m9-14h0" stroke="#aa2395" stroke-width="11.0" stroke-linecap="round" stroke-opacity="0.68" fill="none"/>
<path transform="scale(.1)" d="M3357 702h0m-3-6h0m-7 9h0m-9 5h0m-5-17h0m-7 8h0m-4 11h0m-3-25h0m-10-9h0m-7 25h0m-3-4h0m-9-12h0m0 92h0m5-52h0m5 46h0m2-44h0m1 44h0m2-30h0m1 7h0m0 3h0m2 1h0m3-10h0m4 13h0m1-15h0m2-3h0m1 5h0m2 25h0m3-1h0m1-35h0m0 14h0m1 14h0m1-15h0m0 27h0m4-49h0m3 29h0m0 11h0m2-20h0m1-16h0m3 29h0m5 2h0m2 16h0m1-29h0m7-21h0m4 51h0m3-16h0m25-24h0m-44 47h0m0 7h0m-6 15h0m0-6h0m-3-9h0m0-2h0m-8 5h0m-4-9h0m-15 7h0m-6-10h0" stroke="#5c01a6" stroke-width="11.0" stroke-linecap="round" stroke-opacity="0.68" fill="none"/>
<path transform="scale(.1)" d="M3353 460h0m-14 19h0m-61-26h0m-8 22h0m-20 4h0m-11-5h0m13 52h0m1-36h0m2 20h0m3-12h0m3 24h0m1-20h0m1 2h0m2 32h0m2-22h0m7-7h0m3-4h0m2 34h0m3-39h0m0 31h0m3-40h0m2-8h0m0 50h0m4-31h0m2 28h0m0-18h0m8-14h0m0 41h0m0-17h0m2-11h0m8 9h0m1 13h0m6-14h0m2-31h0m0 40h0m1 1h0m7-17h0m9 25h0m1-11h0m1-26h0m-14 64h0m-9-5h0m-5-1h0m-7-15h0m-10 1h0m-7-1h0m-4 0h0m-13 6h0m-6 4h0" stroke="#fca338" stroke-width="11.0" stroke-linecap="round" stroke-opacity="0.68" fill="none"/>
<path transform="scale(.1)" d="M3290 593h0m-23-13h0m0 5h0m-1-23h0m0-1h0m-2-10h0m-1 21h0m-9-20h0m-3 3h0m0 43h0m-5-52h0m0 8h0m-4 31h0m-1-23h0m-1 22h0m-3 1h0m-1-11h0m0 1h0m-3 0h0m-2 17h0m-4-34h0m-1 26h0m-4-32h0m-1 39h0m-5-21h0m-2 20h0m-3 4h0m-1 1h0m-6-6h0m-2-36h0m-4 13h0m-3-8h0m-24 35h0m-1-32h0m-3 20h0m18 36h0m6-12h0m9 6h0m7 8h0m1-12h0m3 12h0m1-11h0m2-4h0m2 36h0m6-30h0m1 4h0m5 26h0m0-18h0m5-17h0m19 15h0m8-9h0m6-8h0m5 28h0m9-21h0" stroke="#3a049a" stroke-width="11.0" stroke-linecap="round" stroke-opacity="0.68" fill="none"/>
<path transform="scale(.1)" d="M3351 705h0m-12-3h0m-1-2h0m-4 18h0m-10-16h0m-11 10h0m-12 6h0m-7-36h0m-15 46h0m14 48h0m3-17h0m11-3h0m0 21h0m1-54h0m1 31h0m0 3h0m3-1h0m4 20h0m2-50h0m2 5h0m1 18h0m5-22h0m6 21h0m4-13h0m0 0h0m1 16h0m1 7h0m1-3h0m0 22h0m1-56h0m1 51h0m1-27h0m17 3h0m-6 69h0m-9-30h0m-1-7h0m-3 12h0m-2 2h0m-3-2h0m-3 14h0m-4-15h0m-1 25h0m-6-21h0m-19-15h0m-2 6h0m-3 1h0m-2 55h0" stroke="#5c01a6" stroke-width="11.0" stroke-linecap="round" stroke-opacity="0.68" fill="none"/>
<path transform="scale(.1)" d="M3311 592h0m-7-36h0m-12 41h0m-4-1h0m-13-4h0m-13-8h0m0 13h0m-4-3h0m5 61h0m4-36h0m4-7h0m1 44h0m4-23h0m2 8h0m0 15h0m1-36h0m3 8h0m1-23h0m7 16h0m3 15h0m0 17h0m3-11h0m0 15h0m7-16h0m1 3h0m3-35h0m1 25h0m3-13h0m5 5h0m3 14h0m1 14h0m13-21h0m25 70h0m-13-37h0m-4 16h0m-7 36h0m0-45h0m-1-12h0m0 34h0m-5-34h0m-7 31h0m-3-17h0m-2 17h0m-5 25h0m-2-41h0m-5 29h0m-8-32h0m-4 33h0m0-15h0m0 15h0m-1-31h0m0 35h0m-8-32h0m-1-18h0m29 74h0" stroke="#4c02a1" stroke-width="11.0" stroke-linecap="round" stroke-opacity="0.68" fill="none"/>
<path transform="scale(.1)" d="M2962 1069h0m-27 38h0m1-26h0m4 7h0m5 29h0m17-32h0m0 37h0m14-17h0m2 29h0m8-8h0m2 5h0m1-42h0m33 38h0m9-3h0m1-12h0m0 21h0m19-9h0m5 12h0m10 1h0m-85 4h0" stroke="#c13b82" stroke-width="11.0" stroke-linecap="round" stroke-opacity="0.68" fill="none"/>
<path transform="scale(.1)" d="M3238 1018h0m24-2h0m14-7h0m-4 47h0m-10-31h0m-7 19h0m-1-17h0m-2-1h0m-3-2h0m-10 11h0m-4 1h0m-7 21h0m-13-27h0m-6 22h0m-4-32h0m-1 12h0m-3 9h0m-2 20h0m-4 12h0m-4-17h0" stroke="#9c179e" stroke-width="11.0" stroke-linecap="round" stroke-opacity="0.68" fill="none"/>
<path transform="scale(.1)" d="M2970 1071h0m-19-1h0m-7 13h0m2 13h0m9 7h0m12-2h0m8 19h0m13 16h0m1-28h0m3 6h0m4-15h0m13 40h0m6-7h0m8-22h0m4 5h0m6 1h0m19-14h0m0 18h0m3-6h0m19-18h0m18 0h0" stroke="#c13b82" stroke-width="11.0" stroke-linecap="round" stroke-opacity="0.68" fill="none"/>
<path transform="scale(.1)" d="M3228 990h0m11 5h0m22 25h0m-7 0h0m-1 34h0m-2-23h0m-6 27h0m-6-26h0m-3 6h0m-5-13h0m-3 15h0m-3 13h0m-1 18h0m0-48h0m-1 33h0m-6-10h0m-2-8h0m-1 26h0m-3-17h0m-2-9h0m-3 15h0m-7 24h0" stroke="#9c179e" stroke-width="11.0" stroke-linecap="round" stroke-opacity="0.68" fill="none"/>
<path transform="scale(.1)" d="M2807 998h0m0 8h0m4-23h0m34 26h0m14-2h0m13-9h0m15 16h0m1 3h0m35 35h0m-11-5h0m-16 5h0m-3-6h0m-5-15h0m-1 13h0m-1-13h0m-5 24h0m0-18h0m-2-15h0m-5 21h0m-1 28h0m-14-17h0m-6-33h0m-11 4h0m-9 17h0m54 38h0m24 28h0m32-24h0m3 12h0" stroke="#cc4778" stroke-width="11.0" stroke-linecap="round" stroke-opacity="0.68" fill="none"/>
<path transform="scale(.1)" d="M3303 935h0m-12 15h0m-8-2h0m0 7h0m-3-7h0m-6-3h0m-1-16h0m0 29h0m-30 43h0m8-1h0m3-17h0m0 14h0m2-15h0m1-5h0m15-3h0m2 11h0m1-16h0m1 38h0m6-32h0m11 38h0m14-52h0m1 8h0" stroke="#8d0ba5" stroke-width="11.0" stroke-linecap="round" stroke-opacity="0.68" fill="none"/>
<path transform="scale(.1)" d="M3359 823h0m-1-32h0m-2 16h0m-12 13h0m-1-32h0m-3 26h0m-3 0h0m-1-1h0m-3 12h0m0 1h0m-1 2h0m-1-3h0m-4-26h0m-2 29h0m-4 11h0m-3-29h0m-6 2h0m-1 10h0m-2-24h0m0 2h0m-6-1h0m-20 65h0m6 3h0m0-9h0m21 5h0m6 10h0m1-20h0m7-6h0m0 51h0m3-8h0m7-31h0m6-12h0m1 10h0m2 0h0m2 20h0m22-21h0m-43 48h0" stroke="#6e00a8" stroke-width="11.0" stroke-linecap="round" stroke-opacity="0.68" fill="none"/>
<path transform="scale(.1)" d="M3273 538h0m30-15h0m18 9h0m0 4h0m3 2h0m32-4h0m17 16h0m-3 26h0m-6-14h0m-2 17h0m-3-10h0m-24 13h0m-4-14h0m-4-10h0m-2-17h0m0 20h0m-2 10h0m-23-18h0m-4-12h0m41 64h0m10 0h0m9 31h0m12-24h0m29-9h0" stroke="#fdb42f" stroke-width="11.0" stroke-linecap="round" stroke-opacity="0.68" fill="none"/>
<path transform="scale(.1)" d="M2917 590h0m-22-3h0m-59 31h0m22 39h0m4-27h0m1 6h0m4 20h0m0-52h0m5 14h0m2 4h0m1-6h0m1 23h0m5-32h0m3 31h0m2-25h0m2-2h0m-8 51h0m-15 16h0m-2 35h0m-1-39h0m-1 6h0m-1 21h0m-1-10h0m-15 12h0m-2-27h0m-5 12h0m-2 31h0m-4-28h0m-1-18h0m-3 21h0m-2 8h0m-3-10h0m-5-5h0m-12 28h0m-36 12h0m10 41h0m7 0h0m3 8h0m0-22h0m10 17h0m14-17h0m0-12h0m2 1h0m3 16h0m5 1h0m16-34h0m3 21h0m-16 39h0m-48-5h0m-9 32h0" stroke="#de5f65" stroke-width="11.0" stroke-linecap="round" stroke-opacity="0.68" fill="none"/>
<path transform="scale(.1)" d="M3101 754h0m7-9h0m22 7h0m23 30h0" stroke="#0d0887" stroke-width="11.0" stroke-linecap="round" stroke-opacity="0.68" fill="none"/>
<path transform="scale(.1)" d="M3096 1077h0m-51 33h0m3 21h0m5-23h0m12 8h0m12-14h0m3-11h0m3 7h0m3-5h0m18-9h0m1 17h0m5 32h0m0-21h0m4 27h0m6-57h0m2 40h0m14-29h0m0 24h0m14-11h0m-41 35h0" stroke="#b52f8c" stroke-width="11.0" stroke-linecap="round" stroke-opacity="0.68" fill="none"/>
<path transform="scale(.1)" d="M2834 649h0m16-1h0m2 0h0m4-22h0m9-11h0m1 37h0m3-42h0m14 1h0m1 2h0m9 6h0m-36 53h0m-7-9h0m-5 20h0m-2-9h0m-15 37h0m-11 3h0m0 4h0m-5-42h0m-6 6h0m-10 10h0m-2 7h0m-20 30h0m9-2h0m2 38h0m17-43h0m0-1h0m3 26h0m10-17h0m7 3h0m14-11h0m11 53h0m1-50h0m0 5h0m-11 82h0m-28-29h0m-3 5h0m-18 12h0m-7 1h0" stroke="#de5f65" stroke-width="11.0" stroke-linecap="round" stroke-opacity="0.68" fill="none"/>
<path transform="scale(.1)" d="M3118 744h0" stroke="#0d0887" stroke-width="11.0" stroke-linecap="round" stroke-opacity="0.68" fill="none"/>
<path transform="scale(.1)" d="M3311 890h0m1-11h0m5 5h0m0 12h0m4-34h0m5 29h0m15 32h0m-14 9h0m-7-31h0m-4 38h0m-3-9h0m-2-18h0m-4-8h0m-8 47h0m-5-49h0m-19 19h0m29 40h0" stroke="#7e03a8" stroke-width="11.0" stroke-linecap="round" stroke-opacity="0.68" fill="none"/>
<path transform="scale(.1)" d="M3108 761h0m5-30h0" stroke="#0d0887" stroke-width="11.0" stroke-linecap="round" stroke-opacity="0.68" fill="none"/>
<defs><filter id="bl1" x="-20%" y="-20%" width="140%" height="140%"><feGaussianBlur stdDeviation="0.9"/></filter><filter id="bl2" x="-20%" y="-20%" width="140%" height="140%"><feGaussianBlur stdDeviation="1.6"/></filter></defs>
<path d="M66.0 160.5L67.5 154.0L70.0 150.0L73.0 151.0L76.0 149.5L79.0 150.5L82.0 151.5L85.0 153.0L86.5 155.5L84.0 157.5L79.0 158.5L74.0 160.0L69.0 161.0Z" fill="#9400d3" fill-opacity="1.0" filter="url(#bl1)"/>
<path d="M57.0 158.8L63.0 158.2L67.0 159.5L66.0 161.5L59.0 161.3Z" fill="#9400d3" fill-opacity="1.0" filter="url(#bl1)"/>
<path transform="scale(.1)" d="M772 1499h0m22-19h0m38 13h0m100 62h0m-4-14h0m-3 18h0m-4-21h0m-14-1h0m-6 20h0m-1-14h0m-5-4h0m0 15h0m-11-2h0m-1-11h0m-1-4h0m-1 6h0m-5 6h0m0-22h0m0 16h0m-5 9h0m-8-19h0m-1-5h0m-3 3h0m-5-10h0m-8-20h0m-7 52h0m-6-51h0m-3 50h0m-4-9h0m-1-31h0m-5 38h0m-9-39h0m-1 5h0m-2 22h0m-1 4h0m0-38h0m-1 34h0m-3-33h0m-2 38h0m0-8h0m-2-13h0m-1 15h0m-1 11h0m-4-6h0m-3 14h0m0-46h0m-4 27h0m-1-34h0m-6 49h0m-4-37h0m-1 40h0m-1-10h0m-5-44h0m-1 58h0m-1-12h0m-2 9h0m0-34h0m-4 26h0m-7-9h0m-1-26h0m-6 19h0m-1 8h0m-1 13h0m-2-34h0m-5-12h0m-1 33h0m-4-15h0m-2-22h0m0 24h0m-4 24h0m0 2h0m-5-41h0m-1 47h0m0-2h0m-2-23h0m-1 22h0m0-3h0m0 3h0m-8-37h0m-2 31h0m-2-6h0m-4 2h0m-3 11h0m-2-6h0m-1-3h0m-5 5h0m0-21h0m-23 13h0m-2 9h0m-7-2h0m-13-13h0m-14 26h0m8 14h0m4-17h0m27 23h0m10-11h0m17 16h0m1-10h0m4 5h0m2-2h0m3-10h0m13 14h0m3-24h0m5 29h0m4-6h0m1-21h0m3 3h0m0-3h0m2 3h0m8-5h0m9 19h0m1 7h0m6 24h0m3-42h0m12 10h0m0 16h0m4 5h0m16-27h0m1-1h0m1 4h0m1 8h0m6-1h0m0 18h0m11-37h0m23 11h0m13-11h0m1 2h0m3-8h0m31 8h0m9-4h0m23-1h0" stroke="#9400d3" stroke-width="11.0" stroke-linecap="round" stroke-opacity="0.7" fill="none"/>
<path transform="scale(.1)" d="M769 1469h0m12 20h0m12-4h0m3 5h0m41 8h0m5-21h0m16 18h0m64 60h0m-15-19h0m-1-7h0m-17 8h0m-5-19h0m0 41h0m-14-22h0m-9 16h0m-10 6h0m-5-3h0m-5-14h0m-15 15h0m-1-4h0m-4-43h0m-1 41h0m-1 5h0m-1-8h0m-2 7h0m-6 1h0m-1-27h0m-1 28h0m-3-52h0m-1 40h0m0-3h0m-1-13h0m-12 3h0m-1 20h0m-2-12h0m-6 1h0m-1-37h0m-2 49h0m0-41h0m0 33h0m0-10h0m-2-26h0m-1 46h0m-3-2h0m-1-11h0m-1-2h0m0-2h0m-2 3h0m0-27h0m-1 28h0m-1 12h0m-1-7h0m0-16h0m-3 20h0m-2-10h0m-4 12h0m-2-30h0m-1 23h0m-1-24h0m-2-22h0m0 32h0m0 20h0m0-35h0m-2 25h0m-3 7h0m-1-14h0m-1-8h0m-1 9h0m0 19h0m-5-19h0m-3-5h0m-1 16h0m-3-5h0m0 17h0m-9-15h0m-1 6h0m0-23h0m-5 12h0m-4-27h0m-7 30h0m-1-20h0m-4 25h0m-1-22h0m-9-3h0m-4 26h0m-1 1h0m-6 5h0m-6-6h0m-16-13h0m-1-2h0m-32 11h0m-2 10h0m-39-4h0m71 33h0m2 0h0m11-4h0m15 19h0m7-3h0m1-17h0m1-11h0m2-6h0m9 9h0m6 17h0m8-5h0m6-15h0m3 33h0m1-38h0m6 22h0m1 5h0m1-16h0m1-8h0m1 6h0m4 9h0m1 11h0m1-27h0m2 5h0m5 11h0m0 1h0m0-9h0m0-2h0m1-8h0m1 52h0m2-36h0m1-13h0m1 12h0m1-1h0m8-13h0m6 0h0m6 16h0m3-18h0m4 38h0m1-25h0m3 23h0m3 1h0m1-11h0m4-23h0m10 21h0m1-20h0m4 4h0m6 6h0m2-1h0m4 8h0m11 14h0m9-33h0m6 1h0m1 12h0m3 2h0m12 12h0m11-8h0m1-18h0m1-4h0m13 0h0m6 6h0m17-5h0m8-1h0m-178 62h0m-1 15h0" stroke="#9400d3" stroke-width="11.0" stroke-linecap="round" stroke-opacity="0.7" fill="none"/>
<path transform="scale(.1)" d="M827 1479h0m76 7h0m13 61h0m-2-10h0m-9 19h0m0-8h0m-11-18h0m-2 15h0m-2 6h0m-2 0h0m-8-25h0m-1 16h0m-2-35h0m0 28h0m-2 8h0m0-19h0m-1 1h0m0 26h0m-2-18h0m-3 5h0m-2-36h0m0 17h0m-3 39h0m-13-3h0m-4-34h0m-3 29h0m-8-17h0m-1 20h0m0 0h0m-2 3h0m-6-29h0m0 28h0m-3 3h0m-8-8h0m-4-15h0m-3-24h0m-5 33h0m-5-11h0m-1 0h0m0 24h0m-2-24h0m-3 8h0m0-25h0m-3 8h0m-8-21h0m-1 19h0m-1 19h0m-1-27h0m-5 16h0m-4 16h0m-3-21h0m0-22h0m-1 36h0m0-12h0m0-22h0m-3 13h0m0 34h0m-1-30h0m-2 35h0m-2-8h0m-2-43h0m-1 34h0m0-35h0m-3 35h0m-2-38h0m-1 5h0m-8 22h0m0 17h0m-3-6h0m-1 0h0m-1 16h0m-1-43h0m-1 13h0m-4-16h0m-3 44h0m-2-17h0m-7-13h0m-15 25h0m-5 9h0m0-18h0m-5-24h0m-1 28h0m-3 10h0m-7-3h0m0-28h0m-6 15h0m-15-14h0m-1 33h0m-8-7h0m-73-24h0m94 67h0m1-21h0m5 43h0m10-45h0m1-7h0m2 23h0m2-1h0m12-23h0m10 0h0m2 50h0m2-29h0m0 8h0m2 8h0m2 0h0m8-14h0m1-9h0m4 0h0m2-14h0m2 1h0m1 14h0m0 5h0m1-9h0m3 32h0m4-22h0m5-16h0m2 11h0m5-9h0m0-1h0m4 17h0m11 8h0m0-13h0m0 3h0m0 36h0m3-37h0m7-5h0m6 6h0m4-1h0m9-19h0m5 23h0m2-25h0m1 51h0m1-21h0m1-29h0m21 7h0m13 12h0m9 8h0m6-22h0m3 14h0m6-18h0m8 29h0m0-19h0m6-1h0m3 11h0m5-17h0m6 5h0m1 10h0m-162 47h0" stroke="#9400d3" stroke-width="11.0" stroke-linecap="round" stroke-opacity="0.7" fill="none"/>
<path d="M66.5 160.0L62.0 172.0L66.0 176.0L74.0 175.0L78.0 170.0L72.0 162.0Z" fill="#f8cd07" fill-opacity="1.0" filter="url(#bl1)"/>
<path d="M57.8 150.8L64.8 150.8L66.5 160.0Z" fill="#f8cd07" fill-opacity="1.0" filter="url(#bl1)"/>
<path transform="scale(.1)" d="M661 1557h0m-5-32h0m-1 2h0m-2 30h0m-1-5h0m0-32h0m-2-5h0m0 31h0m-2 10h0m-1-30h0m0 29h0m-3-1h0m-1-17h0m-3 1h0m-2-1h0m-2-19h0m-1 31h0m-1-6h0m-9-8h0m-2-13h0m0 13h0m-9-12h0m23 37h0m7 0h0m4 16h0m2-9h0m2 2h0m2 46h0m0-55h0m1 2h0m1 47h0m2 10h0m0-2h0m0-47h0m0-1h0m1 50h0m0 0h0m1-1h0m0-2h0m1-2h0m0-14h0m0 10h0m1-4h0m0 8h0m1 2h0m0-12h0m0-24h0m1 25h0m0 10h0m0-6h0m0-3h0m0 8h0m0 5h0m0-5h0m0-10h0m0-6h0m1 8h0m0 5h0m0-5h0m0 12h0m0-6h0m0-5h0m0-6h0m0 6h0m0-6h0m0 0h0m0 0h0m0 0h0m0 4h0m0 14h0m0-13h0m0-6h0m0 11h0m0 3h0m0-14h0m1 10h0m0-9h0m0 5h0m0 10h0m0-4h0m0-10h0m0 1h0m0 5h0m0-5h0m0 2h0m1-4h0m0 16h0m0-11h0m0 2h0m0 0h0m0-3h0m0-1h0m0 1h0m0-2h0m0 2h0m0-2h0m0 7h0m0-2h0m0 7h0m1-6h0m0-3h0m0 0h0m0 11h0m0-4h0m1-6h0m1-6h0m0 6h0m0 0h0m0 2h0m0 3h0m1 4h0m0-5h0m0-8h0m1-1h0m0 16h0m0-12h0m0 3h0m0 8h0m1-8h0m0 2h0m1-6h0m0 2h0m0 10h0m1-5h0m0 1h0m1-9h0m0-4h0m1 17h0m1 0h0m0 2h0m1-5h0m3 5h0m0-17h0m0 8h0m1-5h0m1 13h0m0-9h0m2 4h0m1 4h0m3-2h0m4 3h0m2 0h0m2-9h0m28 3h0m185 66h0m-9-3h0m-23-12h0m-8 5h0m-6 11h0m-4-13h0m-10 8h0m-6-10h0m-12 2h0m-8-3h0m-21-21h0m-6 36h0m-1-35h0m-5 27h0m-1 3h0m-2-21h0m-4-10h0m-1 37h0m0-9h0m-1-32h0m-7 5h0m-4 31h0m0-10h0m0-24h0m-1 30h0m0-1h0m0-35h0m0 8h0m-3 29h0m-2 0h0m-3 2h0m-2-37h0m-1 12h0m-5 11h0m-2-9h0m-1 24h0m-1-26h0m-3 6h0m0-33h0m-2 31h0m-6-6h0m-1 0h0m-1 29h0m0-29h0m0-3h0m-3 0h0m0 1h0m-1 19h0m-2 7h0m0-25h0m-1-18h0m-7-4h0m-1 6h0m0 50h0m-3-22h0m0-1h0m-1-23h0m0-6h0m0 51h0m-1-27h0m0 18h0m-2-42h0m0 6h0m0-13h0m-1 34h0m-1 13h0m-1-32h0m-2 31h0m-1 12h0m-1 1h0m0 0h0m-1-11h0m-2 11h0m0-2h0m-1-12h0m-2-6h0m0-34h0m0 0h0m-1 37h0m0 7h0m-1-3h0m0-5h0m0-38h0m0 8h0m0-7h0m0 28h0m-1-32h0m0 8h0m-1 46h0m0-11h0m-1 14h0m0-17h0m0-1h0m0-9h0m0 11h0m0-21h0m0 15h0m-1-15h0m0 8h0m0 10h0m-1 0h0m0-7h0m0-18h0m0 17h0m0-4h0m-1 26h0m0-7h0m0-18h0m0-5h0m0-22h0m0 0h0m0 48h0m0-3h0m-1-14h0m-1-12h0m0 13h0m0 1h0m0-6h0m0 27h0m0-10h0m0-21h0m-1-22h0m0 44h0m-1-12h0m0-6h0m-1 4h0m0-17h0m0 0h0m0 23h0m-1 6h0m0 12h0m0-29h0m-1 15h0m0-12h0m-1-24h0m0 23h0m0-14h0m0 19h0m0-25h0m0 4h0m-1 11h0m0 13h0m-2 12h0m0-37h0m0-5h0m0 32h0m0-7h0m0-21h0m0 8h0m0-10h0m0 2h0m-1 34h0m0-17h0m0-6h0m0 5h0m-1 3h0m0-16h0m0-9h0m0 17h0m0-14h0m0 2h0m-1-6h0m0 15h0m0-2h0m0-14h0m0 14h0m-1 39h0m0-12h0m0 4h0m0-19h0m0-17h0m-1 11h0m0 34h0m-1-3h0m0-16h0m-1 16h0m0-24h0m0-21h0m0-7h0m0 1h0m0 0h0m-1 19h0m0 1h0m0 2h0m0-24h0m0 3h0m-1 30h0m0-15h0m0-17h0m-1 1h0m0 22h0m0 0h0m0-17h0m0 46h0m0-19h0m-1 25h0m0-29h0m0-12h0m-1-9h0m0 3h0m0 15h0m0-24h0m0 41h0m0-10h0m-1-27h0m0 10h0m0-15h0m0 0h0m-1 34h0m0 12h0m0-15h0m0 2h0m-1-11h0m0-2h0m0-6h0m0-4h0m0-5h0m-1 16h0m0-9h0m0 45h0m0-2h0m0-43h0m0 33h0m0-39h0m-1 22h0m0-15h0m0 12h0m0-27h0m0 53h0m0-22h0m0 12h0m0-33h0m-1 22h0m0-4h0m0-26h0m-1 28h0m0-28h0m0 19h0m0-12h0m0-8h0m0 53h0m0-48h0m0-4h0m-1 47h0m0-33h0m0 10h0m0 19h0m0-44h0m-1 8h0m0 38h0m0 8h0m0-45h0m-1 32h0m-1-35h0m0-7h0m0 3h0m0 3h0m0-2h0m0 41h0m0-36h0m-1-8h0m0 39h0m0-39h0m0 12h0m0 9h0m0-4h0m-1-2h0m0-2h0m0 19h0m0-16h0m0-15h0m0 3h0m0 18h0m0-16h0m-1-2h0m0-5h0m0 1h0m0 1h0m0 34h0m0-4h0m0 24h0m0-54h0m0 49h0m-1-48h0m0 6h0m0 21h0m0 19h0m0-2h0m0-40h0m0 17h0m0 11h0m0-27h0m0 2h0m-1-7h0m0 5h0m0 15h0m0-4h0m0 8h0m0 21h0m0-4h0m0-32h0m0 28h0m-1-22h0m0 35h0m-1 0h0m0-16h0m0 7h0m0-10h0m0 23h0m-1-40h0m0 24h0m0 8h0m0 10h0m-1-31h0m0 30h0m0-19h0m0 5h0m0-31h0m0 13h0m0 25h0m-1-7h0m0-12h0m0 20h0m0-26h0m-1 30h0m0-8h0m-1-2h0m0 1h0m0-13h0m-1-12h0m0 23h0m0-18h0m0 2h0m-1-4h0m-1-12h0m0 21h0m0 3h0m0-3h0m-1 3h0m-1 7h0m0 1h0m-1-8h0m0 6h0m-3-1h0m-2 5h0m0-8h0m-1 12h0m0 8h0m-2-9h0m-1-6h0m-3 8h0m-20 57h0m2 8h0m2 0h0m0-11h0m0 2h0m3 6h0m1-4h0m0 4h0m0 0h0m2-10h0m3-15h0m0 1h0m1 14h0m0 1h0m0-17h0m0 10h0m1-21h0m2 10h0m0 29h0m1-21h0m2-24h0m0-9h0m1 40h0m0-21h0m1-11h0m1 34h0m0-33h0m1-5h0m0 28h0m0 4h0m1-24h0m0 11h0m1-7h0m0-1h0m0-7h0m0 16h0m1-2h0m0 27h0m0-9h0m1-35h0m1-2h0m0 33h0m0 10h0m0-18h0m1 0h0m0-5h0m0 5h0m1 5h0m1 21h0m2-42h0m0 19h0m1-30h0m0 10h0m0-13h0m1 43h0m0-31h0m0 6h0m1-16h0m0 0h0m0 16h0m0-17h0m1 35h0m1-7h0m0 23h0m1-1h0m0-38h0m1-1h0m0 11h0m0 34h0m0-14h0m0-6h0m1-17h0m0 0h0m2 2h0m1-20h0m0 34h0m1 13h0m0-34h0m0 35h0m0 9h0m0-55h0m0 36h0m0-7h0m1 8h0m0-38h0m1 22h0m1-11h0m2-5h0m0 18h0m0-20h0m0 13h0m0 24h0m1 11h0m1 3h0m1-58h0m0 29h0m0 16h0m1-39h0m0 38h0m1 13h0m0-2h0m3-32h0m1-16h0m0-4h0m1 54h0m4-56h0m2 4h0m4 25h0m0-13h0m1 36h0m1-7h0m0-15h0m2-16h0m0 11h0m0 3h0m1-24h0m1 10h0m0-14h0m1 37h0m1-16h0m2 35h0m0-47h0m2-4h0m0 24h0m9-20h0m1 12h0m0 18h0m1-15h0m2 10h0m0-34h0m0 17h0m1-13h0m1-4h0m1 18h0m0-14h0m1 24h0m0-17h0m3 13h0m0-16h0m0 1h0m0 7h0m0 33h0m3-34h0m1 24h0m0-17h0m2 1h0m1-4h0m1 36h0m0-45h0m1 8h0m0-9h0m0-8h0m1 28h0m0-25h0m0 18h0m1-15h0m1 19h0m0-9h0m0-7h0m2-7h0m0 20h0m1 11h0m1-12h0m0-19h0m2 23h0m1-1h0m0 16h0m0-41h0m0 8h0m1 13h0m2 18h0m1 4h0m0-1h0m1 4h0m2-2h0m3 10h0m1 0h0m0-5h0m4-47h0m2-2h0m15 13h0m8 10h0m9 32h0m6-17h0m3-34h0m0 3h0m4-2h0m0-3h0m1 51h0m5-2h0m1-37h0m4 41h0m1-48h0m0 0h0m2-2h0m0 7h0m1 42h0m5-36h0m1-11h0m5 18h0m3-3h0m1 13h0m1-14h0m1-5h0m1 6h0m3 0h0m8 24h0m5-9h0m2 1h0m0 7h0m9-17h0m13 11h0m5 18h0m0-56h0m2 46h0m2 11h0m0-5h0m8 1h0m14-54h0m87 110h0m-1-5h0m-4 4h0m-9-10h0m-2 7h0m-13 0h0m-1-11h0m-2-4h0m-4 25h0m-6-11h0m-6-11h0m-1-6h0m-9 13h0m0-37h0m-6 7h0m-1 8h0m0-7h0m-6 22h0m-1-20h0m0 8h0m-7-7h0m-1 8h0m0 0h0m-5 2h0m-6-19h0m-9 7h0m-1-2h0m-4-1h0m-12-9h0m-4 44h0m-20-7h0m-7-12h0m-1-1h0m-3 10h0m-11-32h0m-7 8h0m-18 47h0m-9-21h0m-2 8h0m-3 6h0m0 5h0m-1-6h0m0-14h0m-6-10h0m-5 9h0m-1-1h0m-3 1h0m0 16h0m-1-1h0m-1-18h0m-1-13h0m-2 13h0m-1 11h0m-4-20h0m-1 15h0m-1-14h0m-1-13h0m-6-5h0m0 2h0m-2 6h0m-2 26h0m0-31h0m-2-4h0m-1 9h0m-3 6h0m-1 15h0m0-35h0m-4 29h0m0 0h0m-3 2h0m0 14h0m-3-23h0m0-2h0m-5-4h0m-18-6h0m0 31h0m-4 1h0m-2-26h0m0-17h0m-5 29h0m-1 5h0m-2-28h0m-1 24h0m-3-4h0m-2 21h0m-18-19h0m0-12h0m-4 41h0m-1-27h0m0-6h0m-1 16h0m-1-7h0m0 9h0m-2-1h0m-2-27h0m-1-9h0m-1 45h0m-2-34h0m-1 2h0m0-13h0m-3 38h0m-3-33h0m-4 20h0m0 3h0m-3 4h0m0 22h0m-1-43h0m0-5h0m-1-6h0m-1 15h0m0 37h0m-1-17h0m-1-8h0m0 19h0m-4-16h0m-1-21h0m-1-5h0m-1 15h0m-2 30h0m-1-35h0m-1-1h0m-2 15h0m-2-29h0m0 6h0m-2-3h0m-1-6h0m0-1h0m-1 3h0m0 25h0m-1-14h0m-4-12h0m-2 26h0m0-9h0m-1 27h0m-2-3h0m-4 8h0m0 1h0m-5 3h0m0-9h0m-3-1h0m-19 39h0m6 30h0m6-8h0m1 0h0m2 1h0m1-47h0m2 3h0m3 25h0m1-18h0m1 21h0m1-11h0m2 5h0m5-10h0m3 22h0m6 20h0m8-44h0m7 2h0m4-10h0m2 22h0m1 6h0m1-15h0m1 9h0m0-1h0m9-26h0m7 11h0m1 36h0m3-46h0m9 11h0m0 1h0m4 13h0m1 0h0m23-13h0m6-10h0m2 42h0m7-33h0m2 11h0m4 0h0m7 19h0m6-12h0m13-24h0m2-6h0m4 25h0m1-10h0m7 12h0m4 5h0m0 7h0m5 13h0m2-12h0m0 12h0m3-13h0m9-38h0m1 9h0m2-5h0m3 23h0m4 3h0m4-25h0m0 18h0m1-7h0m1-7h0m2 3h0m5 3h0m0-6h0m3 14h0m0 4h0m1-2h0m0 28h0m0-19h0m2 14h0m5-4h0m2 7h0m0-1h0m1 0h0m1 3h0m0 5h0m2-7h0m63-37h0m4 4h0m2 8h0m5-15h0m2-3h0m62-9h0m3 0h0m8 10h0m7 13h0m4-20h0m5 19h0m6-12h0m1-8h0m21 16h0m3-4h0m4 31h0m0 4h0m2-21h0m9-5h0m2 16h0m7 1h0m10 10h0m7-18h0m2 13h0m12-9h0m1 13h0m27 6h0m69 49h0m-19 0h0m-13 5h0m-17-47h0m-4 20h0m-3-5h0m-1 7h0m-3 1h0m-4-18h0m0 2h0m-24 11h0m-27-18h0m-86 28h0m-19-20h0m-14 18h0m-52 24h0m-17-6h0m-6-13h0m-4-8h0m-3-14h0m-3 20h0m-4-8h0m-1 6h0m-2 17h0m0-16h0m-5-2h0m-3-12h0m-1-2h0m-8-7h0m-8 9h0m-36-10h0m-4 18h0m-6 19h0m-2-25h0m-47-6h0m-3-3h0m-3 11h0m-121-10h0m-6 0h0m-6 8h0m-12 11h0m-1 19h0m-6-12h0m269 35h0m5-10h0m13 0h0m1-1h0m5 22h0m8-20h0m37 20h0m296-19h0m0 18h0" stroke="#f8cd07" stroke-width="11.0" stroke-linecap="round" stroke-opacity="0.65" fill="none"/>
<path transform="scale(.1)" d="M657 1559h0m0-53h0m-1 3h0m-1 17h0m-2 32h0m0-12h0m-1-17h0m0 22h0m-2-11h0m-1 6h0m0-5h0m-1-30h0m-7 41h0m-5-33h0m0 7h0m0 24h0m0-18h0m-4-11h0m-1 22h0m-1-6h0m-1-16h0m-1 8h0m-1 0h0m-7 1h0m-2 3h0m27 27h0m4 8h0m1 9h0m1-9h0m1 4h0m1-6h0m0 14h0m1 37h0m0-49h0m1-4h0m1 47h0m0-46h0m1 54h0m0-17h0m1-27h0m1 14h0m1 23h0m0 3h0m0 4h0m0-54h0m1 51h0m0-13h0m0 1h0m0 7h0m0 4h0m0-3h0m0 1h0m0-37h0m0 7h0m1 36h0m0-4h0m0-50h0m1 42h0m0-5h0m0 4h0m0-1h0m0-21h0m0-4h0m1 26h0m0 5h0m0-11h0m0 3h0m0 2h0m0 8h0m0-11h0m1 9h0m0-2h0m0 6h0m0-12h0m0 11h0m0-14h0m0 4h0m0-3h0m0-1h0m0 7h0m0-3h0m0-3h0m0 4h0m0-3h0m0 12h0m1 3h0m0-5h0m0-10h0m0 11h0m0-9h0m0-2h0m1 0h0m0 0h0m0 11h0m0 4h0m0-8h0m0-8h0m0 9h0m0-5h0m0 3h0m0 2h0m1-3h0m0 3h0m0 1h0m0 3h0m0-12h0m0 7h0m0-6h0m0 5h0m0-4h0m1 4h0m0 1h0m0-2h0m0 5h0m1-12h0m0 11h0m0-3h0m1 5h0m0-4h0m0 3h0m1 0h0m0 0h0m0 1h0m1-6h0m0 7h0m1-9h0m0 4h0m0-1h0m1 0h0m0 1h0m1-8h0m0 14h0m1-5h0m2 6h0m0-3h0m0-3h0m0 9h0m2-8h0m2-3h0m1 3h0m2 4h0m1-1h0m0-2h0m3-2h0m0 6h0m7-3h0m2-1h0m4 4h0m1-2h0m22-1h0m12 2h0m131 48h0m-2-9h0m-9 16h0m-17-27h0m-20 18h0m-9-6h0m-15 21h0m0-24h0m-1-3h0m-2 0h0m-8 26h0m0-32h0m-1 31h0m-1 3h0m-2-4h0m-2-1h0m0-38h0m-4 5h0m-1 26h0m-4 6h0m-1 6h0m-1-21h0m-3 19h0m-2-14h0m0 6h0m-5-8h0m-1-1h0m0 5h0m0-3h0m-1-7h0m-1-11h0m-3 33h0m0-16h0m-1-2h0m0 0h0m-4-10h0m-1 1h0m0-1h0m-1 2h0m0-23h0m-2 37h0m-1-33h0m-4-8h0m-3 47h0m-1-39h0m-4 22h0m-1-11h0m-1 22h0m0-20h0m0 6h0m0-5h0m-1 4h0m-1-10h0m-3-2h0m-1 7h0m-2 6h0m0-18h0m-2 46h0m-1-6h0m-1-35h0m-1 11h0m-3 24h0m0 5h0m0-47h0m0-2h0m-1 47h0m0-32h0m-1 20h0m0 14h0m0-6h0m-2-4h0m-1-1h0m0-41h0m-1 5h0m0-9h0m-1 48h0m0-47h0m0 6h0m0 42h0m0-13h0m-1-28h0m0 36h0m0 1h0m-1-30h0m-1-8h0m0 23h0m-1 17h0m-2-14h0m0 10h0m0-13h0m-1 27h0m0-17h0m0-22h0m-1 28h0m0-19h0m-1 30h0m0-28h0m0-4h0m0-3h0m-1 35h0m0-29h0m0-5h0m-1 2h0m0 9h0m0 4h0m0-18h0m0 5h0m-1 17h0m0-10h0m0-25h0m-1 52h0m-1-5h0m0-21h0m0 3h0m0 0h0m0 10h0m-1 5h0m-1-43h0m0 14h0m-1 12h0m0-16h0m0-1h0m0 34h0m-1-3h0m0-21h0m0-9h0m0-1h0m0 32h0m0-20h0m-1-6h0m0 6h0m-1 11h0m0 11h0m-1-3h0m0-22h0m0 25h0m0-34h0m-1 34h0m0-41h0m0 28h0m0 7h0m0-29h0m0 34h0m-1-34h0m0 10h0m-1 25h0m0-34h0m0-6h0m-1 13h0m0-18h0m-1-1h0m0 6h0m0-9h0m-1 45h0m0-46h0m0-1h0m0 28h0m-1 25h0m0-43h0m0-9h0m0 2h0m-1 27h0m0-24h0m-1 15h0m0 32h0m0-50h0m0 8h0m0-4h0m0 17h0m0 30h0m-1-31h0m0-21h0m0 1h0m0 25h0m0-12h0m0 2h0m-1 27h0m0-40h0m0-2h0m0-1h0m-1 8h0m0 18h0m0-14h0m0 7h0m0 7h0m0-25h0m-1 0h0m0 1h0m0 3h0m0 16h0m0 26h0m-2-6h0m-1-31h0m0-1h0m0 0h0m0-5h0m-1 7h0m-1 3h0m0-15h0m0 55h0m0-26h0m0-23h0m0 28h0m-1-33h0m0 50h0m0 2h0m0-52h0m0 1h0m0 22h0m0-4h0m0-15h0m0 8h0m0-1h0m-1 8h0m0 20h0m0 9h0m0-32h0m0-6h0m0 40h0m0-19h0m-1 8h0m0 13h0m0-10h0m0-42h0m0 41h0m0-20h0m0-9h0m0 25h0m-1-28h0m0 39h0m0-28h0m0-13h0m0-9h0m0 0h0m0 39h0m0 14h0m0-5h0m0-47h0m0 1h0m0 41h0m-1-43h0m0 21h0m0 19h0m0-25h0m0-14h0m0 37h0m0 9h0m0-23h0m0-19h0m0 7h0m0 26h0m0-26h0m0 4h0m0 4h0m0 9h0m-1-21h0m0-6h0m0 45h0m0-17h0m0-9h0m0-5h0m0 5h0m0-20h0m-1 1h0m0 13h0m0 19h0m0 10h0m0 10h0m0-43h0m-1-10h0m0 23h0m0-11h0m-1-12h0m0 3h0m0 0h0m0 6h0m0 31h0m0-28h0m-1-1h0m0 10h0m0 35h0m0-15h0m0-29h0m0 1h0m0 2h0m-1 7h0m0 25h0m0-23h0m0 4h0m0-10h0m-1-18h0m0 21h0m0 34h0m0 1h0m0-2h0m0-6h0m0-32h0m0 30h0m-1-44h0m0 27h0m0 2h0m0 0h0m0 2h0m0 15h0m0-24h0m0 0h0m-1 29h0m0-49h0m0 13h0m0 12h0m-1-15h0m0 15h0m0-17h0m0 34h0m0 3h0m0-23h0m-1 1h0m0 22h0m0-38h0m0 7h0m-1 11h0m0 22h0m0-34h0m0 1h0m-1-6h0m0 8h0m0 21h0m0 6h0m0-24h0m-1-5h0m0 40h0m0-26h0m0 2h0m0 0h0m0-6h0m-1-12h0m0 18h0m0 0h0m-1 8h0m0 7h0m0-5h0m0-13h0m0-4h0m-1 21h0m0-5h0m0-5h0m0 16h0m0 1h0m-1-25h0m0 4h0m0 23h0m0-6h0m-1 3h0m-1-2h0m0-7h0m-3 6h0m0-11h0m0 6h0m-3 8h0m-1 2h0m-1 1h0m-30 57h0m9 0h0m1-2h0m4 3h0m1-12h0m1 12h0m0-28h0m0 6h0m3-6h0m1-4h0m1 7h0m1-10h0m0-5h0m1-6h0m0 44h0m2-50h0m0 42h0m0 11h0m3-3h0m0-20h0m0-15h0m1 18h0m0-18h0m0 23h0m0-25h0m1 10h0m1-26h0m1 24h0m1-22h0m0 13h0m0 25h0m0-21h0m0 1h0m2 0h0m0-4h0m0 31h0m1-47h0m0 28h0m0-12h0m1 13h0m0-26h0m0 12h0m1 6h0m1 6h0m1 1h0m0-8h0m1 14h0m0 15h0m1-41h0m1 6h0m0 13h0m2-26h0m0 17h0m2 31h0m0-45h0m1 36h0m1-27h0m0-11h0m2 34h0m0 5h0m1-28h0m0-14h0m1 5h0m0 21h0m1-3h0m1-16h0m1 11h0m0-3h0m1-6h0m0 18h0m0-27h0m1 21h0m0 13h0m1-29h0m1 12h0m0 23h0m0 3h0m0 14h0m2-46h0m0 33h0m1-5h0m1-26h0m1 6h0m0-3h0m1 12h0m0-24h0m0-3h0m2 53h0m0-25h0m1 22h0m0-47h0m2 33h0m0-31h0m1 2h0m1 15h0m0-13h0m1 1h0m0 7h0m1-12h0m1 6h0m1 21h0m0-33h0m3 41h0m0-38h0m1 24h0m0 14h0m0-18h0m0 11h0m0 16h0m1-15h0m1 17h0m2-45h0m1-4h0m1 53h0m0-16h0m0-36h0m2 49h0m6-49h0m1 17h0m1 10h0m0-2h0m1 12h0m1-2h0m1-28h0m1 33h0m1-41h0m0 26h0m0 2h0m3-11h0m0-19h0m1 1h0m0 3h0m0 2h0m1 10h0m2 11h0m1-25h0m0 10h0m1-5h0m0 2h0m0-6h0m1 7h0m1 0h0m1-11h0m0 14h0m0-6h0m1 15h0m0 0h0m0 8h0m1-19h0m0 12h0m1-9h0m0-5h0m0 9h0m1 39h0m0-56h0m1 15h0m1-7h0m2 17h0m1-10h0m0-3h0m0-2h0m0-2h0m1 12h0m3 11h0m1 4h0m0-22h0m2 7h0m0 7h0m1 13h0m0-7h0m2-8h0m0 20h0m1 0h0m1 1h0m2-13h0m0 6h0m0 17h0m3 1h0m1 0h0m0-4h0m2 1h0m2 3h0m0-4h0m1-3h0m0-46h0m4 41h0m2-45h0m9 18h0m3 9h0m3-3h0m2 4h0m9 2h0m0 2h0m3-33h0m6 23h0m1 12h0m4-16h0m2 33h0m3-52h0m8 8h0m1 3h0m3 4h0m1 16h0m1-21h0m2 5h0m4-2h0m1 8h0m4-7h0m4 10h0m2-3h0m3 2h0m1 13h0m0-10h0m0-10h0m1 21h0m2 2h0m0-9h0m1 9h0m2 0h0m6-2h0m1 4h0m0-14h0m4 30h0m1-14h0m4 1h0m1-11h0m3 5h0m6-4h0m3 23h0m2 0h0m2-7h0m2 4h0m3-9h0m4 12h0m2-13h0m5 13h0m115 61h0m-17-9h0m-19-6h0m0-9h0m-2-9h0m-1 22h0m-3 7h0m-7-13h0m-1 14h0m-2-12h0m-1-2h0m-5-12h0m0 2h0m-1 3h0m0 3h0m-2-2h0m-5-2h0m-5 9h0m-5-13h0m-1 6h0m-11-19h0m-1 16h0m-2-18h0m0-6h0m-1 27h0m-1-5h0m-2-7h0m-1-7h0m-1-5h0m0-11h0m-4 26h0m-2-14h0m-4-4h0m-2 9h0m-3-10h0m0 9h0m-2 12h0m-6-13h0m0-11h0m0 0h0m0 1h0m-15 3h0m-6 48h0m-3-13h0m-2 4h0m-18-5h0m0-2h0m-13-18h0m-12-5h0m-9-15h0m0 3h0m-11-6h0m-12 48h0m0 8h0m-2-5h0m-1 5h0m-3-1h0m-1 4h0m-1-46h0m0 45h0m-1-14h0m-1-9h0m0 7h0m-3 12h0m0-11h0m-2 1h0m-1-12h0m0-11h0m-3 0h0m-1 5h0m0 17h0m-1-11h0m-1-6h0m0 3h0m0-2h0m-1 7h0m0-24h0m-8-7h0m0 12h0m-1 0h0m-1-1h0m-1 9h0m-2-15h0m-1 32h0m-1-13h0m-1-4h0m-3-23h0m-3 8h0m-4 25h0m-1 25h0m-4-41h0m-3 7h0m-13-1h0m-4 17h0m-1-17h0m-9 20h0m0 9h0m-1-9h0m-1-23h0m-2 23h0m-2-21h0m0 18h0m-5 12h0m-2-33h0m0-18h0m-9 16h0m-2-15h0m-2 33h0m-1-24h0m-3 8h0m-1 31h0m-4-38h0m-1 0h0m-1 27h0m-2-15h0m-4-13h0m0 7h0m0 40h0m-1-52h0m-1 30h0m0 23h0m-2-38h0m-3 8h0m-1 8h0m-1-2h0m-1-20h0m-2-8h0m-2 14h0m0-3h0m-1-14h0m-2 3h0m-1 23h0m-1-22h0m0 19h0m-2 22h0m-1-4h0m0-21h0m-2-5h0m-1 9h0m-1 16h0m-1-21h0m0 8h0m0-15h0m-1 19h0m0 14h0m-2-37h0m0 35h0m-1-38h0m-2-4h0m0 22h0m0-9h0m-1 18h0m-1-26h0m-1-3h0m-1 29h0m-1 17h0m-3-40h0m-1 35h0m-1-44h0m-1 28h0m-1-25h0m-2 15h0m-1-8h0m-2-4h0m-1 16h0m-1-1h0m-2 27h0m0-27h0m-1 22h0m-1-9h0m0-8h0m-2 27h0m-3 2h0m-3-14h0m-2-4h0m-24 64h0m4-3h0m3 17h0m9-32h0m1-5h0m0-12h0m6 6h0m7-8h0m0 13h0m0 29h0m8-32h0m7 29h0m3 1h0m7-45h0m3 5h0m9 2h0m3-6h0m10 2h0m1 37h0m8-7h0m5 18h0m5-42h0m2 23h0m2-28h0m12 4h0m15 32h0m6-39h0m4 8h0m2 41h0m0-15h0m1-15h0m3-19h0m0-4h0m9 46h0m7-15h0m14-9h0m2-18h0m2 21h0m4 3h0m0-7h0m5 16h0m1-21h0m2-11h0m1 51h0m3-8h0m2-4h0m13-39h0m8 8h0m0-7h0m2 29h0m4-9h0m1 19h0m5 8h0m5-26h0m0-9h0m2 21h0m2 12h0m1-25h0m1 3h0m3 17h0m1 8h0m5-13h0m50-39h0m0 12h0m3-8h0m12 16h0m6 5h0m8 16h0m23 0h0m45-35h0m1 3h0m0-10h0m3 2h0m15 7h0m0 7h0m2-15h0m13 1h0m3 11h0m7 14h0m4 0h0m0 3h0m5-3h0m0-4h0m3-11h0m3 16h0m0-8h0m5 1h0m4 10h0m1-1h0m15 5h0m10 21h0m7-15h0m4 14h0m117 50h0m-17 13h0m-12-17h0m0 9h0m-4-2h0m-7-4h0m-3-25h0m-17 17h0m-5-19h0m-7 17h0m-4-20h0m-1 3h0m-4-17h0m-11 24h0m0 26h0m-1-34h0m0 5h0m-47-16h0m-1-2h0m-98 11h0m-30-13h0m-65 56h0m-2-2h0m-9-6h0m0 7h0m0-19h0m-9 17h0m-6-43h0m-1 1h0m0-7h0m0 1h0m0 25h0m-6-24h0m-5-8h0m-75 14h0m-25 1h0m-5-1h0m-121-9h0m-1-2h0m-13 12h0m-3-3h0m-3 22h0m0 2h0m-7 15h0m-12-16h0m-3 1h0m286 24h0m24 0h0m0 15h0m5-9h0m327 1h0m49 26h0" stroke="#f8cd07" stroke-width="11.0" stroke-linecap="round" stroke-opacity="0.65" fill="none"/>
<path transform="scale(.1)" d="M660 1537h0m-2-26h0m-1 38h0m-1 3h0m-1-33h0m0-9h0m0 32h0m-2 5h0m-10-23h0m0 35h0m-1-20h0m-2 6h0m0-36h0m-1 15h0m-1 35h0m-1-18h0m-1-21h0m0 23h0m-3 0h0m-1 5h0m-1-34h0m-1 12h0m-2 1h0m-1 20h0m-2-9h0m0-14h0m-3 3h0m-1-1h0m27 35h0m3-1h0m0 18h0m1-13h0m2-5h0m1 8h0m0-1h0m1 51h0m0-31h0m1 27h0m0-42h0m1 10h0m0-6h0m1 38h0m0 0h0m0-1h0m0 3h0m1-13h0m0 5h0m0-2h0m0 11h0m0 0h0m0-1h0m1 2h0m0-3h0m0-6h0m0 7h0m0 0h0m0-4h0m0 7h0m0 0h0m0-40h0m0 3h0m1 20h0m0 6h0m0 4h0m0-5h0m0 11h0m0-6h0m0-5h0m1-4h0m0 7h0m0 0h0m0 8h0m0-8h0m0 2h0m0-7h0m0 11h0m0-1h0m0-49h0m1 39h0m0 8h0m0-18h0m1 21h0m0-3h0m0 2h0m0-2h0m0 0h0m0 1h0m0-8h0m0 10h0m0-14h0m0 10h0m0-11h0m0 9h0m0 4h0m0-11h0m1 2h0m0-4h0m0 2h0m0 4h0m0-5h0m0 17h0m0-18h0m0 12h0m0-6h0m0-4h0m1 2h0m0 1h0m0 7h0m0-12h0m0 8h0m0-6h0m0 1h0m0 2h0m0-2h0m1 2h0m0 2h0m0 10h0m0-11h0m0 2h0m0 8h0m0-13h0m0 6h0m0 8h0m1-16h0m0 1h0m0 12h0m0-5h0m0-2h0m0-9h0m0 4h0m0-4h0m0 19h0m0-12h0m0 9h0m0-9h0m1 10h0m0-5h0m0-2h0m0-5h0m0 9h0m0-14h0m0 16h0m1-5h0m0 1h0m1-3h0m0 10h0m0-2h0m0-4h0m0 0h0m1 0h0m0-9h0m0 11h0m0 1h0m1 0h0m0 2h0m1-2h0m0-13h0m0-1h0m0 13h0m0 1h0m1-9h0m2 12h0m1-9h0m0 1h0m1 3h0m1-7h0m0 4h0m1 5h0m0-4h0m1-9h0m2 14h0m0-6h0m0 8h0m2-4h0m0-6h0m2-2h0m1 1h0m9 7h0m1-11h0m8 16h0m3-5h0m2 1h0m3-1h0m1 4h0m1 1h0m169 48h0m-20-4h0m-10 4h0m-8-12h0m-1-1h0m-1 13h0m-26-9h0m0-10h0m-3 7h0m-3-7h0m-6 7h0m-24 17h0m0 1h0m0-37h0m-1 33h0m-1 8h0m0-24h0m-3 25h0m-3 0h0m-1-45h0m-2 42h0m-2-4h0m-1-3h0m-2-1h0m0 1h0m-1-21h0m0-17h0m-1 4h0m-4 26h0m-1 5h0m0-4h0m-2-22h0m-3 22h0m0 2h0m-1-11h0m-1-18h0m-2 36h0m-4-45h0m-3 7h0m0-10h0m-1 31h0m0-7h0m-3 30h0m0-23h0m-4-12h0m-1-12h0m-1-5h0m-4 16h0m-2-10h0m-1 6h0m-1-14h0m-1 41h0m0-21h0m-1 1h0m0-13h0m-1 17h0m0-24h0m-1 10h0m0 0h0m-2-1h0m-6 1h0m-2-4h0m0 3h0m-1 39h0m0 5h0m-1-14h0m-1-12h0m0-23h0m0 6h0m0 44h0m-1-48h0m0 0h0m-1 46h0m-2 1h0m-1 0h0m0-8h0m0-7h0m-1 16h0m0-3h0m0-14h0m-1 4h0m0-19h0m0-20h0m0 38h0m0-8h0m-1 16h0m0-47h0m-1 31h0m0 7h0m0-6h0m0 4h0m-1-9h0m0-27h0m-1 43h0m0-3h0m-1-18h0m0-18h0m-1 9h0m-1-3h0m0-10h0m-1-2h0m0 52h0m0 0h0m-1-27h0m0-23h0m0 25h0m-1-1h0m0 7h0m0-14h0m0 13h0m0-29h0m-1 17h0m-1 27h0m-1-24h0m0-6h0m0 0h0m0 17h0m-1 10h0m0-10h0m0 14h0m-1 4h0m0-38h0m0-1h0m0 12h0m0 27h0m0-27h0m0 17h0m-1-9h0m0-21h0m0-9h0m0 0h0m-1 47h0m-1-31h0m-1 30h0m0-18h0m0 3h0m0 5h0m0-31h0m-1 18h0m0-9h0m0 17h0m0 7h0m-1-26h0m0-6h0m-1 44h0m0 1h0m0-46h0m0 11h0m-1 0h0m0-5h0m0 6h0m0-15h0m0 22h0m0-14h0m0 8h0m0-18h0m-1 5h0m0 38h0m0-6h0m0-7h0m0 3h0m-1 18h0m0-56h0m0 58h0m0-56h0m0 8h0m0 11h0m0 2h0m0 13h0m-1 9h0m0-37h0m0 0h0m0-2h0m0 49h0m0-46h0m0-8h0m0-1h0m0 16h0m0-9h0m-1 40h0m0-13h0m0 1h0m0-32h0m0 8h0m-1-7h0m0 7h0m0 39h0m-1-9h0m0 1h0m0 15h0m0-46h0m-1 44h0m0-6h0m0-22h0m0-9h0m-1 3h0m0 9h0m-1-19h0m0 11h0m0-13h0m0-3h0m0 41h0m0-17h0m-1 23h0m0-24h0m0-2h0m0-14h0m0 26h0m0 9h0m0-23h0m-1 21h0m0-46h0m0 8h0m0 43h0m0-11h0m0-24h0m0-10h0m0 2h0m-1 3h0m0-11h0m0 6h0m0 35h0m-1-39h0m0 27h0m0 10h0m0-10h0m-1-29h0m0 27h0m0-22h0m0 6h0m-1-6h0m0 24h0m0-10h0m0 1h0m0-19h0m-1 45h0m0-16h0m0-19h0m-1 35h0m0-24h0m0 4h0m0-20h0m0 40h0m0-45h0m0 6h0m0 12h0m0 2h0m-1-13h0m0 12h0m0-8h0m0 13h0m0-8h0m0 40h0m0-50h0m0 14h0m0-20h0m0 7h0m0-7h0m0 3h0m0 2h0m-1 3h0m0 1h0m0 34h0m0 10h0m0-53h0m0 6h0m0 26h0m0 2h0m-1 21h0m0-14h0m0 11h0m0-6h0m0-26h0m0-9h0m0 15h0m-1-7h0m0 15h0m0 8h0m0-35h0m-1-5h0m0 22h0m0 34h0m0-6h0m0-44h0m0 1h0m0 11h0m-1 22h0m0 4h0m0 8h0m-1-50h0m0 44h0m0-19h0m0-23h0m-1-2h0m0 15h0m0 35h0m0-49h0m-1 22h0m0-20h0m0 4h0m0 1h0m0 11h0m0-3h0m-1-17h0m0 2h0m0 3h0m0 8h0m0 2h0m0 29h0m-1-10h0m0-2h0m-1-2h0m0 9h0m0-23h0m0 28h0m-1-11h0m0 14h0m0 1h0m-1-20h0m0 20h0m0-2h0m0-26h0m-1 15h0m0 13h0m0 0h0m0-8h0m-1-20h0m0 10h0m-1 21h0m0-1h0m0-28h0m-1 12h0m0 9h0m-1 3h0m0 2h0m0-5h0m-1-13h0m-1-4h0m0 12h0m0 14h0m-1-40h0m0 23h0m-2 16h0m0-13h0m-1 17h0m0-14h0m-8 13h0m0-4h0m-25 61h0m4-5h0m0-6h0m7-3h0m0 15h0m3-6h0m1-20h0m1 11h0m0-11h0m1 17h0m1 7h0m0-2h0m3 3h0m3-6h0m2-9h0m1-23h0m1-1h0m1-14h0m1-1h0m0 56h0m1-49h0m1 21h0m1-13h0m1-12h0m0 16h0m0 24h0m0-16h0m1-27h0m0 51h0m0-34h0m1-4h0m0 18h0m0-24h0m1 50h0m1-47h0m0 0h0m1-9h0m1 29h0m0 20h0m0-37h0m2 30h0m0 13h0m0-40h0m1-10h0m0 17h0m0-16h0m0 31h0m1 18h0m0-36h0m0-8h0m0 31h0m0-23h0m0 16h0m1-31h0m0 36h0m0 13h0m1-35h0m1 39h0m1-46h0m1 25h0m0-20h0m1-13h0m0 34h0m0 10h0m0-37h0m0-9h0m0 7h0m1 47h0m0-55h0m0 56h0m1-26h0m0-29h0m1-3h0m0 11h0m1-8h0m0 25h0m1-20h0m0 25h0m2 8h0m1-5h0m0-23h0m0 3h0m1 22h0m0 13h0m1-23h0m0 27h0m0-33h0m2 9h0m1 11h0m0-32h0m1-10h0m1 21h0m0-9h0m0 5h0m1 40h0m0-48h0m0-5h0m2 31h0m0-28h0m1 43h0m0-50h0m0 24h0m0 1h0m1-23h0m1 19h0m0 9h0m2-29h0m0 13h0m2-14h0m0 3h0m0 33h0m0-33h0m1 5h0m0 21h0m0-1h0m1 3h0m1-27h0m1 30h0m0-16h0m1 26h0m0-44h0m1 11h0m2 16h0m3-22h0m1 46h0m1-31h0m2-2h0m2-8h0m0 45h0m2-28h0m1-11h0m1 5h0m0-12h0m1 16h0m1-7h0m3-3h0m1-15h0m1 5h0m2 36h0m0-31h0m0 13h0m1-18h0m2 2h0m1 1h0m0 12h0m3 28h0m1-26h0m0 1h0m0-17h0m1 33h0m0-21h0m1-7h0m1 37h0m0 3h0m0-26h0m1-4h0m1-6h0m2 6h0m0-3h0m1 28h0m0-16h0m1-1h0m0 16h0m1-19h0m5 19h0m0-20h0m1 6h0m2 3h0m0-2h0m1 20h0m1-3h0m1 2h0m1-7h0m0 8h0m0-5h0m0-8h0m2-3h0m1-2h0m1 23h0m0-7h0m2 3h0m0-8h0m1 10h0m1-15h0m2 10h0m4-37h0m1 45h0m0-40h0m1 41h0m1-46h0m5 10h0m1 34h0m0-24h0m8 4h0m6-13h0m3 17h0m1-5h0m8-34h0m1 35h0m5 12h0m1-47h0m3 38h0m0-36h0m1 8h0m0-9h0m5 16h0m1 32h0m5-36h0m1 38h0m0-39h0m3 7h0m3-1h0m3-9h0m0 0h0m2 7h0m3-5h0m1 16h0m1-4h0m4 26h0m1-8h0m3-20h0m1 22h0m8 3h0m1-12h0m2 4h0m2 6h0m3-19h0m0 8h0m4 17h0m9-13h0m7-37h0m3 48h0m2 4h0m2-16h0m6 20h0m3-2h0m8-39h0m100 100h0m-30-5h0m-10-18h0m-13 1h0m-3 5h0m-2-15h0m-20-12h0m-5-6h0m0 3h0m-3 17h0m-2-12h0m-4 5h0m-1-3h0m-1-13h0m-2 28h0m-2-3h0m-1-7h0m-1-7h0m-1-15h0m-2 7h0m0-7h0m-6 0h0m-5 7h0m-2-6h0m-3 1h0m-6 3h0m-5 39h0m-14-9h0m-6-8h0m-24 2h0m-3-22h0m-8-2h0m-28 40h0m0 7h0m-1-5h0m0-10h0m-1 16h0m0-1h0m-2-8h0m0 13h0m-5 1h0m-2-9h0m0-24h0m-1 19h0m-2-13h0m-1 14h0m-3-11h0m0-16h0m-1 19h0m0-32h0m-2 24h0m0-20h0m-1 14h0m-1 11h0m-1-6h0m-1-10h0m-6 0h0m-2-8h0m-1 34h0m-1 8h0m-4-44h0m0 4h0m-8 27h0m-2-27h0m-1-12h0m-3 51h0m0-28h0m-1 10h0m-3-5h0m-1 3h0m-2-24h0m0 15h0m-14-6h0m-2 42h0m-2-19h0m-5-26h0m-12-4h0m-18-1h0m-2 14h0m-1 31h0m0-17h0m-1-31h0m0 38h0m-1 8h0m-3-8h0m0-5h0m-3 1h0m-1 18h0m0-10h0m-2-30h0m-2-10h0m-1-5h0m0 46h0m0-12h0m-2-26h0m-1-2h0m-1 30h0m-4-29h0m-1 30h0m0 3h0m-1-41h0m0 16h0m0 8h0m-2-12h0m-4-7h0m0 40h0m-1 4h0m-1-45h0m-1 4h0m0 10h0m0-15h0m0 12h0m0-7h0m0 50h0m-1-33h0m-7 15h0m-4-17h0m0 4h0m-2 26h0m-3-27h0m0 12h0m-3-33h0m-1 31h0m0-19h0m-2 12h0m0 13h0m-1-41h0m0 12h0m0 24h0m-1-28h0m-1 12h0m-3-12h0m-1 27h0m-1 21h0m-2-15h0m-2-12h0m0-26h0m-1 17h0m0 5h0m-3 30h0m0-12h0m-3 8h0m0 6h0m-1-19h0m-1 17h0m-5-3h0m-5 29h0m1-9h0m2 35h0m2-37h0m0-10h0m2 1h0m1 33h0m2 7h0m2-39h0m1 2h0m5 3h0m5 13h0m4-16h0m3 20h0m4-10h0m5 10h0m4 5h0m7-21h0m2 16h0m11-22h0m1 15h0m2-9h0m12-8h0m4 22h0m2-23h0m1 48h0m7-44h0m22 44h0m1-27h0m15 11h0m5 8h0m5-9h0m6 6h0m28 11h0m3-6h0m7-21h0m1 20h0m2-17h0m8 25h0m1-47h0m1 0h0m5-1h0m1 20h0m2-1h0m3-11h0m1-10h0m2 0h0m0 24h0m1-8h0m3 17h0m5 8h0m3 15h0m2-7h0m5 0h0m4 8h0m3-6h0m3 6h0m47-51h0m3 3h0m10 17h0m1-20h0m6 43h0m7-10h0m3-2h0m9-10h0m41 30h0m25-50h0m5 2h0m8 15h0m4-17h0m4-7h0m5 28h0m4-4h0m3 1h0m2-6h0m0 13h0m6 26h0m2-41h0m3 4h0m11 23h0m0-18h0m4-2h0m0 1h0m4-5h0m15 25h0m11 12h0m6-10h0m2 3h0m9 9h0m9-11h0m55 60h0m-21-33h0m-3 0h0m0 9h0m-7-2h0m-4-5h0m-4 6h0m-4 0h0m-4-5h0m-3-3h0m0-11h0m-6-1h0m-10 34h0m-1-37h0m-14 9h0m-128-1h0m-10-2h0m-70 43h0m-2-13h0m-5-11h0m-8 20h0m-3 9h0m-4-18h0m-2-35h0m-9 25h0m0-18h0m-3-3h0m-4 3h0m-2 10h0m-28 20h0m-13-34h0m-63-4h0m-133 32h0m-1-17h0m-6 28h0m-1 11h0m-1-32h0m-5 0h0m-5-21h0m-6 17h0m-1-7h0m664 55h0" stroke="#f8cd07" stroke-width="11.0" stroke-linecap="round" stroke-opacity="0.65" fill="none"/>
<path d="M67.3 159.3L66.0 161.0L61.3 170.5L60.2 170.0Z" fill="#21a99f" fill-opacity="1.0"/>
<path transform="scale(.1)" d="M652 1616h0m3 4h0m-1 10h0m0 0h0m-3-2h0m-5 10h0m-2 13h0m0-12h0m-3 9h0m-8 8h0m-6 20h0m0-9h0m-8-6h0m0 11h0m-3 3h0m-2-4h0m-10 29h0m13-12h0m4 20h0" stroke="#21a99f" stroke-width="11.0" stroke-linecap="round" stroke-opacity="0.7" fill="none"/>
<path transform="scale(.1)" d="M652 1615h0m12-6h0m1-6h0m-9 22h0m0 9h0m-4-6h0m-2-7h0m-5 35h0m-3 1h0m-3-12h0m-6 24h0m0-26h0m0 31h0m-1-18h0m-5 0h0m-4 14h0m-2 0h0m-12 7h0m-4 19h0m4-6h0m3 15h0m2-25h0m1 16h0m7-2h0m1-13h0m1 0h0" stroke="#21a99f" stroke-width="11.0" stroke-linecap="round" stroke-opacity="0.7" fill="none"/>
<path transform="scale(.1)" d="M656 1602h0m1 22h0m-6 14h0m-5 14h0m-6 3h0m-1 2h0m-11 19h0m-1-14h0m-3 1h0m-4 3h0m-20 32h0m3-4h0m4-4h0m1 11h0m1 0h0" stroke="#21a99f" stroke-width="11.0" stroke-linecap="round" stroke-opacity="0.7" fill="none"/>
<path d="M181.0 176.0L180.0 162.0L182.5 154.0L189.0 150.0L199.0 149.0L209.0 150.0L215.5 154.0L218.0 162.0L217.5 176.0Z" fill="#dcc424" fill-opacity="1.0" filter="url(#bl2)"/>
<path transform="scale(.1)" d="M1865 1483h0m6-8h0m5 23h0m9-16h0m28 16h0m12-5h0m7-13h0m4 19h0m7-17h0m42 4h0m24 0h0m13 6h0m3 3h0m21-7h0m4 2h0m4 7h0m2-16h0m119 35h0m-15 3h0m0-14h0m-1 44h0m-21-3h0m-5 11h0m-11-7h0m-14-45h0m-10 34h0m-1-9h0m-3-17h0m-15 7h0m-2-8h0m-2 40h0m-5-37h0m-8 4h0m-1-13h0m-25 47h0m-30-14h0m-12 4h0m-9-37h0m-2 17h0m-3 7h0m0-25h0m-6 46h0m-2-35h0m-6 1h0m-7-2h0m-15-12h0m-11 2h0m-19 5h0m-7 9h0m-4-3h0m-13 5h0m-1 20h0m-1-11h0m-2 1h0m-11 28h0m-9-54h0m-1 7h0m-2-6h0m-1 6h0m-1 3h0m-1 34h0m-1 9h0m-8-34h0m-2-9h0m-8-10h0m-38 7h0m-23 51h0m27 56h0m2-36h0m2 9h0m4 16h0m1-42h0m14 46h0m0-49h0m1 5h0m0 1h0m17 30h0m3-20h0m3-1h0m4 17h0m18-30h0m11 31h0m19 7h0m19-4h0m12-6h0m8-28h0m13 42h0m22-29h0m5 38h0m24-40h0m3 32h0m8-16h0m1-25h0m5 9h0m18 22h0m2-33h0m4 13h0m18 16h0m14 25h0m0-5h0m2-36h0m0-17h0m15 28h0m13 10h0m8-1h0m12-28h0m2 1h0m3 29h0m0 6h0m16-11h0m3-25h0m6 9h0m11 3h0m0-9h0m10 38h0m-9 61h0m0-45h0m-3 35h0m-4 0h0m-6-10h0m-4 20h0m0-25h0m-4-21h0m-1 47h0m-2-28h0m-7-6h0m-11 12h0m-29-20h0m-17 8h0m-2-12h0m-9 29h0m-17-7h0m-1-20h0m-1 14h0m-6 12h0m-15 18h0m-2 2h0m-5 1h0m-16-2h0m-1-5h0m-4 3h0m-7-21h0m-7-14h0m-1 3h0m0 2h0m-9 35h0m-4 1h0m-32-4h0m-7-8h0m-11-17h0m-16-17h0m-11 29h0m-14-31h0m-1 46h0m-5-34h0m-20 24h0m-1 7h0m-1-17h0m-36 8h0m0-43h0m-7 47h0m-11 6h0m-1-36h0m0 24h0m-1-18h0m-1-15h0m-10 43h0m0-49h0m-25 3h0m13 56h0m22 16h0m11 24h0m1-37h0m7 44h0m2-16h0m3-18h0m3-4h0m2 28h0m2 10h0m9-21h0m11-9h0m0 38h0m1-4h0m23-36h0m3 41h0m8-51h0m8 18h0m0-20h0m2 39h0m3 13h0m4-6h0m0-11h0m8-19h0m4 9h0m9 0h0m1-27h0m6-3h0m11 49h0m28-33h0m26 30h0m1-37h0m9 19h0m2-8h0m1 20h0m9-38h0m10 55h0m4-46h0m6 23h0m9-3h0m13 25h0m11-55h0m5 3h0m5 25h0m18-11h0m12-3h0m14 26h0m8-35h0m0 48h0m7-19h0m1-34h0m28 21h0m24-14h0m-42 61h0m-4 4h0m-6-3h0m-12-5h0m-42-2h0m-4 19h0m-3-6h0m-18-13h0m-1 0h0m-9 12h0m-5-13h0m-14 25h0m-9 3h0m-4-30h0m-59 20h0m-21-4h0m-10-3h0m-15 15h0m0 2h0m-4-12h0m-13-1h0m-74-12h0" stroke="#21a99f" stroke-width="12.0" stroke-linecap="round" stroke-opacity="0.65" fill="none"/>
<path transform="scale(.1)" d="M1877 1490h0m3 3h0m2-4h0m8-1h0m23-2h0m31-22h0m12 29h0m6-17h0m13-2h0m9 17h0m17-22h0m31 19h0m24 1h0m18 4h0m26 4h0m19 2h0m29 7h0m-6 26h0m-7 15h0m-7-17h0m0-21h0m-2 16h0m-7 21h0m-17-36h0m0 7h0m-1-16h0m-5 0h0m-13-1h0m-2 11h0m-1 20h0m-9 11h0m-2-29h0m-2 31h0m-3-12h0m-3-16h0m-4 1h0m-12-10h0m-3 18h0m-1-17h0m-8 25h0m-1-33h0m-2 28h0m-1-3h0m-12-21h0m-8 28h0m-6-24h0m-2 3h0m-2 24h0m-12-13h0m-3 14h0m-7 20h0m-2-54h0m-2 16h0m-4 17h0m-10 22h0m-5-31h0m-11-11h0m-7 2h0m-4 37h0m-6-33h0m-9-5h0m-9-3h0m-3 5h0m-2 36h0m-4-29h0m-1 29h0m-10 3h0m-7-54h0m-11 44h0m-7-10h0m-1-20h0m-7-6h0m-11 32h0m-1 7h0m-4-37h0m-6 45h0m-8 0h0m-4 32h0m1-9h0m1 8h0m2 6h0m0-30h0m16 13h0m5 33h0m10-15h0m17 7h0m2-29h0m5 27h0m5 2h0m2-33h0m1 35h0m23 2h0m18-44h0m25 53h0m4-50h0m1 20h0m9-19h0m9 12h0m5 14h0m17-14h0m15 35h0m25-51h0m14 52h0m9-5h0m12-3h0m4 10h0m0-42h0m6 21h0m3-35h0m21 18h0m2-13h0m2 23h0m2-10h0m16-17h0m2 21h0m9-21h0m2 47h0m4 9h0m8-49h0m1-2h0m7 46h0m11-27h0m6 12h0m13 2h0m-6 29h0m-23 10h0m-2-11h0m-3 46h0m-1-19h0m-2-29h0m-4 18h0m-6 33h0m-12-35h0m-1 25h0m-2-30h0m-9-7h0m-7 22h0m-1 12h0m-3 7h0m-4-22h0m-2 14h0m-11-35h0m-8 43h0m-29-28h0m-5 2h0m-1-23h0m-7 8h0m-5 43h0m-2-2h0m-24-5h0m-4-42h0m-10 29h0m-1-4h0m-15 3h0m-9 8h0m-19 10h0m-2-42h0m-12 43h0m-11-26h0m-5 10h0m-7 20h0m-6-45h0m-2-4h0m-10 7h0m-4-6h0m-1 44h0m-5-17h0m-8 4h0m-28 17h0m-18-43h0m-8 47h0m-3-53h0m-1 18h0m0 22h0m-4-7h0m-2-29h0m-15-5h0m-9 46h0m0-14h0m13 25h0m9-1h0m8 9h0m1 29h0m0-37h0m16 14h0m4-15h0m9 4h0m1 6h0m12 20h0m6 18h0m2 0h0m24-44h0m4 31h0m31 22h0m1-48h0m16 0h0m12-10h0m9 9h0m11 27h0m0-31h0m2 16h0m2-21h0m14 32h0m1 17h0m0-36h0m9 8h0m8-9h0m7 4h0m3-14h0m6 3h0m9 5h0m3 7h0m9 38h0m9-12h0m1-19h0m1 33h0m4-38h0m25 4h0m3-2h0m3 1h0m8 18h0m1-39h0m15 11h0m3 21h0m7-11h0m12 22h0m3-38h0m7 8h0m12 34h0m3-16h0m2 13h0m12-42h0m-39 65h0m-14-5h0m-1-3h0m-18 4h0m-15 9h0m-1 21h0m-21-7h0m-3-2h0m-35-7h0m-28 12h0m-6 4h0m-6-12h0m-2 3h0m-12-24h0m-6 23h0m-6-1h0m-2-5h0m-33-6h0m-3 25h0m-61-27h0m-31-7h0m-1 3h0" stroke="#21a99f" stroke-width="12.0" stroke-linecap="round" stroke-opacity="0.65" fill="none"/>
<path transform="scale(.1)" d="M1880 1493h0m56 4h0m17-9h0m3 10h0m38-15h0m9 3h0m2 13h0m27-5h0m6-22h0m8-10h0m11 28h0m65 1h0m9 5h0m18 47h0m-1-8h0m-3-4h0m-1 18h0m-1 2h0m-17-28h0m-3 3h0m0 26h0m-1-29h0m-3 35h0m0-6h0m-3-27h0m-4 30h0m-2-4h0m-3 8h0m-2-34h0m0 15h0m-2-15h0m-2 31h0m-5-43h0m-1 6h0m-3 20h0m-1-3h0m0 8h0m-1 2h0m-1-21h0m-8 2h0m-1 12h0m-1 19h0m-5-2h0m0-30h0m-4-18h0m-6 39h0m-1-5h0m-5 1h0m-1 1h0m-5-13h0m-1-2h0m-3 23h0m-5-13h0m-2-29h0m-10 18h0m-8 15h0m-5-37h0m-3 29h0m-5 14h0m-3-32h0m-1-17h0m0 23h0m-1-21h0m-3 47h0m-8 5h0m-1-4h0m-9 6h0m-1-33h0m0-16h0m-9 32h0m0-19h0m-17 36h0m-1-46h0m-6 22h0m0-16h0m-5-13h0m-3 3h0m0 22h0m-2-27h0m-1 28h0m-2 25h0m-2-35h0m-1 35h0m-1 4h0m-2-26h0m-3 25h0m-1-46h0m-6 7h0m-5 16h0m-1 6h0m-10-2h0m-5-12h0m-3-7h0m0 17h0m-4-15h0m-3 25h0m-2-4h0m-3 9h0m-1-47h0m-4 48h0m-3 1h0m-5-13h0m-1 18h0m-3-7h0m-4-41h0m-7 22h0m-2 27h0m-11-16h0m-2-2h0m-1-22h0m-10 27h0m0-6h0m-9-22h0m-41 85h0m15 13h0m3-28h0m8-28h0m13 28h0m4-8h0m6 12h0m1-22h0m1 6h0m3 36h0m3-1h0m1-44h0m0 36h0m5 13h0m1-30h0m6 9h0m3-32h0m0 44h0m2-19h0m9-4h0m2 16h0m3-23h0m0-2h0m2 6h0m2-5h0m2-13h0m5 31h0m4-10h0m5 20h0m2 10h0m0-43h0m4 17h0m4-27h0m0 9h0m4 8h0m17-5h0m1 34h0m1-37h0m2 25h0m5-20h0m1 37h0m7-21h0m0-25h0m2 22h0m5 28h0m2-55h0m1 49h0m1-14h0m0 20h0m2-12h0m10-33h0m12 10h0m6 11h0m0-4h0m1-10h0m1 33h0m2-28h0m1 7h0m0 29h0m1-4h0m10-49h0m1 34h0m7-4h0m9-10h0m1 24h0m1-36h0m17 18h0m5-15h0m8 23h0m3-30h0m2 45h0m1-2h0m0-42h0m0 1h0m2 41h0m10-41h0m4 17h0m0-16h0m5 17h0m4-24h0m1 30h0m2-33h0m3 30h0m4-15h0m1 8h0m1-2h0m2 4h0m6-15h0m7-2h0m0 9h0m1-18h0m2 53h0m10-18h0m5 11h0m5 10h0m4-23h0m6-19h0m1 13h0m1 7h0m12-25h0m1 47h0m2-18h0m8-39h0m10 47h0m19 37h0m-6-9h0m-15 29h0m-9-2h0m-1-25h0m-3 14h0m-11 7h0m-1 15h0m-1 1h0m-10 4h0m-6-51h0m-1 31h0m-1 0h0m-4-13h0m0-19h0m-1 12h0m-5-11h0m-4 19h0m-1-10h0m0 41h0m-6-4h0m-4-51h0m-4 49h0m-5-20h0m-3 18h0m0-49h0m0 26h0m-4-18h0m-1 48h0m-5-52h0m-4 3h0m-4 43h0m-6-42h0m-5 22h0m-4 14h0m-8-39h0m-1 0h0m-13 35h0m-8 9h0m-1-37h0m-7 0h0m-6 28h0m-1-18h0m0-18h0m-16 31h0m-2-10h0m-1 19h0m-9-23h0m0 18h0m-2-18h0m-2 8h0m0-19h0m-1 7h0m-5 3h0m-1 9h0m-3-5h0m-4 0h0m-3-23h0m-2 51h0m-6-2h0m0-36h0m-3 30h0m-2-40h0m-1 22h0m0-1h0m-5-17h0m-1 38h0m-1-36h0m-1 9h0m-1-18h0m-2 2h0m-2 24h0m0-14h0m-6-2h0m-1 36h0m-1-29h0m0-19h0m-2 26h0m-1 17h0m0-8h0m-3-19h0m-2-6h0m-1-9h0m0-1h0m0 57h0m-1-49h0m-2 13h0m-4 13h0m-4-15h0m-2-1h0m-5 6h0m-6-2h0m0 7h0m-8-12h0m-7-13h0m-2 37h0m-2 11h0m-1-32h0m-4 14h0m-9-29h0m-1 16h0m-2-6h0m-8-5h0m0 5h0m-5 23h0m-19-29h0m-8 5h0m-5 5h0m-2 3h0m10 46h0m0 1h0m7 25h0m3-14h0m6 37h0m0-22h0m5 6h0m1-34h0m6 45h0m5-46h0m0 22h0m4 20h0m2-48h0m0 4h0m1 53h0m2-19h0m2-25h0m8 6h0m4-10h0m1 20h0m5 6h0m0-29h0m4 32h0m2 17h0m0-4h0m5-28h0m1-10h0m4 2h0m2 44h0m2-7h0m1-24h0m3 28h0m1-53h0m2 4h0m6 20h0m0 3h0m1-21h0m1 12h0m6-4h0m2 13h0m5-30h0m2 50h0m2-37h0m0 38h0m1-41h0m2-6h0m1 42h0m0-2h0m2-26h0m1 6h0m8-10h0m5 32h0m3-45h0m0 57h0m0 0h0m3-43h0m1-14h0m6 38h0m1 6h0m2-45h0m1 53h0m12-8h0m1-34h0m0-8h0m6 22h0m1 28h0m2-38h0m8 22h0m4-35h0m6 40h0m3-41h0m3 56h0m0-56h0m1 38h0m0 7h0m3-5h0m0-27h0m1-5h0m4-8h0m5 58h0m8-54h0m1 13h0m6-16h0m5 23h0m12-21h0m1-4h0m2 3h0m0 14h0m2 2h0m4 10h0m8-23h0m2 46h0m8-17h0m1 15h0m0-38h0m2 38h0m3-13h0m3 19h0m4-53h0m5 30h0m3 25h0m3-39h0m5-14h0m11 10h0m2 15h0m14-15h0m1-9h0m1 49h0m0-15h0m1 10h0m4-25h0m13-20h0m2 3h0m17-3h0m-41 61h0m-12-6h0m-10 31h0m-22-18h0m-2 34h0m0-15h0m-1 1h0m-8-8h0m0 0h0m-5-7h0m-3 20h0m-8-25h0m-7 3h0m-23 2h0m-2 11h0m-2-5h0m-4-15h0m-3 17h0m-1-23h0m-1 24h0m-6-1h0m-2-11h0m-5 32h0m-11-22h0m-1-7h0m-7 8h0m-3-22h0m-4 13h0m-6 11h0m-14-16h0m-2-11h0m-1 3h0m-5-2h0m-6 45h0m-1-26h0m-17 2h0m-2-6h0m-1 31h0m-2-28h0m-1 25h0m-4 3h0m-1 1h0m0-28h0m-8-8h0m-24 10h0m-1 11h0m-1-22h0m-6-10h0m-7 10h0m-9 5h0m-1 21h0m-2-30h0m-3-5h0m-22 9h0m-1-6h0m-7-5h0m-9 3h0" stroke="#f8cd07" stroke-width="12.0" stroke-linecap="round" stroke-opacity="0.65" fill="none"/>
<path transform="scale(.1)" d="M1899 1482h0m1-4h0m17-11h0m79 29h0m13-9h0m1-15h0m8 12h0m11 10h0m12 1h0m19-14h0m8-1h0m66 18h0m16 1h0m20 52h0m-13-3h0m-2-42h0m-5 47h0m-3-5h0m-1-20h0m-8-1h0m-10-17h0m-8 28h0m-7-15h0m-8 20h0m-2-5h0m0-19h0m-12 12h0m-1 14h0m-10-16h0m-2-13h0m-7-5h0m-1 17h0m-5 20h0m-1-29h0m0-3h0m-3-5h0m-5 31h0m-2-2h0m-2 0h0m-2 0h0m-2-19h0m-2-2h0m-2 27h0m-2 1h0m-1-7h0m-3 5h0m-1 13h0m-3-27h0m-2 22h0m-3-17h0m0-8h0m0-1h0m-10 11h0m-10-14h0m-1-16h0m-1 44h0m-15-31h0m0 35h0m-1-10h0m-3 12h0m-9-1h0m-2-6h0m-8-27h0m-2 11h0m0-30h0m-1 15h0m-1 13h0m-10 0h0m-3 14h0m-2-4h0m-3 7h0m-6-23h0m-6 22h0m-3-18h0m-1 26h0m-7-17h0m-11 7h0m-7-13h0m-5-11h0m-4 9h0m-1 24h0m-2-37h0m0 20h0m-1 4h0m-1 3h0m-4-45h0m0 55h0m-2 0h0m-1-1h0m-14-19h0m-1-4h0m-1-18h0m-3-1h0m0 14h0m-1-14h0m-11 20h0m-1-3h0m-3 11h0m-14-27h0m0-3h0m-7 48h0m-11-35h0m-12 32h0m-8-2h0m5 65h0m7-33h0m23 8h0m0-24h0m7 1h0m1 27h0m1-30h0m2 24h0m1-4h0m14-23h0m6 43h0m6 1h0m5 3h0m1-10h0m0 10h0m0 6h0m3-18h0m2-12h0m1-10h0m5-16h0m2 28h0m8 8h0m0 18h0m0-33h0m2 22h0m0-10h0m4-3h0m0 19h0m3-19h0m3-19h0m0 36h0m0-39h0m2 29h0m0-35h0m2 0h0m2 55h0m0-55h0m2 12h0m1 10h0m0 19h0m6 5h0m3-34h0m0 23h0m4-18h0m4 32h0m2-17h0m2-16h0m0 21h0m6-32h0m0 16h0m3 33h0m1-39h0m2 8h0m2-18h0m1 45h0m0-5h0m7-42h0m0-1h0m2 28h0m1 5h0m9-37h0m0 46h0m5-4h0m1-10h0m0 21h0m2-29h0m1 33h0m6-52h0m2 40h0m6-42h0m5 33h0m1-4h0m1 14h0m1-35h0m3 34h0m2-36h0m5 30h0m1-3h0m3 14h0m4-17h0m5 11h0m1-11h0m5 10h0m0 3h0m1 4h0m13-27h0m2 5h0m0 1h0m2 25h0m3-54h0m1 49h0m2 2h0m0-14h0m2-19h0m7 0h0m1-1h0m4 20h0m0-39h0m1 27h0m3 24h0m8-50h0m4 43h0m2-5h0m2-34h0m3 1h0m2 4h0m3 20h0m12-18h0m1-5h0m1 19h0m5-3h0m2 4h0m4 16h0m4-13h0m0-25h0m0 39h0m0-21h0m3 35h0m2-33h0m5-14h0m8-3h0m1-1h0m10 27h0m3 0h0m1 17h0m28 11h0m-4 41h0m-28 0h0m-7-33h0m0 2h0m-1 16h0m-1-14h0m-4 0h0m-1-13h0m-2 55h0m-1-10h0m-3 10h0m-3-26h0m-4-22h0m-3 51h0m-5-14h0m-3-3h0m-5 10h0m-12-45h0m-1 9h0m-3-9h0m-5 43h0m-2-22h0m-8-27h0m-9 58h0m-2-36h0m-1 21h0m-5 15h0m-2-18h0m-1-29h0m0 2h0m-7 37h0m-1 7h0m-5-35h0m0 2h0m-4 12h0m-5 21h0m-3-16h0m-4 6h0m-1-41h0m-1 15h0m0-5h0m-6 29h0m-6 7h0m-10-28h0m-4 32h0m-10-36h0m-11-21h0m-2 33h0m-1-11h0m-2 7h0m-5 2h0m-2 17h0m-2 2h0m-7-28h0m0-4h0m0 23h0m-4 7h0m-1-5h0m-2 9h0m-1-3h0m-3-6h0m-7 3h0m-1-6h0m-3 7h0m0 4h0m-1-3h0m-1-43h0m-1-3h0m0 17h0m-3 37h0m-2-51h0m-5 14h0m-2 22h0m-2-2h0m-6-28h0m-1-9h0m-3 36h0m-3 8h0m0 9h0m-2-34h0m-5-1h0m-1-6h0m-1 23h0m-2-18h0m-10 1h0m-10 26h0m-1 12h0m-3-49h0m-5 3h0m-2 5h0m-5 41h0m-3-38h0m-7-11h0m-5 32h0m0 8h0m0 5h0m-1-54h0m-3 27h0m0 18h0m-1 12h0m-4-47h0m-4 37h0m-4-38h0m-2 40h0m-5-9h0m0-31h0m-6 29h0m-5 20h0m-1-29h0m-6-11h0m-1 17h0m-7 17h0m-4-10h0m1 53h0m6-17h0m20 23h0m8-33h0m7 26h0m1 16h0m0-41h0m7 36h0m2-20h0m10 12h0m1-32h0m8 4h0m2 31h0m5-36h0m0 5h0m1 31h0m2-16h0m0 28h0m1-31h0m0 11h0m4 13h0m0-31h0m3 34h0m7-14h0m6-6h0m10-5h0m2 26h0m2 6h0m0-13h0m0-42h0m3 24h0m6-11h0m7 32h0m1-32h0m3 30h0m2 4h0m4-30h0m4 25h0m0-3h0m1-31h0m2 24h0m3 8h0m0-20h0m6 11h0m1-28h0m2 12h0m1 10h0m3 14h0m5-8h0m1-19h0m8 15h0m2 28h0m2-13h0m4 6h0m0-4h0m1 3h0m0-18h0m4 27h0m5-46h0m4 14h0m2 11h0m1 21h0m1-35h0m9 5h0m4 4h0m1 21h0m7 8h0m1-18h0m3-26h0m2-8h0m2 20h0m2-12h0m2 11h0m2 14h0m5 13h0m0-8h0m8-31h0m0-10h0m2 51h0m4-22h0m1 13h0m5-16h0m3 2h0m0 24h0m6-56h0m2 43h0m4-12h0m5-27h0m4 55h0m2-46h0m0-9h0m3 10h0m0-8h0m5 33h0m9-11h0m2 6h0m2-1h0m3-24h0m1 35h0m7-28h0m1 8h0m2-13h0m5 12h0m5 26h0m1-7h0m5-20h0m1 36h0m0-13h0m3 9h0m6-40h0m1 43h0m2-35h0m6 21h0m2-21h0m12 21h0m4-41h0m9 45h0m-39 22h0m-7-8h0m-18 4h0m-2 6h0m-5 26h0m-17-8h0m0 3h0m-1-4h0m-4-13h0m0 30h0m-12-33h0m-11 20h0m-4-5h0m-10-17h0m-1-6h0m-1-4h0m-6 10h0m-30 0h0m-7 27h0m-5-11h0m-5 12h0m-1-21h0m-7 16h0m-7-22h0m-7-3h0m-7 20h0m-10-16h0m-2-3h0m-3 14h0m-6 13h0m-5-28h0m-1-1h0m-4-6h0m-9 4h0m-3 3h0m0-1h0m-1 13h0m-2 15h0m-6 2h0m-2-29h0m-1-7h0m-1 2h0m-1 17h0m-12-10h0m-7 9h0m-2-15h0m-7 29h0m-11-21h0m-7-8h0m-2 16h0m-3 1h0m-3 4h0m-1 1h0m-31-25h0" stroke="#f8cd07" stroke-width="12.0" stroke-linecap="round" stroke-opacity="0.65" fill="none"/>
<path transform="scale(.1)" d="M1911 1499h0m9-5h0m2-12h0m9 9h0m29-13h0m10 12h0m33-3h0m17-19h0m18 26h0m4-22h0m25 13h0m6 5h0m1-14h0m98 42h0m-10 38h0m-4-46h0m-9 36h0m-3 5h0m-18-20h0m-1 22h0m0-41h0m-1 10h0m-3 33h0m-2-27h0m-5 28h0m0 1h0m-1-26h0m-2-8h0m-1 7h0m-6-30h0m-2 39h0m-2-29h0m-2 23h0m-2 16h0m-2-32h0m-7 12h0m-4 13h0m-1-3h0m0-10h0m-10-10h0m0 8h0m-4 5h0m-3 26h0m-3-25h0m-8-9h0m-2 2h0m-1 17h0m-5-15h0m-2-7h0m0 33h0m-1 5h0m-2-38h0m-2 14h0m-3 14h0m-10 10h0m-18-22h0m-1-8h0m-2 13h0m-1 10h0m-10 0h0m-9-11h0m-2 1h0m-3 14h0m-4-27h0m-1 16h0m-3-3h0m-4-13h0m-1-4h0m0 32h0m-1-41h0m-5-16h0m-2 20h0m0 15h0m-1-25h0m-2-8h0m-3 48h0m-1-31h0m-1 24h0m-14-39h0m-4 21h0m-4 24h0m-4 0h0m-6-37h0m-10 30h0m-1-17h0m-3-23h0m-8 39h0m-9-3h0m-6 17h0m-7-25h0m-1 17h0m-1-1h0m0-45h0m-5 58h0m-1-12h0m-1-12h0m-6 12h0m-1 2h0m-7 5h0m-1-48h0m0 32h0m0 1h0m-1 12h0m-3-46h0m-3 16h0m-4-20h0m-3 57h0m-1-20h0m-21 20h0m-23 58h0m4-31h0m1 28h0m10-40h0m1-13h0m9 0h0m1 17h0m11 9h0m4-16h0m3 11h0m2 34h0m2-53h0m1 34h0m6-31h0m0 37h0m6-40h0m5 12h0m0 13h0m3 12h0m9-3h0m3 11h0m0-11h0m2 16h0m2-31h0m1-12h0m0 9h0m2 18h0m3 19h0m1-43h0m3 26h0m7 2h0m1 6h0m5 5h0m1-18h0m13-15h0m0 15h0m7-13h0m3 37h0m2-8h0m1-26h0m1 14h0m0 1h0m5-27h0m9 33h0m0-21h0m9 34h0m7-37h0m3 21h0m10-12h0m4 16h0m0 7h0m0-35h0m3-3h0m11 33h0m6 6h0m3-15h0m6 18h0m4-26h0m1 24h0m2-1h0m0-2h0m3-38h0m1 26h0m6-9h0m0-3h0m9 5h0m5-26h0m1 52h0m5-42h0m3-12h0m7 6h0m1 17h0m6-19h0m7-8h0m2 28h0m4-7h0m4 1h0m1 3h0m2 3h0m0-11h0m9 29h0m8-27h0m5 34h0m3 5h0m3-54h0m1 31h0m5-29h0m11 30h0m3 14h0m3-39h0m1 37h0m10-25h0m8 22h0m1-24h0m8-8h0m6 32h0m20 1h0m4-6h0m-25 47h0m-12-23h0m-1 35h0m-12 9h0m-1-44h0m-8 1h0m-5 49h0m-2 0h0m-6-3h0m-3-13h0m0-13h0m-10 18h0m-3-35h0m-13 0h0m-1 21h0m-4-13h0m0 5h0m-4-15h0m-4 9h0m0 9h0m-7 35h0m-1-12h0m-1-5h0m-1 13h0m-4-42h0m-8-10h0m-9 9h0m-1 8h0m-1-9h0m-7 15h0m0-11h0m-8-8h0m-3 21h0m0-9h0m-2 25h0m0-10h0m-4 12h0m-3-4h0m-4-5h0m-1 15h0m-3-30h0m-3 5h0m-3-22h0m-10 53h0m0-34h0m-1 14h0m-2 9h0m-1-27h0m-8 9h0m0-10h0m0 28h0m-3 6h0m0-13h0m-1 7h0m-1-15h0m-1 16h0m-2-34h0m-2 31h0m0-31h0m-3 40h0m-4-40h0m-2-4h0m-9 19h0m0-21h0m-1 47h0m-7-3h0m-1-36h0m-1 32h0m-5 4h0m-2-7h0m-2-23h0m-6 29h0m-3-8h0m0-2h0m-1-40h0m-11 21h0m0-20h0m0 16h0m-2 4h0m-3-15h0m-1-7h0m-14 6h0m-1 41h0m-3-33h0m-8 20h0m-4 2h0m0-27h0m-1 49h0m0-23h0m-1-16h0m-11 12h0m-4-27h0m-1 11h0m-2-9h0m-4 19h0m-2 20h0m-1-32h0m-4-2h0m-1 44h0m-22-17h0m-3-9h0m0-11h0m-8-16h0m-1 4h0m-11 38h0m0 12h0m-4-8h0m0-34h0m-7 8h0m18 64h0m8 27h0m4 5h0m15-57h0m1 36h0m5-26h0m0 2h0m8 22h0m2-25h0m7 12h0m3-1h0m3 20h0m11-19h0m1-2h0m0 33h0m2 4h0m0-11h0m1 5h0m2-43h0m0 12h0m2-1h0m5-9h0m2 23h0m1-23h0m6 12h0m2 2h0m8-16h0m3 9h0m1-3h0m4 39h0m10-50h0m2 40h0m1-30h0m0 4h0m23 1h0m1 15h0m3 0h0m5 7h0m5-30h0m0 35h0m1-19h0m0 24h0m1-23h0m9 24h0m6-15h0m2-11h0m1 21h0m9-40h0m1 20h0m0-26h0m1 23h0m7 34h0m4-15h0m3 7h0m10-40h0m2 10h0m1-10h0m2 32h0m1 4h0m3 5h0m3-31h0m1-6h0m2 20h0m6 2h0m4 18h0m0-40h0m0 3h0m5 30h0m3-31h0m1-1h0m4 1h0m1 18h0m2 9h0m2-37h0m1 8h0m5 8h0m7 12h0m8 1h0m2-10h0m0 12h0m6-3h0m2 15h0m1-48h0m1 42h0m5-2h0m1 19h0m6-13h0m5-14h0m1 10h0m3-14h0m1-22h0m6 1h0m2 15h0m1 13h0m2-22h0m1 5h0m0 10h0m8-16h0m5 24h0m1-17h0m1-14h0m1 11h0m2-11h0m2 21h0m2-22h0m1 23h0m9 4h0m12-18h0m-30 47h0m-8 3h0m-12 7h0m-11 1h0m-5-5h0m-5 10h0m-1-4h0m-2 19h0m-8-7h0m-6-18h0m-3 38h0m-5-41h0m-3 25h0m-6-8h0m-20 7h0m-2-9h0m0 17h0m-6 6h0m-5-30h0m-6 28h0m-6-4h0m-1-22h0m-4-2h0m-3 20h0m-5-16h0m-2-11h0m-5 23h0m-1-8h0m0 26h0m-7-26h0m-7 13h0m-10 6h0m-13-4h0m-1-29h0m-2 22h0m-2-16h0m-3 25h0m-2-7h0m-4-9h0m0 9h0m-1-14h0m-1-15h0m-3 12h0m-6-8h0m0 26h0m-9-11h0m-4 14h0m-1 3h0m-7-29h0m0 30h0m-5-21h0m-3 15h0m-25-26h0m-4 33h0m-10 10h0m-10-48h0m-18 13h0m0 21h0m-2 4h0m-15-22h0m-9 3h0" stroke="#f8cd07" stroke-width="12.0" stroke-linecap="round" stroke-opacity="0.65" fill="none"/>
<path transform="scale(.1)" d="M1896 1493h0m8-3h0m21 4h0m12-8h0m6 13h0m2-6h0m1-4h0m14-22h0m5 14h0m9-11h0m1 8h0m68-17h0m40 32h0m8 1h0m42 2h0m38 33h0m-13-7h0m-10 35h0m-11 0h0m-14-39h0m-2 3h0m-5-8h0m-1 3h0m-4 1h0m-9-5h0m-1-1h0m0 29h0m-1-4h0m0-3h0m-1-15h0m-8 13h0m-25-4h0m-1-11h0m-4 12h0m-3 27h0m-5-34h0m-5 16h0m-4-13h0m-7 1h0m-2 29h0m-4-19h0m-1-11h0m-9-12h0m-10 15h0m-3-8h0m-6-13h0m-7 32h0m-8 9h0m-6-16h0m-10 16h0m0-1h0m-1-32h0m-4-5h0m0 12h0m-6 32h0m-11-36h0m-3 0h0m-12 9h0m-7-9h0m-7-17h0m-3 4h0m-6 7h0m-11 14h0m-6-16h0m-2 10h0m-9 37h0m-5-37h0m-5-16h0m-1 51h0m-5-7h0m-9-1h0m-15-24h0m-2-19h0m-2 21h0m-3 17h0m-1 7h0m-10-5h0m-32 19h0m1 21h0m4 27h0m3 1h0m3-13h0m7-2h0m1 0h0m3 6h0m2 15h0m0-11h0m1 4h0m2 0h0m3-44h0m0 29h0m3 2h0m62-1h0m18-34h0m2 1h0m6 24h0m3 4h0m6-15h0m7 31h0m5-28h0m4 8h0m3-3h0m2 1h0m2 7h0m2 7h0m11 10h0m2 8h0m11-18h0m9 7h0m1-34h0m5 46h0m2-36h0m10-13h0m18 16h0m1 7h0m8 17h0m17-12h0m20-34h0m1 49h0m1-46h0m3 5h0m6 30h0m1-40h0m0 56h0m10-29h0m28-21h0m0 3h0m1 13h0m6-23h0m7 9h0m0 16h0m8-8h0m5-10h0m13 11h0m1 15h0m0-17h0m2 7h0m6-10h0m9 30h0m11-27h0m5 43h0m0-26h0m6 2h0m1 54h0m-6 16h0m-9-24h0m-8 34h0m-5-1h0m-2-43h0m-3 40h0m0-31h0m0 13h0m-14 6h0m-24-12h0m-14 28h0m-1-46h0m-21-5h0m-6 35h0m-3 19h0m-12-40h0m-10 35h0m-16-40h0m-18 30h0m0-11h0m-12-3h0m-6-12h0m0 33h0m-8-32h0m-15 14h0m-3-14h0m-4-17h0m-3 2h0m-2 54h0m0-25h0m-2-17h0m-1 30h0m0-36h0m-5 9h0m-5 30h0m-6-44h0m-22 1h0m-10 42h0m-14-40h0m-14 19h0m-8 25h0m-12-30h0m-2 9h0m0 20h0m-11-15h0m-6 17h0m-2-21h0m-8 12h0m-10-42h0m-2 4h0m-6 36h0m-2 0h0m-1 1h0m-3 14h0m-1 3h0m0-49h0m-8-9h0m0 57h0m-7-8h0m-10-24h0m-4 16h0m0 50h0m29-1h0m3-10h0m3-10h0m3 28h0m13-6h0m2 2h0m3 13h0m4-6h0m26-13h0m18-8h0m9 14h0m2-17h0m2-10h0m5 7h0m2 29h0m7-40h0m6 39h0m3 15h0m19-53h0m12 20h0m12 21h0m2-35h0m4 5h0m6 24h0m12-25h0m2 8h0m5-4h0m1-4h0m1 14h0m2 22h0m17-32h0m8 2h0m1 21h0m10 13h0m31-6h0m5-35h0m5 27h0m7-36h0m4 40h0m18-19h0m18-8h0m3-11h0m11-4h0m1 14h0m4 7h0m3 14h0m8-20h0m3-15h0m7 12h0m0 10h0m29-23h0m-67 74h0m-21 8h0m-30-8h0m-10 34h0m-5-29h0m-14-20h0m-3 39h0m-5-3h0m-2-24h0m-14 1h0m-29-6h0m-2-4h0m-5 20h0m-26-10h0m-14 26h0m-12 3h0m-13-41h0m-3 11h0m-28-1h0m-11 32h0m-9-8h0m-9-34h0m0 33h0m-25-26h0" stroke="#21a99f" stroke-width="12.0" stroke-linecap="round" stroke-opacity="0.65" fill="none"/>
<path transform="scale(.1)" d="M2181 1434h0m-40-38h0m-117 22h0m-28-11h0m-55 16h0m-289 36h0m73 20h0m33-7h0m100 15h0m20-14h0m24 20h0m32-22h0m2 8h0m22-26h0m40-7h0m17-5h0m6 48h0m1-11h0m38-19h0m27 37h0m60-8h0m55 2h0m30 42h0m-72 22h0m-6-31h0m-84 1h0m-27 2h0m-1-19h0m-29 29h0m-26-31h0m-8 5h0m-13-1h0m-15 32h0m-11-35h0m-9 42h0m-2-19h0m-10 2h0m-3 7h0m-38 6h0m-48 12h0m-37-46h0m-67-9h0m127 85h0m73-10h0m7 24h0m38-38h0m94 1h0m66 50h0" stroke="#21a99f" stroke-width="11.0" stroke-linecap="round" stroke-opacity="0.45" fill="none"/>
<path transform="scale(.1)" d="M1946 1363h0m226 57h0m-8 3h0m-6-6h0m-223 22h0m-66-29h0m-9 23h0m-79 14h0m10 2h0m24 6h0m65 23h0m14 20h0m3-19h0m22-35h0m49 28h0m6 15h0m7-20h0m36-2h0m1 15h0m96-7h0m6 12h0m18-21h0m37 33h0m6-28h0m-26 65h0m-5 25h0m-119-27h0m-36-30h0m-3 47h0m-13-30h0m-20 25h0m-11-16h0m-16-25h0m-1 2h0m-30 16h0m-32 0h0m-4-9h0m-19-1h0m-17 11h0m-36 16h0m-40-6h0m-46-25h0m209 64h0m27-5h0m26-2h0m10 11h0m9 14h0m99-28h0m-162 59h0" stroke="#f8cd07" stroke-width="11.0" stroke-linecap="round" stroke-opacity="0.45" fill="none"/>
<path transform="scale(.1)" d="M1939 1357h0m280 57h0m-60 25h0m-82 0h0m-79-26h0m-67-13h0m-28 12h0m-232 39h0m32 43h0m16-28h0m38 19h0m32 3h0m73-38h0m33 23h0m8-4h0m5 14h0m21-28h0m32 11h0m36 32h0m34-9h0m24-36h0m6 0h0m8-4h0m17 33h0m3-8h0m32 12h0m18-45h0m13 31h0m13 9h0m131-4h0m123 62h0m-60 2h0m-186-4h0m-9-30h0m-3 29h0m-81-36h0m-63 45h0m-1-29h0m-9-2h0m-15-13h0m-47 6h0m-52-5h0m-16 30h0m-2 8h0m-2-1h0m0-1h0m-5-25h0m-90 10h0m176 37h0m35 15h0m37 18h0m27-17h0m11-8h0m61-6h0m-57 59h0" stroke="#f8cd07" stroke-width="11.0" stroke-linecap="round" stroke-opacity="0.45" fill="none"/>
<path transform="scale(.1)" d="M2039 1330h0m-239 97h0m-6-16h0m-100 20h0m82 60h0m8-33h0m93 30h0m60-22h0m12-20h0m51 1h0m27 51h0m9-16h0m69-16h0m19 11h0m6 11h0m39-48h0m44 42h0m35-4h0m93-1h0m14 44h0m-65-6h0m-65 18h0m-8 14h0m-21-15h0m-19-20h0m-27 14h0m-28 5h0m-12-10h0m-51-11h0m-33 1h0m-3 33h0m-6-27h0m-44-6h0m-7 20h0m-6-24h0m-5 31h0m-6-30h0m-9 42h0m-62-20h0m-45-8h0m-38 22h0m-14-24h0m-5-12h0m163 74h0m92-22h0m13 8h0m204 5h0m-328 51h0" stroke="#21a99f" stroke-width="11.0" stroke-linecap="round" stroke-opacity="0.45" fill="none"/>
<ellipse cx="197.5" cy="185" rx="24.5" ry="6.8" fill="#9400d3" fill-opacity="1.0" filter="url(#bl1)"/>
<path transform="scale(.1)" d="M1854 1739h0m68-10h0m52-36h0m273 81h0m-86 16h0m-35-5h0m-41 12h0m-4-5h0m-8-30h0m-15 24h0m-1 5h0m-3-4h0m-16-13h0m-13-13h0m-6 38h0m-2-6h0m-7-24h0m-11 10h0m0 4h0m-9 7h0m0 0h0m-17 0h0m-16-20h0m-5 16h0m-6-5h0m-4 0h0m-25 15h0m-2-19h0m-17 17h0m-4-21h0m-33-31h0m-4 14h0m-5 38h0m-3-7h0m-4-3h0m-5 13h0m-12-10h0m-3-7h0m-62 8h0m-22 9h0m-79 2h0m-114 60h0m33-33h0m87 4h0m4 27h0m3-30h0m43-7h0m1 3h0m9-16h0m8 45h0m5-21h0m4 13h0m5-5h0m6-21h0m7 6h0m6 4h0m4 2h0m8-3h0m5 22h0m4-43h0m2 40h0m0-7h0m7 18h0m5-10h0m11-3h0m4 13h0m0-9h0m1-3h0m5-42h0m0 41h0m0-17h0m6 2h0m14 24h0m1-15h0m4-4h0m0 0h0m5 18h0m3-42h0m11 34h0m1 15h0m8-59h0m0 19h0m1 21h0m1-4h0m1-34h0m1 7h0m0 39h0m2-40h0m4 21h0m1-9h0m1 18h0m0 16h0m4-31h0m2-12h0m5 12h0m2 23h0m0-7h0m1 6h0m2-29h0m2 8h0m1 22h0m2-29h0m2-11h0m2-5h0m5 33h0m1-32h0m1 19h0m1 26h0m1-10h0m2-3h0m1 13h0m0-9h0m0 7h0m0-29h0m0 28h0m1-16h0m1 29h0m4-37h0m6 37h0m0-34h0m1-6h0m1-7h0m2 38h0m0 9h0m5 0h0m0-29h0m1 30h0m3-27h0m1-8h0m3 4h0m0 1h0m1-5h0m0 30h0m2 5h0m3-3h0m2-6h0m1 6h0m0-47h0m4 51h0m1-31h0m0-11h0m0-12h0m1-1h0m1 32h0m1-14h0m1 29h0m0 8h0m1-44h0m1-6h0m0 46h0m4-23h0m4 2h0m1-32h0m3 20h0m0 7h0m0 26h0m1 0h0m2-53h0m0 36h0m1 10h0m0-11h0m1 5h0m5 16h0m0-32h0m1 10h0m1 1h0m5 22h0m2-39h0m0 1h0m3 34h0m0-27h0m2-16h0m1 16h0m2-8h0m0-17h0m0 20h0m2 4h0m3 4h0m1 1h0m2-2h0m1-2h0m1 28h0m1-19h0m0-11h0m6 21h0m3-28h0m1-10h0m2 36h0m9-13h0m0 16h0m1-28h0m0 33h0m3 6h0m1-39h0m4 2h0m1-3h0m1 12h0m0-6h0m1 29h0m0 4h0m0-9h0m2-49h0m1 13h0m0 39h0m0-11h0m1-33h0m2 14h0m1-1h0m9 1h0m3 4h0m4 29h0m0-14h0m2 12h0m0-4h0m0-40h0m1 22h0m3-5h0m2 14h0m3-16h0m5 5h0m1 6h0m4 8h0m1 15h0m0-19h0m6-3h0m2-16h0m1-18h0m2 11h0m2-2h0m4 40h0m4-32h0m2 25h0m5-6h0m11 5h0m19-1h0m15-25h0m0 38h0m5-21h0m3-3h0m5-1h0m0 9h0m3-8h0m18-21h0m14 15h0m2 27h0m6 0h0m11 2h0m4-17h0m11 11h0m2-12h0m3-1h0m52-31h0m30 82h0m-89 5h0m-27-18h0m-2 3h0m-39 24h0m-2-12h0m-13-14h0m-2 26h0m-3-9h0m-1-15h0m-2 23h0m-2-30h0m-23 12h0m-1 36h0m-2-30h0m-1-7h0m-10 20h0m-6 0h0m-2-22h0m-2 11h0m-3 14h0m-6-9h0m-10-12h0m-3 9h0m-4-18h0m-1 11h0m0-9h0m-1 31h0m-2-26h0m-1 8h0m-1-17h0m-1 34h0m0-23h0m-4 22h0m-2 11h0m-3-13h0m-1-5h0m0 15h0m-1-46h0m0 4h0m-3 3h0m-7 27h0m-4-19h0m-1-11h0m-1 10h0m-1-17h0m-6 30h0m-3-4h0m-2-25h0m-7 23h0m-5-7h0m0 12h0m-1-9h0m-4-2h0m-1 21h0m-2-27h0m-5 29h0m0 5h0m-1 6h0m-3-24h0m-5-10h0m-1 5h0m-2 30h0m-6 1h0m-1-39h0m-1-15h0m-1 22h0m-1-18h0m0 0h0m-4 3h0m-1 30h0m-2-32h0m-4 12h0m0-16h0m0 2h0m-1 19h0m-2 18h0m-3-30h0m-1 4h0m-1-7h0m0 38h0m-1-33h0m-1 25h0m-3 11h0m-6-37h0m-4 21h0m-5 0h0m-4-19h0m-4 20h0m-3-29h0m0 35h0m-2-32h0m0-10h0m-4 26h0m0 13h0m-4-31h0m-3 32h0m-2-38h0m-1 7h0m0 0h0m-2 8h0m-1 26h0m-1-4h0m0-11h0m-1-22h0m-1 22h0m-2-3h0m-5-17h0m0 48h0m-4-20h0m-2-17h0m-2-8h0m-2 21h0m0-16h0m-1 0h0m-3-6h0m-2 27h0m-2-36h0m-2 3h0m-9 5h0m-1-7h0m-8 32h0m-1-26h0m-5 24h0m-2 3h0m-1-29h0m-1 39h0m-13-27h0m-5-16h0m-3 36h0m-8 6h0m-5-30h0m-1 15h0m-5 29h0m-4-2h0m-2-52h0m-6 30h0m-5 21h0m-11-28h0m-15-21h0m-33 22h0m-10-19h0m-7 29h0m-5 5h0m-8-28h0m-55 14h0m-92-14h0m315 63h0m9-14h0m5 43h0m12-33h0m47 8h0m9 0h0m12-19h0m16 22h0m17-20h0m6-4h0m18 45h0m43-37h0m16 15h0m5-24h0m43 7h0m35 33h0" stroke="#9400d3" stroke-width="11.0" stroke-linecap="round" stroke-opacity="0.6" fill="none"/>
<path transform="scale(.1)" d="M1872 1712h0m44 27h0m254 52h0m-45-25h0m-18 32h0m-8 1h0m-22-11h0m-14-5h0m-12-1h0m-20 0h0m-1 7h0m-4 8h0m-8-13h0m-29 9h0m-1-21h0m-3 21h0m-4-1h0m-4-10h0m0 15h0m-8 1h0m-20-4h0m-5 2h0m-1-11h0m-1 10h0m-29 3h0m-21-25h0m-4 16h0m-33 8h0m-10-9h0m-11-21h0m-33 1h0m-24 25h0m-11-39h0m-1-9h0m-20 32h0m-61 6h0m-59 57h0m73 16h0m15-51h0m18 44h0m2-7h0m32-25h0m13 10h0m5 25h0m16-25h0m3-23h0m0 42h0m3-22h0m4 27h0m3-27h0m3 35h0m3-8h0m0-35h0m2-8h0m4 12h0m8 7h0m12 14h0m1-2h0m8 20h0m0-12h0m0 6h0m1-25h0m2 16h0m2 4h0m4 4h0m2-52h0m2 40h0m3 4h0m1-12h0m0 21h0m7-47h0m3 2h0m2 20h0m1-18h0m1 46h0m1-28h0m5 23h0m7-17h0m1 6h0m0 0h0m3 11h0m1-26h0m3 17h0m1-16h0m1 9h0m0 15h0m1-8h0m1 10h0m2-22h0m1-30h0m0 0h0m1 13h0m1 4h0m0 20h0m1 16h0m4 6h0m1-34h0m1-9h0m0 24h0m3 7h0m1-23h0m3-19h0m2 34h0m3 20h0m1-6h0m3-35h0m1 9h0m1-6h0m2 9h0m0 8h0m0 6h0m1 10h0m1-39h0m0 15h0m1-6h0m1 20h0m3-17h0m1 30h0m4-20h0m1 18h0m0-21h0m0-7h0m5 16h0m1-43h0m3 36h0m4 6h0m3 11h0m0-38h0m1 44h0m0-24h0m0-22h0m2 44h0m1-8h0m1-9h0m4-32h0m2 20h0m1 26h0m8 2h0m3-9h0m3 10h0m4-55h0m2-1h0m2 40h0m2-13h0m0 9h0m8-23h0m0 22h0m1-1h0m1-12h0m2 4h0m2 8h0m2-13h0m2 35h0m1-34h0m0 6h0m2 25h0m2 2h0m2-17h0m1-26h0m0 7h0m1-17h0m0 14h0m1 2h0m2 15h0m4-28h0m1 44h0m0-36h0m1 35h0m1-10h0m0 7h0m1-1h0m1-13h0m0-8h0m3 16h0m2 12h0m0-43h0m7 27h0m6 3h0m9-21h0m4-5h0m0 29h0m1 14h0m1-50h0m4 46h0m2-3h0m1 1h0m0-17h0m1 16h0m5-22h0m2 5h0m2 13h0m0-7h0m6 0h0m0-6h0m2-30h0m0 9h0m7 14h0m0 24h0m2 6h0m4-7h0m3-44h0m5 27h0m1 22h0m4-20h0m1 17h0m1-8h0m4-36h0m1 36h0m18-41h0m1 32h0m0 17h0m2-17h0m3-24h0m1 33h0m2-12h0m4 6h0m4-14h0m3 21h0m0 0h0m15-2h0m4-16h0m1-2h0m1 15h0m1 4h0m2 14h0m3-36h0m10-5h0m3 21h0m16-15h0m17-20h0m10 33h0m10-2h0m71 27h0m44-37h0m-61 59h0m-88-7h0m-8 26h0m-24-19h0m-1-20h0m-17 5h0m-3 8h0m-10 23h0m-11-33h0m-15 31h0m-2-30h0m0 7h0m-1 10h0m-2 10h0m-13-24h0m-3-7h0m-6 46h0m-7-15h0m-2-30h0m-4 27h0m-1-26h0m-3 39h0m-6-30h0m-1 17h0m-1 25h0m0-51h0m0 7h0m-5 0h0m-3 29h0m-1 4h0m0-23h0m-2 5h0m-1-4h0m-2 29h0m-1-16h0m-3 12h0m-4-44h0m-2 33h0m-1 6h0m-1-1h0m-1 8h0m-6-44h0m-2 22h0m0-14h0m-1-6h0m-7 7h0m-11 2h0m0 25h0m-9-35h0m-1 41h0m-3-17h0m-4 10h0m-3-26h0m-2-7h0m0 18h0m-1-20h0m-1 50h0m-2-49h0m-5-5h0m-1 3h0m-9 9h0m-2 34h0m-3-13h0m0-4h0m-5-6h0m-2-9h0m-4-11h0m-1 2h0m-1 20h0m-1-11h0m-5 14h0m0 10h0m-2-25h0m-2-8h0m0 9h0m-1-7h0m-1 0h0m0 44h0m-4 3h0m0-53h0m0 5h0m-5-1h0m-1 30h0m0-12h0m-4-8h0m0 16h0m-2-12h0m-3 38h0m-1-55h0m-3 23h0m-1 12h0m-2-11h0m-1-11h0m0 3h0m-3-16h0m-2 21h0m0-19h0m-2 23h0m-2-22h0m-1-1h0m-10 15h0m0-19h0m-2 31h0m-5-20h0m-1-10h0m-1 15h0m-2-12h0m-3 29h0m-6-27h0m-2-2h0m-3 8h0m-5-12h0m-2 15h0m-4 3h0m-1 19h0m-1-36h0m-5 40h0m-1-40h0m-1 4h0m-3 41h0m-8-30h0m-7 24h0m-2-10h0m0-9h0m-5-18h0m-5 2h0m-1 43h0m-6-15h0m-2-13h0m-2-20h0m-4 11h0m-3 14h0m0 26h0m-10-31h0m0 12h0m0 0h0m-8-19h0m-8-12h0m-7 3h0m-9 13h0m-3-17h0m-18 31h0m-3 0h0m-37 23h0m-12-44h0m-28 45h0m-10-9h0m-117 1h0m297 23h0m17 4h0m22 8h0m21-15h0m5-5h0m3 31h0m15-24h0m12-7h0m18 35h0m2-11h0m19-23h0m13 4h0m0 25h0m13-13h0m18-3h0m52 28h0m135-40h0" stroke="#9400d3" stroke-width="11.0" stroke-linecap="round" stroke-opacity="0.6" fill="none"/>
<path transform="scale(.1)" d="M2181 1792h0m-12-6h0m-13-35h0m-30 17h0m-11 21h0m-8 10h0m-11-59h0m-6 25h0m-24 21h0m-14 1h0m-14-11h0m-4-9h0m-3 23h0m-10-36h0m-9 44h0m-7-24h0m-1-3h0m-5-3h0m-12 29h0m-11-1h0m-1-1h0m-14-5h0m-3-3h0m-13 9h0m-3-30h0m-3 31h0m-9 0h0m-5-6h0m-2 1h0m-4-51h0m-10 54h0m-13 1h0m-9-22h0m-4-1h0m-5 11h0m-2-8h0m-8 16h0m0 0h0m-6 5h0m-20-30h0m-10 23h0m-7-11h0m-8-33h0m-4 49h0m-3-25h0m-43 23h0m-2-49h0m-6 48h0m-37-24h0m-32 25h0m-44-26h0m-19-18h0m-147 51h0m217 33h0m3 7h0m1 19h0m31-7h0m9 7h0m21-9h0m1-22h0m4 21h0m1-23h0m1 12h0m4-7h0m8 14h0m17 10h0m4 2h0m1-21h0m6 19h0m3-20h0m2-34h0m8 40h0m3-29h0m0 35h0m0-34h0m1 19h0m18-9h0m0 18h0m1-21h0m4 6h0m1 3h0m1 15h0m0-35h0m2 44h0m0-44h0m0 21h0m5 29h0m4-9h0m2 8h0m1-33h0m2-18h0m1 13h0m4 21h0m1-9h0m1-31h0m4 6h0m2 13h0m2-8h0m0 21h0m5 21h0m8-5h0m2-13h0m0 6h0m1 4h0m1-11h0m1 14h0m2-21h0m6-24h0m1 12h0m0 16h0m0-29h0m0 23h0m3-22h0m0 43h0m2-1h0m1-28h0m0 21h0m4 5h0m0 9h0m2 3h0m0-29h0m0 8h0m1 8h0m0 4h0m2-1h0m0 10h0m0-6h0m1-48h0m10 2h0m2 15h0m2 30h0m1-25h0m0-17h0m1 22h0m7 9h0m4 10h0m1-14h0m1 13h0m0 5h0m4-2h0m1-46h0m0 49h0m2-8h0m5 5h0m1-32h0m1 36h0m1-31h0m0-3h0m2-18h0m2 43h0m2-34h0m1 41h0m1-13h0m3-17h0m1 8h0m3 15h0m0-2h0m6-10h0m1-19h0m2 25h0m2-12h0m1-7h0m1 39h0m2-5h0m2-45h0m8 48h0m0-51h0m1 44h0m1-15h0m1 4h0m3-8h0m0 28h0m2-10h0m5 2h0m1-25h0m4-15h0m1 32h0m0-11h0m5-16h0m0 15h0m2-5h0m3 31h0m0-22h0m1 14h0m0 4h0m2-42h0m5 17h0m2-7h0m1 28h0m4-6h0m1-39h0m0 10h0m1 8h0m1 14h0m4 12h0m2-19h0m4-7h0m1 36h0m5 1h0m3-35h0m2-1h0m0 19h0m8 12h0m2 1h0m2-1h0m0-47h0m1 19h0m0 22h0m10 10h0m1-7h0m1-12h0m0-24h0m2-9h0m1 13h0m2-18h0m1 38h0m8 8h0m1-19h0m1-24h0m2 42h0m5-27h0m3 13h0m9 8h0m4-19h0m11 30h0m34-29h0m2 32h0m3-24h0m5 0h0m52 11h0m2-8h0m16-4h0m117 24h0m78-25h0m-130 33h0m-10 40h0m-89-17h0m-10 16h0m-15 9h0m-2-6h0m-6-39h0m-7 23h0m-3-2h0m-3 0h0m-11 0h0m-5 15h0m-7 4h0m-2-30h0m-8-8h0m-4 35h0m0 15h0m-14-48h0m0-2h0m0 6h0m-5 37h0m0-43h0m-13 26h0m-1-30h0m0 22h0m-9-20h0m-1 29h0m-8-20h0m-6 6h0m-5-8h0m-2-7h0m-5 1h0m-5 30h0m-5-7h0m-3 25h0m-1-39h0m-4 23h0m-7 12h0m-1-41h0m-2-3h0m-1-5h0m0 21h0m-1 5h0m-1-3h0m-1 26h0m-4-9h0m0-31h0m0 21h0m-5 0h0m-4-28h0m-7 42h0m-2-42h0m-2 24h0m0 2h0m-1 29h0m-1-43h0m-4 28h0m-4-33h0m-3 3h0m0 18h0m-5 16h0m-2 11h0m-1-33h0m-5-23h0m-9 43h0m-2-17h0m-2-8h0m-3-5h0m-1 1h0m-3 41h0m-1-37h0m-2-19h0m-1 35h0m-1 10h0m0-7h0m0 5h0m-1-15h0m-6 4h0m-3 8h0m-4 6h0m-2-2h0m-4-37h0m-2 30h0m-1-18h0m-2 7h0m0 5h0m-3-19h0m-2 34h0m-1-28h0m0 4h0m-2-15h0m-2-4h0m-3 19h0m-1-12h0m-1 44h0m-2-36h0m-2 22h0m-5-23h0m-3-17h0m0 35h0m-13-23h0m-1 11h0m-5 11h0m-1 8h0m0-34h0m-1-2h0m-1-2h0m-2 12h0m0-5h0m-1 38h0m-2-37h0m-2-1h0m-6 29h0m-5-33h0m-3 52h0m0-15h0m-7-30h0m-16-2h0m-1-3h0m-3 40h0m-4-46h0m0 56h0m-1-17h0m-5-42h0m-4 53h0m-8-52h0m-3 19h0m-5 2h0m-1-22h0m-6 17h0m-2 38h0m-3-37h0m-2 19h0m-15 2h0m-10-36h0m-1 37h0m-16-13h0m-14-10h0m-3-11h0m-4 18h0m-7 20h0m89 18h0m12 9h0m129 9h0m6-17h0m9 10h0m7 31h0m29-15h0m43-17h0m59-1h0m14 23h0m93-33h0" stroke="#9400d3" stroke-width="11.0" stroke-linecap="round" stroke-opacity="0.6" fill="none"/>
<path transform="scale(.1)" d="M2253 1419h0m-232 8h0m-183 2h0m-36-13h0m-60 66h0m535-7h0m-34 76h0m-250-21h0m-9-28h0m-176 35h0m31 61h0m103 16h0m248 1h0m73-51h0m-140 99h0m-183-42h0m-152 53h0m-14-43h0m49 87h0m99 4h0m99-16h0m58 28h0m42-39h0m119 5h0m32 13h0m-163 46h0m-148 0h0m-139-18h0m-84 112h0m228-52h0m104 27h0m39 22h0m134-46h0m30 21h0m-209 35h0m-105 41h0m-183 12h0m-33 41h0m111 4h0m86-33h0m128-1h0" stroke="#c090e0" stroke-width="11.0" stroke-linecap="round" stroke-opacity="0.35" fill="none"/>
<path transform="scale(.1)" d="M1767 1407h0m11 66h0m59-13h0m50 12h0m1 17h0m162 0h0m48 5h0m97-6h0m-432 54h0m-79-25h0m24 54h0m395-10h0m127 64h0m-197 37h0m-35-11h0m-78 8h0m-51-20h0m-7 29h0m-85-39h0m-89 46h0m-7 9h0m380 8h0m47 34h0m-275 67h0m-107-2h0m61 52h0m48 5h0m-142 102h0m349 1h0m6-24h0" stroke="#c090e0" stroke-width="11.0" stroke-linecap="round" stroke-opacity="0.35" fill="none"/>
<path transform="scale(.1)" d="M1926 1426h0m-197-6h0m-8-4h0m213 68h0m27 12h0m117 42h0m-109-20h0m-26 29h0m-25-26h0m-61 7h0m-70 9h0m248 75h0m65-20h0m104 51h0m-393 9h0m-71-6h0m107 46h0m292 32h0m45-34h0m106 63h0m-456-4h0m-27 34h0m333 46h0m160 81h0m-90-40h0m-148 41h0m-28-18h0m-18-22h0m-25 16h0" stroke="#c090e0" stroke-width="11.0" stroke-linecap="round" stroke-opacity="0.35" fill="none"/>
<ellipse cx="313.4" cy="158.9" rx="17.5" ry="6.3" fill="#f8cd07" fill-opacity="1.0" transform="rotate(2 313.4 158.9)" filter="url(#bl1)"/>
<path transform="scale(.1)" d="M3293 1535h0m-12 24h0m-4-9h0m-26 3h0m-39 5h0m-16-4h0m-20-25h0m-5-2h0m-2 20h0m-4-8h0m0 7h0m-6 11h0m0-5h0m-9 4h0m-6-20h0m-5 2h0m-9 13h0m-7-2h0m-7 6h0m0-20h0m-15 6h0m-11 16h0m-1-14h0m-2 12h0m-11-32h0m-3 36h0m-4-13h0m-11 9h0m-10-25h0m-3 21h0m-3 8h0m-2-22h0m-12 20h0m-12-9h0m-6-4h0m-80 3h0m-68 24h0m14 48h0m85-36h0m4-12h0m12 12h0m1 0h0m3 19h0m18-35h0m7 11h0m19 31h0m0-14h0m1-28h0m8 49h0m0 2h0m2-23h0m1-15h0m1 25h0m17-4h0m4 8h0m0-6h0m1-6h0m4-10h0m0-17h0m2 47h0m5-38h0m2-17h0m3 54h0m5-45h0m2 40h0m1-22h0m0-5h0m2 20h0m0-9h0m0-33h0m3-1h0m1 7h0m1 31h0m0-29h0m1 12h0m1 18h0m2 13h0m5-19h0m1 18h0m0-48h0m3 15h0m1 37h0m2-16h0m7 12h0m1-30h0m0 6h0m0-25h0m2 8h0m3 7h0m0 14h0m1 5h0m0-15h0m1 27h0m2-47h0m3 36h0m1 8h0m1-35h0m1-7h0m2 36h0m0-30h0m2 42h0m0 5h0m1-17h0m2 8h0m4-5h0m0-41h0m2 24h0m2 27h0m0-20h0m3-20h0m1 35h0m2-23h0m7 28h0m1-30h0m1-6h0m1 8h0m2 16h0m2 7h0m1-23h0m0-6h0m7 9h0m0 10h0m1-21h0m2 5h0m0 10h0m6 7h0m1 19h0m0-35h0m0 11h0m1-23h0m0 3h0m2 33h0m0 4h0m2-44h0m3 36h0m0-24h0m3 17h0m1 11h0m2-42h0m2 20h0m0-24h0m2 11h0m6 47h0m0-12h0m2-43h0m1 1h0m1 16h0m2 37h0m3-17h0m3-10h0m1-18h0m1-12h0m0 32h0m0-33h0m5 44h0m0-33h0m7 34h0m2-45h0m3 47h0m6 5h0m6-47h0m10 46h0m6-32h0m9 20h0m4 14h0m3-30h0m11 3h0m0-13h0m3-5h0m1 47h0m13-8h0m11 1h0m26-33h0m1-2h0m-25 64h0m-39-12h0m-7-4h0m-6 9h0m-48 4h0m-2 4h0m-2-5h0m-16-7h0m-17 30h0m-11-19h0m-6-7h0m-1 14h0m-5 6h0m-2-21h0m-17 2h0m-2 2h0m-16-10h0m-12 5h0m-2 33h0m0-38h0m-25-3h0m-14 26h0m-11 12h0m-2-21h0m-6-10h0m-45-5h0m-43 7h0m-12-8h0m186 93h0" stroke="#f8cd07" stroke-width="11.0" stroke-linecap="round" stroke-opacity="0.6" fill="none"/>
<path transform="scale(.1)" d="M3326 1552h0m-20-2h0m-51 7h0m-65-20h0m-7-12h0m-5 31h0m-6-21h0m-9 4h0m-3 7h0m-24 13h0m-3-40h0m-9 34h0m-6-32h0m-1 28h0m-3-15h0m-4-1h0m-2 26h0m-8-3h0m-1-5h0m-11-5h0m-3-3h0m-13 10h0m-7-21h0m-17 10h0m-2 12h0m-5-1h0m-4-32h0m-5 6h0m-15 28h0m-21 4h0m-11-11h0m-15 7h0m-42-38h0m-17 37h0m15 45h0m5 9h0m21-12h0m7 18h0m7-30h0m12-15h0m15 21h0m0-30h0m6 55h0m29-44h0m3 41h0m0-46h0m0 17h0m4 24h0m4 10h0m1-6h0m1-29h0m6 31h0m2-16h0m0-29h0m2 11h0m1 8h0m2-19h0m2-6h0m1 25h0m1 14h0m2-6h0m10-6h0m0 15h0m0 12h0m2-52h0m0 48h0m6 3h0m4-8h0m0-21h0m1 15h0m0-39h0m2 36h0m0-1h0m2-2h0m2 0h0m3 22h0m0-34h0m2-10h0m2 21h0m1-8h0m1 1h0m7-22h0m0 28h0m5-12h0m3 27h0m1-33h0m0 29h0m0-40h0m1 54h0m3-35h0m1-4h0m2 31h0m2-45h0m1 11h0m1-14h0m4 4h0m0 26h0m1-32h0m0 21h0m4-19h0m3 32h0m0-17h0m1 9h0m1-9h0m2 12h0m1-18h0m5-4h0m0-5h0m0 7h0m0 28h0m0-27h0m2 22h0m0 11h0m0-30h0m5 35h0m0 9h0m1-3h0m2-10h0m0-9h0m1-32h0m1 38h0m1-7h0m0-3h0m2-20h0m0 30h0m2-8h0m0 20h0m1-11h0m3 0h0m0 9h0m1-31h0m3 31h0m1-12h0m1-14h0m5-20h0m0 48h0m0-5h0m5-11h0m1-4h0m0 0h0m3 20h0m3-8h0m1-39h0m0 44h0m1-20h0m5-5h0m2 20h0m3-18h0m0 23h0m1-32h0m1 5h0m2 31h0m1-6h0m5-41h0m7 46h0m2-40h0m7 32h0m8-21h0m2 10h0m0 3h0m1 15h0m0-40h0m0 19h0m3-14h0m3 12h0m1-15h0m7 34h0m0-16h0m1 18h0m7-45h0m4 38h0m14 5h0m2-36h0m12 20h0m4 21h0m0-19h0m10 23h0m8-19h0m7 8h0m2-37h0m10 28h0m9-7h0m12-11h0m39 47h0m-110 13h0m-33-15h0m-3 6h0m-10 20h0m-2-16h0m-43 16h0m-6-20h0m-17-5h0m-13 7h0m-13-4h0m-8-8h0m-1 18h0m-15-4h0m0-7h0m-17 1h0m-7-4h0m-9 14h0m-27-7h0m-5 4h0m-11-12h0m-11 3h0m-21 25h0m-26-25h0m-91 12h0" stroke="#f8cd07" stroke-width="11.0" stroke-linecap="round" stroke-opacity="0.6" fill="none"/>
<path transform="scale(.1)" d="M3342 1527h0m-47 32h0m-41-10h0m-18 3h0m-1-13h0m-7 3h0m-3 12h0m-42-28h0m-19 1h0m-2 27h0m-1 1h0m-2-13h0m-15 6h0m-7 0h0m-11-14h0m-7 8h0m-6-19h0m-9 7h0m-2 12h0m-7 5h0m-32 1h0m-3 5h0m-5-3h0m-5-29h0m-23 25h0m-3 6h0m-23 3h0m-5-26h0m-40 13h0m-25 15h0m-29 29h0m58 24h0m2 6h0m21-24h0m5 0h0m2-16h0m2 13h0m2-28h0m2 24h0m22-4h0m1 7h0m12-8h0m23 34h0m1-6h0m0-1h0m5-7h0m4-1h0m3-10h0m4-25h0m1 4h0m1 43h0m2-9h0m0-32h0m1 44h0m1-46h0m3 0h0m1 6h0m0 31h0m6-10h0m1-21h0m1 24h0m0-28h0m1-9h0m3 1h0m3 28h0m0-27h0m1 5h0m0 9h0m7 7h0m2 32h0m5-6h0m0-29h0m0 13h0m0-6h0m1-13h0m1 31h0m2-17h0m1-2h0m7-27h0m1 52h0m0-28h0m0 1h0m1-24h0m2 35h0m2-8h0m10 26h0m2 5h0m1-37h0m0-5h0m1-11h0m2 10h0m3-7h0m1 39h0m0-29h0m0-16h0m2 34h0m1 4h0m1-4h0m4-25h0m3 43h0m1-20h0m5-7h0m1-27h0m1 22h0m1-11h0m0 43h0m9-43h0m2 36h0m1-4h0m1 8h0m2-12h0m3-4h0m0-9h0m2-27h0m4 35h0m0-7h0m4 8h0m2-28h0m2 8h0m4 5h0m0 19h0m1 15h0m2-41h0m10-4h0m2 47h0m6-15h0m3-16h0m3 6h0m0 24h0m1-13h0m1-32h0m5 46h0m3-14h0m10 10h0m1-18h0m1 11h0m0-13h0m1-24h0m0 48h0m5-40h0m0 33h0m2-31h0m1-11h0m4 40h0m0 5h0m2-34h0m7 20h0m10-6h0m20-28h0m16 79h0m-12-14h0m-43 13h0m-5-11h0m-19-1h0m-8 4h0m-10-2h0m-3-12h0m-1 35h0m-8 8h0m-9-43h0m0 51h0m-4-40h0m-8-10h0m-16 1h0m-15 7h0m-1-10h0m-2 14h0m-1 21h0m-16-34h0m0 8h0m-15-9h0m0 38h0m-5-20h0m-2 0h0m-22-8h0m-8-10h0m0 24h0m-3-24h0m-4 5h0m-6 23h0m-17-17h0m-3-4h0m-6 11h0m-13-5h0m-23-6h0m-10-3h0m-24 24h0m-29-26h0m211 58h0" stroke="#f8cd07" stroke-width="11.0" stroke-linecap="round" stroke-opacity="0.6" fill="none"/>
<path d="M291.5 166.5L300.0 165.5L315.0 165.5L328.0 166.0L334.0 168.0L333.0 171.5L320.0 171.5L305.0 170.5L293.0 169.5Z" fill="#21a99f" fill-opacity="1.0" filter="url(#bl1)"/>
<path transform="scale(.1)" d="M3329 1676h0m-41-9h0m-7 12h0m-4-36h0m-8 23h0m-27 7h0m-13-1h0m-15-3h0m-1-9h0m-10 12h0m-14-7h0m-9 8h0m-2 2h0m-6-5h0m-9 7h0m-6-2h0m-4-1h0m-2-9h0m-13 4h0m-1 6h0m-8-10h0m-2 7h0m-5-24h0m-9 14h0m-10-4h0m-9-7h0m-2 11h0m-7-10h0m-1 18h0m-13 3h0m0 0h0m-1-14h0m-1 10h0m-1 10h0m0-20h0m-3 11h0m-6 7h0m-18-21h0m-2 2h0m-4 18h0m-36-26h0m-3 14h0m-44-12h0m-58 11h0m11 23h0m5 9h0m0-10h0m66-3h0m4 17h0m1-10h0m4 6h0m12 3h0m56-7h0m1-6h0m26-3h0m2 16h0m8-18h0m0 22h0m7 4h0m11-21h0m0 11h0m10 10h0m12-19h0m0 6h0m5-3h0m5-2h0m1 15h0m11-11h0m0 10h0m2 17h0m4-27h0m2 6h0m8-12h0m7 5h0m6 6h0m1 2h0m3-18h0m5 2h0m1 5h0m25 18h0m10-16h0m28 34h0m21-32h0m5 17h0m14-8h0m2 5h0m14-23h0m9 17h0" stroke="#21a99f" stroke-width="11.0" stroke-linecap="round" stroke-opacity="0.6" fill="none"/>
<path transform="scale(.1)" d="M3240 1653h0m-16 21h0m-1-25h0m-5 22h0m-8-6h0m-1 0h0m-9 10h0m-4-8h0m-20 8h0m-13 2h0m-10 2h0m-3-24h0m-2 13h0m0-5h0m-2 7h0m-2-4h0m-17-12h0m-12-12h0m-7 21h0m-19 8h0m-7 2h0m-9-10h0m-2 6h0m-6-1h0m-2-20h0m-4 16h0m-13-1h0m-2 4h0m-2 5h0m-11-42h0m-13 48h0m-8-8h0m-14-16h0m-3 25h0m-6-32h0m-5 22h0m-3 0h0m-70 19h0m51-6h0m11 18h0m7-16h0m8 15h0m0-11h0m1 41h0m5-48h0m22 6h0m8 0h0m14 23h0m10-20h0m3-9h0m0 6h0m7-1h0m1 3h0m2 38h0m18-24h0m10-1h0m0 11h0m3-14h0m4-12h0m2 0h0m0 3h0m1-8h0m0 28h0m1-20h0m1-5h0m16-4h0m2 6h0m1 12h0m2-14h0m2-3h0m8 5h0m8 8h0m3-12h0m11-2h0m2 1h0m18 11h0m0 0h0m2 6h0m5 14h0m7-27h0m6 16h0m0-1h0m7 10h0m1-19h0m0 24h0m3-27h0m4 10h0m2 9h0m17 19h0m2-30h0m5 20h0m8-26h0m3 10h0m7 19h0m14-23h0m13-7h0m2 22h0m3-25h0m6 7h0m6 4h0m24-3h0m6 9h0m3-11h0m15 22h0m65-17h0" stroke="#21a99f" stroke-width="11.0" stroke-linecap="round" stroke-opacity="0.6" fill="none"/>
<path transform="scale(.1)" d="M3261 1667h0m-16-10h0m-1 3h0m-27 12h0m-4 7h0m-2-25h0m-18 13h0m-6 11h0m-2-12h0m-7 13h0m-21 0h0m-1-3h0m-4-13h0m-3 15h0m-7-5h0m-10 5h0m-11 0h0m-12-5h0m-8 6h0m-6-1h0m-2-13h0m-3 3h0m-4-21h0m-1 22h0m-2-4h0m-3 4h0m-1 0h0m-1-29h0m-7 37h0m-10-20h0m-12 12h0m-11-18h0m-14 28h0m-3-33h0m0 27h0m-13 4h0m-14-27h0m-25 22h0m-25-20h0m-3 2h0m-80 9h0m18 27h0m51-8h0m7 0h0m0 2h0m5 4h0m12 4h0m6 1h0m8-4h0m10 9h0m17-10h0m21-1h0m2 5h0m31-3h0m3-7h0m1 1h0m2 11h0m9-6h0m2 3h0m13 0h0m4-4h0m3 1h0m6 12h0m7-11h0m7-6h0m1-3h0m8 13h0m1-2h0m0 17h0m4-21h0m3 8h0m1-11h0m0 19h0m0 7h0m6-14h0m1 12h0m7-21h0m3 9h0m0-1h0m15 36h0m4-38h0m11 3h0m0-5h0m1 9h0m1 1h0m4 1h0m2-16h0m0-4h0m7 25h0m4-25h0m8 29h0m3-7h0m2 11h0m10 12h0m8-16h0m3-23h0m1-3h0m7 18h0m14-6h0m0 9h0m8-1h0m12-17h0m8-3h0m10 9h0m5 5h0m35-11h0m11 3h0" stroke="#21a99f" stroke-width="11.0" stroke-linecap="round" stroke-opacity="0.6" fill="none"/>
<ellipse cx="322.9" cy="178.5" rx="11.8" ry="9.6" fill="#9400d3" fill-opacity="1.0" filter="url(#bl1)"/>
<path transform="scale(.1)" d="M3294 1649h0m-178 73h0m9-9h0m21 20h0m4-15h0m15-13h0m10 18h0m4 8h0m0-13h0m6-15h0m4 36h0m4-17h0m1-37h0m4 51h0m4-8h0m1-14h0m4-1h0m5 15h0m7-40h0m1 40h0m1 9h0m5-8h0m6-8h0m4 2h0m2-37h0m9 49h0m0-8h0m1 2h0m9-9h0m6-26h0m11 33h0m4 0h0m4-24h0m3 14h0m3-30h0m2-4h0m0 49h0m10-1h0m0 3h0m16-43h0m31 33h0m10-14h0m32 50h0m-56-4h0m-4-12h0m-6 21h0m-1 24h0m-17-13h0m-1-2h0m-6 15h0m-6-42h0m-4 18h0m-1-8h0m-2 20h0m-3-27h0m-1-5h0m0 40h0m-1-22h0m-3-15h0m0 44h0m-3-32h0m-5 26h0m-5 12h0m-3-11h0m-1-28h0m-3 18h0m0 8h0m-4-3h0m-1-40h0m-1 50h0m0-11h0m-4 2h0m0-23h0m0 32h0m-1 5h0m0-27h0m-1-21h0m-1 50h0m-4-55h0m-1 26h0m-1-18h0m0 46h0m-1-58h0m0 19h0m-1-11h0m0 40h0m-1-28h0m0 0h0m-6 30h0m-3-21h0m-2-13h0m-5-6h0m0 3h0m-3-3h0m-2 0h0m-1 17h0m-1 30h0m-1-14h0m0-38h0m0 30h0m-2 23h0m-3-11h0m0 7h0m-2 4h0m0-49h0m-3 47h0m-1-24h0m0-24h0m0 1h0m-1 39h0m-2-20h0m-1-3h0m-7 5h0m0 9h0m-2-2h0m-6-28h0m0 20h0m-8 27h0m-4-28h0m-3-16h0m-2 42h0m-1-10h0m-2 0h0m-7-15h0m0-13h0m-1 26h0m-5-5h0m-7 22h0m-3-34h0m-5-12h0m-6 10h0m-9 15h0m-3 20h0m-3-29h0m-28 79h0m50-6h0m3 2h0m17-22h0m11-11h0m7-9h0m0 16h0m3 31h0m0-12h0m0-29h0m5 12h0m4 25h0m1-5h0m3-4h0m5 21h0m1-49h0m7 6h0m1-12h0m2-2h0m1 26h0m1-25h0m1 29h0m3-28h0m3-2h0m3 12h0m4 5h0m1-17h0m1 34h0m3 24h0m2-37h0m2 8h0m1-10h0m4-12h0m8 41h0m1-36h0m6 14h0m5 22h0m1-47h0m3 29h0m1-11h0m0 34h0m1-12h0m3-41h0m5 2h0m11 56h0m2-21h0m2-34h0m4 25h0m1-28h0m4 2h0m15 50h0m1-41h0m7 18h0m21-12h0m-30 44h0m-33 3h0m-7 49h0m-18-27h0m-19-23h0m-14 29h0m-13 8h0m-43 17h0m-3-47h0m-12-3h0" stroke="#9400d3" stroke-width="11.0" stroke-linecap="round" stroke-opacity="0.6" fill="none"/>
<path transform="scale(.1)" d="M3239 1665h0m-4 12h0m-50-46h0m-16 44h0m-7-6h0m-25 66h0m27 0h0m13-9h0m2 1h0m15-12h0m12-7h0m3-1h0m1 19h0m5 6h0m0-8h0m0-15h0m8 11h0m1 18h0m2-27h0m8 1h0m1 5h0m7 19h0m4 2h0m9-54h0m8 46h0m2 2h0m3-52h0m13 59h0m2-2h0m3-55h0m6 26h0m19 6h0m1 23h0m33-1h0m56 23h0m-50 31h0m-6-15h0m-1-16h0m-22 15h0m-4 21h0m-6-1h0m-4-5h0m-1-10h0m-1 8h0m-1-27h0m-4-8h0m-3 44h0m-3-11h0m0-44h0m-1 19h0m0-18h0m-1 25h0m-2 16h0m-2 15h0m-1-13h0m-3 4h0m-1-9h0m-2-1h0m-5-10h0m-3-1h0m-1-22h0m0 39h0m0-30h0m-2-1h0m-1-9h0m0 28h0m-2-25h0m-2 22h0m-2 14h0m-2-4h0m-1-26h0m0 37h0m-2 3h0m-4-1h0m0-31h0m-2 36h0m-6-45h0m-3 41h0m-2-20h0m-1 15h0m-2 7h0m-5-35h0m-2 19h0m-1-15h0m-1 33h0m-1-44h0m-1 10h0m0-23h0m-1 48h0m-7-19h0m-8-22h0m-2 4h0m-1 32h0m-3 3h0m-1 10h0m-2-12h0m-1-14h0m0-25h0m0 16h0m-2-5h0m0 2h0m-2-9h0m-1 37h0m-1 12h0m0-36h0m-2 36h0m-1-5h0m-1 1h0m-1-46h0m0 26h0m-5 7h0m-1-6h0m-9-28h0m0 19h0m-1 3h0m-4 9h0m-1-38h0m-3 34h0m0 6h0m-10-40h0m-4 47h0m0 6h0m-6-25h0m-1 20h0m-6 7h0m-4-52h0m-1 38h0m-5-31h0m0 18h0m-7 13h0m-3 10h0m-18 1h0m-5 15h0m13 37h0m4-18h0m7-25h0m8 7h0m1 16h0m7-1h0m7-4h0m17-14h0m6 35h0m1-12h0m1-11h0m7 25h0m3-4h0m0-25h0m5 17h0m1-21h0m0 7h0m12-2h0m0-10h0m0 29h0m8 2h0m1-28h0m3 2h0m7-4h0m1 50h0m1-38h0m3 4h0m0 24h0m0-2h0m3-14h0m2 10h0m8-37h0m1 56h0m0-33h0m5 23h0m1-12h0m2-31h0m2 20h0m2-23h0m1 12h0m0 6h0m1-6h0m7-11h0m1 2h0m1 43h0m2-48h0m3 2h0m1 12h0m3-14h0m5 18h0m0 40h0m9-24h0m2-27h0m0-5h0m6 50h0m17-40h0m26 31h0m1-24h0m3 5h0m6 0h0m18-20h0m7 10h0m5 9h0m1 19h0m-46 21h0m-19 3h0m-23 3h0m-16-8h0m-26 6h0m-14 6h0m0 20h0m-33-34h0m-4 16h0m-26 12h0m-6-27h0m-72 2h0" stroke="#9400d3" stroke-width="11.0" stroke-linecap="round" stroke-opacity="0.6" fill="none"/>
<path transform="scale(.1)" d="M3193 1671h0m-96 2h0m4 10h0m2 25h0m69 7h0m3-20h0m1 1h0m0 43h0m8-17h0m4 7h0m4-39h0m1 44h0m5 2h0m3-23h0m2 1h0m12-2h0m8 10h0m0-32h0m16-6h0m0 54h0m4-35h0m1 21h0m7 14h0m5-12h0m14-28h0m5 23h0m24-29h0m2 46h0m4-3h0m1-20h0m11-30h0m29 45h0m19 14h0m-21 29h0m-10 19h0m0-22h0m-17 24h0m-10-15h0m-1 4h0m-14-12h0m-4-24h0m0 16h0m-2-13h0m0 23h0m-3-22h0m-1 5h0m-1 6h0m-1 34h0m-2-49h0m-2 29h0m-2-27h0m-2 0h0m0 11h0m0 29h0m-1-21h0m-2-10h0m-1-1h0m0 19h0m-6-16h0m-3 23h0m0 8h0m-3 2h0m0 1h0m0 5h0m-6-46h0m0 29h0m-1 2h0m0 14h0m-2-54h0m-3 49h0m-7-16h0m-2 21h0m0 1h0m-1-33h0m-3 22h0m-1-13h0m0-8h0m-3-4h0m-3 14h0m0-4h0m-4-27h0m-2 35h0m-1-29h0m0 23h0m-2 5h0m-2 15h0m0-21h0m0 23h0m-7-36h0m-5 19h0m-2-35h0m-2 53h0m0-2h0m-3-47h0m-6 29h0m-3-13h0m-1 15h0m-2-28h0m0-7h0m0 17h0m-7 16h0m-1-6h0m-3 15h0m-3-43h0m-2 5h0m-4 41h0m-3-7h0m-9-1h0m-4-25h0m-4 5h0m-23 20h0m-1-33h0m-18 98h0m3-44h0m24 0h0m2 27h0m2 26h0m9-47h0m0 17h0m3 4h0m8 4h0m0-11h0m2 26h0m8 7h0m1-7h0m10-7h0m1-19h0m2-22h0m7 36h0m1-10h0m2-6h0m4-3h0m3-6h0m3 31h0m3-27h0m5 34h0m0-34h0m0 7h0m11 13h0m1 4h0m3 12h0m0-44h0m6 13h0m3-13h0m0 5h0m3-10h0m2 9h0m1 19h0m1-27h0m8 33h0m0 14h0m1-14h0m0-17h0m1 21h0m1-15h0m3 4h0m5-8h0m0-12h0m2 8h0m7 33h0m3-49h0m0 1h0m0 18h0m5 4h0m2 7h0m1-17h0m0 10h0m4 25h0m4-16h0m6-31h0m2 24h0m2-16h0m0-1h0m26 19h0m5-29h0m11 46h0m3 6h0m3-28h0m28-15h0m-23 58h0m-21 19h0m-6-11h0m-14-13h0m0 10h0m-23 0h0m-22 8h0m-1-10h0m-3-5h0m-21 7h0m-14 34h0m-38-39h0m-35-5h0m-28 21h0" stroke="#9400d3" stroke-width="11.0" stroke-linecap="round" stroke-opacity="0.6" fill="none"/>
<path transform="scale(.1)" d="M818 2635h0m-31 53h0m9 6h0m5-36h0m1-7h0m4 41h0m1-37h0m3 36h0m6-6h0m1-3h0m1-19h0m4 0h0m2 14h0m0-19h0m1 13h0m0-1h0m0 29h0m7-14h0m1-7h0m2-10h0m4-7h0m1 37h0m5-9h0m8-6h0m6 11h0m0 4h0m1-3h0m3-3h0m6 3h0m0 1h0m8 0h0m45 47h0m-3 4h0m-16-19h0m0 15h0m-10-16h0m-1-3h0m-2 11h0m-4-24h0m-1 46h0m-1-14h0m-2-20h0m0 13h0m-2 4h0m-3 9h0m-2-7h0m-2-23h0m-1 5h0m-2 7h0m-3 11h0m-2-13h0m-1 4h0m-2 3h0m0-2h0m-2 17h0m-2-37h0m-2 33h0m-1-25h0m-2-10h0m0 19h0m-9-16h0m-2 15h0m-4-8h0m-4 0h0m-1 20h0m-1-36h0m-1 40h0m-6-43h0m-1 50h0m-3-42h0m-1 3h0m-1 26h0m0-23h0m-7 9h0m0-13h0m-1-4h0m-1-3h0m-6 20h0m-4-24h0m-19 22h0m52 54h0m3-9h0m10 1h0m12 11h0m8 25h0m2 9h0m0-44h0m10-9h0m2 3h0m0-2h0m1 11h0m0 42h0m5-45h0m3 6h0m0 10h0m6 11h0m4-18h0m1 4h0m1 21h0m2-28h0m3 32h0m7-9h0m1-19h0m1 16h0m3-2h0m1-31h0m2 32h0m2 15h0m5-5h0m2-45h0m1 50h0m1 2h0m1-4h0m2-46h0m6 14h0m16 0h0m8 34h0m0 1h0m2-6h0m9 2h0m2 8h0m11-9h0m4 9h0m6 16h0m-3 5h0m-7 30h0m-15-15h0m-4-8h0m-3-4h0m0-7h0m-3 16h0m-9-16h0m-2 18h0m-1-15h0m-2 15h0m-9-19h0m-2 6h0m-2-3h0m-9 8h0m-21 32h0m-5-4h0m-3-6h0m-2-24h0m0 34h0m-13-43h0m-1 23h0m-5-35h0m-4 13h0" stroke="#0000ff" stroke-width="11.0" stroke-linecap="round" stroke-opacity="0.55" fill="none"/>
<path transform="scale(.1)" d="M802 2637h0m-12 41h0m6-6h0m0-8h0m0 29h0m5-9h0m3 7h0m3 5h0m6-43h0m0-12h0m1 14h0m4-5h0m0 49h0m1 0h0m1-2h0m1-9h0m0-30h0m1-6h0m3 5h0m1 7h0m8 12h0m3-19h0m4 33h0m1-16h0m5 0h0m1-4h0m0 2h0m1 15h0m0 11h0m3-13h0m5 5h0m6 9h0m63 25h0m-3 11h0m-11 17h0m-2 2h0m-2-3h0m-2-18h0m-2 10h0m-1 4h0m-5 7h0m-6 5h0m-3-36h0m-6 31h0m-1-20h0m-1-7h0m-1-13h0m-3 31h0m0-12h0m-2 7h0m0-13h0m-1-20h0m-3 4h0m-3 33h0m-2-6h0m-2 17h0m-4-50h0m0 45h0m-1-30h0m-2 14h0m-1 2h0m-2-32h0m-2 9h0m-5-11h0m0 26h0m0 2h0m-3-15h0m-1 1h0m-1 18h0m-4-30h0m-2 47h0m-1-51h0m-8 53h0m-1-1h0m-3-1h0m-3-42h0m-2 40h0m-4-28h0m0 2h0m-1-14h0m-10 10h0m0-5h0m44 71h0m1-4h0m10-7h0m23-3h0m6 18h0m1-10h0m5 10h0m1-6h0m4 11h0m1-31h0m4 8h0m2 16h0m1-13h0m1 37h0m1-4h0m13 8h0m9-7h0m6 6h0m3-40h0m4 29h0m1-30h0m6-11h0m3 25h0m5 16h0m2 16h0m1-10h0m3 2h0m1-22h0m5 0h0m14 0h0m2 28h0m2-10h0m2 3h0m-11 65h0m-3-5h0m-1-32h0m-1 20h0m-1 4h0m-12-6h0m-1-4h0m-4-30h0m-2 30h0m-1 2h0m0-10h0m-3-8h0m-1-16h0m-1 34h0m-5-19h0m0 5h0m-4 1h0m-2 6h0m-3-19h0m-12 0h0m-4 4h0m-6 29h0m-3-16h0m-7 11h0m0 22h0m-6-2h0m-15-50h0m-5 14h0m-9-17h0m-7 17h0m36 43h0" stroke="#0000ff" stroke-width="11.0" stroke-linecap="round" stroke-opacity="0.55" fill="none"/>
<path transform="scale(.1)" d="M769 2669h0m21-10h0m4 35h0m2-44h0m0 17h0m2-16h0m1 2h0m3 42h0m1-47h0m0 47h0m3-22h0m2-31h0m1 4h0m0 0h0m1 13h0m1 10h0m2 2h0m0 5h0m3-8h0m2-4h0m1-16h0m1 40h0m1 10h0m1-52h0m0 41h0m3-21h0m1-4h0m1 31h0m1-5h0m2 10h0m1-11h0m2 8h0m1-6h0m0-18h0m8 11h0m1 4h0m2-2h0m0 6h0m4-5h0m10 8h0m1-1h0m1-5h0m8 4h0m13-15h0m39 82h0m-12-11h0m-2-5h0m-1-3h0m-8-1h0m-6-8h0m-2 23h0m-3-9h0m-1 14h0m0-4h0m-1-38h0m-1 0h0m-4 3h0m-1-19h0m-6 14h0m-1 1h0m-2-13h0m-1 1h0m-6 1h0m-1 5h0m-2-6h0m0 16h0m-2 0h0m-14 29h0m-1-6h0m-2-2h0m-1-20h0m-2-11h0m-2 23h0m0-17h0m-3 23h0m-1-10h0m-1 3h0m-1 27h0m-2-10h0m-3-39h0m-4 41h0m0-38h0m-2 11h0m-3-11h0m-4-3h0m-12 0h0m20 64h0m21-12h0m0 37h0m1 17h0m1-48h0m8-7h0m6 22h0m2 19h0m2-4h0m3-32h0m2 31h0m6-32h0m5 11h0m4-14h0m3 4h0m2 8h0m4 11h0m1-1h0m4 3h0m8-21h0m3-2h0m0 25h0m4 8h0m0-12h0m7-14h0m2 30h0m2-39h0m2 2h0m28 10h0m0 13h0m7-2h0m1-13h0m2 16h0m3-4h0m1 2h0m14 19h0m7 9h0m26 15h0m-6-7h0m0 12h0m-3 5h0m-21-17h0m-4 35h0m-15 13h0m-6-29h0m-11 27h0m-1-25h0m-8 17h0m-5-36h0m0 0h0m-5 12h0m-3-9h0m-14 53h0m-7-9h0m-11-9h0m-9-35h0m-3 34h0m-5-9h0m27 34h0m68-5h0" stroke="#0000ff" stroke-width="11.0" stroke-linecap="round" stroke-opacity="0.55" fill="none"/>
<path d="M59.5 268.0L61.0 263.5L65.0 261.5L70.0 261.0L72.5 262.5L71.5 267.0L71.0 272.5L66.0 274.5L61.0 273.0Z" fill="#0000ff" fill-opacity="1.0" filter="url(#bl1)"/>
<path transform="scale(.1)" d="M641 2564h0m48 75h0m-8-15h0m-3 9h0m-2-25h0m0 10h0m0 19h0m-10-6h0m-1 3h0m-5-2h0m-3 0h0m-10-32h0m-1 8h0m0-13h0m-12 7h0m0 28h0m-33 1h0m-31 42h0m5 6h0m5 11h0m4-15h0m1-9h0m6 27h0m4 6h0m3-4h0m8-3h0m1-46h0m1 36h0m2-39h0m1 41h0m0-23h0m4 23h0m2 4h0m0-32h0m3 40h0m4-1h0m3-12h0m0 5h0m0-23h0m1 3h0m1 11h0m2-33h0m2 53h0m3-9h0m2-7h0m0-28h0m1 23h0m2 9h0m2 2h0m0 2h0m1 3h0m0-5h0m1-40h0m0 34h0m3-4h0m1 11h0m1-13h0m1 5h0m1-5h0m1 12h0m5-21h0m1 21h0m0-13h0m0 13h0m1-37h0m1-9h0m2 41h0m1-43h0m2 28h0m0 29h0m2-43h0m1 33h0m4 8h0m3-11h0m5-23h0m7-14h0m0 38h0m2-33h0m1 37h0m2-19h0m3-30h0m2 39h0m1-20h0m0 17h0m13 20h0m6-56h0m-10 110h0m-14-10h0m-14-39h0m-2 28h0m-3-1h0m-1-11h0m-1 6h0m-3-5h0m0 26h0m-1-28h0m-1 1h0m-1-10h0m-3 16h0m-1-18h0m-4 20h0m0-2h0m0-16h0m-3 18h0m-1-4h0m-2-21h0m0 21h0m-1 6h0m-1 0h0m-2-27h0m-1 17h0m-1-14h0m-1 3h0m-1 24h0m-9-21h0m-2-6h0m0 23h0m-6-4h0m-1-21h0m-1-1h0m-5 1h0m-4 21h0m-5 32h0m-7-35h0" stroke="#0000ff" stroke-width="11.0" stroke-linecap="round" stroke-opacity="0.6" fill="none"/>
<path transform="scale(.1)" d="M693 2618h0m-1-3h0m-8 21h0m-3-19h0m-9 14h0m-6-16h0m-2 23h0m-12-28h0m-3 23h0m-8-8h0m-7-7h0m-3-7h0m-5 28h0m-1-30h0m-8 15h0m-10 6h0m-50 44h0m10 15h0m29-9h0m4 16h0m4-14h0m9 4h0m2 4h0m0 0h0m2-1h0m1-39h0m8 16h0m3 9h0m0-17h0m0 35h0m1-38h0m1 5h0m0 30h0m0 6h0m1-44h0m3 16h0m2 1h0m2-2h0m1-25h0m0 48h0m1-5h0m1-14h0m0 24h0m1-2h0m0-42h0m2 16h0m0-6h0m0 8h0m1-18h0m1 12h0m0-8h0m2 13h0m2 9h0m1 10h0m0-18h0m1-23h0m1 37h0m0-35h0m3 37h0m0-24h0m1-8h0m7 25h0m0-31h0m1 5h0m0 31h0m1-22h0m0-14h0m0 42h0m1-31h0m0 9h0m1-6h0m1 31h0m1-28h0m0-15h0m0 18h0m2-10h0m1 23h0m0-31h0m0 37h0m1-2h0m0-27h0m1 7h0m3 31h0m1 1h0m3-56h0m0 48h0m1-28h0m1 21h0m3-20h0m0 37h0m0-14h0m1-11h0m2-17h0m3 32h0m0 9h0m1-16h0m4-4h0m3 11h0m2-4h0m4-29h0m2 3h0m-1 42h0m-12 0h0m-1 6h0m-7 9h0m-2 1h0m-5 4h0m0-4h0m-2 0h0m-4-12h0m-4 14h0m-2-18h0m-1 17h0m-1-8h0m-7-9h0m-2 23h0m-1-20h0m-3 30h0m-2-25h0m0 24h0m-12-14h0m0-1h0m-1 13h0m-2-23h0m-6 37h0m-1-34h0m-2-4h0m-1 29h0m-2-19h0m-2 7h0m0-10h0m-2 46h0m-6-33h0m-2-15h0m-6-1h0m-24-8h0m-9 15h0m62 55h0m70-2h0" stroke="#0000ff" stroke-width="11.0" stroke-linecap="round" stroke-opacity="0.6" fill="none"/>
<path transform="scale(.1)" d="M702 2621h0m-31 18h0m-1-35h0m-1 29h0m-9 2h0m-1-5h0m-5-4h0m-4 12h0m-1-15h0m-14 13h0m-3 3h0m-18-50h0m-1 39h0m-5 8h0m-15-1h0m-21 47h0m7 1h0m10-25h0m2 36h0m7-19h0m2-28h0m8 39h0m3-10h0m1-20h0m3 20h0m0-7h0m2-17h0m0 5h0m4-2h0m0 22h0m8 9h0m0-23h0m2-17h0m1 27h0m2 6h0m1-13h0m1 28h0m2-6h0m1 3h0m1 2h0m0-19h0m1-16h0m0 38h0m1 1h0m0-37h0m7 38h0m0-21h0m0-3h0m4-1h0m0 16h0m1-15h0m2 23h0m0-35h0m1 25h0m2-15h0m1 11h0m0-38h0m0 7h0m0-7h0m2 47h0m3-52h0m6 54h0m1-31h0m1 1h0m0 14h0m0 3h0m0-9h0m2 14h0m5 3h0m1 2h0m6 7h0m3-26h0m3-20h0m3-11h0m5 23h0m1 27h0m0-20h0m1 4h0m0-2h0m3-31h0m3 13h0m-10 59h0m-2 14h0m-4-7h0m-3-10h0m-3 1h0m0-1h0m-9 2h0m-1 28h0m-1-37h0m-1 24h0m-2-9h0m-1-8h0m-2 16h0m-5 6h0m0-9h0m-2-4h0m0-12h0m-4 22h0m-1-27h0m-1 21h0m-1-12h0m-1 14h0m-1-5h0m-1-12h0m-1 9h0m-3 2h0m0 21h0m-2-1h0m0-28h0m-3 21h0m-3-4h0m-1-18h0m-1 29h0m0-26h0m-4 0h0m-3-1h0m-2 6h0m-3 23h0m-2-20h0m-7-5h0m-5-2h0m-2 43h0m-2-13h0m-2-17h0m-2 30h0m-10-54h0m-9-3h0m31 59h0m3 27h0m40-19h0m49-2h0" stroke="#0000ff" stroke-width="11.0" stroke-linecap="round" stroke-opacity="0.6" fill="none"/>
<path transform="scale(.1)" d="M512 2459h0m170 58h0m-3-4h0m-9-3h0m-1-7h0m0-1h0m-1 9h0m-2 2h0m-4-10h0m-4 0h0m-2-1h0m-1 3h0m-1 7h0m-5 5h0m-4-6h0m-2-26h0m-3 8h0m-2 4h0m-4-10h0m-2 28h0m-6-22h0m-2-1h0m0-3h0m-3 25h0m-4 1h0m0-38h0m0 8h0m-9 0h0m-3-7h0m0 5h0m-2 32h0m-1 4h0m0-42h0m-2 17h0m0-25h0m-1 15h0m-3 13h0m0-30h0m0 13h0m-2 29h0m-2 3h0m0-37h0m-1-6h0m-1 49h0m0-9h0m-6-7h0m0-9h0m-5 14h0m0 3h0m-2-19h0m-2-1h0m-1 27h0m-2-4h0m-1-13h0m-1 9h0m0-9h0m0-15h0m-1 8h0m-1 7h0m-1-16h0m-1 31h0m-4-34h0m-2-17h0m-6 17h0m-7-7h0m-2 22h0m-6-18h0m-5-5h0m0 13h0m-4-3h0m-3-3h0m-1 4h0m-4-11h0m-1-9h0m-2 0h0m-4 4h0m-3-8h0m-1 12h0m56 103h0m4 0h0m4-5h0m15 8h0m8 1h0m1-11h0m0 8h0m1-53h0m1 46h0m1 0h0m4 2h0m1-4h0m3-2h0m1 8h0m1-52h0m6-1h0m1 7h0m0 6h0m2 38h0m4-48h0m3 54h0m2-12h0m0 5h0m0-5h0m5-34h0m1 5h0m0-16h0m0 42h0m2-34h0m0 35h0m11-38h0m1 8h0m1 8h0m0-5h0m1 8h0m0 0h0m1 0h0m2-11h0m1 22h0m1-27h0m1 28h0m1-15h0m0-2h0m0 27h0m2-34h0m0 34h0m2-5h0m2-18h0m2 3h0m0-6h0m1-17h0m1 14h0m0 23h0m1 11h0m2-14h0m2-14h0m7 15h0m1 8h0m1-18h0m0 16h0m1-17h0m0 19h0m1-5h0m2 7h0m1-22h0m1 26h0m4-11h0m3-12h0m2 4h0m1 11h0m4 14h0m2-23h0m1-9h0m0 13h0m3 3h0m2 4h0m1 3h0m0 8h0m2 1h0m2-20h0m3 20h0m1-23h0m2-2h0m2 16h0m4 3h0m-2 9h0m-98 1h0m-14-2h0m-31 0h0m-2 0h0m-3 6h0m-6-6h0" stroke="#22e622" stroke-width="11.0" stroke-linecap="round" stroke-opacity="0.75" fill="none"/>
<path transform="scale(.1)" d="M686 2496h0m-2 19h0m-5-9h0m-2 1h0m-4-6h0m-8 2h0m-4 10h0m-3-3h0m-4-11h0m-1 7h0m-1-21h0m-1 22h0m0-6h0m-1 7h0m-1-14h0m-5 0h0m-2 6h0m-2-5h0m-5 1h0m-1-1h0m-2-1h0m-2 6h0m-6-19h0m-4 34h0m0-30h0m-1 3h0m-1 1h0m-2 3h0m-1 24h0m-3 2h0m0-26h0m-2 16h0m-1-25h0m-2 31h0m-2-41h0m0 1h0m-4 3h0m-3 22h0m-1 11h0m0-27h0m-2 29h0m-2-11h0m-1 0h0m-1-26h0m-2 33h0m-2 0h0m0-41h0m-2 46h0m-1-8h0m0-10h0m-2 3h0m-1 3h0m-4 1h0m-3-3h0m-2 4h0m-2 8h0m0-19h0m0-3h0m-1 14h0m-4-20h0m0 15h0m0-18h0m-7 26h0m-2-13h0m-2-17h0m-2 13h0m-2 4h0m-4-13h0m-2-1h0m-7-8h0m-1 18h0m0-3h0m0 5h0m0-18h0m-1 0h0m0 11h0m-1 1h0m-1-12h0m0 2h0m-3 2h0m-1-7h0m0 13h0m-2 5h0m-1-12h0m0 8h0m-2-4h0m-7-11h0m54 91h0m8-40h0m0 48h0m4 8h0m9-1h0m2-9h0m2-4h0m0 11h0m8-11h0m2 9h0m1-1h0m2-50h0m2 56h0m1-4h0m1 0h0m3 1h0m2-11h0m0 10h0m4 2h0m1-28h0m2 27h0m2-6h0m8-46h0m5 4h0m2 44h0m4-14h0m0 11h0m1-35h0m0 34h0m0-2h0m1-29h0m0 28h0m2 14h0m1-47h0m2 32h0m1-32h0m1 20h0m0 18h0m1-25h0m1 3h0m2 21h0m1 0h0m4-43h0m0 44h0m1-14h0m0 4h0m3 5h0m0 4h0m1-30h0m3 9h0m0 3h0m2 30h0m0-23h0m2-5h0m0 7h0m0 9h0m0-5h0m2-16h0m1 23h0m0 0h0m1-47h0m0 29h0m1 5h0m0 12h0m2 2h0m0 4h0m9-8h0m5 2h0m0-8h0m1-18h0m2 30h0m0-12h0m5 1h0m0-13h0m1 11h0m3 6h0m0-21h0m0 18h0m0-2h0m1 18h0m0-26h0m1 10h0m11-6h0m5 0h0m0 31h0m-67-6h0" stroke="#22e622" stroke-width="11.0" stroke-linecap="round" stroke-opacity="0.75" fill="none"/>
<path transform="scale(.1)" d="M513 2457h0m173 53h0m-3 4h0m-3-4h0m-1-8h0m-6 3h0m0 7h0m-6-1h0m-3 4h0m-4-16h0m0 9h0m-3 5h0m-1-10h0m-2 2h0m-1 1h0m0-1h0m-5-18h0m-7 13h0m-5-7h0m0 6h0m-2 6h0m-2-8h0m-8 16h0m-3-2h0m-2-21h0m-6-6h0m-3 1h0m-3-10h0m-1 24h0m0-14h0m-3-7h0m-3 28h0m-1 6h0m-2-1h0m-1-40h0m-1 35h0m-4 0h0m-1-3h0m-1 4h0m-1 1h0m0-44h0m-2 42h0m-1 5h0m0-33h0m-1 19h0m-1 1h0m-1-4h0m-1 13h0m0-20h0m-4 32h0m-6-17h0m0-17h0m-3-7h0m0 16h0m-2 0h0m-1-1h0m0 6h0m-2-18h0m-3-4h0m-6 12h0m-2 0h0m0 14h0m-2-19h0m-7-11h0m-2 11h0m-4-5h0m-4 4h0m-3-10h0m-1-5h0m-2 14h0m-4-16h0m0 10h0m0-3h0m0-5h0m-4 12h0m-3-6h0m-1-11h0m0 10h0m-1-8h0m0 8h0m-2-11h0m-2 10h0m59 99h0m9 6h0m1-5h0m4 7h0m0-1h0m2-9h0m1 5h0m4-4h0m0 4h0m4-54h0m2 58h0m5-10h0m1 5h0m2 6h0m3-13h0m3 0h0m4-8h0m1 9h0m2-34h0m2-3h0m3-1h0m0 33h0m1 17h0m0-8h0m0-14h0m2 22h0m3-51h0m0 39h0m2-22h0m0 18h0m7-10h0m0 10h0m0 4h0m2-35h0m0 8h0m0-7h0m1 6h0m0-4h0m0 29h0m2-15h0m0-2h0m1 21h0m2-35h0m0-11h0m0 41h0m5-35h0m3 18h0m1-18h0m3 5h0m4 2h0m0 20h0m1-8h0m0-23h0m1 13h0m3 13h0m0 16h0m1-10h0m3 8h0m1-9h0m2-2h0m1-30h0m0 55h0m2-18h0m4-11h0m2 10h0m1 8h0m1-12h0m4 1h0m1 9h0m3-11h0m1-2h0m4 11h0m0-9h0m1 5h0m1 6h0m0-5h0m1 3h0m1-7h0m0-10h0m1 22h0m3 8h0m4-18h0m2-10h0m2 26h0m0-4h0m0-6h0m1-1h0m1 6h0m3-14h0m2 5h0m2 0h0m12 13h0m-9 7h0m-140 2h0m-16 0h0" stroke="#22e622" stroke-width="11.0" stroke-linecap="round" stroke-opacity="0.75" fill="none"/>
<path transform="scale(.1)" d="M716 2395h0m-81 57h0m3-17h0m3 6h0m11 1h0m3-6h0m7 18h0m2-18h0m2 16h0m0 2h0m2-7h0m3 0h0m7-18h0m6-5h0m5-9h0m0 23h0m0-6h0m2 3h0m0 4h0m0-10h0m4 30h0m0-11h0m6 9h0m2-1h0m0-16h0m0 6h0m2 10h0m1 3h0m0-6h0m1-51h0m0 45h0m0-17h0m4 21h0m6-26h0m4 32h0m18-15h0m1 12h0m4-10h0m3-24h0m1 38h0m0-6h0m4-10h0m1 1h0m1-12h0m3 2h0m3 0h0m4 24h0m1 2h0m5-3h0m0-4h0m11-13h0m6 1h0m2 12h0m11-27h0m28 46h0m-2 32h0m-1 16h0m-3-19h0m-3 3h0m-3-13h0m-3 22h0m-2 3h0m-1-14h0m-7-15h0m-3 14h0m-4 16h0m-1-26h0m0 28h0m-1-19h0m0 17h0m0-12h0m-2-1h0m-3 9h0m-1-40h0m0 40h0m0-6h0m-5-45h0m0 2h0m-5 39h0m-1 2h0m0 6h0m-1-4h0m-3-39h0m0 44h0m-1-10h0m-1-35h0m-2 51h0m-1-38h0m-1 14h0m-1 4h0m-1-29h0m-1 34h0m-2-32h0m0 1h0m-1-6h0m-1 4h0m-1-2h0m-2 6h0m0 25h0m0 8h0m0-3h0m-5 16h0m0-6h0m-1-51h0m-1 4h0m-1 6h0m-2 2h0m-1 33h0m0-28h0m0 7h0m0-21h0m-1 41h0m0-29h0m-1-11h0m-1 0h0m-1 10h0m-2-10h0m0 32h0m0 3h0m0-1h0m0-23h0m0-2h0m-1-1h0m0-1h0m0 10h0m-1 0h0m0 7h0m-2 3h0m0-9h0m-1-19h0m0 20h0m-2 20h0m0-45h0m0 56h0m0-40h0m-1 7h0m0 8h0m-1 10h0m-1-15h0m-1 8h0m0-33h0m-2 22h0m-2-5h0m0 0h0m0 1h0m-1-2h0m0 9h0m0 11h0m-1-17h0m0 22h0m0-13h0m-1 4h0m-1 9h0m0-17h0m0 5h0m0 11h0m0-18h0m-1-12h0m0 7h0m0 10h0m-3 6h0m-1 6h0m0 0h0m0-5h0m0-20h0m-1 20h0m0-28h0m-1 41h0m0-16h0m0-13h0m-1 8h0m0-12h0m-1 24h0m-1-4h0m0 16h0m0-38h0m-1 12h0m0-3h0m-1 10h0m-3-23h0m-1 24h0m0-13h0m-1 36h0m0-37h0m-2 35h0m0 0h0m0-45h0m-2-5h0m-1 24h0m-2-13h0m0-9h0m-1 51h0m-2-38h0m0-14h0m-1 40h0m-1-13h0m-2 17h0m-1-40h0m0 46h0m0-1h0m-1-22h0m0 22h0m-1-7h0m0-41h0m0 3h0m-1 32h0m0 14h0m-2-49h0m-1-5h0m-2 35h0m-2-35h0m-1 32h0m0-15h0m-1 2h0m-4-3h0m0 9h0m-3 7h0m-1 17h0m-1-35h0m-2 24h0m-1 14h0m-4-36h0m0-16h0m-1 58h0m-11-5h0m0-25h0m-1 19h0m-6 3h0m-2-11h0m-22-31h0m17 52h0m18 42h0m0-7h0m1 7h0m2-8h0m10-6h0m2 20h0m1-16h0m1 12h0m2-21h0m2-6h0m1 17h0m1 2h0m1-10h0m1-24h0m0 25h0m3-20h0m0-8h0m0 5h0m2 42h0m0-4h0m1-25h0m1 16h0m0-7h0m0-12h0m1 33h0m1-17h0m1-25h0m1 5h0m1 35h0m4-17h0m4-5h0m0 8h0m2-31h0m0 22h0m2 25h0m1-5h0m1 6h0m0-14h0m6-11h0m1 27h0m5-4h0m1 3h0m1-38h0m2 34h0m2 5h0m1 4h0m1-15h0m1-33h0m1 48h0m2-28h0m8-14h0m1 42h0m1-2h0m3-51h0m18 14h0m3 20h0m3 14h0m1-38h0m7 38h0m4 4h0m9-51h0m0-3h0m2 3h0m19 2h0m8 4h0m7-1h0m31 108h0m-39 3h0m-1-14h0m-1 13h0m-1-4h0m-2-8h0m0 7h0m-3-10h0m-1 5h0m-1-12h0m-3 18h0m0 5h0m-1-5h0m-10-32h0m0 19h0m-1-5h0m0-8h0m0 18h0m-2 11h0m-1-11h0m0-21h0m-1 30h0m-2-10h0m-1 1h0m-2-7h0m-2 17h0m-1-18h0m-1-14h0m0 30h0m-2 1h0m-1-18h0m0 0h0m-1 17h0m-4-30h0m-1 14h0m-1-2h0m-1 8h0m-1-1h0m-2-19h0m0-5h0m0 29h0m-3 5h0m-1 3h0m-2-28h0m0 10h0m-1-28h0m0 19h0m-3 3h0m-1-17h0m-1 4h0m-3 20h0m0 12h0m-2-39h0m0 37h0m0-24h0m-2 1h0m-1-9h0m-6 6h0m-2-3h0m-1-9h0m0-2h0m-2-3h0m0 34h0m-1-11h0m-2-11h0m-16 16h0m-9-24h0m-2 6h0m-1-2h0m-12-14h0m-1 2h0m-5 18h0m-10-1h0m91 44h0m11 1h0m6 6h0m1-1h0m1 14h0m0-12h0m3-7h0m2-4h0m1 18h0m0-4h0m2 1h0m3-2h0m7-4h0m1 3h0m1-8h0m6 0h0m1-4h0m1 23h0m4-11h0m1-6h0m2 11h0m1-6h0m2-4h0m1-2h0m2 12h0m4 6h0m1 9h0m1 9h0m1-25h0m2 9h0m0-24h0m2 26h0m1 4h0m3-30h0m0 26h0m3 32h0m2-18h0m1-7h0m0 17h0m1-29h0m1 2h0m0 31h0m1-25h0m2 17h0m2-31h0m1-1h0m0 35h0m2-23h0m0 21h0m0 8h0m3-24h0m0 21h0m1-2h0m2-4h0m0 12h0m1-50h0m1 20h0m1 9h0m1 2h0m1 9h0m3 5h0m1-27h0m0 27h0m4-16h0m4 16h0m1-13h0m-15 19h0m-4 16h0" stroke="#ff0000" stroke-width="11.0" stroke-linecap="round" stroke-opacity="0.7" fill="none"/>
<path transform="scale(.1)" d="M627 2443h0m10-17h0m3 4h0m13 25h0m3-15h0m3-3h0m4-23h0m11-1h0m3-3h0m3 25h0m3 22h0m2-8h0m0-25h0m1 20h0m2-14h0m1 12h0m2-9h0m2 10h0m3 10h0m0-21h0m0 7h0m0 12h0m1 4h0m0-35h0m0 8h0m0-10h0m1-1h0m1 40h0m3-44h0m2 40h0m0-25h0m1 5h0m1 14h0m1 4h0m0 0h0m0-9h0m3 14h0m3 1h0m0-13h0m15 7h0m1-12h0m6-22h0m2 27h0m1-16h0m3 2h0m1-16h0m1 40h0m2-32h0m4 32h0m3-2h0m0-19h0m1-3h0m0 22h0m2-26h0m8 25h0m4-22h0m1 3h0m4-6h0m3-14h0m6 44h0m8-27h0m3 4h0m7 6h0m4 20h0m36 18h0m-13 30h0m-2-6h0m-5 11h0m-1 2h0m-5-16h0m-1-35h0m-2 40h0m-1 14h0m-3-10h0m-5-2h0m-2-41h0m-1 11h0m-2 33h0m-4 11h0m-1-13h0m-7 4h0m-2-31h0m0 40h0m0-2h0m0-6h0m-2 0h0m-5-15h0m0 7h0m-1-38h0m0 35h0m-2-37h0m0 37h0m-1-20h0m-1-17h0m-4 7h0m-1 34h0m-1 11h0m0-38h0m0-8h0m-2 38h0m0-35h0m0 10h0m-2 6h0m-3 14h0m0 0h0m-2 13h0m-1-33h0m-1 4h0m-1-3h0m0-3h0m-1 14h0m0-29h0m-2 24h0m0 9h0m0-27h0m-1 1h0m0 20h0m0 1h0m-1-4h0m0 4h0m-1-8h0m-4 17h0m-1-25h0m-1-5h0m0 20h0m-1 10h0m0-2h0m-1-19h0m-1 22h0m-1 16h0m0-30h0m-1 2h0m-1-12h0m0 29h0m-1-34h0m-1 0h0m0 30h0m0-5h0m-1-27h0m-1 13h0m-2 8h0m0-29h0m-2 39h0m-1 3h0m0-15h0m0 4h0m0-18h0m-1 4h0m0 1h0m-1-4h0m0 13h0m-2-29h0m0 36h0m-1 6h0m0-30h0m0 10h0m0 34h0m0-23h0m0-11h0m0 11h0m-1-21h0m0 40h0m-2-27h0m0 9h0m-1-6h0m0-2h0m-1 16h0m0-12h0m-1 7h0m0-27h0m-1 25h0m0 9h0m0-39h0m-1 34h0m-1-2h0m0-10h0m0 12h0m0 4h0m0-8h0m-2-1h0m0 0h0m0-28h0m-1 25h0m0 25h0m0-39h0m-1-10h0m-1 19h0m-1 24h0m-4-33h0m-2 7h0m0-25h0m-1 5h0m-2 51h0m0-26h0m-1-11h0m-5 1h0m0 27h0m-2-1h0m-1 1h0m0 3h0m-1-27h0m0 0h0m-1-2h0m-1 12h0m0-15h0m0-8h0m-1-7h0m-1 55h0m-1-20h0m-2-27h0m-1 34h0m-2-38h0m-1 31h0m0 2h0m-1-5h0m-2-36h0m-11 47h0m-4-10h0m-2-15h0m-20 0h0m-2 0h0m0 22h0m4 20h0m5 42h0m7-5h0m8-15h0m2 27h0m1-9h0m1-37h0m3 12h0m1 25h0m0-26h0m1 24h0m4-29h0m3 1h0m0 10h0m5-16h0m1 23h0m2 8h0m0-13h0m2-22h0m1 42h0m1 1h0m0 0h0m3-35h0m4 3h0m3 43h0m1-13h0m1-39h0m1 43h0m2-9h0m1 14h0m1-7h0m0-14h0m3-19h0m4 23h0m0 14h0m3 5h0m0-22h0m1 21h0m1-29h0m1-10h0m1 43h0m0-5h0m3-14h0m0 14h0m0-24h0m0 24h0m3-6h0m8-47h0m0 5h0m1 9h0m6 39h0m0-50h0m2 55h0m6-13h0m1-37h0m7 20h0m4 26h0m11-49h0m6 2h0m8 16h0m1-20h0m22 14h0m1-8h0m1-6h0m10 2h0m19 106h0m-3 2h0m-4-1h0m-15-18h0m-2 23h0m-11-15h0m-6-5h0m-1 18h0m-1 1h0m-1-1h0m-1-7h0m-6-1h0m-4 6h0m-3-10h0m0-24h0m0 14h0m-1 13h0m0-18h0m0 7h0m-1-20h0m0 14h0m0 18h0m-2-48h0m0 8h0m-2 18h0m-4 14h0m0-5h0m-1-10h0m-1 7h0m-3-25h0m0 35h0m-2 16h0m-2-37h0m0-15h0m0 31h0m-1-24h0m-3-3h0m0 13h0m-1 14h0m-1-31h0m0 35h0m-1-33h0m0-6h0m-1 30h0m-1-28h0m-2 16h0m0-15h0m-2 19h0m-2 0h0m-2 22h0m-9-42h0m-1 23h0m-2 18h0m-1-21h0m-1 32h0m0-40h0m-1-1h0m0 0h0m-5-5h0m-1 4h0m-3 3h0m0 5h0m-1 7h0m0-21h0m-1 19h0m-2-12h0m0 7h0m-1-8h0m0 3h0m0-13h0m-10 23h0m-2-27h0m-3 2h0m-18 5h0m67 59h0m21 2h0m9-2h0m3-1h0m1 1h0m10 4h0m13 13h0m1-10h0m1-5h0m1-1h0m0-6h0m1 11h0m3 11h0m4-23h0m0 9h0m2 3h0m1 8h0m1-3h0m1 2h0m0-6h0m0-1h0m1 3h0m1 6h0m2 9h0m2-22h0m2 11h0m0-5h0m3 12h0m3 4h0m0-14h0m0 3h0m4 31h0m3-36h0m1 28h0m1-33h0m1 41h0m3-15h0m1 5h0m5-8h0m2 4h0m7-12h0m1 29h0m1 5h0m1-29h0m0 19h0m4-15h0m2 16h0m0 4h0m1 2h0m1-13h0m1-8h0m1 17h0m2-17h0m-13 37h0m-13 4h0m-2-11h0" stroke="#ff0000" stroke-width="11.0" stroke-linecap="round" stroke-opacity="0.7" fill="none"/>
<path transform="scale(.1)" d="M591 2451h0m40-5h0m9 9h0m0-14h0m2-4h0m6 19h0m1-24h0m5-11h0m1 35h0m9 0h0m1-22h0m5 7h0m0-21h0m9 9h0m5-16h0m1 43h0m5-24h0m3 23h0m2 4h0m1-39h0m1 23h0m1 6h0m1 4h0m1 1h0m1-13h0m3 11h0m0-27h0m0 26h0m3 5h0m0-20h0m1 9h0m3-7h0m0-6h0m1-6h0m0 18h0m14 7h0m8 4h0m2 4h0m2-39h0m3 39h0m1-6h0m1 3h0m1-13h0m1 11h0m6-12h0m2-5h0m1 19h0m2-25h0m2 6h0m3 20h0m4-16h0m1-12h0m1 5h0m11 15h0m7-12h0m1-7h0m2 12h0m5 0h0m3 10h0m5 7h0m0-4h0m4-8h0m34 30h0m-11 32h0m-16 8h0m-1-25h0m-5 7h0m-1-35h0m-2 49h0m-3-39h0m0 37h0m-3-50h0m-1 16h0m0 23h0m-3 7h0m-2-9h0m-1-11h0m0 17h0m0 5h0m-1-19h0m-1-21h0m-5 18h0m-5-16h0m-2-3h0m-3-8h0m0 50h0m-1-28h0m0 4h0m-3 19h0m-1-4h0m-1-28h0m0-12h0m-2 39h0m-1-24h0m0 16h0m0-12h0m-2-3h0m0 20h0m0 11h0m0-26h0m-3-6h0m0 24h0m0-22h0m0-3h0m-3 24h0m0-28h0m-2 29h0m0-15h0m-1 10h0m-2-19h0m-1-1h0m0 6h0m-1 18h0m-1-36h0m0 15h0m0-5h0m0 7h0m-1-10h0m-1 26h0m0 21h0m-1-29h0m-1-23h0m0 25h0m0-14h0m-1-6h0m-1 46h0m0-8h0m0-8h0m-1-7h0m0-8h0m-1-15h0m-2-1h0m-3 34h0m0-15h0m0-26h0m-1 47h0m0-17h0m-1-1h0m0 0h0m-1 17h0m0-18h0m-2 8h0m0-33h0m0 14h0m-2 37h0m0-26h0m0 3h0m-1 5h0m0 18h0m0-53h0m0 41h0m0-2h0m-3-27h0m0 29h0m-1-7h0m-1-29h0m0 29h0m0 9h0m-1 11h0m0-17h0m0-4h0m0-20h0m0 29h0m0-11h0m-1 16h0m0-20h0m-1 23h0m0-29h0m0-10h0m-1 10h0m0-2h0m0 0h0m-1 2h0m0 3h0m-1 5h0m0 12h0m-1-3h0m0 10h0m0-34h0m0 42h0m-1-28h0m0-7h0m0-17h0m0 17h0m0 2h0m-2-13h0m0 13h0m-1 27h0m0-44h0m0 23h0m-1 27h0m0-55h0m0 28h0m-3-26h0m0 29h0m-1 23h0m-2 1h0m-2-50h0m-1 32h0m0-22h0m-1 3h0m-1-20h0m-1 17h0m0-2h0m-1 26h0m0-27h0m-1 9h0m0-8h0m0 9h0m-1-12h0m-2 24h0m-1-23h0m0-15h0m-1 23h0m-6-7h0m0-9h0m-3 24h0m-1-21h0m-1 47h0m-1-45h0m-1 6h0m-2 8h0m-5 21h0m-1-5h0m0-39h0m-1 3h0m-2 48h0m-3-30h0m-2-14h0m-9 47h0m-3-44h0m-1 4h0m-2 36h0m-6-4h0m-8-6h0m-6-12h0m-4-7h0m-6-10h0m0 20h0m-8 2h0m-2 19h0m42 7h0m10 28h0m4 25h0m2-36h0m7-10h0m7 28h0m2-8h0m0 13h0m2-38h0m1 54h0m0-17h0m0-37h0m3 49h0m0-50h0m1 22h0m1-4h0m0 27h0m3-15h0m1-11h0m1 13h0m3-9h0m0-3h0m2 33h0m0-39h0m0 26h0m1-21h0m1 16h0m5-37h0m1 51h0m1-9h0m2 12h0m1-26h0m0 19h0m4 8h0m0 2h0m7-19h0m1 19h0m0-54h0m3 40h0m1-1h0m0 9h0m0 2h0m11-29h0m4 16h0m32-23h0m0-14h0m48 0h0m4-2h0m10 116h0m-2 1h0m-4-16h0m-1 0h0m-7 14h0m-7-5h0m-2-15h0m-5 9h0m0 0h0m0-3h0m-3-2h0m-3 14h0m-1 0h0m-2-10h0m-1 10h0m-1-27h0m-1 15h0m-3 14h0m-2-5h0m-2-16h0m0 13h0m-1-2h0m0 11h0m-2 0h0m-1-2h0m-2-11h0m0-21h0m-1 22h0m0-8h0m-2 1h0m0-5h0m0 16h0m-1 8h0m0-12h0m-5 1h0m-1-16h0m0 0h0m-4-24h0m-1 16h0m-2-17h0m0 22h0m-2 10h0m-2-8h0m0 13h0m-1-5h0m0 18h0m-1-33h0m0-8h0m-1-11h0m-2 16h0m0-1h0m-1 26h0m-2-6h0m-1-16h0m0 16h0m-1-38h0m-2 26h0m0 4h0m-1 8h0m-1-5h0m-3-1h0m-1 15h0m-1 4h0m0-50h0m-8 43h0m-1-32h0m0 27h0m-4-31h0m-2 5h0m-2 19h0m0-16h0m-1-5h0m-1-2h0m0-9h0m-2 17h0m-1-17h0m-2 5h0m-3-3h0m-1 15h0m-1-17h0m-3 15h0m-1 4h0m-7-14h0m-2-4h0m-4 20h0m-2-22h0m-6 17h0m-18-11h0m107 83h0m24-24h0m2 18h0m1-19h0m0-1h0m6 7h0m5-10h0m7 14h0m0 27h0m1-8h0m0-16h0m5-5h0m1 15h0m1-10h0m0 15h0m0-16h0m2 19h0m1 16h0m1-19h0m0 1h0m4-10h0m1-14h0m1 24h0m3 6h0m2 4h0m1 2h0m2-5h0m1-3h0m1-22h0m0 19h0m2-14h0m8 20h0m3 11h0m2-1h0m1 4h0m1-22h0m1 15h0m0-8h0m1 14h0m3 2h0m0-2h0m3-5h0m2-7h0m5 1h0m-17 23h0m-7 2h0m-5 12h0m-12-17h0" stroke="#ff0000" stroke-width="11.0" stroke-linecap="round" stroke-opacity="0.7" fill="none"/>
<path d="M66.0 249.0L70.0 245.5L76.0 246.0L79.0 248.5L77.0 252.0L71.0 252.5Z" fill="#ff0000" fill-opacity="1.0" filter="url(#bl1)"/>
<path d="M69.0 254.0L74.0 253.5L85.0 264.5L84.0 268.5L79.0 266.0Z" fill="#ff0000" fill-opacity="1.0" filter="url(#bl1)"/>
<path transform="scale(.1)" d="M814 2657h0m14 10h0m17 25h0m3-4h0m66 71h0m-20-16h0m-15-31h0m-19-1h0m-12 5h0m71 46h0m13 42h0m1-9h0m7-2h0m5 11h0m5 7h0m8 1h0m4 5h0m33 37h0m-13 5h0m-1-22h0m-9-7h0m-8-1h0" stroke="#0000ff" stroke-width="11.0" stroke-linecap="round" stroke-opacity="0.5" fill="none"/>
<path transform="scale(.1)" d="M803 2648h0m5 5h0m1-3h0m3-9h0m2 11h0m1 13h0m107 75h0m-3 4h0m-18 15h0m-7-11h0m-5-9h0m-4-13h0m-2 16h0m-12-9h0m-9-29h0m-21-3h0m73 63h0m24 30h0m7 2h0m30 14h0m3 29h0m-3 2h0" stroke="#0000ff" stroke-width="11.0" stroke-linecap="round" stroke-opacity="0.5" fill="none"/>
<path transform="scale(.1)" d="M822 2648h0m6 25h0m12 10h0m10 5h0m13 7h0m22 27h0m-10 10h0m-23-26h0m53 67h0m30 41h0m22 2h0m2-15h0m47 47h0m-12-7h0m-6-4h0m-24-2h0" stroke="#0000ff" stroke-width="11.0" stroke-linecap="round" stroke-opacity="0.5" fill="none"/>
<path transform="scale(.1)" d="M2157 2743h0m-54 4h0m-64 12h0m-29-9h0m-7-5h0m-7 7h0m-12-12h0m-15 1h0m-8 17h0m-2-4h0m-2-12h0m-19 10h0m-4-3h0m-55-4h0m-14-3h0m-30 8h0m-33 7h0m16 15h0m45 15h0m45-24h0m3 21h0m0 34h0m1-8h0m27-18h0m1-16h0m4-1h0m2 22h0m2-37h0m4 17h0m0 6h0m9 9h0m2 17h0m3-3h0m3-6h0m1-37h0m2 38h0m2-26h0m8 28h0m13 12h0m21-22h0m6-20h0m2 46h0m2-49h0m5 49h0m1-22h0m5-35h0m2 55h0m7-40h0m19 1h0m83 51h0m-32 4h0m-2 20h0m-7-29h0m-3 12h0m-9-5h0m-22 2h0m-3-3h0m-2-2h0m-10 15h0m-18-6h0m-15-13h0m-8-2h0m-34 6h0m-43-2h0m-30 0h0m-2 13h0m-34-10h0m50 85h0m143-20h0" stroke="#4040ff" stroke-width="11.0" stroke-linecap="round" stroke-opacity="0.3" fill="none"/>
<path transform="scale(.1)" d="M2089 2748h0m-1 7h0m-8-13h0m-25 16h0m-13-10h0m-29-2h0m0 1h0m-5 8h0m-24-13h0m-42 6h0m-10 10h0m-7-18h0m-47 5h0m-58 1h0m-6 5h0m34 13h0m24 40h0m52-16h0m0-28h0m5 16h0m5-7h0m0 32h0m14-37h0m5 3h0m10 44h0m4-47h0m9 53h0m4-53h0m5 29h0m3-29h0m9 24h0m3-24h0m15-3h0m2 36h0m4-25h0m0 16h0m3-7h0m5-14h0m1-6h0m14 16h0m20-10h0m13 50h0m14-9h0m5-29h0m21 2h0m4 26h0m24-41h0m-82 79h0m-18 18h0m-32-43h0m-4 23h0m-5 16h0m-26-33h0m-24 29h0m-44-28h0m-4 35h0m-6 15h0m-48-25h0m-36 7h0m-29-6h0m252 77h0m4 1h0m-110 25h0" stroke="#4040ff" stroke-width="11.0" stroke-linecap="round" stroke-opacity="0.3" fill="none"/>
<path transform="scale(.1)" d="M2106 2744h0m-56 12h0m-44-1h0m-2-1h0m-7-13h0m-7 9h0m-7 9h0m-5-9h0m-2-1h0m-125-1h0m-13 7h0m-21 57h0m3 4h0m16-31h0m9 14h0m31-16h0m1-21h0m5 49h0m3-17h0m7 3h0m6-33h0m23 3h0m5 45h0m0-41h0m2-8h0m13 21h0m6-24h0m0 23h0m2-11h0m5 11h0m22 7h0m2 22h0m1-25h0m1 32h0m2-51h0m2-7h0m7 53h0m6-8h0m0 6h0m5-2h0m4-27h0m12 24h0m1-26h0m2-13h0m1 41h0m1-16h0m7-7h0m13-23h0m8 13h0m14 16h0m84 85h0m-4-29h0m-40-24h0m-13 45h0m-13-44h0m-24 11h0m0 23h0m-3-25h0m-30-7h0m-95 25h0m-5-7h0m-35-5h0m-39 0h0m-16 49h0m123 30h0m43-19h0m38-19h0m10 6h0" stroke="#4040ff" stroke-width="11.0" stroke-linecap="round" stroke-opacity="0.3" fill="none"/>
<path transform="scale(.1)" d="M2112 2747h0m-21-36h0m-77 48h0m-1-29h0m-31 1h0m-22-9h0m-87 24h0m-5-13h0m-53-17h0m-76 16h0m-73-31h0m115 97h0m24-10h0m71 30h0m28-56h0m62 40h0m70-20h0m-39 39h0m-50 52h0m-113-49h0" stroke="#40d040" stroke-width="11.0" stroke-linecap="round" stroke-opacity="0.25" fill="none"/>
<path transform="scale(.1)" d="M1931 2705h0m-1 29h0m-22-12h0m-2-11h0m-13 0h0m-8 16h0m-27-17h0m-31 39h0m-10-11h0m-11 19h0m-20-4h0m32 24h0m34 12h0m31 2h0m22 9h0m71 18h0m38-39h0m-57 87h0m-24-13h0m-52-20h0m-17-12h0" stroke="#40d040" stroke-width="11.0" stroke-linecap="round" stroke-opacity="0.25" fill="none"/>
<path transform="scale(.1)" d="M2052 2744h0m-10 1h0m-4-15h0m-16-7h0m-46 22h0m-1-18h0m-9 23h0m0-46h0m-2 25h0m-8-14h0m-143-2h0m-61 33h0m141 69h0m11-15h0m2 13h0m8-31h0m16 19h0m3-25h0m-24 70h0" stroke="#40d040" stroke-width="11.0" stroke-linecap="round" stroke-opacity="0.25" fill="none"/>
<path d="M171.5 247.0L178.0 249.0L186.0 253.0L192.5 258.0L191.0 263.0L185.0 261.0L178.0 255.0L173.0 250.0Z" fill="#22e622" fill-opacity="0.85" filter="url(#bl1)"/>
<path transform="scale(.1)" d="M1855 2516h0m-1-17h0m-18 11h0m-24 1h0m-2-2h0m-2 3h0m-12 3h0m-1-15h0m0 18h0m-1-9h0m-4 8h0m-1-15h0m-1 15h0m-2-18h0m-5-3h0m-1-4h0m-1 19h0m-1-7h0m-3 0h0m-1 11h0m-1-17h0m-2 4h0m-2-3h0m-1-1h0m-2 18h0m-4-1h0m0-27h0m-1 16h0m-1-4h0m-2 9h0m0 9h0m-1-10h0m0-18h0m-1 11h0m0-8h0m-2 13h0m-2-27h0m0 7h0m-1 32h0m-2-25h0m0-1h0m-2-13h0m-1 17h0m-3-27h0m-1 19h0m0-12h0m-9 20h0m-3 7h0m-4-12h0m-2-3h0m-7 0h0m-6 10h0m33 29h0m11-3h0m6-3h0m3 3h0m0 23h0m5-13h0m1-2h0m1 5h0m2 18h0m9-33h0m2 52h0m0-49h0m1-2h0m1 0h0m0 13h0m0 14h0m0-7h0m3 0h0m2 3h0m1-15h0m1 32h0m0-36h0m6 18h0m3 3h0m1 8h0m0 3h0m2-13h0m1 26h0m0-22h0m1-24h0m5 13h0m0-8h0m2-10h0m0 15h0m7-13h0m0 28h0m1-12h0m3 0h0m2 21h0m1-37h0m2 33h0m2 14h0m2-39h0m1 36h0m1-39h0m1 33h0m0-19h0m1 37h0m2-32h0m0 3h0m1 26h0m0-56h0m0 35h0m1 0h0m1 23h0m1-2h0m0-40h0m0-10h0m0 4h0m3 34h0m2-22h0m0 20h0m0 7h0m1-23h0m3 6h0m0-3h0m2 1h0m1 9h0m2-39h0m0 26h0m5 31h0m5-2h0m0-44h0m1 22h0m0 6h0m1-33h0m1 28h0m1 9h0m0-39h0m3 34h0m2 12h0m1-2h0m3-45h0m3 18h0m3 12h0m1 7h0m3-10h0m1 18h0m1-13h0m3 21h0m2-6h0m6-8h0m11 9h0m2 1h0m1-46h0m14 15h0m-13 39h0m-3 1h0m-3 13h0m-7 5h0m-3-11h0m-1-4h0m-9 30h0m-2-2h0m-2-16h0m-1 0h0m-1 9h0m0-17h0m-1 47h0m0-18h0m-1-30h0m-1 2h0m0 37h0m0-16h0m-9-19h0m-3 3h0m0 30h0m-2-23h0m-3 5h0m-3 21h0m-3-19h0m-2-28h0m-2 0h0m0 4h0m-2 47h0m-4-22h0m-1-11h0m-6-15h0m-2 16h0m-3 2h0m-2-10h0m0 13h0m0-16h0m-4 13h0m-3-10h0m-4-5h0m-2 0h0m-9 20h0m-4 21h0m65 19h0" stroke="#22e622" stroke-width="11.0" stroke-linecap="round" stroke-opacity="0.6" fill="none"/>
<path transform="scale(.1)" d="M1904 2510h0m-2 5h0m-5 4h0m-48-1h0m-8-4h0m-1-13h0m-3-1h0m-1 17h0m-7-1h0m-3-10h0m-17 10h0m-5 2h0m-3-18h0m-1 11h0m-2 0h0m-5-10h0m-3 16h0m-1-15h0m-1-6h0m-5 15h0m0 4h0m-10 1h0m-1-26h0m-1 24h0m-5-10h0m0-15h0m-1 30h0m-2-6h0m-6-18h0m-1 0h0m-4 5h0m-3-8h0m-6-9h0m-4 23h0m0-14h0m-1 9h0m-4-8h0m0 9h0m-5 9h0m-4-33h0m-13 18h0m50 29h0m10-2h0m0 47h0m1 6h0m1-51h0m1 1h0m6-4h0m3 22h0m3-23h0m0 58h0m1-20h0m1-13h0m1 0h0m0-26h0m1 34h0m2-16h0m3 4h0m0-8h0m1-6h0m2 17h0m1-20h0m2 0h0m1 30h0m0-14h0m1 8h0m0 2h0m1-17h0m1 29h0m1-32h0m0-5h0m2 44h0m2-22h0m1-1h0m0 5h0m5 4h0m0-10h0m1-9h0m1-3h0m1-9h0m1 37h0m2-34h0m2 38h0m1-7h0m1-29h0m0 44h0m1-37h0m4-10h0m0 43h0m0-39h0m1 0h0m4 42h0m0-15h0m6 14h0m0-32h0m1 9h0m0 22h0m1-24h0m3 3h0m1 0h0m0 28h0m1-49h0m1 50h0m0-50h0m2 30h0m1-16h0m1 9h0m0-14h0m2-2h0m2 41h0m1-13h0m1 6h0m1-16h0m1-19h0m1 5h0m0 14h0m3 14h0m2 9h0m1-8h0m1-5h0m4-6h0m1 0h0m1-22h0m2 29h0m0 12h0m2-19h0m0 5h0m1-14h0m0 9h0m2 15h0m2 4h0m0-1h0m1-1h0m1 4h0m1-16h0m2-15h0m0 7h0m0 19h0m2-21h0m2 5h0m4 11h0m2-23h0m0 23h0m4 1h0m1-32h0m2-18h0m1 54h0m0-4h0m18-11h0m9-8h0m0-3h0m-18 34h0m-4 3h0m-1-4h0m-1 5h0m-14 26h0m-2 7h0m0-16h0m0-21h0m-1 14h0m-2-10h0m-1 2h0m-1 14h0m-2 3h0m0-19h0m-1-6h0m-1 8h0m0-7h0m-1 3h0m-3 15h0m-2-18h0m-1 3h0m0 15h0m0 0h0m-3-1h0m-3 23h0m-1-20h0m-1-10h0m0-11h0m-2 34h0m-3-32h0m-2 26h0m-1-8h0m-3 7h0m0-7h0m0 12h0m-2-20h0m-2-2h0m-2-9h0m-1 49h0m0-7h0m-1-40h0m-9 10h0m-1 4h0m-7-13h0m-1-3h0m-7 4h0m-18 13h0m-2 4h0m-4-20h0m-1 19h0m-26-16h0m81 61h0m18 0h0" stroke="#22e622" stroke-width="11.0" stroke-linecap="round" stroke-opacity="0.6" fill="none"/>
<path transform="scale(.1)" d="M1830 2507h0m-8 7h0m-3-11h0m-2 11h0m0-6h0m-1-4h0m-15 4h0m-5 5h0m-2-7h0m-2-5h0m0 18h0m-5-1h0m-1-31h0m-3 31h0m-2-34h0m0 15h0m-1 12h0m-2-9h0m-1 12h0m0-11h0m0 5h0m-1 2h0m-1 3h0m-1-17h0m-2 20h0m0-4h0m-1-22h0m-1 18h0m-3-48h0m0 48h0m-1-3h0m-1-5h0m-1 11h0m0 6h0m-1-5h0m-2-7h0m-1 5h0m0 9h0m-1-27h0m0 22h0m-3-22h0m-5 14h0m0-19h0m-2 9h0m-1 8h0m0-3h0m-1-22h0m-7 27h0m-1 4h0m-1-20h0m-3 0h0m-5-6h0m0-19h0m-1 42h0m-1-24h0m-1 2h0m-5 1h0m0 13h0m12 21h0m21 18h0m0-17h0m1 7h0m11 21h0m0 3h0m9 4h0m0-19h0m1 15h0m4-3h0m1-3h0m1 28h0m2-25h0m0-6h0m1-13h0m4 7h0m4 4h0m1-21h0m2 15h0m1-10h0m2 26h0m1-1h0m1-18h0m1 8h0m1 34h0m0-21h0m1-11h0m1 9h0m2-11h0m4 17h0m2-1h0m2-13h0m1 5h0m6-6h0m1 13h0m1-17h0m1-13h0m0 29h0m1-24h0m2 28h0m0-26h0m4 41h0m1-28h0m0-8h0m1 13h0m1 28h0m1-8h0m2-17h0m1 21h0m0-43h0m1 42h0m0-12h0m1-32h0m4 46h0m0-18h0m0-3h0m0 16h0m1-33h0m2 36h0m3-37h0m0 23h0m1-9h0m1 6h0m0 15h0m2 4h0m1-43h0m1 22h0m3-4h0m3-19h0m1 14h0m3 33h0m0-17h0m3 17h0m0-1h0m0-37h0m0 31h0m1-18h0m3-15h0m1 38h0m4-2h0m5-3h0m3 4h0m1-38h0m1 28h0m0-16h0m3 20h0m15-3h0m0-34h0m0 35h0m12-27h0m1 27h0m5-7h0m0 13h0m2-9h0m1-7h0m3-22h0m5 20h0m1-2h0m-22 28h0m-4 3h0m-1 13h0m-1-11h0m-1 1h0m-4 8h0m-1-13h0m-2 20h0m-2-2h0m-1-16h0m-2 6h0m0 30h0m-4-11h0m-1-5h0m-2-20h0m-1 34h0m0-19h0m-1 5h0m-3 13h0m0-14h0m-1 33h0m-1-12h0m-1-26h0m-1-17h0m0 8h0m0-8h0m-3 13h0m-3-3h0m-2 5h0m0-4h0m-2 18h0m-1-10h0m-4 13h0m-6-8h0m0 3h0m-3-4h0m0-21h0m-2 20h0m-1 16h0m-1-18h0m-3-6h0m-5 2h0m-9 8h0m-1-18h0m0-6h0m-10 28h0m-6 9h0m52 37h0" stroke="#22e622" stroke-width="11.0" stroke-linecap="round" stroke-opacity="0.6" fill="none"/>
<path d="M194.0 268.0L198.0 264.0L205.0 263.0L213.0 264.5L219.0 268.0L219.5 273.0L214.0 276.5L205.0 277.0L198.0 275.0L194.5 272.0Z" fill="#0000ff" fill-opacity="0.9" filter="url(#bl1)"/>
<path transform="scale(.1)" d="M2127 2637h0m-21-26h0m-8 17h0m-17 3h0m-27-15h0m-2-3h0m-14 18h0m-4-5h0m-33-36h0m-9 41h0m-9-6h0m-124 72h0m17-54h0m19 41h0m2-4h0m8-21h0m29 27h0m5-20h0m2 4h0m1-21h0m4 7h0m1 9h0m1 23h0m8-23h0m4-17h0m8 19h0m14 23h0m2-40h0m1 47h0m3-6h0m0 3h0m6-21h0m2 26h0m1-11h0m0 7h0m1-17h0m0-3h0m3-4h0m7 21h0m4-12h0m5 1h0m1-31h0m1 1h0m0 34h0m2-23h0m8 29h0m1-11h0m0-30h0m0 0h0m2 22h0m2 12h0m1-5h0m2-15h0m1 16h0m2 14h0m3-10h0m1-19h0m5-18h0m4 27h0m5-4h0m2-1h0m1 14h0m0-26h0m1 31h0m2-16h0m1 24h0m1-4h0m1-48h0m0 29h0m2 20h0m2-3h0m1 9h0m2-16h0m3 7h0m1-8h0m4 15h0m8-23h0m1-10h0m1 35h0m2-10h0m0-22h0m3-3h0m3-4h0m2 32h0m2-52h0m1 56h0m2-2h0m5-8h0m3-30h0m3 8h0m0 30h0m3-4h0m9-27h0m2-16h0m1 18h0m2 1h0m3 31h0m4-5h0m1-12h0m3 7h0m2 2h0m6-31h0m1 34h0m3-20h0m6-17h0m1-7h0m1 33h0m6 12h0m4 0h0m4-31h0m2 20h0m8-12h0m24-27h0m51 84h0m-7 30h0m-25-20h0m-36-1h0m-12-34h0m-2 35h0m-3-28h0m-10 13h0m-6 4h0m-5-12h0m-10 15h0m-1 3h0m0-23h0m0 10h0m-2 20h0m-2-26h0m0 2h0m-7-10h0m-2-1h0m-3 22h0m-1-11h0m-3 13h0m-3-22h0m-1 2h0m-5 17h0m-1-13h0m-3-7h0m0 31h0m-1 20h0m-2-51h0m-2 0h0m-7 32h0m-2 8h0m-1-5h0m-5 11h0m-3-13h0m-2 14h0m-1 5h0m-3-47h0m-1-3h0m0 30h0m-2-28h0m-1 21h0m-2 8h0m-5 17h0m0-18h0m0-26h0m-3 34h0m0 13h0m-1-17h0m-2-10h0m0-22h0m-2 31h0m-10-34h0m-1 7h0m-3 5h0m-3 16h0m-1-3h0m0 8h0m-2 16h0m0-15h0m-3-13h0m-1 12h0m-3-37h0m-1 2h0m-3 16h0m0 17h0m-2 15h0m0-49h0m-4-1h0m-1 0h0m-18 30h0m-1-16h0m-2 34h0m-1-6h0m-2 12h0m-4-30h0m-11-12h0m-2-12h0m0 18h0m-19 10h0m-2-30h0m-2 0h0m-1 19h0m-2 6h0m-4-24h0m-3 8h0m-10-1h0m-1 0h0m0 19h0m-12 24h0m-1-50h0m-6 7h0m-7 4h0m-66-4h0m-19-4h0m101 91h0m56-26h0m21-7h0m14 15h0m4 10h0m8-18h0m15 17h0m30-8h0m24 21h0m21-37h0m11 6h0m9 0h0m3 7h0m1 22h0m20-31h0m5 18h0m36-11h0m36 16h0" stroke="#0000ff" stroke-width="11.0" stroke-linecap="round" stroke-opacity="0.55" fill="none"/>
<path transform="scale(.1)" d="M2153 2575h0m48 35h0m-35 0h0m-27 29h0m0-34h0m-25 18h0m-6 8h0m-11-21h0m-4 26h0m0-2h0m-15-8h0m-11-13h0m-18 12h0m-3-14h0m-3 25h0m-33-3h0m-42 4h0m-8-7h0m-24-12h0m-31 34h0m2-5h0m27 47h0m0-9h0m2-5h0m4 5h0m4-37h0m3 42h0m2-13h0m9 9h0m11-33h0m1 3h0m4 19h0m5-24h0m1 46h0m3-18h0m2-27h0m0 16h0m4 3h0m1-1h0m0-13h0m2 6h0m3 28h0m5-20h0m1 20h0m1-1h0m3-19h0m0-21h0m7 13h0m2 24h0m3 5h0m4 5h0m2-48h0m0 43h0m1-42h0m0 42h0m0-41h0m0 34h0m2-6h0m1-18h0m1-13h0m5 33h0m0-15h0m2 26h0m2-40h0m5 17h0m1 17h0m2-13h0m1-18h0m1 42h0m3-2h0m1-25h0m0 27h0m0-22h0m1-15h0m0 29h0m0 7h0m1 1h0m3-15h0m2-7h0m3-5h0m0-16h0m1 30h0m0 8h0m10-22h0m1 21h0m1-43h0m4 16h0m3 33h0m1-52h0m0 43h0m2-25h0m6 20h0m1 0h0m2-7h0m0-8h0m1-8h0m0 31h0m1-51h0m1 54h0m0-38h0m1 43h0m0-10h0m1-39h0m0 5h0m1 16h0m2-29h0m1 40h0m0-23h0m2 31h0m1-1h0m3-18h0m0-25h0m1 29h0m3 19h0m1-33h0m6 17h0m4 14h0m1-10h0m3-17h0m1 16h0m1-15h0m1 26h0m8-33h0m7 0h0m4 14h0m5 16h0m20 2h0m1-28h0m5 24h0m10-10h0m4-18h0m2 11h0m52 40h0m-12 27h0m-35-11h0m-2 5h0m-4 26h0m-11-46h0m-12 45h0m-2-42h0m-3 38h0m-2 3h0m-5-45h0m-1 36h0m-6-25h0m0-6h0m-1 6h0m0 38h0m-2-7h0m-2-36h0m-1-8h0m-1-4h0m-7 16h0m-1-8h0m-2 19h0m0-4h0m-1-6h0m-3 38h0m-6-20h0m-5-20h0m-4 4h0m-3-15h0m-1-5h0m0 18h0m-1-13h0m-2 21h0m-1 6h0m-10 11h0m0 10h0m-5-55h0m-3 0h0m-4 36h0m-1-25h0m-1-11h0m0 24h0m-2 5h0m-5 29h0m-1-49h0m-2-8h0m-1 17h0m-1 3h0m-1-18h0m-7 51h0m-2-21h0m0-12h0m-2-21h0m-3 5h0m0 25h0m-2 27h0m-2-31h0m-2 27h0m-1-50h0m-2-2h0m-3 21h0m-2 0h0m-1-22h0m-3 14h0m-1 39h0m-1-47h0m-1 16h0m-3 8h0m0-13h0m-5-7h0m0 25h0m-1-3h0m-2-31h0m0-2h0m-2 15h0m-2-10h0m-1-4h0m0 39h0m-6-36h0m-3 29h0m-5-7h0m-1 10h0m-4-14h0m-11-17h0m-2 11h0m0 37h0m-6-50h0m-16 3h0m-10 8h0m-4 10h0m-11-2h0m-5-7h0m75 64h0m1 1h0m18-19h0m9 5h0m5 10h0m4-1h0m11-15h0m17 18h0m8-15h0m7 23h0m1 0h0m23-19h0m9 2h0m17 17h0m75 31h0" stroke="#0000ff" stroke-width="11.0" stroke-linecap="round" stroke-opacity="0.55" fill="none"/>
<path transform="scale(.1)" d="M2107 2617h0m-20-13h0m-7 21h0m-7-14h0m-32 23h0m-2-12h0m-2 0h0m-15 17h0m-1-1h0m-4-2h0m-2-12h0m-23 5h0m-26-8h0m-59 78h0m1-14h0m27-18h0m0-26h0m8 56h0m5-7h0m2-18h0m5 8h0m1-9h0m0 15h0m0-3h0m4 6h0m0 8h0m6-50h0m3 12h0m2 32h0m3 2h0m6-33h0m3 21h0m1-8h0m2 17h0m2-6h0m6-18h0m0 2h0m2 23h0m0-2h0m7-16h0m1 26h0m1-34h0m2-19h0m4 52h0m1 0h0m5-3h0m4-10h0m4 5h0m0 4h0m0-37h0m1 18h0m1 17h0m0-21h0m0-9h0m1 8h0m1 22h0m1 3h0m0-12h0m1-28h0m1 15h0m1 12h0m0-4h0m1 10h0m6-12h0m0-4h0m1 14h0m0 10h0m3-22h0m1-25h0m2 37h0m5-8h0m5 4h0m4 7h0m0-17h0m1-9h0m2 14h0m2 1h0m0 12h0m1-32h0m5 12h0m2-30h0m1 43h0m6-14h0m1-10h0m4-12h0m7 36h0m1 5h0m0-15h0m1-29h0m3 36h0m2-17h0m3-6h0m3 2h0m3 39h0m3-23h0m2 18h0m4-4h0m7-25h0m2 27h0m0 6h0m3-57h0m0 40h0m4 14h0m3-30h0m0-12h0m1 4h0m0 38h0m16-28h0m11 15h0m1-22h0m26 17h0m44 2h0m-3 68h0m-26-27h0m-11-8h0m-6 14h0m-2-10h0m-1 17h0m-1 19h0m-15-31h0m-10-13h0m-1 52h0m-3-14h0m-2-19h0m-6-21h0m-3-1h0m0 39h0m-2-30h0m-8 28h0m0-4h0m-12-32h0m-1 12h0m0-4h0m-5 32h0m-1 5h0m-5-21h0m-1 3h0m-2-6h0m-6 12h0m0 16h0m-2-27h0m0-15h0m-3 17h0m-1-7h0m-1 4h0m-2 11h0m-2 0h0m0-3h0m-2-28h0m-2 22h0m-2 15h0m-1-42h0m-1 1h0m-1 28h0m0 2h0m-1-8h0m0 17h0m-2-40h0m-3 36h0m-1-2h0m-1-13h0m-3 5h0m-1 26h0m0-14h0m-2-19h0m0 17h0m-3-27h0m-3 3h0m-1-11h0m-1 47h0m-3-13h0m-1-19h0m-1 11h0m0 24h0m-2-38h0m-3 3h0m0-12h0m0-2h0m-1 40h0m-5-23h0m-8 5h0m-1 2h0m-1-21h0m-1 1h0m-1 0h0m-5-6h0m-3 27h0m0 8h0m-1-31h0m-2 23h0m0-2h0m-10-26h0m0 18h0m-1 5h0m-4 23h0m-4 5h0m0-38h0m-4 11h0m-8-3h0m-3 19h0m-4 16h0m-8-22h0m-4 6h0m-6-21h0m0-14h0m0 22h0m-8 32h0m-8-4h0m-4-50h0m-27 21h0m-1 14h0m-9-34h0m-29 14h0m-5-9h0m90 75h0m3-26h0m45 5h0m13 13h0m13 6h0m4-14h0m16-7h0m14 8h0m9-8h0m7 21h0m5-14h0m0-9h0m25 6h0m13 18h0m2 11h0m4-32h0m30 21h0m12 12h0m14 2h0" stroke="#0000ff" stroke-width="11.0" stroke-linecap="round" stroke-opacity="0.55" fill="none"/>
<path d="M191.5 256.0L195.0 250.0L202.0 247.0L210.0 245.5L218.0 246.0L221.5 249.0L219.0 254.0L211.0 257.5L202.0 259.0L195.0 259.0Z" fill="#ff0000" fill-opacity="0.9" filter="url(#bl1)"/>
<path transform="scale(.1)" d="M1971 2453h0m46 2h0m36-4h0m54-11h0m1-6h0m8 16h0m20-7h0m35-2h0m71-18h0m28 36h0m19 42h0m-10-25h0m-78 12h0m0 31h0m-10-34h0m-4 1h0m-10-2h0m-3 4h0m-13-3h0m-5 15h0m-5-32h0m0 11h0m-6 6h0m-1 18h0m-4-24h0m-1 27h0m-2-46h0m0 31h0m-2 19h0m-6-18h0m-3 19h0m-1-10h0m-1 14h0m-3-40h0m0 42h0m-3-40h0m-1 38h0m-1-12h0m0-5h0m-6 7h0m-1-33h0m-8 10h0m-1 9h0m-1 9h0m-2 1h0m0 12h0m-3-27h0m-2 21h0m0 4h0m0 3h0m0-21h0m-2 7h0m-8-14h0m-6 9h0m-1 6h0m-3-5h0m-3 23h0m-1-51h0m-1 2h0m0 26h0m-1 12h0m0-15h0m-4-20h0m-2 23h0m0 12h0m-1 2h0m-5-9h0m0 8h0m-1 10h0m-1-16h0m-3 15h0m0-21h0m-3 15h0m-10-39h0m-1 15h0m-1 12h0m0-20h0m-2 7h0m-1-6h0m-3 30h0m0 5h0m0-17h0m-2-11h0m-2 25h0m-1-8h0m0 11h0m-3-27h0m-8 22h0m-3-2h0m-3-3h0m-7 1h0m-1-3h0m-3-9h0m-1-27h0m-6 45h0m-9-10h0m-6 12h0m-20-42h0m-82 61h0m33-2h0m7 10h0m5 28h0m9-24h0m8 18h0m0-8h0m1-24h0m15 38h0m1-5h0m5 5h0m5-29h0m3 17h0m4-15h0m0-23h0m2 24h0m2-9h0m0-4h0m1-8h0m7 2h0m2 36h0m2-30h0m0 0h0m3-11h0m1 30h0m2-6h0m2-4h0m2-1h0m0 14h0m2-30h0m0 10h0m6 31h0m0-2h0m2-24h0m2 28h0m0-18h0m0 7h0m0-27h0m1 8h0m1 13h0m0-16h0m2 28h0m3 12h0m4-45h0m2-3h0m0 49h0m1-41h0m2-13h0m1 23h0m0-14h0m2 34h0m0-24h0m5 2h0m0 17h0m0-17h0m5-2h0m2 29h0m4-19h0m1-3h0m1-8h0m3-16h0m1 16h0m4-1h0m0 12h0m0 24h0m0-34h0m1 38h0m1-33h0m0-21h0m1 42h0m0 14h0m0-53h0m2 50h0m1-55h0m0 15h0m1 13h0m0 0h0m0-27h0m1 47h0m1-24h0m4 5h0m0-8h0m1 14h0m2-21h0m1 33h0m1-23h0m4-7h0m3-14h0m1 46h0m1-43h0m3-6h0m0-1h0m0 47h0m1-30h0m1 24h0m2-24h0m1 10h0m1-20h0m1 35h0m0 1h0m1-28h0m1 23h0m0-25h0m2 5h0m1 16h0m2-21h0m1-1h0m8 40h0m1-34h0m1-18h0m5 0h0m3 28h0m0-26h0m4 4h0m2 50h0m1-18h0m6 20h0m0-35h0m10-9h0m7 26h0m6-13h0m0 12h0m1-33h0m0-4h0m7 4h0m4 21h0m2-2h0m7-4h0m4-8h0m2 5h0m2-16h0m5 9h0m16-2h0m11 13h0m18-16h0m12 20h0m31 24h0m11-42h0m-103 66h0m-32-7h0m-64-6h0m-9 24h0m-17-25h0m-6 19h0m-2-8h0m0 38h0m-17-40h0m-6 0h0m-9-9h0m-2 21h0m-4-10h0m-5 29h0m-4-18h0m-44-18h0m-20-4h0m-25 32h0m-12 0h0" stroke="#ff0000" stroke-width="11.0" stroke-linecap="round" stroke-opacity="0.55" fill="none"/>
<path transform="scale(.1)" d="M1974 2435h0m46 0h0m20 24h0m4-33h0m66 18h0m6 4h0m41-9h0m12 17h0m87 3h0m97 60h0m-87-12h0m-12-17h0m-14-14h0m-1 43h0m-15-37h0m-18-14h0m-6 38h0m-1-33h0m-2 12h0m-16-9h0m-2 28h0m0-13h0m-4-22h0m-1 13h0m-5 16h0m-4 8h0m-7-12h0m-2-28h0m-2 42h0m-2-13h0m-3 14h0m0-10h0m-4-18h0m-1 10h0m0 12h0m-2-31h0m-1 20h0m0 10h0m-4 8h0m0 2h0m-5-13h0m-1 19h0m-1-16h0m0 3h0m-1-17h0m-1-17h0m-4 41h0m-1-4h0m-1-33h0m-5 22h0m-1 8h0m-2-33h0m-1 27h0m-2-17h0m0 29h0m0-35h0m-2 26h0m-2-25h0m0 9h0m-3-26h0m-1 26h0m0 10h0m0-3h0m-1 21h0m0-46h0m-1 33h0m-2-23h0m-2-17h0m-1 47h0m0 2h0m0 0h0m0-34h0m0 17h0m-6-31h0m-1 11h0m-2 44h0m0-21h0m-1-27h0m0 27h0m-4-4h0m-4 15h0m-1-12h0m-9-10h0m-6 9h0m0 6h0m-2-5h0m-1 23h0m-1-3h0m-3-17h0m-4 9h0m-1-5h0m0-20h0m-1-13h0m-6 3h0m0 45h0m-3-10h0m-2 2h0m-2 1h0m-1-45h0m-2 47h0m-3-16h0m-2 9h0m0 4h0m-3 10h0m-2-28h0m-1 9h0m-2 10h0m-1 5h0m-2-7h0m0-35h0m-1 40h0m-3-4h0m-3-38h0m-3 31h0m-2 15h0m-7-32h0m-12-6h0m-3 39h0m-7-3h0m-10-29h0m-2 8h0m0-1h0m-1-6h0m-18-8h0m-152 84h0m99-24h0m32-9h0m3 33h0m14-38h0m5 51h0m2-16h0m8 4h0m2-6h0m3 15h0m3-47h0m4 40h0m1 11h0m7-48h0m1 8h0m0 2h0m6 26h0m0-17h0m3 9h0m6-7h0m1-12h0m3 12h0m1 8h0m0 7h0m3 8h0m1-21h0m0-17h0m1-5h0m0 14h0m6 4h0m1 3h0m3 26h0m0-53h0m0 43h0m0-47h0m4 24h0m0 19h0m4-25h0m3 39h0m7-26h0m0-24h0m1 39h0m4-11h0m1-6h0m1 20h0m1-4h0m1-36h0m1 3h0m0 14h0m1-5h0m0 10h0m0-17h0m0 42h0m0-33h0m1-14h0m0-5h0m1 20h0m0 13h0m2-10h0m0-11h0m0 28h0m2-36h0m1 26h0m0-18h0m2 11h0m2 0h0m0-26h0m0 1h0m4 17h0m0 26h0m1-36h0m0 16h0m2 8h0m2-22h0m1 14h0m2-16h0m1-2h0m3-4h0m0 20h0m4-13h0m1-6h0m1 52h0m2-27h0m1-22h0m1 33h0m3-30h0m3 2h0m0-7h0m0-4h0m1 32h0m0 4h0m1-6h0m2 8h0m3-24h0m6 26h0m1-34h0m1 22h0m1 8h0m1-13h0m0 18h0m1-29h0m2 33h0m1-24h0m2 5h0m1 22h0m8-28h0m5-18h0m0 26h0m6 0h0m2 11h0m7-25h0m1 20h0m3-7h0m4 1h0m3-16h0m2-7h0m1 7h0m1-8h0m3-1h0m1-4h0m0 33h0m2-13h0m5 9h0m15-6h0m1-6h0m0 7h0m1 19h0m3-33h0m2 11h0m22-9h0m11 2h0m16-11h0m12-3h0m14 56h0m-69 5h0m-61 6h0m-20 2h0m-19 7h0m-9-14h0m-29 2h0m-13 15h0m-1-3h0m-7 17h0m-3-29h0m-1 21h0m-3-3h0m-3-7h0m-5-9h0m-26-6h0m-80 34h0m-9-8h0m-9-23h0m-20 1h0m-24 4h0m-64 11h0m132 51h0" stroke="#ff0000" stroke-width="11.0" stroke-linecap="round" stroke-opacity="0.55" fill="none"/>
<path transform="scale(.1)" d="M1982 2459h0m37-2h0m14-2h0m7-20h0m11 0h0m64 6h0m18 13h0m16 4h0m0-49h0m10 21h0m8 27h0m96-1h0m20 39h0m-9-1h0m-33 18h0m-29-12h0m-3 12h0m-1-3h0m-6 7h0m0-17h0m-4 2h0m-5 2h0m-5-33h0m-3 48h0m-3-12h0m-1 12h0m-1-20h0m0-17h0m0 34h0m-2-35h0m-2 38h0m-4-11h0m-4-10h0m-2-36h0m0 26h0m-8-17h0m-5 39h0m-1-1h0m-5-27h0m-1-12h0m-1 30h0m-1-38h0m-5 8h0m0 37h0m-1 9h0m-5-46h0m-1 35h0m0 1h0m-2-9h0m-1 18h0m0-49h0m0 33h0m-7-13h0m-1 2h0m-10 19h0m-5-22h0m-1-24h0m-2 24h0m-1-14h0m-1 47h0m0 0h0m0-13h0m0-5h0m-2-20h0m-1 39h0m-3-28h0m-6 23h0m0-19h0m-7 5h0m-1-1h0m-1-22h0m-5 23h0m-4-10h0m-1 12h0m-1 10h0m-5-48h0m0 56h0m-1-25h0m-8-19h0m-1 37h0m-1-8h0m-2-10h0m-11 18h0m0-28h0m0 15h0m0 18h0m-1 1h0m-2-11h0m-3 5h0m0-14h0m-1 21h0m-3-13h0m-5-12h0m-10-2h0m0 19h0m0 5h0m0-28h0m0 6h0m-2-8h0m-4-2h0m-4 31h0m-8-36h0m0 36h0m-1-7h0m-2-8h0m-3 19h0m-1-2h0m-1-8h0m-2-12h0m-12-9h0m-8 3h0m-1-13h0m-7 34h0m-10 3h0m-3 2h0m-3-39h0m-2 32h0m-1 4h0m-3-9h0m-1-8h0m-12-23h0m-8 24h0m-78 44h0m6 33h0m49 0h0m1 2h0m13-33h0m8 29h0m11 0h0m16-34h0m2-8h0m0-6h0m1 41h0m8 9h0m5-16h0m3 11h0m4 7h0m1 1h0m0-5h0m1-12h0m3-10h0m2 4h0m0-20h0m6 17h0m0 10h0m1-8h0m0-11h0m3-14h0m0 16h0m3 5h0m2-13h0m2-3h0m2-9h0m3 23h0m1 0h0m5 15h0m2-27h0m1-13h0m1 19h0m3 14h0m3 5h0m0-29h0m3 30h0m2-36h0m0 39h0m2-8h0m1 3h0m6-25h0m1-7h0m1-1h0m1 46h0m0-9h0m2-22h0m0-22h0m5 3h0m2 44h0m3-45h0m3 21h0m3-5h0m1-7h0m1 20h0m2-31h0m1 46h0m0-43h0m4-2h0m0 40h0m3 9h0m0-43h0m1 29h0m0-36h0m0 9h0m2 20h0m1-7h0m1 15h0m0-8h0m5-4h0m0-11h0m2 6h0m2-15h0m4 1h0m1 37h0m0-25h0m2 31h0m5-6h0m3-6h0m3-8h0m4-20h0m2-9h0m1 13h0m2-7h0m1 14h0m0-11h0m4 30h0m1 9h0m0-40h0m2 16h0m8-20h0m2 22h0m9 12h0m1 1h0m0-35h0m1 37h0m0-30h0m0 28h0m1-27h0m2 4h0m2 12h0m4-19h0m1 1h0m2 0h0m2 7h0m0 8h0m4 21h0m16-39h0m12-5h0m8 41h0m10-41h0m2 11h0m2 2h0m6 31h0m1-10h0m15-19h0m19-10h0m27 10h0m3 32h0m-45 11h0m-77 5h0m-1-3h0m-16-2h0m-14 16h0m-30 5h0m0-8h0m-30-9h0m-18 35h0m-11-37h0m-3 39h0m-5-39h0m0-1h0m-3 3h0m-17 54h0m-4-53h0m-6 5h0m-42-4h0m-13 6h0m-2 26h0" stroke="#ff0000" stroke-width="11.0" stroke-linecap="round" stroke-opacity="0.55" fill="none"/>
<path transform="scale(.1)" d="M1855 2570h0m11 5h0m9 4h0m6-7h0m10 5h0m13-24h0m23 23h0m5-22h0m3 22h0m34-16h0m-19 37h0m-2 18h0m-4-24h0m0 1h0m0 10h0m-5 12h0m0-23h0m-5 7h0m-4-13h0m0 6h0m-3 14h0m-4 18h0m-2-30h0m-2 6h0m-5-2h0m0-15h0m-6 28h0m0-9h0m-2 24h0m-1-23h0m-3-21h0m-2 10h0m-2 6h0m-4-5h0m-3 1h0m-1 1h0m-1-12h0m-6 15h0m-3-12h0m-3 0h0m-1 11h0" stroke="#c07000" stroke-width="11.0" stroke-linecap="round" stroke-opacity="0.5" fill="none"/>
<path transform="scale(.1)" d="M1880 2558h0m25 3h0m4 10h0m11 4h0m1-6h0m4-18h0m24 51h0m0-22h0m-3 13h0m-3-11h0m-1 0h0m-1 36h0m0-32h0m-8 25h0m-4-26h0m-1 5h0m-1 5h0m-2-8h0m-2 19h0m-5-15h0m-1-6h0m-1 10h0m-1 9h0m0 8h0m-1-23h0m-2 25h0m-1-22h0m0-1h0m-2-11h0m-1 7h0m-1 9h0m-3 0h0m-7-11h0m-7 4h0m-2 30h0m-5-38h0m-1 34h0m-3-9h0m-10 16h0m-4-16h0m0-13h0m-1-2h0m0 8h0m-4-12h0" stroke="#c07000" stroke-width="11.0" stroke-linecap="round" stroke-opacity="0.5" fill="none"/>
<path transform="scale(.1)" d="M1889 2567h0m4 9h0m2-2h0m1 5h0m14-12h0m7-5h0m21 16h0m23 33h0m-8 8h0m-4 7h0m-3-41h0m-10-1h0m-4 18h0m-6-19h0m0 8h0m-7 0h0m-1-10h0m0 18h0m0-19h0m-5 6h0m0 24h0m-1-13h0m-1 22h0m0-22h0m-7 15h0m0 5h0m-2-9h0m-3-17h0m-1 47h0m-1-38h0m-4-12h0m-8 19h0m-4-26h0m-6 23h0m-7-23h0" stroke="#c07000" stroke-width="11.0" stroke-linecap="round" stroke-opacity="0.5" fill="none"/>
<path d="M279.5 262.0L283.0 256.0L290.0 253.5L298.0 254.0L305.0 257.0L307.5 263.0L305.0 270.0L297.0 274.5L288.0 274.0L281.5 269.5Z" fill="#0000ff" fill-opacity="0.9" filter="url(#bl1)"/>
<path transform="scale(.1)" d="M2894 2509h0m-36 0h0m0 6h0m-86 3h0m-26 11h0m64 10h0m21-9h0m3 45h0m0-36h0m7 39h0m22-18h0m7 15h0m1-4h0m0-26h0m3 29h0m5 4h0m17-3h0m12-51h0m4 45h0m3 9h0m12-13h0m23-2h0m4 10h0m9-13h0m23-18h0m35 32h0m21-25h0m4 18h0m7-14h0m14 19h0m18 56h0m-3-1h0m-15-19h0m-1 7h0m-35 4h0m-3 15h0m-5-13h0m-8-7h0m-14 15h0m-16-24h0m0-1h0m-4 31h0m-8-48h0m-1 28h0m-2 17h0m-1-2h0m-2-6h0m-3 4h0m-6-30h0m-1 32h0m-6-6h0m0-14h0m0-27h0m-2 55h0m-4-12h0m-1-13h0m-2 18h0m-3-45h0m-2 32h0m-4 5h0m-2-32h0m0 38h0m-4-12h0m-1-16h0m-1 5h0m-1 33h0m-1-39h0m-1 28h0m-1-20h0m-2 6h0m-1-4h0m0-25h0m-3 33h0m-1 21h0m-3-26h0m-1-7h0m-2-10h0m-2 16h0m-2-8h0m-10 22h0m-3-5h0m-4-16h0m-6 21h0m-3-4h0m-3 11h0m-1-11h0m-3-5h0m0-5h0m-1 5h0m-3-21h0m-3 2h0m-2 9h0m0 25h0m-3-18h0m-5 19h0m-1-41h0m-2 33h0m-4-6h0m-6 13h0m-1 3h0m0-49h0m-3 25h0m-2 12h0m-1-26h0m-2-14h0m0 21h0m-8 5h0m-2 27h0m-1-35h0m-9 37h0m-1-52h0m0 6h0m-3-2h0m-8 31h0m-1-19h0m-41 13h0m-15 14h0m-10-18h0m-4-2h0m-13-18h0m1 94h0m36-39h0m8 1h0m1 17h0m18 33h0m14-31h0m4-19h0m2 2h0m0 40h0m1-36h0m7-9h0m3-1h0m2 37h0m3-40h0m1 6h0m11 51h0m2-40h0m5 36h0m1-28h0m0 2h0m2-25h0m1 9h0m8 20h0m2-15h0m0-9h0m1 31h0m1-18h0m1 32h0m4-16h0m1-25h0m0-10h0m0 0h0m10 33h0m0-26h0m1 7h0m4 35h0m1-15h0m4 2h0m2-34h0m1 15h0m2 2h0m1 3h0m2 10h0m0-26h0m2 5h0m0 29h0m1-28h0m0 40h0m2-22h0m2-16h0m3 36h0m0-47h0m1-2h0m3 26h0m0 6h0m4 16h0m0 6h0m4-12h0m1-24h0m1-7h0m6 1h0m0 35h0m0-6h0m1 16h0m3-2h0m1-31h0m0 27h0m5-10h0m2-31h0m7 16h0m1 25h0m1-8h0m1-4h0m0-12h0m1 20h0m0-44h0m4 10h0m0-6h0m1 12h0m2 18h0m2-39h0m2 34h0m3-19h0m4 32h0m3-17h0m4 4h0m0 23h0m2-14h0m9-6h0m1-31h0m2 3h0m2 19h0m2-26h0m1 41h0m1-35h0m4 7h0m1-7h0m4 9h0m0 3h0m1-6h0m2 27h0m0-27h0m6 38h0m3 4h0m3-42h0m7 15h0m0 4h0m2-3h0m1 25h0m1-55h0m4 36h0m4-15h0m6-8h0m2 46h0m0-16h0m12-3h0m11-26h0m9-12h0m24 10h0m6-5h0m54 27h0m-47 66h0m-30-28h0m-22 5h0m-22 27h0m0-41h0m-8 14h0m-27 9h0m-9-24h0m-9 21h0m-4 23h0m-4-1h0m-4-24h0m-9-14h0m-7-7h0m-4 1h0m-22 53h0m-15-25h0m-1 5h0m-3-15h0m-9 19h0m0-25h0m-21 11h0m-23-14h0m-28 13h0m-36 8h0m44 33h0m91-3h0m32 7h0m13 26h0" stroke="#0000ff" stroke-width="11.0" stroke-linecap="round" stroke-opacity="0.55" fill="none"/>
<path transform="scale(.1)" d="M2968 2473h0m-54 38h0m-15-14h0m-193 70h0m76-35h0m14 47h0m29-11h0m11 2h0m14-15h0m16-5h0m1 16h0m1-15h0m11 2h0m17 15h0m26-22h0m9-22h0m4 42h0m8-2h0m9 13h0m1 0h0m0-11h0m6-6h0m4-14h0m32-22h0m5 29h0m11 6h0m89 3h0m-34 71h0m-1-28h0m-12-15h0m-6 27h0m-7-28h0m-5-2h0m-1 35h0m0 11h0m-10-42h0m-1-7h0m-2 22h0m-1 7h0m-3-1h0m-6 17h0m-23 4h0m0-42h0m-4 26h0m-2 3h0m-2 9h0m-3-19h0m-2 24h0m0-22h0m-5 26h0m-5-11h0m0-21h0m-1-21h0m-2 44h0m0-34h0m0 24h0m-1-18h0m-1 2h0m-1 14h0m-4-24h0m-1 26h0m0 20h0m-3-41h0m-3-6h0m-9 41h0m0-38h0m-3 29h0m0-21h0m0-23h0m-1 35h0m-3 18h0m0-16h0m-3 14h0m0-29h0m-3-20h0m0 48h0m-2-37h0m-4 40h0m-1-29h0m-2 16h0m-1-20h0m-4 21h0m-1-34h0m-1 20h0m-1 19h0m-5 3h0m-1 7h0m-3-4h0m0 2h0m-4-18h0m-3 23h0m-7-6h0m-3-51h0m0 28h0m-4 6h0m-6-26h0m-2-4h0m-2 26h0m-3-5h0m-3-23h0m0 19h0m0 30h0m-4 5h0m-3-3h0m-2-23h0m-9-6h0m-3 29h0m-1-50h0m-1 47h0m-1-29h0m-3-14h0m0 0h0m-1 10h0m-4 9h0m-3 27h0m-4-23h0m-18 11h0m-13 12h0m-3-25h0m0 15h0m-28-7h0m-27 10h0m-30-16h0m50 72h0m5-12h0m16-6h0m21-2h0m6 29h0m3-13h0m8-4h0m3-10h0m0-12h0m2 3h0m5-13h0m3 15h0m6-5h0m1 10h0m1 4h0m1-13h0m3 8h0m7 6h0m0-20h0m5 31h0m2-15h0m3 26h0m1-16h0m2-4h0m4-18h0m4-3h0m1 15h0m2-1h0m2 19h0m2-34h0m0-8h0m1 3h0m1 18h0m0 11h0m0 15h0m3-16h0m3 5h0m2-17h0m0 6h0m3 10h0m2-35h0m0 5h0m2 4h0m0 29h0m1-20h0m0 38h0m0-17h0m1-36h0m0 32h0m1-33h0m3 51h0m3-23h0m2-11h0m1 3h0m0-18h0m3 13h0m0 28h0m2-32h0m1-5h0m2 19h0m1 3h0m1-20h0m4 39h0m2-41h0m0 11h0m1-8h0m1 20h0m1-9h0m1 25h0m1-23h0m0-11h0m0 10h0m0 12h0m1 4h0m2-37h0m2 22h0m4 11h0m0 12h0m1-5h0m5-2h0m1-30h0m0-6h0m6 22h0m0 0h0m3-12h0m2 23h0m1-36h0m0 52h0m6-25h0m4 2h0m0-26h0m0-3h0m1 43h0m1-35h0m0 27h0m1 3h0m0 14h0m3-23h0m6-21h0m1 40h0m7-42h0m2 22h0m2-25h0m1 47h0m4-47h0m2 27h0m3-4h0m1-24h0m3 35h0m3-33h0m3 42h0m12-26h0m5-1h0m9 2h0m0-5h0m1 6h0m1 28h0m13-21h0m0-2h0m13-20h0m8-5h0m3 35h0m32-32h0m-25 85h0m-35-15h0m-18-5h0m0 11h0m-5-15h0m-12 36h0m-7-41h0m-2 1h0m-13 9h0m-6 5h0m-1-17h0m-4 39h0m-22-37h0m-1 53h0m-12 0h0m-5-54h0m-3 45h0m-8-33h0m-5-12h0m-2 32h0m0-21h0m-18-8h0m-2 12h0m-1-3h0m-19-6h0m-9-7h0m-4 49h0m-3-17h0m-6-28h0m-2 1h0m-10 52h0m-12-49h0m-3-6h0m-2 9h0m45 53h0" stroke="#0000ff" stroke-width="11.0" stroke-linecap="round" stroke-opacity="0.55" fill="none"/>
<path transform="scale(.1)" d="M2972 2512h0m-81 7h0m-4 0h0m-8-12h0m-15 10h0m-106 59h0m69-23h0m5-3h0m10 7h0m3-4h0m5-3h0m10-25h0m1 26h0m1-22h0m18 22h0m4 27h0m21-22h0m11 16h0m3-12h0m11-1h0m16 10h0m6 0h0m17-13h0m9-22h0m1 1h0m18 17h0m9 21h0m25 0h0m0 4h0m12-38h0m26 81h0m-7 14h0m-23-18h0m-15-22h0m-3-10h0m-1 19h0m-6 6h0m-1 22h0m-3-20h0m-4 14h0m0-40h0m-4 12h0m-3-9h0m0 44h0m-1 1h0m-2-13h0m-9-15h0m-1 13h0m0-15h0m-3 2h0m-2 1h0m-4 13h0m-12-4h0m-3-11h0m-1 17h0m-3 2h0m0-36h0m0 27h0m-3 8h0m-1 16h0m-5-20h0m-1 21h0m0-19h0m-11 9h0m0-40h0m-3 28h0m-1-2h0m0 7h0m-3 10h0m-1 1h0m-2-2h0m-7-36h0m-5 19h0m0-15h0m-1 14h0m-1-14h0m-2 19h0m-1 0h0m0 16h0m-1-37h0m-1 29h0m-2 11h0m-2-7h0m-7-31h0m-2 17h0m-6-5h0m-1 28h0m0-58h0m0 26h0m-4 12h0m-1-27h0m0 8h0m0 6h0m-8-22h0m-1 14h0m-1 24h0m-1 6h0m-1-3h0m-1-27h0m-1 11h0m-2 30h0m0-9h0m-3 2h0m0-27h0m-1 31h0m-1-24h0m-7 10h0m-4 11h0m-1-14h0m-3-19h0m0-11h0m-1 17h0m-3 8h0m-2-15h0m-4 35h0m-4-37h0m0 36h0m-2 3h0m-21-24h0m0-8h0m-3-8h0m-2 43h0m-44-22h0m-41 19h0m-17-25h0m1 68h0m51 7h0m5-15h0m29-21h0m5 32h0m12-12h0m2-1h0m18-20h0m6-4h0m1 2h0m9 21h0m1-26h0m1 16h0m1-17h0m4 37h0m5-29h0m5-7h0m2 1h0m9 21h0m1-24h0m0 42h0m7-33h0m1 13h0m1 8h0m2 4h0m2-31h0m1 19h0m1 3h0m7-23h0m1 49h0m0-33h0m2-8h0m1 43h0m1-46h0m1 49h0m2-35h0m1 1h0m2-20h0m3 56h0m2-17h0m2-24h0m1-17h0m1 43h0m1-21h0m5-9h0m9 0h0m2 21h0m3-14h0m0 14h0m3-11h0m0-13h0m1 10h0m1 8h0m0-2h0m3 30h0m4-41h0m2 1h0m1 2h0m1 13h0m2-20h0m1-6h0m0 46h0m2-24h0m4-18h0m2 26h0m0-29h0m1 41h0m1-9h0m6 8h0m1-17h0m1-2h0m4 3h0m0-10h0m5 16h0m0-32h0m1 25h0m3-16h0m8 23h0m6 15h0m0-23h0m0 12h0m3-28h0m1 16h0m1-11h0m5 4h0m1 10h0m3 25h0m16-15h0m7 5h0m4-20h0m1-8h0m13 1h0m2 24h0m2-39h0m5 21h0m3 12h0m19 5h0m46 19h0m-80 42h0m-17-33h0m-6-5h0m-7 19h0m-2-6h0m-17 5h0m-19-23h0m-1 32h0m-20 9h0m-25-36h0m-6-1h0m-9 40h0m-4-37h0m0 17h0m-4 19h0m-18 6h0m-10-33h0m-1-16h0m-19 19h0m-6-18h0m-9 4h0m-1 23h0m-2 28h0m-89-53h0m-6 15h0m145 71h0" stroke="#0000ff" stroke-width="11.0" stroke-linecap="round" stroke-opacity="0.55" fill="none"/>
<path d="M300.0 265.0L307.0 262.0L316.0 261.0L322.0 263.0L327.0 270.0L333.0 284.5L329.0 285.5L318.0 281.0L308.0 277.0L302.0 272.0Z" fill="#22e622" fill-opacity="0.85" filter="url(#bl1)"/>
<path transform="scale(.1)" d="M3214 2616h0m-76 4h0m-13 4h0m-17 6h0m-8-50h0m-28 47h0m-7 8h0m-12-42h0m-77 75h0m8-17h0m54 14h0m11 6h0m0-3h0m1-5h0m11-20h0m1 43h0m4-39h0m3 21h0m14 16h0m3 2h0m3-45h0m3 58h0m1-55h0m5 11h0m2 25h0m2 9h0m1-45h0m1 45h0m0-42h0m0 36h0m2-22h0m0 16h0m4-3h0m3-17h0m1-7h0m2 32h0m0-25h0m4-16h0m8 57h0m0-1h0m0-5h0m1-4h0m3-8h0m1-37h0m1 52h0m4-5h0m0 9h0m2-32h0m1 15h0m2-17h0m2 12h0m1 10h0m5-11h0m4-21h0m4 2h0m1 16h0m2 15h0m2-7h0m0 11h0m2-5h0m0-13h0m7 0h0m6 12h0m8 4h0m1-9h0m0 14h0m14-49h0m9 22h0m4 24h0m7-7h0m42-29h0m1 24h0m11 42h0m-15 17h0m-4-7h0m-5 2h0m-14-31h0m-1 39h0m-2 1h0m-7-2h0m-6 8h0m-4-37h0m-7-8h0m-2 21h0m-2 33h0m-3-12h0m0-32h0m-3 27h0m0 12h0m-4-2h0m-3-48h0m-1 18h0m-3-16h0m-1 46h0m-2-36h0m0-9h0m-1 32h0m0-3h0m0-1h0m0 8h0m-3-26h0m-2 11h0m0 1h0m0 19h0m0 0h0m-1-38h0m-1 2h0m-1 5h0m-3 6h0m-2 27h0m0-23h0m-4 19h0m-1 14h0m-2-32h0m0 11h0m0 5h0m-8 13h0m-2 2h0m0-8h0m-1-43h0m-3 5h0m0 34h0m-1-39h0m-1 26h0m0-33h0m-1 23h0m-4 14h0m0-37h0m-1 20h0m-1 29h0m-1 1h0m-1-9h0m0 15h0m0-43h0m-1-4h0m-3 17h0m0-19h0m-2 14h0m-3 9h0m-1-25h0m0 46h0m0-21h0m-2 25h0m-3-17h0m-1-37h0m-1 17h0m0-18h0m0 58h0m-1-41h0m-1 9h0m0-6h0m-3 14h0m-4-13h0m-2 36h0m-2-56h0m0 19h0m0 22h0m-1-10h0m-2-13h0m-1 14h0m-1-28h0m-2 27h0m-4-28h0m-1 0h0m0 42h0m-1-26h0m-1 20h0m-4 3h0m0-23h0m-4-14h0m-1 5h0m-1 24h0m-2 23h0m-1-39h0m-9 10h0m-4-25h0m-1 35h0m-14-15h0m-10-14h0m-4 0h0m-6-2h0m-13 7h0m-6 21h0m-1-11h0m-32 25h0m-70-5h0m117 46h0m27-19h0m10-3h0m2 5h0m20 1h0m1 9h0m7 14h0m10-33h0m4 28h0m3-25h0m6 3h0m3 17h0m6 9h0m0-8h0m5-27h0m6-2h0m4 0h0m4 4h0m2 6h0m6-8h0m6 6h0m6-6h0m0 23h0m1-25h0m5 9h0m0 17h0m2-3h0m3 19h0m0-35h0m0-3h0m10 24h0m4 20h0m6-18h0m1-14h0m1-8h0m1 21h0m4-21h0m2 15h0m1-2h0m1-16h0m15 26h0m1-24h0m3 16h0m2 0h0m5-6h0m7 12h0m4-7h0m4-20h0m2 9h0m3 35h0m5 8h0m1-25h0m5 2h0m1 28h0m1-23h0m2 11h0m1 9h0m3-21h0m4 24h0m6-28h0m8 25h0m32 34h0m-2 1h0m-1 4h0m-7-10h0m-12 12h0m0-36h0m-1 7h0m-5 9h0m-10 2h0m0-12h0m-1 8h0m-5-15h0m-1 13h0m-4 4h0m-11 20h0m-26-29h0m-76-4h0" stroke="#22e622" stroke-width="11.0" stroke-linecap="round" stroke-opacity="0.55" fill="none"/>
<path transform="scale(.1)" d="M3200 2637h0m-27-7h0m-40 3h0m-48 2h0m-12-14h0m-17 12h0m-28 6h0m-9-51h0m-33 69h0m16-11h0m15 44h0m3-37h0m17 33h0m0-4h0m11-5h0m5 9h0m9 1h0m2 4h0m9-29h0m5 15h0m3-34h0m1 13h0m0-13h0m1 51h0m4-7h0m9-18h0m1 8h0m1 5h0m1-3h0m1 12h0m3-7h0m1-4h0m5-4h0m2-4h0m7 11h0m4-17h0m1-6h0m5 31h0m1-25h0m1 29h0m0-40h0m1 42h0m1-42h0m0 5h0m0 9h0m1-18h0m4 29h0m1 18h0m2-8h0m2 7h0m2-38h0m1 30h0m3-30h0m1-2h0m4 1h0m2 23h0m1 10h0m1-5h0m3 1h0m3-13h0m1 25h0m7-31h0m1 12h0m1 17h0m0-36h0m4 24h0m0-37h0m3 38h0m0 4h0m3-50h0m1 58h0m5-8h0m0-11h0m11-35h0m5 55h0m7-2h0m19-44h0m6 28h0m9 6h0m13 70h0m-2-27h0m-3 28h0m-24-15h0m-4-2h0m0-16h0m-3 20h0m-1 11h0m-14-12h0m-1-13h0m-3 12h0m-3-7h0m0-17h0m-4-10h0m-1 4h0m0 42h0m0-37h0m-4 34h0m0-18h0m-1 25h0m-1-1h0m-1-4h0m-1-19h0m-3-23h0m0 45h0m0-3h0m-2-30h0m-2-17h0m-3 35h0m-1-6h0m0 0h0m-3-3h0m-1-11h0m-1 6h0m-3 1h0m0-19h0m-1 33h0m-3 7h0m-1 3h0m0-7h0m-1 0h0m-2 6h0m0-14h0m-1-2h0m0-9h0m-3 30h0m-1-54h0m0-3h0m-2 17h0m-1-2h0m-1 20h0m-1-12h0m-1 11h0m-1-4h0m-2 3h0m-1-23h0m-1 39h0m0-32h0m0 11h0m-1 1h0m0-29h0m-3 26h0m0 8h0m0-32h0m0 7h0m-1 20h0m0 11h0m0 18h0m-2-15h0m-1-40h0m0 27h0m-1-13h0m0 14h0m0 4h0m-6 5h0m-1 4h0m-2-20h0m-2 14h0m0-1h0m-2-31h0m-1 24h0m-2-13h0m-2 34h0m-2-12h0m0-20h0m-1 8h0m-1-5h0m-3 2h0m-1-14h0m-2 12h0m-2 2h0m-1-13h0m-5-9h0m-3 18h0m0-3h0m-1-1h0m-2 16h0m-4-7h0m-1-5h0m-7 28h0m-2 4h0m-1-48h0m-7 10h0m-1-12h0m0 8h0m-6 9h0m-2 38h0m-8-20h0m-4 13h0m-1-29h0m0-21h0m-17 17h0m-3 30h0m-17-9h0m22 43h0m19-7h0m44 28h0m5-33h0m2-4h0m1 4h0m1 12h0m15-13h0m2 25h0m7-29h0m10 3h0m0 5h0m5-4h0m7-8h0m16 14h0m1 8h0m7-1h0m1-21h0m7 13h0m7-11h0m0 27h0m4-19h0m9 15h0m0-6h0m4 16h0m3-32h0m2 23h0m3-5h0m1-3h0m3 41h0m0-49h0m6 18h0m0-28h0m11 31h0m2 13h0m0-14h0m5 28h0m0-2h0m12-1h0m1-3h0m1-15h0m10-14h0m1 21h0m0-1h0m6-25h0m2 17h0m2-1h0m1-15h0m2-13h0m0 32h0m4 20h0m4-5h0m6-14h0m1-1h0m3 14h0m18 5h0m3 26h0m-7-3h0m-1 23h0m-3-19h0m-2-16h0m-3 27h0m0 8h0m-1-36h0m-2-2h0m0 30h0m-2-23h0m-1 13h0m0-17h0m-2 17h0m-7-13h0m-12 19h0m0-14h0m-13 18h0m-6-14h0m-9 6h0m-15-16h0m-138-8h0" stroke="#22e622" stroke-width="11.0" stroke-linecap="round" stroke-opacity="0.55" fill="none"/>
<path transform="scale(.1)" d="M3219 2632h0m-71 6h0m-54-9h0m-7-7h0m-6-32h0m-60 14h0m-77 75h0m42-38h0m5 26h0m13-11h0m18 29h0m5-4h0m14 13h0m1-27h0m0 19h0m4-6h0m0-6h0m2-10h0m1 19h0m9-13h0m4 24h0m4-51h0m9 11h0m5 0h0m0 27h0m1-1h0m6-30h0m6 35h0m1 2h0m1 2h0m1-40h0m5 48h0m5-12h0m2-16h0m12 8h0m1-4h0m2 23h0m1-33h0m0 36h0m0-17h0m3-27h0m4 18h0m0 4h0m0 19h0m6-33h0m2 36h0m0-37h0m0 33h0m8 4h0m1-14h0m1-15h0m0 26h0m3-41h0m5 13h0m1 18h0m4-2h0m5 0h0m2 8h0m1-29h0m1 25h0m6-5h0m8-10h0m2-27h0m8 28h0m2 11h0m50-9h0m31 34h0m-1-10h0m-27 32h0m-3 1h0m-2 19h0m-7-24h0m0 16h0m-4 4h0m-4-19h0m-2 29h0m-1-50h0m-3-4h0m0 48h0m-3-11h0m-1 4h0m-2-36h0m-5 31h0m-1-14h0m-1-22h0m-1-3h0m-1 38h0m-1-22h0m-1 30h0m-2-8h0m-1-2h0m-1 3h0m0 9h0m-3 3h0m-3-13h0m-2-8h0m-2 1h0m0 15h0m-2-28h0m0 33h0m-2-27h0m-7 5h0m-1-9h0m-7 17h0m-2 15h0m0-2h0m-1-20h0m0-30h0m-1 39h0m-1 1h0m0 15h0m-1-22h0m0-13h0m-2 15h0m-4 2h0m0 2h0m-2-35h0m-2 38h0m-1-34h0m-4 28h0m-1-14h0m-2 12h0m-3 20h0m0-11h0m-3-28h0m0-5h0m-1 10h0m-1-15h0m-1 18h0m-2-6h0m0 30h0m-3-34h0m0-2h0m0-8h0m-2 1h0m-1 26h0m-1-19h0m-3 7h0m0 22h0m-1 10h0m-1-6h0m-2 8h0m-3-26h0m-1 10h0m-1-24h0m-1 0h0m0-9h0m-1 29h0m-2-6h0m-6 7h0m0-5h0m-4-8h0m-3 37h0m-1-29h0m-2-12h0m0 38h0m-2-35h0m0 13h0m-3-32h0m-5 30h0m-1 19h0m-10-6h0m0-20h0m-1-3h0m-8-16h0m-1 33h0m-3-28h0m-3 14h0m-5-1h0m-1-23h0m-1 30h0m-4-21h0m-17 24h0m-13 21h0m-1-28h0m22 35h0m32 11h0m25-11h0m14 3h0m3-4h0m6 2h0m6 53h0m14-40h0m6 23h0m2-33h0m1 16h0m9-19h0m4 34h0m13-17h0m1 23h0m0-39h0m1 26h0m2 12h0m5 16h0m6-22h0m2-25h0m0 25h0m6-5h0m9-17h0m4 14h0m0-7h0m2 6h0m4-16h0m0 27h0m2-23h0m3 8h0m2 9h0m1-7h0m0 9h0m1-32h0m3 31h0m3-3h0m0 23h0m1-46h0m2 25h0m0 21h0m4-27h0m1 12h0m1-10h0m1 25h0m2 0h0m5-2h0m1-37h0m2 41h0m5-20h0m0 22h0m1-19h0m3-24h0m0 13h0m2 0h0m0 12h0m0 20h0m2-25h0m0 9h0m2 3h0m0-29h0m2-11h0m2 50h0m2-13h0m7 6h0m1 8h0m4-27h0m2 27h0m1-2h0m3 2h0m16-24h0m4 45h0m-1 10h0m-2 5h0m-4 10h0m-3-18h0m-4-23h0m-1 27h0m-10-24h0m0-1h0m-2 29h0m-6-31h0m-4 4h0m-5 8h0m-13 8h0m-1-12h0m-7-8h0m-6 1h0m-22 5h0m-20-3h0" stroke="#22e622" stroke-width="11.0" stroke-linecap="round" stroke-opacity="0.55" fill="none"/>
<path d="M306.0 260.0L306.5 250.0L310.0 242.0L315.0 236.0L320.5 231.0L324.0 230.5L326.5 236.0L327.0 246.0L326.0 255.0L322.0 262.0L314.0 264.0L308.0 263.5Z" fill="#ff0000" fill-opacity="0.9" filter="url(#bl1)"/>
<path transform="scale(.1)" d="M3214 2321h0m5 16h0m1-3h0m2-11h0m1-1h0m1 16h0m1-3h0m1 1h0m4-22h0m1 6h0m6 13h0m16 12h0m-3 43h0m-6-24h0m-5-8h0m-9 2h0m-4 31h0m-9-33h0m-2 34h0m0-15h0m-1-10h0m-6 14h0m-1 14h0m-3-43h0m-3 12h0m-2 19h0m-8-17h0m-7 10h0m-3-3h0m0-3h0m-1-13h0m-1 35h0m-3 1h0m-22-9h0m-5-7h0m-69 66h0m10-30h0m5 39h0m8 9h0m8-53h0m8 20h0m5-23h0m12 51h0m6-30h0m2 17h0m1 15h0m3-51h0m0 37h0m6 10h0m0-39h0m2 14h0m0-27h0m2 30h0m2 11h0m1-1h0m7-34h0m1 42h0m0-18h0m8 24h0m3 5h0m0-33h0m2 17h0m2-23h0m2 27h0m2-9h0m3-33h0m0 36h0m3 17h0m1-11h0m3 6h0m0-38h0m2 6h0m6-3h0m1-11h0m3 46h0m2-15h0m3-5h0m2-24h0m2 46h0m3-25h0m2 3h0m4-9h0m2-18h0m3 0h0m6 41h0m8 6h0m0-51h0m119 95h0m-59-5h0m-74 8h0m-7-31h0m-1 12h0m0 33h0m-1-42h0m-7 6h0m-2 34h0m-1-40h0m-1 44h0m-2-27h0m-1-23h0m-1 48h0m0-1h0m-4-44h0m-1 32h0m-1-6h0m-1-16h0m0 13h0m-4-12h0m-1 27h0m0 6h0m-1-8h0m-2-14h0m-1 3h0m-2-16h0m-5 6h0m-1 6h0m-3 23h0m0-1h0m-2-11h0m-2-22h0m-4 11h0m-4 15h0m-4-41h0m-2 46h0m-1 6h0m-3-20h0m-5-9h0m-3-19h0m-1 48h0m0-43h0m-1 36h0m-1 10h0m-4-57h0m-1-2h0m-3 14h0m-4 43h0m-1-37h0m-1-3h0m-4 41h0m0-29h0m-2-9h0m-2-17h0m0 42h0m-1-24h0m-4 29h0m0-39h0m-5-2h0m-2 30h0m0-12h0m-16 19h0m-4 3h0m-2-29h0m-1-16h0m-1 35h0m0-18h0m-8 23h0m-3-34h0m-1 25h0m-2-10h0m-7-17h0m-7 34h0m-38 42h0m34 17h0m0-14h0m12 3h0m17-4h0m4-23h0m4 35h0m7-3h0m11 13h0m0 1h0m6-15h0m1-13h0m1 29h0m0-14h0m9 20h0m0-34h0m8 8h0m0-12h0m4-8h0m1-6h0m5 18h0m1 6h0m1-8h0m1-17h0m0 6h0m0-7h0m1 41h0m0 4h0m0-35h0m5 40h0m1-52h0m6 53h0m4-11h0m2-6h0m1 4h0m0-11h0m2-14h0m7 19h0m1 2h0m1-35h0m0 42h0m7 7h0m2-29h0m1 10h0m4 21h0m3-13h0m1-18h0m2-9h0m9 30h0m0 16h0m3-50h0m2 18h0m1-11h0m3 25h0m1-13h0m1-5h0m2 16h0m1-6h0m1-30h0m5 5h0m1 31h0m0-31h0m3 20h0m10-22h0m7 9h0m5 20h0m0-18h0m11-12h0m23 43h0m2 12h0m1-56h0m30 11h0m-100 88h0m-6-38h0m-3 13h0m-2-14h0m-9 16h0m-1-10h0m-1 24h0m-16-18h0m-1-13h0m-2 17h0m-11 14h0m-3-13h0m0 26h0m-1-35h0m-3-8h0m0 28h0m-1-2h0m-14-26h0m-14 5h0m-10-8h0m0 4h0m-5 5h0m-1 41h0m-1-30h0m-3-16h0m-3 55h0m-1-35h0m-24 4h0m-12 36h0m89 33h0m50 4h0" stroke="#ff0000" stroke-width="11.0" stroke-linecap="round" stroke-opacity="0.55" fill="none"/>
<path transform="scale(.1)" d="M3191 2332h0m22-16h0m4 23h0m8-26h0m2 17h0m10-10h0m3 16h0m3-10h0m8 66h0m-2-26h0m-1-19h0m-6 44h0m-6-38h0m-2 13h0m-1 27h0m0-6h0m-1-26h0m-1-15h0m-4 34h0m-5-14h0m-6-25h0m0 58h0m-3-31h0m-1-10h0m0 34h0m-2-27h0m-1-2h0m0 11h0m-2-32h0m-3 32h0m-3-29h0m-3 41h0m0-2h0m-3 0h0m-6-16h0m-3 8h0m-4 21h0m-2-33h0m-1 24h0m-8-4h0m-2 11h0m-1-24h0m-1 1h0m-15 13h0m-31 14h0m-29 0h0m-59 23h0m50 32h0m11-10h0m14-12h0m4 10h0m6 8h0m0-17h0m3 0h0m3 8h0m15-1h0m5 0h0m5-1h0m4 10h0m3-38h0m3 47h0m5-46h0m2 10h0m4-22h0m4 15h0m1-3h0m2 15h0m1 12h0m1 10h0m0 2h0m1-45h0m3-5h0m5 22h0m2 31h0m1-15h0m1 20h0m1-13h0m2-4h0m4 9h0m0-50h0m3 46h0m1-46h0m3 19h0m2 11h0m2-4h0m1 12h0m2 4h0m1-37h0m3-2h0m0 27h0m0 9h0m2 4h0m3 14h0m5-12h0m1 12h0m0-48h0m5 24h0m7-10h0m2 34h0m10-5h0m21-4h0m6 69h0m-7-11h0m-4-36h0m-11 11h0m-6-19h0m-10 13h0m-4 15h0m-3 2h0m-2 12h0m-3-14h0m0-13h0m-1 14h0m-8 17h0m0-24h0m0 29h0m-4-6h0m-4-8h0m-2 14h0m-3-30h0m-1 26h0m0-32h0m0 32h0m-2-15h0m-3 14h0m-2-17h0m0-14h0m-3-11h0m-1 19h0m-3 7h0m-1-1h0m0-25h0m-2 13h0m-5-2h0m-1-3h0m0 10h0m0 22h0m-1 10h0m0-7h0m-2-37h0m-2-7h0m-2 53h0m-2-30h0m0 27h0m-1-48h0m-1 33h0m0-18h0m-2-22h0m-1 31h0m-1 14h0m0-26h0m-2 3h0m0-9h0m-1-4h0m0 2h0m0 31h0m-1 8h0m-6-23h0m-1 23h0m-2-29h0m-2 9h0m-3 7h0m-1 13h0m-1-4h0m-6-43h0m-1 49h0m0-15h0m0-34h0m-5 18h0m-1-11h0m-2 2h0m-4 27h0m-5-28h0m-5 27h0m0 19h0m-2-55h0m-2 53h0m-2-5h0m-4-11h0m-3-31h0m-4 25h0m-2-22h0m-2 8h0m-14-7h0m-4 2h0m-8-12h0m0 40h0m-10-13h0m-6 19h0m-10-13h0m-5-20h0m-21 82h0m4 21h0m23-29h0m18 8h0m12 18h0m2-22h0m0 10h0m11 2h0m7-38h0m5 51h0m0-36h0m5 18h0m1-14h0m2 17h0m2-13h0m0-24h0m2-2h0m5 34h0m3-28h0m2 5h0m2 36h0m0-45h0m7 18h0m1-12h0m1 21h0m2 12h0m0-42h0m5 27h0m3 5h0m3-23h0m4 15h0m4-19h0m2 6h0m3 14h0m1-9h0m5 33h0m1 0h0m0-51h0m1 34h0m1 3h0m5-17h0m2-8h0m1 14h0m2-21h0m0-7h0m6 12h0m4 9h0m2-6h0m0 42h0m0-48h0m2 40h0m3-48h0m0 8h0m3 6h0m4 38h0m3-53h0m1 7h0m1 2h0m2 35h0m4-24h0m0-14h0m3 46h0m3-18h0m1 15h0m10-42h0m5 49h0m4-1h0m2-22h0m4 4h0m2-23h0m5-11h0m4 49h0m0-40h0m-10 97h0m-42-18h0m-8-2h0m-3-1h0m-4-21h0m-1-1h0m-19 31h0m-1-19h0m-13-12h0m0 17h0m-10-19h0m-5 15h0m-6 6h0m-4-3h0m-6-16h0m-3 26h0m-3-23h0m-28 7h0m-26 3h0m124 48h0m25 7h0m32-7h0m46 6h0" stroke="#ff0000" stroke-width="11.0" stroke-linecap="round" stroke-opacity="0.55" fill="none"/>
<path transform="scale(.1)" d="M3175 2310h0m30 1h0m8 19h0m0 1h0m7 2h0m2-15h0m1 19h0m2-4h0m0-18h0m1 20h0m0-1h0m3-13h0m1-1h0m2 17h0m5-11h0m4-1h0m0-5h0m4 9h0m14 60h0m-6-26h0m-6 8h0m-5-19h0m-1 21h0m-8-15h0m0-18h0m-15 57h0m-3-28h0m0-11h0m-1-8h0m-1 14h0m-2-23h0m-1 36h0m-3 12h0m-3-3h0m0-37h0m-1 46h0m0-38h0m0-13h0m-1 47h0m-2 8h0m-1-34h0m-4 11h0m0-16h0m-1 27h0m-2-3h0m-6-32h0m-6 24h0m0-11h0m-9 10h0m-3-11h0m-56 29h0m-45 63h0m31 2h0m9-11h0m9-22h0m6 21h0m7-19h0m0 28h0m6-53h0m4 25h0m3 30h0m0-30h0m3-20h0m1 40h0m0-21h0m6-17h0m3 30h0m2 5h0m0 5h0m3-21h0m8 17h0m0-29h0m0 25h0m2 18h0m1-11h0m1-13h0m4-26h0m1 48h0m0-50h0m1 26h0m3-30h0m8 27h0m1-27h0m1 21h0m0-16h0m1 3h0m1 42h0m0-42h0m1 36h0m1-11h0m2-23h0m1 38h0m1 2h0m2-35h0m2 23h0m2 11h0m4 1h0m5-45h0m3 22h0m9 27h0m1-42h0m1 11h0m0 18h0m2-27h0m10 10h0m4 8h0m4 5h0m2-4h0m39-31h0m1 49h0m8 2h0m-5 44h0m-14-23h0m-18 22h0m-17-5h0m-9 14h0m-7-42h0m-7 26h0m-2-6h0m-1-24h0m-6 50h0m-6-11h0m-4-15h0m-5-19h0m-2 28h0m-2 21h0m-2-36h0m-4 19h0m0-36h0m-1 50h0m-1-43h0m-1 10h0m0-7h0m0 28h0m-9-2h0m0 10h0m-1-25h0m-1 31h0m-3-25h0m-1 9h0m-1-8h0m0-23h0m-2 12h0m-1 13h0m-1 14h0m-2-4h0m0-15h0m-1 31h0m-3-28h0m0 21h0m0-30h0m-1 21h0m0 4h0m-4-37h0m0 8h0m-2 29h0m-2-9h0m0 2h0m-2-20h0m-1-15h0m-1 9h0m0-13h0m-1 3h0m-1 41h0m-1-22h0m-2-11h0m0 44h0m-1-9h0m-3-17h0m-1 7h0m-1-26h0m-5 26h0m0-9h0m-1 23h0m-2-38h0m0 35h0m-1-35h0m-1 0h0m-2 24h0m-2 15h0m-1-17h0m-5-26h0m0 0h0m-2 40h0m-2-35h0m-5 0h0m-2 3h0m0 38h0m-1-12h0m-8-14h0m-15 22h0m-19-13h0m-7 7h0m-6 3h0m-2-28h0m-2-19h0m-16 61h0m11-2h0m30 43h0m3-20h0m0-22h0m7 25h0m1-14h0m1 0h0m5 29h0m0 16h0m4-56h0m6 8h0m3 36h0m14 11h0m0-34h0m2 34h0m1-19h0m0-32h0m1 0h0m3 5h0m1 29h0m2-7h0m1-32h0m1 56h0m1-56h0m2 59h0m4-25h0m2-3h0m1-19h0m4-6h0m3 50h0m4-39h0m1-9h0m13 7h0m1 9h0m2 7h0m4 13h0m0-42h0m1 31h0m1 22h0m1-44h0m3-1h0m1 34h0m2-22h0m4 5h0m3-14h0m1 45h0m1-40h0m1 22h0m2-15h0m0-2h0m1 24h0m0-42h0m3-5h0m7 6h0m0-4h0m5 7h0m5 4h0m1 15h0m0-15h0m1 2h0m6-14h0m0 30h0m1-22h0m3 18h0m1 0h0m0-16h0m0 38h0m1-5h0m6-20h0m5-11h0m2-3h0m3 14h0m3-20h0m11 28h0m9-3h0m29-9h0m4-9h0m-65 90h0m-24-20h0m-3 11h0m-3 7h0m-9-30h0m-3 10h0m0 7h0m-11-9h0m-8-7h0m-10 15h0m-1-15h0m-4 5h0m-1 42h0m-3-19h0m-29-17h0m-5 15h0m0 7h0m-37-10h0m-5-18h0m-2 31h0m-6-32h0m-36-10h0m98 91h0m11 5h0m-9 56h0" stroke="#ff0000" stroke-width="11.0" stroke-linecap="round" stroke-opacity="0.55" fill="none"/>
<path transform="scale(.1)" d="M3065 2635h0m-12-5h0m-2-16h0m0-10h0m-16 27h0m-2 0h0m-1-17h0m-8 17h0m-14 2h0m-1-13h0m-2-28h0m-14 26h0m-1 15h0m-21-3h0m-14-5h0m-4 5h0m-1 24h0m8-5h0m4 34h0m9-30h0m1 0h0m4-4h0m3 22h0m11 4h0m3-22h0m1 12h0m1-10h0m12 43h0m3-36h0m3-8h0m1 44h0m9-14h0m5 15h0m4-55h0m0 20h0m4-17h0m2 17h0m2-10h0m3-1h0m6 18h0m1-27h0m1 0h0m4 41h0m7 0h0m1-22h0m7-22h0m1 18h0m13-11h0m9 31h0m-7 32h0m-44-3h0m-6-8h0m-43 27h0m-18-27h0m-36 2h0" stroke="#208040" stroke-width="11.0" stroke-linecap="round" stroke-opacity="0.35" fill="none"/>
<path transform="scale(.1)" d="M3071 2634h0m-35 3h0m-22 2h0m-31-18h0m-7 10h0m-14 4h0m-4-24h0m-31 17h0m37 71h0m10-6h0m5-28h0m2 20h0m1-26h0m5 24h0m1-37h0m0 43h0m1-33h0m1 25h0m3-25h0m15 3h0m1-2h0m1 10h0m6 12h0m1-8h0m3-15h0m4 5h0m2-1h0m3 10h0m4-19h0m2 46h0m5-39h0m2 22h0m3 7h0m9-1h0m6-18h0m12-3h0m3-10h0m5 4h0m13 45h0m-46 3h0m-20 1h0m-41-5h0" stroke="#208040" stroke-width="11.0" stroke-linecap="round" stroke-opacity="0.35" fill="none"/>
<path transform="scale(.1)" d="M2982 2575h0m65 1h0m35 53h0m-10-7h0m-5 0h0m-8 14h0m-2-50h0m-7 29h0m-23 3h0m-7 16h0m-29-18h0m-22 23h0m-4-4h0m-55 54h0m39-20h0m4-1h0m11 4h0m2-11h0m3 30h0m8-36h0m5-7h0m1 0h0m0 20h0m1 15h0m7-12h0m4-23h0m2 27h0m6 18h0m0-36h0m9 9h0m4 0h0m3-3h0m5 5h0m0-17h0m4 38h0m1-22h0m2 19h0m8-40h0m4 40h0m2-19h0m5 7h0m9 0h0m7 1h0m1-17h0m32 11h0m4-17h0m6 31h0m-66 39h0m-16 2h0m-24-18h0m-4 11h0m-23 1h0m0-10h0" stroke="#208040" stroke-width="11.0" stroke-linecap="round" stroke-opacity="0.35" fill="none"/>
</svg>
</body></html>
